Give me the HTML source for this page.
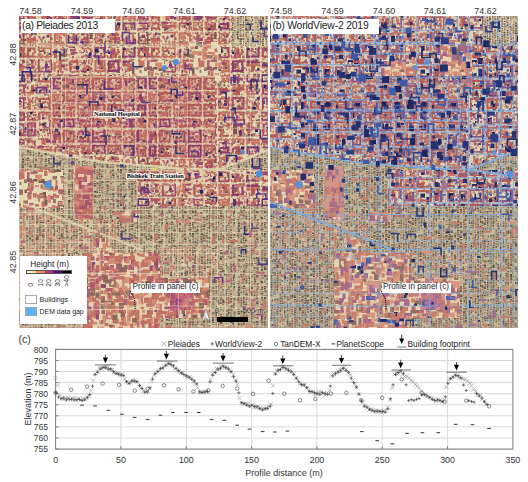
<!DOCTYPE html>
<html><head><meta charset="utf-8"><style>
html,body{margin:0;padding:0;background:#fff;}
body{width:528px;height:482px;position:relative;overflow:hidden;font-family:'Liberation Sans', sans-serif;}
</style></head><body>
<svg width="528" height="20" style="position:absolute;left:0;top:0"><g font-family="'Liberation Sans', sans-serif" font-size="9" fill="#333" text-anchor="middle">
<text x="30.5" y="13.8">74.58</text>
<text x="281.0" y="13.8">74.58</text>
<text x="82" y="13.8">74.59</text>
<text x="332.5" y="13.8">74.59</text>
<text x="133.5" y="13.8">74.60</text>
<text x="384.0" y="13.8">74.60</text>
<text x="184.5" y="13.8">74.61</text>
<text x="435.0" y="13.8">74.61</text>
<text x="235" y="13.8">74.62</text>
<text x="485.5" y="13.8">74.62</text>
</g></svg>
<svg width="20" height="330" style="position:absolute;left:0;top:0"><g font-family="'Liberation Sans', sans-serif" font-size="9" fill="#333" text-anchor="middle">
<text transform="translate(16.3,54.5) rotate(-90)">42.88</text>
<text transform="translate(16.3,124) rotate(-90)">42.87</text>
<text transform="translate(16.3,192.5) rotate(-90)">42.86</text>
<text transform="translate(16.3,262) rotate(-90)">42.85</text>
</g></svg>
<div style="position:absolute;left:19px;top:16px;width:248.5px;height:311.5px;background:#c9a38f;overflow:hidden"><svg width="248.5" height="311.5" style="display:block"><defs><pattern id="aU" width="124" height="124" patternUnits="userSpaceOnUse" x="7" y="5"><rect width="124" height="124" fill="#decdac"/><path transform="scale(.5)" fill="#b9625a" d="M-3 1h5v4h-5zM245 1h5v4h-5zM3 -1h4v4h-4zM3 247h4v4h-4zM16 -2h6v5h-6zM16 246h6v5h-6zM29 -1h5v4h-5zM29 247h5v4h-5zM42 1h4v3h-4zM62 -1h4v5h-4zM62 247h4v5h-4zM72 -2h5v4h-5zM72 246h5v4h-5zM96 -2h5v3h-5zM96 246h5v3h-5zM104 -2h3v4h-3zM104 246h3v4h-3zM110 0h4v4h-4zM121 3h3v3h-3zM123 2h5v4h-5zM160 -1h5v4h-5zM160 247h5v4h-5zM187 3h3v5h-3zM237 -2h3v5h-3zM237 246h3v5h-3zM25 6h4v3h-4zM46 4h4v3h-4zM51 7h4v5h-4zM90 7h3v4h-3zM102 6h4v4h-4zM157 7h4v4h-4zM194 6h3v4h-3zM87 13h5v5h-5zM97 10h5v5h-5zM119 11h3v3h-3zM135 12h3v5h-3zM174 12h3v5h-3zM184 8h3v5h-3zM-5 9h5v3h-5zM243 9h5v3h-5zM41 17h4v4h-4zM82 16h6v4h-6zM91 14h4v3h-4zM202 16h6v5h-6zM222 15h5v6h-5zM234 18h5v5h-5zM239 14h4v5h-4zM31 20h5v5h-5zM68 22h4v5h-4zM73 24h4v3h-4zM84 22h3v4h-3zM93 21h3v3h-3zM136 19h4v5h-4zM176 23h4v4h-4zM180 23h3v3h-3zM-1 26h3v3h-3zM247 26h3v3h-3zM7 28h5v3h-5zM74 27h5v4h-5zM77 26h4v3h-4zM94 26h3v4h-3zM142 26h3v3h-3zM190 28h4v5h-4zM240 26h4v5h-4zM242 25h5v3h-5zM14 31h5v3h-5zM24 30h5v5h-5zM61 32h3v5h-3zM85 31h5v4h-5zM105 30h4v4h-4zM116 33h5v4h-5zM124 33h5v3h-5zM151 31h4v3h-4zM183 34h3v4h-3zM189 29h5v5h-5zM198 31h3v3h-3zM201 32h3v3h-3zM213 31h4v4h-4zM225 33h3v5h-3zM7 39h4v3h-4zM16 36h4v4h-4zM19 37h5v5h-5zM28 35h3v4h-3zM99 34h3v5h-3zM117 34h4v4h-4zM151 39h3v5h-3zM2 40h4v4h-4zM13 43h3v4h-3zM17 43h3v5h-3zM44 40h4v5h-4zM92 41h5v5h-5zM120 45h5v3h-5zM132 40h4v3h-4zM139 41h4v5h-4zM226 44h3v5h-3zM11 47h4v4h-4zM39 48h3v4h-3zM53 49h3v3h-3zM57 47h5v3h-5zM67 48h4v3h-4zM72 48h3v5h-3zM77 46h4v5h-4zM87 49h6v5h-6zM106 48h5v5h-5zM178 49h4v5h-4zM188 47h3v3h-3zM204 47h5v5h-5zM227 50h3v3h-3zM30 49h3v5h-3zM73 52h3v3h-3zM81 54h3v4h-3zM84 50h3v4h-3zM90 49h5v5h-5zM122 52h4v4h-4zM221 52h3v5h-3zM231 50h5v3h-5zM2 59h5v4h-5zM16 59h4v6h-4zM23 55h3v5h-3zM31 58h5v3h-5zM143 59h4v5h-4zM153 55h3v5h-3zM172 60h5v3h-5zM183 60h5v4h-5zM203 56h5v3h-5zM12 63h4v5h-4zM120 60h3v4h-3zM160 61h3v3h-3zM177 64h3v4h-3zM180 63h5v5h-5zM211 65h4v3h-4zM241 62h3v4h-3zM243 63h3v5h-3zM25 68h4v5h-4zM40 67h5v5h-5zM84 67h3v4h-3zM115 68h4v3h-4zM128 69h4v3h-4zM147 68h5v5h-5zM154 69h3v5h-3zM159 68h5v4h-5zM192 66h4v4h-4zM205 66h4v5h-4zM221 68h6v3h-6zM6 73h3v3h-3zM19 70h5v5h-5zM40 73h6v3h-6zM48 74h3v6h-3zM60 74h3v3h-3zM66 71h5v4h-5zM110 71h5v4h-5zM120 73h3v4h-3zM140 74h4v3h-4zM145 75h5v5h-5zM151 71h4v5h-4zM162 70h3v5h-3zM209 73h3v5h-3zM225 74h4v4h-4zM43 79h5v3h-5zM65 76h3v6h-3zM68 77h5v5h-5zM75 77h3v4h-3zM95 79h5v5h-5zM99 77h5v5h-5zM119 78h3v5h-3zM149 79h5v5h-5zM156 80h3v3h-3zM170 78h5v4h-5zM177 76h5v4h-5zM187 79h5v4h-5zM195 79h3v3h-3zM204 78h3v5h-3zM221 79h4v5h-4zM55 82h4v6h-4zM111 82h5v5h-5zM124 80h3v6h-3zM193 83h4v6h-4zM212 83h4v5h-4zM240 81h3v5h-3zM3 90h5v4h-5zM36 90h4v4h-4zM55 88h4v5h-4zM97 89h3v3h-3zM146 89h4v3h-4zM150 88h3v3h-3zM184 91h4v4h-4zM211 87h3v3h-3zM-3 90h4v4h-4zM245 90h4v4h-4zM7 96h3v3h-3zM18 95h5v3h-5zM21 92h3v3h-3zM43 96h4v4h-4zM56 93h4v3h-4zM87 93h5v4h-5zM121 95h4v5h-4zM168 93h4v4h-4zM46 100h4v5h-4zM97 99h4v4h-4zM107 97h4v4h-4zM133 98h4v4h-4zM150 97h4v5h-4zM170 98h4v4h-4zM178 97h5v4h-5zM198 99h5v3h-5zM210 98h5v3h-5zM224 101h4v3h-4zM229 98h4v4h-4zM237 100h4v5h-4zM18 105h5v5h-5zM26 105h4v5h-4zM46 102h4v6h-4zM52 105h5v3h-5zM71 104h4v4h-4zM130 104h3v4h-3zM142 101h5v5h-5zM148 103h3v5h-3zM157 104h5v4h-5zM185 106h3v3h-3zM217 106h3v3h-3zM224 105h4v5h-4zM1 110h5v4h-5zM6 107h5v4h-5zM19 107h4v4h-4zM83 110h4v5h-4zM178 112h4v4h-4zM206 107h5v5h-5zM229 111h5v4h-5zM37 117h4v4h-4zM55 112h5v5h-5zM67 112h4v4h-4zM74 113h4v5h-4zM114 112h4v3h-4zM146 113h3v6h-3zM164 115h4v4h-4zM190 113h6v3h-6zM209 115h3v5h-3zM20 119h3v6h-3zM94 118h3v4h-3zM175 121h4v3h-4zM234 121h5v5h-5zM27 123h4v5h-4zM67 122h3v5h-3zM79 125h5v4h-5zM96 122h4v5h-4zM115 122h5v5h-5zM131 123h3v4h-3zM169 125h4v4h-4zM183 127h5v4h-5zM201 125h5v5h-5zM209 127h5v3h-5zM10 129h5v5h-5zM15 132h5v4h-5zM21 128h4v4h-4zM55 131h5v3h-5zM61 129h4v4h-4zM89 130h4v4h-4zM92 127h6v5h-6zM99 129h4v3h-4zM155 127h4v5h-4zM167 129h4v5h-4zM172 132h3v4h-3zM48 134h5v3h-5zM84 135h5v3h-5zM121 137h6v3h-6zM173 136h3v5h-3zM192 134h4v4h-4zM225 134h3v5h-3zM234 137h3v5h-3zM237 137h4v4h-4zM242 136h4v3h-4zM11 139h4v4h-4zM58 141h6v3h-6zM87 142h3v4h-3zM95 138h6v3h-6zM203 139h5v4h-5zM209 141h5v4h-5zM216 138h4v4h-4zM224 141h5v5h-5zM238 142h4v4h-4zM2 147h5v4h-5zM27 143h4v3h-4zM31 143h3v3h-3zM42 146h4v3h-4zM119 145h4v3h-4zM150 144h3v3h-3zM176 145h3v4h-3zM244 146h4v4h-4zM44 149h3v5h-3zM49 152h4v3h-4zM67 148h4v5h-4zM78 151h5v5h-5zM93 153h4v3h-4zM144 150h5v5h-5zM156 151h4v6h-4zM198 150h5v4h-5zM217 149h3v5h-3zM229 149h4v5h-4zM243 152h5v5h-5zM11 157h3v5h-3zM18 155h5v4h-5zM20 154h4v5h-4zM32 153h5v4h-5zM74 157h4v3h-4zM115 154h5v5h-5zM126 155h5v3h-5zM134 155h5v4h-5zM152 157h4v6h-4zM169 153h3v5h-3zM177 156h4v4h-4zM180 156h3v3h-3zM199 157h4v4h-4zM-3 155h5v4h-5zM245 155h5v4h-5zM17 159h3v5h-3zM21 163h4v3h-4zM27 161h3v4h-3zM41 161h4v4h-4zM47 162h4v4h-4zM64 160h4v4h-4zM67 158h3v5h-3zM72 159h4v3h-4zM83 161h4v3h-4zM108 163h4v4h-4zM142 163h3v4h-3zM150 161h5v3h-5zM165 161h3v4h-3zM224 160h6v5h-6zM-2 162h4v3h-4zM246 162h4v3h-4zM13 168h4v3h-4zM43 164h3v5h-3zM51 164h3v3h-3zM96 168h5v3h-5zM106 165h6v3h-6zM140 165h5v4h-5zM146 166h5v4h-5zM149 165h3v5h-3zM186 165h4v3h-4zM204 164h4v3h-4zM0 170h5v5h-5zM248 170h5v5h-5zM5 168h3v5h-3zM16 172h4v4h-4zM52 170h4v4h-4zM57 170h3v5h-3zM87 174h4v3h-4zM108 173h5v3h-5zM121 169h4v5h-4zM154 172h4v4h-4zM205 169h4v4h-4zM232 171h5v3h-5zM13 177h3v4h-3zM20 173h5v5h-5zM76 176h5v3h-5zM87 177h3v4h-3zM100 174h5v5h-5zM126 175h3v5h-3zM164 177h4v5h-4zM204 174h3v5h-3zM217 174h5v5h-5zM222 176h5v4h-5zM235 177h3v4h-3zM40 183h5v5h-5zM55 182h3v4h-3zM56 181h4v4h-4zM158 180h3v5h-3zM166 180h5v4h-5zM193 179h5v4h-5zM195 181h5v4h-5zM209 181h5v4h-5zM230 183h5v3h-5zM32 186h4v5h-4zM45 188h4v5h-4zM129 187h5v6h-5zM154 186h3v5h-3zM217 188h5v5h-5zM3 193h3v5h-3zM11 193h5v4h-5zM21 189h6v5h-6zM32 192h5v3h-5zM38 194h4v3h-4zM49 191h3v3h-3zM115 192h3v3h-3zM121 190h5v5h-5zM178 192h5v3h-5zM204 191h4v3h-4zM225 189h5v4h-5zM233 193h3v3h-3zM239 194h3v3h-3zM-2 190h4v4h-4zM246 190h4v4h-4zM12 199h4v3h-4zM15 199h5v5h-5zM45 199h3v4h-3zM64 196h4v4h-4zM69 195h3v4h-3zM113 198h3v3h-3zM124 199h5v5h-5zM143 196h5v5h-5zM165 196h4v6h-4zM175 196h4v6h-4zM233 195h5v5h-5zM58 203h3v3h-3zM63 204h3v3h-3zM67 201h6v3h-6zM80 203h3v5h-3zM81 205h4v4h-4zM95 202h5v5h-5zM97 201h3v3h-3zM102 201h3v4h-3zM110 204h3v3h-3zM151 201h3v3h-3zM200 202h5v4h-5zM231 202h4v4h-4zM235 204h5v3h-5zM7 207h5v4h-5zM10 208h4v5h-4zM13 208h5v4h-5zM151 207h4v5h-4zM156 207h5v3h-5zM160 206h4v3h-4zM167 204h4v6h-4zM9 211h4v5h-4zM35 212h4v5h-4zM42 214h3v3h-3zM48 209h3v5h-3zM67 215h4v3h-4zM93 211h5v3h-5zM175 213h3v4h-3zM184 213h3v5h-3zM202 211h5v4h-5zM204 212h5v4h-5zM8 215h4v5h-4zM36 216h4v4h-4zM85 219h3v4h-3zM101 215h4v5h-4zM119 215h3v6h-3zM123 217h4v3h-4zM135 217h5v3h-5zM185 218h3v6h-3zM197 216h5v4h-5zM210 215h4v4h-4zM223 217h3v4h-3zM57 222h3v4h-3zM112 224h5v5h-5zM140 224h5v5h-5zM153 225h3v4h-3zM178 224h3v4h-3zM236 223h3v4h-3zM4 228h4v4h-4zM18 225h5v5h-5zM23 229h4v3h-4zM29 229h5v5h-5zM48 226h3v3h-3zM54 229h3v5h-3zM104 227h4v3h-4zM110 226h3v4h-3zM155 227h3v4h-3zM175 229h5v4h-5zM207 227h3v4h-3zM217 228h4v3h-4zM223 229h3v5h-3zM24 234h3v4h-3zM37 233h4v5h-4zM41 233h4v4h-4zM62 230h3v4h-3zM111 235h5v5h-5zM122 233h4v3h-4zM137 235h6v3h-6zM140 234h4v4h-4zM192 233h5v3h-5zM221 234h3v5h-3zM40 237h5v4h-5zM72 240h4v5h-4zM77 241h5v3h-5zM96 236h3v6h-3zM155 238h4v3h-4zM184 240h3v4h-3zM0 -3h5v3h-5zM0 245h5v3h-5zM248 -3h5v3h-5zM248 245h5v3h-5zM36 244h3v4h-3zM73 241h5v5h-5zM97 241h3v4h-3zM180 244h4v3h-4zM184 -4h5v4h-5zM184 244h5v4h-5zM193 242h3v5h-3zM204 -5h5v5h-5zM204 243h5v5h-5zM226 -2h5v4h-5zM226 246h5v4h-5z"/><path transform="scale(.5)" fill="#694b48" d="M10 1h3v3h-3zM22 2h5v4h-5zM193 -1h5v4h-5zM193 247h5v4h-5zM208 -1h3v3h-3zM208 247h3v3h-3zM137 7h4v5h-4zM24 10h4v4h-4zM53 13h4v3h-4zM82 11h3v5h-3zM127 9h3v5h-3zM141 11h3v3h-3zM28 16h4v5h-4zM100 17h3v3h-3zM103 18h3v4h-3zM140 16h4v4h-4zM129 22h4v4h-4zM93 31h5v4h-5zM166 39h4v4h-4zM-4 36h5v4h-5zM244 36h5v4h-5zM101 44h4v5h-4zM157 40h5v3h-5zM183 42h3v5h-3zM18 49h5v3h-5zM80 48h5v4h-5zM118 45h5v4h-5zM191 47h4v5h-4zM24 50h3v4h-3zM93 50h5v4h-5zM28 59h5v3h-5zM79 58h3v5h-3zM162 55h4v5h-4zM36 61h3v5h-3zM-2 68h4v5h-4zM246 68h4v5h-4zM118 67h4v3h-4zM115 78h3v5h-3zM10 82h5v3h-5zM85 83h3v4h-3zM226 82h5v5h-5zM44 90h3v4h-3zM74 89h4v4h-4zM121 89h5v5h-5zM63 98h3v5h-3zM183 99h5v5h-5zM66 107h5v3h-5zM48 108h3v5h-3zM59 109h4v5h-4zM19 115h4v5h-4zM87 112h3v4h-3zM159 115h4v4h-4zM238 112h3v5h-3zM29 118h3v3h-3zM127 117h4v4h-4zM154 122h4v3h-4zM185 121h5v4h-5zM219 117h4v4h-4zM19 125h5v5h-5zM87 124h5v3h-5zM165 125h5v3h-5zM214 126h3v3h-3zM221 123h3v4h-3zM-2 124h4v5h-4zM246 124h4v5h-4zM37 129h3v4h-3zM122 130h4v5h-4zM131 128h4v5h-4zM33 134h3v4h-3zM73 142h4v4h-4zM107 141h3v3h-3zM83 144h4v5h-4zM171 147h4v5h-4zM205 144h5v3h-5zM100 150h5v5h-5zM106 149h3v4h-3zM25 156h5v6h-5zM53 158h3v4h-3zM121 161h3v5h-3zM155 159h3v3h-3zM173 158h5v5h-5zM232 159h5v3h-5zM2 165h4v3h-4zM159 166h4v5h-4zM98 172h3v5h-3zM105 174h5v4h-5zM117 173h5v5h-5zM221 180h3v5h-3zM24 184h3v4h-3zM56 185h4v5h-4zM135 185h3v3h-3zM148 187h4v5h-4zM179 185h5v4h-5zM185 185h4v4h-4zM54 191h4v5h-4zM222 194h4v3h-4zM102 198h4v4h-4zM9 202h4v3h-4zM46 200h4v5h-4zM126 203h4v4h-4zM197 202h3v4h-3zM123 206h3v5h-3zM119 211h3v4h-3zM136 214h5v5h-5zM139 215h5v3h-5zM28 216h4v4h-4zM41 217h3v4h-3zM146 221h3v4h-3zM187 224h4v5h-4zM219 223h3v4h-3zM122 229h3v5h-3zM7 232h3v3h-3zM97 239h3v4h-3zM133 237h4v5h-4zM151 239h3v5h-3zM194 239h3v5h-3zM55 -5h4v5h-4zM55 243h4v5h-4zM95 242h5v3h-5z"/><path transform="scale(.5)" fill="#ac556e" d="M25 0h5v5h-5zM38 2h4v4h-4zM50 2h4v3h-4zM69 2h5v5h-5zM114 -2h3v5h-3zM114 246h3v5h-3zM146 -1h5v5h-5zM146 247h5v5h-5zM153 2h6v5h-6zM3 8h3v3h-3zM116 4h3v4h-3zM119 7h5v3h-5zM177 7h5v5h-5zM232 7h3v5h-3zM1 11h3v4h-3zM16 13h4v5h-4zM24 10h3v4h-3zM57 8h4v5h-4zM71 13h4v4h-4zM177 9h4v3h-4zM203 11h3v4h-3zM19 16h3v5h-3zM69 19h5v3h-5zM89 17h5v3h-5zM181 16h3v4h-3zM210 15h3v3h-3zM0 23h3v4h-3zM44 22h4v3h-4zM48 20h3v4h-3zM52 19h5v5h-5zM118 22h3v3h-3zM208 24h5v3h-5zM82 28h4v3h-4zM114 25h5v3h-5zM132 27h3v3h-3zM232 27h5v4h-5zM141 31h3v4h-3zM162 29h5v4h-5zM163 30h4v5h-4zM82 35h4v5h-4zM93 39h4v4h-4zM177 36h5v3h-5zM182 39h5v4h-5zM195 39h4v3h-4zM204 38h6v3h-6zM206 38h3v5h-3zM8 39h3v6h-3zM21 45h3v3h-3zM59 40h4v4h-4zM69 41h4v4h-4zM111 40h4v3h-4zM117 43h3v4h-3zM194 44h4v3h-4zM204 39h5v6h-5zM217 41h5v4h-5zM242 44h4v6h-4zM5 48h5v5h-5zM126 47h5v5h-5zM135 49h4v4h-4zM234 46h3v5h-3zM239 45h3v3h-3zM-5 45h5v4h-5zM243 45h5v4h-5zM35 50h3v3h-3zM111 50h4v4h-4zM193 53h5v4h-5zM202 54h4v4h-4zM35 59h4v4h-4zM57 59h5v4h-5zM95 58h3v5h-3zM120 58h4v5h-4zM214 56h3v3h-3zM53 63h4v5h-4zM55 60h4v5h-4zM113 60h3v4h-3zM192 61h3v4h-3zM10 69h4v3h-4zM91 70h5v4h-5zM124 67h3v5h-3zM137 67h3v3h-3zM143 70h3v4h-3zM228 70h3v5h-3zM243 69h3v6h-3zM3 73h4v4h-4zM28 72h5v3h-5zM228 72h4v3h-4zM241 72h3v5h-3zM22 80h4v3h-4zM78 76h4v5h-4zM131 78h5v5h-5zM241 79h5v5h-5zM3 86h3v3h-3zM49 84h5v5h-5zM88 86h5v3h-5zM93 82h3v3h-3zM106 81h4v3h-4zM116 82h4v5h-4zM129 84h3v5h-3zM161 84h3v5h-3zM196 81h4v5h-4zM0 87h3v4h-3zM69 90h4v5h-4zM84 86h4v3h-4zM107 86h3v5h-3zM124 90h5v5h-5zM142 91h3v4h-3zM167 90h5v3h-5zM204 89h5v3h-5zM2 95h3v3h-3zM75 94h5v3h-5zM77 94h5v4h-5zM146 93h3v4h-3zM186 92h6v5h-6zM191 95h3v5h-3zM2 100h3v5h-3zM25 97h4v4h-4zM70 100h5v5h-5zM93 100h4v5h-4zM103 98h5v5h-5zM131 96h5v5h-5zM161 98h4v6h-4zM201 97h4v5h-4zM220 98h3v3h-3zM0 102h6v6h-6zM248 102h6v6h-6zM34 104h4v4h-4zM35 103h3v3h-3zM63 102h3v5h-3zM83 106h6v4h-6zM161 104h6v4h-6zM-3 101h5v5h-5zM245 101h5v5h-5zM35 111h4v4h-4zM63 110h5v4h-5zM77 106h4v6h-4zM91 107h5v3h-5zM110 110h4v3h-4zM157 108h3v5h-3zM216 109h4v5h-4zM40 113h3v4h-3zM47 115h4v3h-4zM61 115h3v5h-3zM81 113h5v4h-5zM2 119h5v5h-5zM40 118h3v5h-3zM47 122h4v4h-4zM55 118h5v4h-5zM140 119h5v5h-5zM149 118h3v4h-3zM162 118h3v3h-3zM196 120h3v3h-3zM222 120h4v3h-4zM1 123h5v3h-5zM58 127h4v3h-4zM111 123h5v4h-5zM124 126h5v3h-5zM141 123h3v4h-3zM160 126h5v4h-5zM197 123h5v4h-5zM42 129h5v3h-5zM108 131h4v4h-4zM125 130h5v3h-5zM180 131h3v3h-3zM227 129h5v3h-5zM-4 129h5v5h-5zM244 129h5v5h-5zM52 134h5v5h-5zM95 134h4v3h-4zM145 137h3v5h-3zM158 136h4v5h-4zM159 137h3v3h-3zM168 138h5v3h-5zM186 135h4v4h-4zM198 132h3v5h-3zM207 135h5v4h-5zM210 136h5v4h-5zM33 141h5v5h-5zM133 140h4v3h-4zM145 141h5v5h-5zM196 140h3v3h-3zM-5 142h5v3h-5zM243 142h5v3h-5zM22 143h4v4h-4zM88 146h3v3h-3zM138 144h5v5h-5zM201 143h3v6h-3zM228 144h6v4h-6zM12 152h3v5h-3zM163 148h4v5h-4zM193 149h6v3h-6zM221 147h5v5h-5zM45 157h4v3h-4zM57 157h5v3h-5zM94 154h5v5h-5zM120 155h5v4h-5zM130 154h5v3h-5zM187 157h3v5h-3zM193 156h4v5h-4zM34 162h3v3h-3zM86 159h5v5h-5zM189 163h4v3h-4zM203 161h3v4h-3zM4 164h3v4h-3zM29 165h5v4h-5zM123 165h3v3h-3zM207 168h3v4h-3zM212 167h5v5h-5zM232 163h5v5h-5zM37 170h4v3h-4zM128 172h4v5h-4zM189 174h4v3h-4zM214 173h4v4h-4zM224 170h3v4h-3zM34 177h5v3h-5zM70 175h5v4h-5zM190 177h3v4h-3zM213 179h3v4h-3zM12 180h3v3h-3zM32 179h5v5h-5zM49 180h3v5h-3zM79 180h4v5h-4zM88 181h3v3h-3zM110 179h4v5h-4zM139 182h5v5h-5zM145 179h4v5h-4zM188 182h5v4h-5zM14 186h3v4h-3zM50 184h5v5h-5zM87 188h3v3h-3zM107 184h4v5h-4zM222 187h4v5h-4zM83 192h5v3h-5zM99 193h3v3h-3zM146 195h5v3h-5zM158 191h4v3h-4zM168 195h3v3h-3zM172 193h4v3h-4zM45 197h3v3h-3zM152 196h5v3h-5zM230 199h5v4h-5zM237 198h3v4h-3zM26 200h3v4h-3zM112 204h4v4h-4zM118 203h4v4h-4zM131 203h4v5h-4zM134 200h3v4h-3zM162 201h3v5h-3zM216 202h5v5h-5zM26 205h4v5h-4zM117 209h4v4h-4zM118 208h4v4h-4zM0 212h4v3h-4zM17 211h4v5h-4zM49 211h5v5h-5zM113 213h4v5h-4zM155 211h5v5h-5zM217 215h5v3h-5zM232 212h5v3h-5zM18 218h5v4h-5zM74 217h5v3h-5zM127 216h4v4h-4zM201 216h3v3h-3zM-3 215h3v4h-3zM245 215h3v4h-3zM42 224h4v4h-4zM119 223h4v5h-4zM182 224h3v5h-3zM224 221h4v4h-4zM-4 220h5v4h-5zM244 220h5v4h-5zM56 227h5v4h-5zM69 228h5v4h-5zM160 227h5v4h-5zM184 229h5v3h-5zM242 226h6v5h-6zM30 232h3v3h-3zM59 235h4v3h-4zM75 233h4v5h-4zM83 231h4v5h-4zM226 232h5v6h-5zM49 240h5v5h-5zM57 236h4v5h-4zM84 237h3v5h-3zM89 236h4v5h-4zM104 239h4v3h-4zM115 238h4v5h-4zM177 238h3v3h-3zM224 238h5v5h-5zM228 239h4v4h-4zM64 241h3v5h-3zM77 243h3v4h-3zM162 -5h4v5h-4zM162 243h4v5h-4zM166 243h4v3h-4z"/><path transform="scale(.5)" fill="#e4d7b4" d="M58 2h3v4h-3zM141 -2h3v6h-3zM141 246h3v6h-3zM149 2h3v5h-3zM167 0h4v4h-4zM167 248h4v4h-4zM182 3h5v4h-5zM195 -1h5v4h-5zM195 247h5v4h-5zM232 3h3v3h-3zM11 4h3v5h-3zM34 5h5v5h-5zM36 4h4v5h-4zM123 5h4v5h-4zM131 3h3v4h-3zM141 6h4v5h-4zM221 6h5v5h-5zM10 8h3v4h-3zM69 12h3v3h-3zM194 12h4v4h-4zM213 10h6v3h-6zM226 13h4v4h-4zM51 14h6v4h-6zM108 18h4v5h-4zM132 15h5v5h-5zM219 18h3v4h-3zM20 18h6v5h-6zM56 22h5v5h-5zM79 19h3v5h-3zM161 23h4v3h-4zM187 20h3v6h-3zM221 23h6v3h-6zM242 21h4v4h-4zM25 23h5v6h-5zM30 24h5v5h-5zM37 26h4v5h-4zM136 28h5v4h-5zM158 25h5v4h-5zM172 24h4v4h-4zM200 25h3v4h-3zM209 26h5v4h-5zM224 28h5v4h-5zM228 25h4v3h-4zM3 33h5v3h-5zM12 33h3v3h-3zM21 32h4v5h-4zM42 32h5v4h-5zM71 30h5v3h-5zM111 30h4v5h-4zM133 32h3v5h-3zM175 29h4v4h-4zM187 31h3v5h-3zM219 33h3v3h-3zM231 31h5v3h-5zM242 30h4v4h-4zM48 34h3v4h-3zM50 36h5v4h-5zM63 38h4v3h-4zM72 37h4v3h-4zM76 35h3v4h-3zM222 40h4v3h-4zM32 40h4v4h-4zM79 44h5v4h-5zM146 41h4v3h-4zM213 40h4v5h-4zM22 45h3v6h-3zM33 50h4v3h-4zM184 46h3v5h-3zM198 49h3v4h-3zM5 49h3v5h-3zM9 52h4v3h-4zM115 53h5v4h-5zM131 54h4v5h-4zM161 54h4v4h-4zM177 50h4v4h-4zM188 51h5v5h-5zM10 55h3v5h-3zM88 58h5v4h-5zM99 56h5v5h-5zM112 58h5v4h-5zM122 56h6v5h-6zM157 55h5v5h-5zM192 58h4v5h-4zM216 59h3v4h-3zM146 63h3v5h-3zM18 65h5v5h-5zM71 68h5v4h-5zM88 68h4v4h-4zM97 69h6v3h-6zM145 70h4v4h-4zM170 65h4v5h-4zM175 70h4v5h-4zM182 69h5v3h-5zM199 68h3v5h-3zM12 74h3v5h-3zM18 75h5v4h-5zM50 74h5v5h-5zM112 74h3v4h-3zM175 73h3v5h-3zM216 74h4v4h-4zM244 73h4v3h-4zM51 80h3v5h-3zM88 79h5v3h-5zM144 76h4v5h-4zM158 81h4v3h-4zM167 78h4v5h-4zM198 80h4v4h-4zM219 75h5v6h-5zM25 85h5v4h-5zM140 85h4v4h-4zM147 83h4v3h-4zM170 83h4v4h-4zM185 83h4v5h-4zM206 82h4v3h-4zM129 89h5v4h-5zM177 87h5v4h-5zM187 86h4v5h-4zM227 88h5v5h-5zM36 93h3v3h-3zM100 95h5v5h-5zM103 95h5v4h-5zM108 91h4v5h-4zM130 96h3v4h-3zM133 94h5v3h-5zM201 95h4v3h-4zM224 94h4v4h-4zM55 100h5v3h-5zM66 97h4v4h-4zM85 100h3v3h-3zM87 100h5v4h-5zM139 96h4v5h-4zM186 96h5v5h-5zM243 101h3v3h-3zM91 104h4v5h-4zM126 106h5v4h-5zM140 105h5v5h-5zM166 103h3v4h-3zM175 106h4v5h-4zM200 105h4v3h-4zM227 105h5v3h-5zM29 108h4v5h-4zM29 111h4v3h-4zM72 112h4v3h-4zM95 108h5v5h-5zM160 106h5v5h-5zM231 110h5v3h-5zM25 113h6v4h-6zM53 117h5v3h-5zM99 114h3v5h-3zM110 114h4v4h-4zM154 116h4v5h-4zM12 120h3v5h-3zM29 120h4v4h-4zM37 120h4v3h-4zM116 121h5v4h-5zM117 117h4v4h-4zM128 119h3v4h-3zM135 120h3v4h-3zM182 121h4v5h-4zM227 121h3v3h-3zM31 126h4v5h-4zM106 122h3v4h-3zM152 122h4v5h-4zM157 125h6v4h-6zM217 123h4v5h-4zM46 132h5v3h-5zM133 132h5v4h-5zM152 130h3v3h-3zM161 130h4v5h-4zM217 130h6v5h-6zM241 129h3v4h-3zM66 133h3v4h-3zM107 135h3v4h-3zM113 138h5v3h-5zM203 137h4v3h-4zM115 142h5v5h-5zM121 139h5v4h-5zM143 142h4v5h-4zM149 139h3v5h-3zM154 138h4v4h-4zM164 142h4v4h-4zM209 141h4v3h-4zM229 140h5v3h-5zM16 144h3v4h-3zM52 146h5v3h-5zM61 143h4v5h-4zM76 147h3v4h-3zM99 145h3v4h-3zM125 144h4v4h-4zM129 145h5v4h-5zM211 144h3v4h-3zM54 149h3v4h-3zM89 152h3v5h-3zM132 149h4v5h-4zM210 150h5v5h-5zM1 153h6v5h-6zM69 154h4v4h-4zM139 156h5v4h-5zM145 153h5v5h-5zM201 154h3v5h-3zM208 155h5v3h-5zM228 153h4v5h-4zM130 159h5v4h-5zM160 159h5v6h-5zM63 169h5v3h-5zM118 164h3v5h-3zM193 168h5v5h-5zM242 166h3v4h-3zM23 172h4v4h-4zM32 173h3v5h-3zM41 168h4v6h-4zM81 174h6v3h-6zM169 169h5v3h-5zM218 172h5v4h-5zM0 176h5v3h-5zM248 176h5v3h-5zM4 174h3v3h-3zM61 179h5v3h-5zM75 176h3v5h-3zM81 175h5v5h-5zM114 176h3v4h-3zM141 174h3v4h-3zM160 177h5v5h-5zM227 174h4v4h-4zM21 184h3v3h-3zM97 183h4v4h-4zM131 181h5v5h-5zM170 179h3v5h-3zM182 181h3v5h-3zM95 187h3v3h-3zM104 186h3v5h-3zM199 184h4v4h-4zM229 184h4v5h-4zM59 194h3v4h-3zM124 190h6v3h-6zM129 194h3v3h-3zM152 194h4v3h-4zM180 189h3v5h-3zM191 193h5v4h-5zM208 190h5v3h-5zM29 199h4v3h-4zM39 195h4v5h-4zM72 196h4v4h-4zM95 194h4v5h-4zM97 199h5v5h-5zM111 198h3v5h-3zM132 196h3v4h-3zM160 197h5v3h-5zM194 197h4v4h-4zM-4 194h6v5h-6zM244 194h6v5h-6zM13 203h5v4h-5zM43 202h3v5h-3zM73 204h3v3h-3zM158 201h3v3h-3zM171 201h3v4h-3zM207 200h3v4h-3zM36 206h3v4h-3zM60 205h4v5h-4zM70 205h3v5h-3zM75 206h5v3h-5zM84 205h5v3h-5zM107 205h3v5h-3zM128 210h4v3h-4zM173 208h5v3h-5zM206 205h3v5h-3zM223 206h3v5h-3zM57 212h4v5h-4zM61 213h4v5h-4zM85 211h5v5h-5zM99 213h5v3h-5zM169 214h3v3h-3zM32 216h4v4h-4zM56 217h3v3h-3zM62 218h3v4h-3zM68 218h3v3h-3zM80 215h6v4h-6zM91 219h3v3h-3zM96 219h3v4h-3zM149 216h4v3h-4zM162 216h5v3h-5zM170 218h3v4h-3zM230 220h5v3h-5zM239 218h5v5h-5zM86 221h3v6h-3zM96 221h5v3h-5zM155 224h3v3h-3zM158 224h5v4h-5zM167 222h5v3h-5zM201 222h4v6h-4zM27 230h5v4h-5zM85 227h5v3h-5zM90 229h5v5h-5zM152 227h3v3h-3zM194 230h5v5h-5zM228 229h5v3h-5zM103 231h5v5h-5zM127 232h3v5h-3zM147 232h5v3h-5zM156 235h5v4h-5zM182 231h5v4h-5zM235 234h4v4h-4zM0 240h5v3h-5zM248 240h5v3h-5zM19 240h4v5h-4zM139 238h5v3h-5zM211 240h3v5h-3zM239 241h5v4h-5zM4 243h3v5h-3zM20 -3h3v3h-3zM20 245h3v3h-3zM25 -3h5v3h-5zM25 245h5v3h-5zM30 243h5v5h-5zM45 242h3v3h-3zM104 241h5v5h-5zM113 241h3v4h-3zM135 240h4v5h-4zM149 -2h6v3h-6zM149 246h6v3h-6zM174 243h4v3h-4zM174 241h3v5h-3zM195 -3h4v4h-4zM195 245h4v4h-4zM-3 241h5v6h-5zM245 241h5v6h-5z"/><path transform="scale(.5)" fill="#967a66" d="M78 0h4v4h-4zM78 248h4v4h-4zM83 -1h3v3h-3zM83 247h3v3h-3zM95 2h3v5h-3zM135 -1h5v4h-5zM135 247h5v4h-5zM216 -2h3v5h-3zM216 246h3v5h-3zM226 3h5v3h-5zM19 6h6v4h-6zM210 5h4v3h-4zM5 12h5v4h-5zM38 11h4v4h-4zM63 8h4v5h-4zM145 10h5v4h-5zM163 13h4v4h-4zM124 15h5v5h-5zM132 16h3v3h-3zM151 15h4v4h-4zM159 15h5v5h-5zM38 21h3v3h-3zM103 23h4v5h-4zM110 23h4v5h-4zM115 21h4v5h-4zM157 21h4v3h-4zM211 23h4v5h-4zM215 23h5v3h-5zM45 27h4v4h-4zM66 29h4v3h-4zM97 27h4v5h-4zM126 25h5v5h-5zM144 27h4v3h-4zM154 25h5v3h-5zM201 28h5v5h-5zM212 27h4v3h-4zM0 33h6v5h-6zM248 33h6v5h-6zM79 30h3v3h-3zM89 33h5v5h-5zM98 33h5v4h-5zM148 29h3v5h-3zM30 39h4v4h-4zM103 36h3v4h-3zM123 37h4v6h-4zM135 37h3v3h-3zM158 35h4v5h-4zM186 38h5v3h-5zM193 38h4v5h-4zM227 37h4v4h-4zM236 39h3v4h-3zM37 39h3v6h-3zM52 42h5v4h-5zM62 40h5v5h-5zM73 41h3v3h-3zM167 44h4v5h-4zM175 40h3v3h-3zM186 43h4v5h-4zM235 40h4v4h-4zM237 40h4v3h-4zM-1 45h5v4h-5zM247 45h5v4h-5zM44 49h4v3h-4zM47 48h5v4h-5zM101 46h3v3h-3zM172 47h6v3h-6zM211 46h3v3h-3zM14 54h4v5h-4zM68 55h5v3h-5zM126 54h3v4h-3zM135 55h5v3h-5zM164 50h4v4h-4zM182 50h3v4h-3zM241 52h5v3h-5zM72 56h5v4h-5zM106 60h5v4h-5zM136 59h5v3h-5zM140 57h3v3h-3zM168 56h4v5h-4zM206 60h4v3h-4zM232 55h5v5h-5zM241 55h5v5h-5zM26 64h4v4h-4zM42 62h3v3h-3zM67 63h5v5h-5zM90 62h3v4h-3zM98 62h5v3h-5zM109 62h4v3h-4zM128 59h4v5h-4zM154 60h4v5h-4zM170 63h3v5h-3zM22 66h5v3h-5zM66 66h4v3h-4zM184 69h6v5h-6zM205 66h4v5h-4zM81 74h5v5h-5zM127 72h5v5h-5zM195 71h5v6h-5zM0 79h5v6h-5zM248 79h5v6h-5zM7 76h5v4h-5zM38 79h4v5h-4zM82 76h4v3h-4zM140 76h4v4h-4zM5 85h5v4h-5zM100 80h3v5h-3zM148 83h5v6h-5zM174 81h4v5h-4zM14 90h4v5h-4zM154 89h5v3h-5zM163 92h3v3h-3zM196 86h3v3h-3zM25 92h4v6h-4zM31 92h5v4h-5zM95 91h5v5h-5zM158 95h4v4h-4zM197 95h3v4h-3zM215 93h3v5h-3zM215 95h4v3h-4zM236 94h3v5h-3zM10 99h3v4h-3zM15 98h5v6h-5zM20 100h5v6h-5zM43 99h3v5h-3zM146 99h4v4h-4zM231 97h5v3h-5zM44 105h5v4h-5zM89 101h5v4h-5zM133 104h4v5h-4zM173 103h4v5h-4zM180 102h5v3h-5zM197 103h4v5h-4zM213 103h4v5h-4zM239 103h5v3h-5zM12 111h3v5h-3zM68 107h5v3h-5zM102 107h5v5h-5zM130 108h3v4h-3zM225 106h5v4h-5zM239 109h5v5h-5zM241 111h4v5h-4zM32 113h5v5h-5zM78 117h3v3h-3zM125 112h5v5h-5zM135 113h4v5h-4zM173 115h3v5h-3zM198 112h3v3h-3zM202 113h5v3h-5zM223 117h3v3h-3zM-3 113h4v5h-4zM245 113h4v5h-4zM6 122h4v3h-4zM50 117h5v4h-5zM61 120h3v4h-3zM88 117h6v6h-6zM101 119h5v5h-5zM106 122h3v4h-3zM109 120h5v5h-5zM173 121h5v3h-5zM38 123h3v3h-3zM71 124h5v3h-5zM81 127h3v4h-3zM95 125h4v5h-4zM135 125h3v5h-3zM32 129h4v6h-4zM70 129h5v4h-5zM84 128h5v3h-5zM147 128h4v3h-4zM185 129h3v6h-3zM209 129h4v4h-4zM210 131h4v6h-4zM35 134h4v5h-4zM40 135h5v5h-5zM99 137h4v4h-4zM130 133h3v3h-3zM132 134h5v4h-5zM137 132h4v6h-4zM151 132h3v5h-3zM217 135h4v5h-4zM227 137h5v3h-5zM-2 141h4v4h-4zM246 141h4v4h-4zM6 142h5v5h-5zM42 141h4v3h-4zM64 137h3v5h-3zM129 140h5v3h-5zM45 147h3v4h-3zM68 145h5v4h-5zM110 144h5v4h-5zM133 145h5v4h-5zM163 147h3v4h-3zM182 146h3v3h-3zM117 153h4v4h-4zM121 150h4v5h-4zM142 150h4v3h-4zM180 150h5v4h-5zM205 149h4v5h-4zM6 158h3v3h-3zM77 154h5v3h-5zM99 154h5v3h-5zM157 158h5v3h-5zM210 156h4v4h-4zM225 155h4v4h-4zM232 156h4v4h-4zM12 160h3v5h-3zM35 160h5v4h-5zM134 163h4v4h-4zM190 159h3v3h-3zM216 164h4v3h-4zM18 165h5v5h-5zM22 166h5v5h-5zM26 164h3v3h-3zM80 164h5v3h-5zM84 169h5v3h-5zM157 164h5v4h-5zM174 168h4v4h-4zM182 164h5v5h-5zM124 170h3v3h-3zM144 169h3v4h-3zM226 171h3v3h-3zM-3 172h4v4h-4zM245 172h4v4h-4zM29 175h3v5h-3zM45 176h3v4h-3zM52 177h5v3h-5zM153 176h5v4h-5zM173 175h4v5h-4zM177 177h5v3h-5zM180 174h4v5h-4zM193 179h3v3h-3zM0 183h3v4h-3zM85 181h3v4h-3zM105 180h3v3h-3zM133 180h3v4h-3zM161 180h5v4h-5zM231 183h4v3h-4zM65 185h6v6h-6zM75 189h3v3h-3zM120 187h3v3h-3zM122 189h5v3h-5zM160 185h5v4h-5zM170 186h4v3h-4zM193 184h3v5h-3zM200 185h5v5h-5zM16 193h5v4h-5zM65 192h3v4h-3zM88 193h3v3h-3zM105 194h4v4h-4zM195 191h4v3h-4zM219 189h4v4h-4zM25 196h3v3h-3zM186 198h3v5h-3zM216 196h4v5h-4zM52 199h5v5h-5zM87 200h3v3h-3zM180 203h4v5h-4zM-3 202h3v3h-3zM245 202h3v3h-3zM112 210h3v3h-3zM141 205h4v3h-4zM145 207h5v4h-5zM191 207h4v4h-4zM202 207h3v3h-3zM227 208h3v4h-3zM233 205h5v4h-5zM104 215h3v4h-3zM144 211h3v3h-3zM153 215h3v3h-3zM188 213h3v4h-3zM190 213h4v3h-4zM196 215h3v4h-3zM215 211h5v4h-5zM228 213h3v4h-3zM238 214h3v5h-3zM-5 214h5v4h-5zM243 214h5v4h-5zM2 220h6v3h-6zM176 219h4v4h-4zM1 223h5v5h-5zM7 222h5v5h-5zM24 225h4v3h-4zM66 225h5v5h-5zM110 221h5v5h-5zM123 223h4v3h-4zM206 224h5v5h-5zM-1 226h5v4h-5zM247 226h5v4h-5zM79 228h5v4h-5zM123 228h4v4h-4zM132 226h4v5h-4zM141 231h5v3h-5zM145 229h3v4h-3zM191 228h4v4h-4zM10 232h3v3h-3zM67 232h4v3h-4zM91 230h4v5h-4zM115 234h5v4h-5zM150 232h3v4h-3zM159 235h3v3h-3zM172 232h4v6h-4zM200 234h5v3h-5zM-3 234h4v5h-4zM245 234h4v5h-4zM52 239h5v5h-5zM110 237h4v4h-4zM119 239h3v5h-3zM127 240h5v4h-5zM161 237h5v3h-5zM167 240h5v3h-5zM216 237h3v4h-3zM87 -3h5v4h-5zM87 245h5v4h-5zM122 241h4v4h-4zM131 -2h5v4h-5zM131 246h5v4h-5zM233 -4h3v5h-3zM233 244h3v5h-3z"/><path transform="scale(.5)" fill="#cd8069" d="M174 -1h6v5h-6zM174 247h6v5h-6zM214 -1h4v5h-4zM214 247h4v5h-4zM7 3h3v6h-3zM41 6h4v4h-4zM67 3h4v5h-4zM99 8h4v4h-4zM108 3h3v5h-3zM158 8h5v4h-5zM208 6h3v3h-3zM220 4h3v4h-3zM227 7h5v4h-5zM-2 4h4v4h-4zM246 4h4v4h-4zM48 12h5v4h-5zM76 11h5v5h-5zM115 9h5v5h-5zM195 8h5v4h-5zM10 15h4v4h-4zM30 16h4v3h-4zM34 18h5v4h-5zM75 17h5v5h-5zM184 15h5v4h-5zM228 17h3v3h-3zM63 21h3v3h-3zM101 22h3v5h-3zM123 20h4v4h-4zM147 19h5v5h-5zM194 22h3v5h-3zM196 19h5v5h-5zM229 20h5v3h-5zM43 27h5v4h-5zM55 24h3v5h-3zM56 27h6v5h-6zM62 27h4v3h-4zM104 24h3v4h-3zM121 26h4v5h-4zM175 27h4v3h-4zM45 30h4v3h-4zM59 30h6v3h-6zM66 31h4v4h-4zM115 31h4v5h-4zM172 32h3v4h-3zM237 31h3v4h-3zM1 39h4v4h-4zM66 38h5v3h-5zM111 35h5v3h-5zM115 38h6v3h-6zM144 35h4v5h-4zM162 38h4v4h-4zM233 39h4v5h-4zM45 40h4v4h-4zM102 42h4v5h-4zM137 43h4v3h-4zM162 44h5v3h-5zM170 41h5v4h-5zM197 42h4v5h-4zM202 41h3v3h-3zM222 39h4v5h-4zM128 46h4v3h-4zM141 50h3v3h-3zM146 45h3v4h-3zM202 46h6v5h-6zM-1 50h4v5h-4zM247 50h4v5h-4zM48 51h3v4h-3zM55 50h4v3h-4zM144 52h5v3h-5zM169 53h3v6h-3zM60 55h3v5h-3zM66 60h5v3h-5zM106 58h4v5h-4zM130 57h4v5h-4zM174 56h5v3h-5zM198 55h4v5h-4zM227 58h3v5h-3zM-2 64h5v5h-5zM246 64h5v5h-5zM79 62h3v4h-3zM82 65h4v4h-4zM134 61h5v6h-5zM165 61h4v3h-4zM200 63h5v3h-5zM216 61h5v4h-5zM234 62h5v4h-5zM30 67h5v5h-5zM49 67h5v3h-5zM61 69h4v3h-4zM29 76h3v3h-3zM38 72h3v4h-3zM73 74h5v4h-5zM92 74h3v4h-3zM99 73h3v5h-3zM103 71h4v3h-4zM135 72h5v3h-5zM164 71h5v5h-5zM18 79h4v5h-4zM46 81h4v4h-4zM60 79h3v6h-3zM106 77h3v5h-3zM106 78h5v4h-5zM124 76h5v4h-5zM133 78h4v5h-4zM182 76h6v4h-6zM206 76h5v3h-5zM236 76h3v4h-3zM17 84h5v5h-5zM54 86h4v3h-4zM76 85h3v5h-3zM182 83h3v5h-3zM201 85h4v3h-4zM221 81h3v4h-3zM22 87h3v5h-3zM24 88h5v4h-5zM60 89h5v4h-5zM86 88h4v5h-4zM92 90h4v4h-4zM115 88h3v4h-3zM225 91h5v4h-5zM234 88h3v3h-3zM10 92h5v4h-5zM52 94h5v5h-5zM62 92h5v3h-5zM85 92h6v5h-6zM154 91h4v5h-4zM175 93h5v5h-5zM240 92h5v4h-5zM5 100h3v4h-3zM30 96h3v5h-3zM55 98h3v3h-3zM79 97h6v3h-6zM126 100h4v5h-4zM157 100h5v3h-5zM4 103h3v4h-3zM18 105h3v4h-3zM101 103h4v4h-4zM103 104h6v4h-6zM112 102h3v5h-3zM195 103h3v3h-3zM15 110h6v3h-6zM135 109h4v4h-4zM142 110h3v3h-3zM145 111h3v4h-3zM152 110h5v5h-5zM171 111h3v3h-3zM188 109h3v4h-3zM194 110h5v5h-5zM196 111h5v4h-5zM211 110h6v4h-6zM1 113h5v3h-5zM104 113h3v4h-3zM131 111h5v5h-5zM140 114h3v3h-3zM152 113h5v5h-5zM181 114h5v4h-5zM230 113h4v4h-4zM236 115h3v4h-3zM71 120h3v5h-3zM84 122h4v3h-4zM167 117h4v5h-4zM200 119h3v4h-3zM-2 117h5v4h-5zM246 117h5v4h-5zM18 123h4v5h-4zM41 124h3v3h-3zM51 126h3v5h-3zM62 125h6v4h-6zM187 126h5v5h-5zM227 123h3v5h-3zM239 125h3v3h-3zM75 130h3v5h-3zM105 132h4v4h-4zM178 127h5v5h-5zM0 133h3v3h-3zM12 132h6v5h-6zM173 134h5v3h-5zM180 137h3v5h-3zM17 142h5v3h-5zM68 140h3v4h-3zM85 137h6v5h-6zM96 139h5v4h-5zM105 141h4v5h-4zM161 137h5v5h-5zM169 140h6v3h-6zM177 142h3v3h-3zM190 139h4v5h-4zM5 145h5v5h-5zM11 143h4v5h-4zM94 145h3v3h-3zM196 145h5v6h-5zM223 143h4v5h-4zM2 150h4v6h-4zM29 149h4v3h-4zM84 152h4v4h-4zM123 152h4v5h-4zM133 151h4v3h-4zM172 150h5v4h-5zM187 153h5v3h-5zM237 148h5v5h-5zM38 155h4v4h-4zM40 153h5v5h-5zM52 153h3v4h-3zM86 155h3v3h-3zM89 156h3v5h-3zM162 156h5v4h-5zM217 154h3v4h-3zM94 160h4v3h-4zM115 159h3v4h-3zM182 159h3v5h-3zM198 159h3v5h-3zM66 164h5v4h-5zM177 165h3v4h-3zM224 166h4v4h-4zM237 167h4v5h-4zM78 169h4v3h-4zM94 171h3v4h-3zM114 169h4v4h-4zM139 173h4v3h-4zM151 172h6v5h-6zM203 171h4v5h-4zM109 175h4v3h-4zM129 175h3v5h-3zM153 178h3v5h-3zM39 183h4v4h-4zM71 183h4v5h-4zM94 181h4v5h-4zM176 180h4v3h-4zM222 184h4v3h-4zM35 184h5v4h-5zM39 188h4v3h-4zM62 185h5v3h-5zM113 187h5v4h-5zM141 185h5v3h-5zM147 188h4v5h-4zM178 186h3v4h-3zM238 186h4v5h-4zM242 187h3v5h-3zM6 190h5v3h-5zM43 192h5v5h-5zM68 190h5v4h-5zM79 192h4v3h-4zM141 191h4v6h-4zM5 199h4v4h-4zM76 197h4v4h-4zM87 195h4v5h-4zM172 199h4v5h-4zM207 199h4v3h-4zM2 202h3v3h-3zM6 200h4v4h-4zM191 205h4v3h-4zM212 201h5v5h-5zM221 200h5v5h-5zM230 200h4v5h-4zM46 207h6v5h-6zM53 207h3v3h-3zM98 208h5v4h-5zM134 209h5v3h-5zM169 208h6v3h-6zM199 210h5v3h-5zM-2 206h4v4h-4zM246 206h4v4h-4zM5 212h5v5h-5zM25 213h3v5h-3zM33 214h4v4h-4zM75 212h4v5h-4zM125 211h6v4h-6zM162 212h3v6h-3zM11 220h5v5h-5zM22 218h3v4h-3zM115 219h5v5h-5zM228 218h3v6h-3zM50 222h5v3h-5zM171 223h4v5h-4zM194 221h4v4h-4zM198 221h5v4h-5zM14 225h4v5h-4zM36 227h4v3h-4zM42 226h4v5h-4zM65 225h3v6h-3zM73 226h4v5h-4zM98 230h5v3h-5zM167 228h3v4h-3zM174 230h3v4h-3zM212 228h3v3h-3zM235 229h4v6h-4zM237 228h3v4h-3zM51 233h4v5h-4zM80 232h5v5h-5zM101 231h3v5h-3zM129 230h3v5h-3zM164 231h5v4h-5zM188 235h4v3h-4zM196 232h3v6h-3zM219 232h5v4h-5zM236 233h5v5h-5zM4 241h4v3h-4zM10 237h3v4h-3zM31 236h4v3h-4zM69 240h3v5h-3zM188 238h3v4h-3zM198 237h5v4h-5zM208 240h4v3h-4zM12 244h4v3h-4zM54 243h5v3h-5zM67 242h5v3h-5zM84 242h5v5h-5zM119 -3h5v5h-5zM119 245h5v5h-5zM145 -4h4v6h-4zM145 244h4v6h-4zM216 242h4v4h-4z"/><path transform="scale(.5)" fill="#78584e" d="M58 4h5v3h-5zM80 3h4v5h-4zM95 4h3v5h-3zM149 4h3v4h-3zM32 13h5v4h-5zM102 13h4v5h-4zM108 12h3v3h-3zM185 9h3v5h-3zM209 10h5v5h-5zM234 11h3v4h-3zM2 15h3v5h-3zM114 16h5v5h-5zM122 14h3v5h-3zM158 14h5v6h-5zM175 16h5v4h-5zM197 17h5v4h-5zM16 24h4v3h-4zM90 23h3v3h-3zM170 22h5v4h-5zM240 21h4v4h-4zM18 24h4v5h-4zM111 26h5v3h-5zM152 26h5v6h-5zM32 33h3v4h-3zM50 33h4v5h-4zM133 34h5v3h-5zM227 31h4v4h-4zM12 36h5v5h-5zM82 42h5v4h-5zM148 41h4v5h-4zM115 47h6v5h-6zM149 48h3v5h-3zM166 49h5v4h-5zM142 50h3v5h-3zM148 53h5v3h-5zM154 53h5v4h-5zM197 54h3v5h-3zM210 54h3v4h-3zM216 51h4v5h-4zM236 50h4v5h-4zM6 56h4v5h-4zM236 56h5v4h-5zM73 63h3v3h-3zM126 65h4v3h-4zM140 62h4v3h-4zM148 64h5v3h-5zM209 61h4v4h-4zM223 61h5v5h-5zM55 69h4v3h-4zM214 70h4v3h-4zM132 74h4v3h-4zM169 71h5v5h-5zM186 75h4v4h-4zM192 70h3v6h-3zM213 76h4v3h-4zM24 76h4v4h-4zM32 77h3v3h-3zM211 76h4v4h-4zM240 78h5v4h-5zM24 83h3v6h-3zM39 83h4v5h-4zM69 85h4v5h-4zM165 84h5v5h-5zM215 81h5v4h-5zM231 83h5v3h-5zM11 87h3v3h-3zM51 91h4v4h-4zM78 87h6v3h-6zM169 86h5v4h-5zM217 87h4v4h-4zM238 86h3v3h-3zM50 94h4v3h-4zM67 94h4v4h-4zM114 96h4v4h-4zM150 91h5v5h-5zM173 96h3v4h-3zM183 96h5v4h-5zM115 100h5v4h-5zM117 100h5v3h-5zM207 104h5v5h-5zM231 103h5v5h-5zM42 109h5v4h-5zM100 108h3v4h-3zM114 107h6v4h-6zM118 108h4v3h-4zM166 109h3v3h-3zM10 111h4v6h-4zM16 116h5v4h-5zM94 113h3v3h-3zM120 116h4v4h-4zM188 112h3v5h-3zM147 121h4v3h-4zM205 122h4v4h-4zM122 126h4v3h-4zM147 125h3v5h-3zM2 131h3v5h-3zM191 130h4v3h-4zM203 131h5v3h-5zM231 128h5v4h-5zM18 136h3v5h-3zM29 136h3v5h-3zM71 137h4v5h-4zM80 136h3v3h-3zM124 133h5v3h-5zM47 141h4v4h-4zM123 139h5v5h-5zM36 145h5v5h-5zM55 143h5v4h-5zM102 147h3v4h-3zM167 143h5v4h-5zM233 144h5v4h-5zM19 151h5v4h-5zM59 152h4v5h-4zM64 147h4v5h-4zM73 149h4v5h-4zM149 151h4v4h-4zM175 152h3v3h-3zM103 158h4v4h-4zM176 159h5v3h-5zM237 160h3v4h-3zM58 165h3v5h-3zM73 168h4v3h-4zM133 165h5v5h-5zM166 166h3v4h-3zM26 170h6v3h-6zM45 168h4v6h-4zM63 171h5v5h-5zM70 174h4v3h-4zM137 170h4v5h-4zM177 169h4v6h-4zM179 171h5v5h-5zM195 170h3v5h-3zM197 171h5v5h-5zM209 177h4v5h-4zM124 181h5v6h-5zM150 180h5v5h-5zM203 179h4v5h-4zM241 182h4v5h-4zM6 188h3v4h-3zM17 186h5v5h-5zM97 184h5v3h-5zM164 186h4v4h-4zM235 185h4v5h-4zM21 196h3v5h-3zM135 195h4v5h-4zM202 198h4v5h-4zM212 197h4v3h-4zM35 202h6v4h-6zM140 202h5v3h-5zM168 203h4v4h-4zM30 205h5v3h-5zM65 208h3v5h-3zM214 207h5v4h-5zM239 208h4v3h-4zM87 212h4v5h-4zM110 212h4v4h-4zM130 209h4v6h-4zM49 217h5v6h-5zM52 219h3v3h-3zM140 218h4v4h-4zM144 216h4v5h-4zM192 216h4v4h-4zM21 220h5v5h-5zM46 222h3v4h-3zM62 224h4v5h-4zM236 223h5v5h-5zM0 235h5v5h-5zM248 235h5v5h-5zM29 235h3v3h-3zM93 232h5v5h-5zM37 236h5v3h-5zM64 235h5v6h-5zM169 239h3v3h-3zM234 240h4v5h-4zM16 242h3v5h-3zM157 244h4v3h-4zM221 -4h3v5h-3zM221 244h3v5h-3zM240 242h5v5h-5z"/><path transform="scale(.5)" fill="#b65a56" d="M3 3h15v4h-15zM3 13h15v4h-15zM15 3h4v14h-4zM2 34h18v5h-18zM10 35h8v5h-8zM2 53h17v4h-17zM2 69h17v4h-17zM2 53h4v20h-4zM9 77h9v4h-9zM9 107h10v5h-10zM1 108h18v4h-18zM10 128h6v13h-6zM2 142h14v4h-14zM8 139h5v6h-5zM4 160h6v11h-6zM7 158h5v5h-5zM2 181h18v3h-18zM2 196h18v3h-18zM2 181h3v19h-3zM1 239h19v4h-19zM4 237h6v6h-6zM27 9h12v6h-12zM30 8h21v5h-21zM24 2h11v5h-11zM33 56h4v6h-4zM24 119h27v4h-27zM24 107h4v16h-4zM48 107h4v16h-4zM41 127h4v7h-4zM29 130h11v3h-11zM25 154h25v4h-25zM25 171h25v4h-25zM46 154h4v22h-4zM32 161h5v5h-5zM25 181h26v4h-26zM25 181h4v17h-4zM47 181h4v17h-4zM40 238h6v6h-6zM31 234h5v13h-5zM57 3h25v3h-25zM57 3h3v15h-3zM78 3h3v15h-3zM68 10h4v4h-4zM56 56h6v18h-6zM64 88h18v3h-18zM62 106h4v9h-4zM64 114h5v8h-5zM59 142h17v5h-17zM70 156h7v5h-7zM56 228h27v3h-27zM56 203h3v27h-3zM80 203h3v27h-3zM75 213h4v3h-4zM57 236h25v3h-25zM57 242h25v3h-25zM57 236h3v9h-3zM78 236h3v9h-3zM65 239h5v5h-5zM93 23h4v21h-4zM87 79h18v4h-18zM87 79h4v23h-4zM101 79h4v23h-4zM86 132h4v11h-4zM88 172h17v3h-17zM88 153h3v22h-3zM101 153h3v22h-3zM91 190h4v4h-4zM111 14h21v4h-21zM111 3h4v14h-4zM128 3h4v14h-4zM120 7h7v7h-7zM111 40h14v4h-14zM109 36h5v9h-5zM114 32h11v6h-11zM115 95h16v4h-16zM113 93h20v5h-20zM110 113h23v5h-23zM111 153h21v3h-21zM111 173h21v3h-21zM111 153h3v23h-3zM129 153h3v23h-3zM127 193h5v7h-5zM113 235h4v12h-4zM148 8h5v5h-5zM146 27h5v4h-5zM149 84h5v6h-5zM139 131h6v16h-6zM137 134h19v6h-19zM139 154h19v3h-19zM139 172h19v3h-19zM139 154h3v22h-3zM155 154h3v22h-3zM145 185h5v6h-5zM153 204h7v6h-7zM137 215h5v4h-5zM138 228h18v4h-18zM167 3h13v6h-13zM170 12h16v6h-16zM167 25h19v5h-19zM176 30h5v13h-5zM167 32h21v6h-21zM182 56h4v5h-4zM178 64h4v10h-4zM176 107h4v16h-4zM175 126h5v22h-5zM171 139h4v10h-4zM177 132h11v5h-11zM163 135h23v4h-23zM163 181h25v4h-25zM163 196h25v4h-25zM163 181h4v19h-4zM185 181h4v19h-4zM196 36h12v5h-12zM202 42h15v5h-15zM193 86h19v5h-19zM202 80h6v21h-6zM204 81h6v17h-6zM202 116h7v3h-7zM207 113h4v3h-4zM200 184h5v7h-5zM199 184h5v9h-5zM197 216h6v3h-6zM195 203h6v22h-6zM235 10h5v3h-5zM234 7h5v5h-5zM237 35h5v5h-5zM224 53h21v4h-21zM224 69h21v4h-21zM224 53h4v19h-4zM241 53h4v19h-4zM236 64h4v3h-4zM237 58h4v5h-4zM233 88h6v9h-6zM223 89h22v4h-22zM232 137h6v3h-6zM230 135h4v6h-4zM233 164h5v4h-5zM229 185h5v6h-5zM235 191h4v4h-4zM232 217h6v4h-6zM233 217h4v6h-4zM234 220h6v5h-6zM228 239h4v4h-4zM232 239h3v6h-3z"/><path transform="scale(.5)" fill="#c67060" d="M6 26h4v22h-4zM4 37h11v6h-11zM11 77h4v19h-4zM9 112h6v5h-6zM4 155h6v23h-6zM1 236h10v6h-10zM31 10h20v3h-20zM46 3h6v4h-6zM24 22h28v3h-28zM24 45h28v3h-28zM48 22h3v26h-3zM25 53h27v3h-27zM25 70h27v3h-27zM25 53h3v20h-3zM48 53h3v20h-3zM26 130h20v4h-20zM32 161h4v3h-4zM33 204h5v20h-5zM33 237h13v5h-13zM35 235h4v10h-4zM56 23h26v4h-26zM56 44h26v4h-26zM56 23h4v25h-4zM78 23h4v25h-4zM65 31h7v6h-7zM65 36h3v6h-3zM76 57h3v11h-3zM67 80h5v23h-5zM65 82h3v12h-3zM56 83h3v18h-3zM68 135h13v6h-13zM55 128h5v15h-5zM77 184h5v16h-5zM60 193h22v5h-22zM56 181h10v3h-10zM67 209h6v4h-6zM69 209h5v5h-5zM86 2h20v3h-20zM86 16h20v3h-20zM86 2h3v16h-3zM96 43h10v5h-10zM95 55h5v4h-5zM93 112h6v7h-6zM98 127h4v21h-4zM92 161h7v3h-7zM93 186h5v7h-5zM88 205h17v3h-17zM88 226h17v3h-17zM88 205h3v24h-3zM102 205h3v24h-3zM125 7h3v5h-3zM122 41h10v4h-10zM111 54h20v3h-20zM111 69h20v3h-20zM128 54h3v18h-3zM116 95h4v5h-4zM119 88h5v12h-5zM125 106h4v16h-4zM110 145h23v3h-23zM110 127h3v21h-3zM130 127h3v21h-3zM115 160h5v7h-5zM110 181h19v3h-19zM116 210h6v4h-6zM146 8h6v4h-6zM138 24h19v3h-19zM138 44h19v3h-19zM138 24h3v23h-3zM142 37h6v5h-6zM137 78h21v4h-21zM137 98h21v4h-21zM137 78h4v24h-4zM155 78h4v24h-4zM147 90h3v6h-3zM138 108h21v3h-21zM138 119h21v3h-21zM138 108h3v14h-3zM155 108h3v14h-3zM149 113h6v3h-6zM144 112h5v7h-5zM137 181h23v3h-23zM137 181h3v19h-3zM156 181h3v19h-3zM143 214h4v17h-4zM141 219h5v12h-5zM138 236h20v3h-20zM138 242h20v3h-20zM155 236h3v9h-3zM170 26h3v18h-3zM165 62h13v3h-13zM172 53h6v21h-6zM172 87h6v7h-6zM165 129h4v19h-4zM180 220h4v12h-4zM180 209h5v15h-5zM164 235h24v3h-24zM164 235h3v10h-3zM185 235h3v10h-3zM178 239h5v4h-5zM209 8h5v4h-5zM202 29h6v12h-6zM194 35h9v5h-9zM212 24h3v22h-3zM199 57h7v5h-7zM206 84h11v6h-11zM193 128h25v3h-25zM193 144h25v3h-25zM193 128h3v20h-3zM210 137h3v4h-3zM193 173h25v3h-25zM193 153h3v23h-3zM215 153h3v23h-3zM204 163h5v5h-5zM198 191h6v9h-6zM197 183h15v4h-15zM193 236h25v4h-25zM193 241h25v4h-25zM193 236h4v10h-4zM215 236h4v10h-4zM232 8h7v5h-7zM232 59h7v5h-7zM234 95h9v5h-9z"/><path transform="scale(.5)" fill="#6e3782" d="M10 23h5v5h-5zM11 194h3v3h-3zM30 13h5v4h-5zM41 28h5v5h-5zM45 64h5v4h-5zM38 86h6v5h-6zM46 138h4v5h-4zM28 164h5v7h-5zM32 192h5v5h-5zM37 209h4v3h-4zM48 240h3v5h-3zM58 59h5v4h-5zM77 141h4v6h-4zM78 181h3v7h-3zM87 160h4v6h-4zM93 225h6v6h-6zM96 237h6v6h-6zM112 43h4v5h-4zM123 67h6v7h-6zM115 158h3v4h-3zM128 194h3v4h-3zM119 222h7v4h-7zM136 159h5v5h-5zM149 192h4v6h-4zM172 25h4v4h-4zM163 153h3v5h-3zM198 12h4v7h-4zM199 43h5v5h-5zM198 235h4v5h-4zM229 54h4v6h-4zM223 128h6v5h-6zM224 159h6v7h-6z"/><path transform="scale(.5)" fill="#a54e6c" d="M10 89h6v6h-6zM9 107h6v10h-6zM2 203h18v4h-18zM2 227h18v4h-18zM2 203h4v27h-4zM16 203h4v27h-4zM3 235h4v10h-4zM27 2h10v4h-10zM34 30h3v6h-3zM24 100h28v3h-28zM24 77h3v26h-3zM49 77h3v26h-3zM40 90h5v5h-5zM35 212h15v5h-15zM46 205h5v19h-5zM67 8h5v6h-5zM72 78h8v3h-8zM57 136h6v7h-6zM69 239h4v6h-4zM95 34h11v6h-11zM88 56h11v5h-11zM89 65h8v3h-8zM90 62h12v3h-12zM87 108h18v3h-18zM87 119h18v3h-18zM87 108h3v14h-3zM100 127h6v4h-6zM97 188h4v4h-4zM92 240h6v7h-6zM121 25h4v24h-4zM115 57h3v5h-3zM114 189h7v4h-7zM113 185h12v6h-12zM111 204h21v4h-21zM111 226h21v4h-21zM111 204h4v25h-4zM128 204h4v25h-4zM113 239h20v6h-20zM114 239h14v6h-14zM146 35h7v5h-7zM137 52h22v3h-22zM137 71h22v3h-22zM137 52h3v21h-3zM156 52h3v21h-3zM143 82h7v6h-7zM140 138h18v4h-18zM137 210h8v4h-8zM148 239h5v5h-5zM172 3h3v9h-3zM164 6h4v9h-4zM177 32h4v15h-4zM173 57h6v10h-6zM168 64h4v10h-4zM171 84h5v5h-5zM166 113h20v6h-20zM163 152h25v4h-25zM163 173h25v4h-25zM163 152h4v25h-4zM185 152h4v25h-4zM166 205h5v22h-5zM205 113h4v6h-4zM209 164h5v5h-5zM204 189h6v4h-6zM195 209h3v9h-3zM198 213h20v4h-20zM235 86h6v3h-6zM224 127h22v4h-22zM224 127h4v20h-4zM242 127h4v20h-4zM223 181h23v4h-23zM223 196h23v4h-23zM242 181h4v19h-4zM225 205h20v3h-20zM225 227h20v3h-20zM225 205h3v24h-3zM242 205h3v24h-3zM224 236h21v3h-21zM224 242h21v3h-21zM224 236h3v9h-3zM242 236h3v9h-3z"/><path transform="scale(.5)" fill="#8c3e70" d="M10 78h4v5h-4zM7 215h7v6h-7zM33 135h6v4h-6zM41 237h7v6h-7zM70 87h7v5h-7zM61 110h6v9h-6zM57 153h25v3h-25zM57 153h3v23h-3zM79 153h3v23h-3zM95 128h5v16h-5zM94 211h4v7h-4zM88 236h17v4h-17zM88 241h17v4h-17zM101 236h4v9h-4zM110 99h8v3h-8zM139 4h19v4h-19zM139 13h19v4h-19zM154 4h4v13h-4zM148 158h5v5h-5zM164 79h23v4h-23zM164 98h23v4h-23zM164 79h4v23h-4zM183 79h4v23h-4zM172 189h5v6h-5zM166 207h20v4h-20zM193 3h26v4h-26zM193 3h4v15h-4zM215 3h4v15h-4zM214 35h6v12h-6zM193 69h25v4h-25zM193 53h4v20h-4zM215 53h4v20h-4zM193 79h23v5h-23zM193 119h26v3h-26zM193 107h3v15h-3zM215 107h3v15h-3zM199 136h6v5h-6zM208 161h4v6h-4zM225 3h20v3h-20zM225 14h20v3h-20zM242 3h3v14h-3zM231 28h7v6h-7zM229 37h4v4h-4zM224 85h11v6h-11zM224 153h21v3h-21zM224 153h3v23h-3zM242 153h3v23h-3zM233 157h5v5h-5z"/><path transform="scale(.5)" fill="#28285f" d="M13 137h5v4h-5zM8 182h5v5h-5zM37 114h6v4h-6zM29 167h5v7h-5zM32 205h7v4h-7zM73 4h5v5h-5zM57 185h5v4h-5zM100 90h7v7h-7zM96 159h3v7h-3zM100 181h7v4h-7zM101 203h4v4h-4zM117 14h4v5h-4zM126 63h5v6h-5zM122 96h4v4h-4zM122 173h7v3h-7zM114 189h4v5h-4zM121 213h5v5h-5zM137 10h4v4h-4zM138 55h7v7h-7zM146 243h4v3h-4zM182 3h6v6h-6zM164 61h4v5h-4zM165 138h6v3h-6zM165 173h7v3h-7zM209 42h4v5h-4zM194 55h5v3h-5zM214 95h5v4h-5zM205 172h7v5h-7zM210 217h6v5h-6zM236 65h3v6h-3zM239 112h3v5h-3zM228 128h4v7h-4zM234 223h3v6h-3z"/><path transform="scale(.5)" fill="#5f3278" d="M26 138h4v7h-4zM75 55h5v17h-5zM87 182h18v4h-18zM87 195h18v4h-18zM87 182h4v17h-4zM101 182h4v17h-4zM123 109h4v5h-4zM148 164h6v6h-6zM166 108h6v16h-6zM178 219h6v10h-6zM175 239h3v5h-3zM223 107h22v3h-22zM223 119h22v3h-22zM223 107h3v16h-3zM243 107h3v16h-3z"/><path transform="scale(.5)" fill="#7d554e" d="M68 66h14v5h-14zM121 8h7v4h-7zM128 27h5v9h-5zM175 7h4v7h-4zM169 90h4v4h-4zM168 209h6v17h-6zM197 131h7v5h-7zM195 226h11v5h-11zM224 44h21v3h-21zM224 23h3v24h-3zM242 23h3v24h-3z"/><path d="M0.0 0v124M10.9 0v124M26.9 0v124M42.2 0v124M54.0 0v124M67.5 0v124M80.6 0v124M95.2 0v124M110.7 0v124M0 0.0h124M0 10.2h124M0 25.2h124M0 37.8h124M0 52.4h124M0 62.4h124M0 75.0h124M0 89.4h124M0 100.7h124M0 116.4h124" stroke="#e6dab6" stroke-width="1.0" opacity="0.7"/></pattern><pattern id="au" width="60" height="56" patternUnits="userSpaceOnUse" x="20" y="16"><rect width="60" height="56" fill="#e4d8b6"/><path transform="scale(.5)" fill="#c37364" d="M6 2h4v13h-4zM70 0h10v7h-10zM77 3h7v10h-7zM88 1h4v14h-4zM-2 -3h4v6h-4zM-2 109h4v6h-4zM118 -3h4v6h-4zM118 109h4v6h-4zM5 5h9v8h-9zM29 13h6v6h-6zM37 6h11v7h-11zM44 7h5v4h-5zM69 10h7v6h-7zM74 7h10v6h-10zM112 8h8v5h-8zM-2 18h7v8h-7zM118 18h7v8h-7zM24 15h9v13h-9zM35 12h7v14h-7zM96 10h8v14h-8zM18 30h10v6h-10zM49 27h11v9h-11zM89 29h8v9h-8zM49 34h7v5h-7zM97 40h14v4h-14zM111 33h7v7h-7zM16 45h5v5h-5zM77 39h8v8h-8zM87 42h9v12h-9zM-1 51h9v5h-9zM119 51h9v5h-9zM10 53h7v11h-7zM19 52h10v5h-10zM25 53h8v5h-8zM61 55h8v5h-8zM78 52h5v8h-5zM96 56h6v4h-6zM57 63h11v7h-11zM79 58h6v13h-6zM83 57h8v13h-8zM73 71h6v4h-6zM11 82h12v6h-12zM33 72h4v13h-4zM48 76h5v7h-5zM103 80h6v10h-6zM56 91h6v5h-6zM63 89h5v8h-5zM96 87h12v7h-12zM40 90h9v11h-9zM101 93h5v8h-5zM108 98h7v9h-7zM3 103h8v5h-8zM9 -8h8v9h-8zM9 104h8v9h-8zM31 102h9v6h-9zM46 103h4v9h-4zM72 -10h5v13h-5zM72 102h5v13h-5zM97 102h8v9h-8z"/><path transform="scale(.5)" fill="#785f52" d="M11 0h6v11h-6zM11 112h6v11h-6zM18 -1h5v6h-5zM18 111h5v6h-5zM38 2h9v10h-9zM92 10h7v11h-7zM78 15h8v12h-8zM72 28h6v6h-6zM41 38h7v7h-7zM-1 44h5v7h-5zM119 44h5v7h-5zM30 49h14v7h-14zM109 50h8v9h-8zM43 64h14v4h-14zM-1 70h12v8h-12zM119 70h12v8h-12zM8 74h12v7h-12zM95 69h11v7h-11zM108 70h9v5h-9zM66 71h5v14h-5zM7 96h7v11h-7zM91 91h5v7h-5z"/><path transform="scale(.5)" fill="#967a66" d="M28 -2h6v8h-6zM28 110h6v8h-6zM91 1h7v8h-7zM66 5h5v11h-5zM63 14h8v7h-8zM74 21h7v6h-7zM28 22h8v10h-8zM61 35h4v6h-4zM53 42h7v6h-7zM59 43h12v9h-12zM66 43h5v10h-5zM96 46h11v7h-11zM27 64h9v7h-9zM90 71h6v7h-6zM3 81h5v8h-5zM55 73h7v11h-7zM81 76h4v6h-4zM98 78h4v8h-4zM18 84h11v9h-11zM1 98h6v8h-6zM81 98h7v4h-7zM97 96h6v9h-6zM62 -5h8v8h-8zM62 107h8v8h-8zM-4 102h8v7h-8zM116 102h8v7h-8z"/><path transform="scale(.5)" fill="#d48c73" d="M39 3h11v7h-11zM90 11h9v7h-9zM100 10h6v8h-6zM18 14h10v8h-10zM50 16h7v7h-7zM8 26h5v9h-5zM33 26h5v7h-5zM63 29h8v6h-8zM81 27h6v4h-6zM96 25h8v8h-8zM14 37h10v6h-10zM32 28h6v14h-6zM66 38h14v7h-14zM86 33h9v12h-9zM105 40h7v9h-7zM112 46h8v10h-8zM87 49h8v7h-8zM-3 61h9v12h-9zM117 61h9v12h-9zM57 59h4v5h-4zM-8 61h9v8h-9zM112 61h9v8h-9zM44 66h8v13h-8zM-8 82h8v4h-8zM112 82h8v4h-8zM7 85h14v7h-14zM28 88h7v7h-7zM66 84h9v8h-9zM74 93h6v14h-6zM18 -11h6v16h-6zM18 101h6v16h-6zM76 -7h4v8h-4zM76 105h4v8h-4z"/><path transform="scale(.5)" fill="#b45f70" d="M100 6h9v4h-9zM49 15h4v8h-4zM88 20h8v7h-8zM3 25h7v6h-7zM103 55h9v5h-9zM96 58h5v13h-5zM19 72h6v8h-6zM61 70h5v8h-5zM101 72h9v7h-9zM32 84h6v8h-6zM80 91h8v8h-8zM28 99h5v5h-5zM38 92h9v6h-9zM51 94h7v6h-7zM23 104h7v7h-7zM55 -4h9v4h-9zM55 108h9v4h-9z"/></pattern><pattern id="aP" width="80" height="72" patternUnits="userSpaceOnUse" x="33" y="27"><rect width="80" height="72" fill="#e2d2af"/><path transform="scale(.5)" fill="#964b73" d="M-2 1h9v9h-9zM158 1h9v9h-9zM44 -6h9v18h-9zM44 138h9v18h-9zM35 13h17v11h-17zM46 8h6v7h-6zM79 6h6v16h-6zM-2 16h6v6h-6zM158 16h6v6h-6zM21 25h7v11h-7zM96 50h12v8h-12zM21 55h6v10h-6zM62 53h10v11h-10zM93 64h8v5h-8zM142 63h15v8h-15zM77 65h6v17h-6zM65 95h14v7h-14zM45 101h5v5h-5zM83 92h7v16h-7zM88 105h6v16h-6zM139 103h7v14h-7zM94 122h8v8h-8zM143 -5h17v6h-17zM143 139h17v6h-17z"/><path transform="scale(.5)" fill="#d48c73" d="M6 5h10v9h-10zM23 1h15v11h-15zM111 -3h8v13h-8zM111 141h8v13h-8zM117 -1h6v10h-6zM117 143h6v10h-6zM122 1h13v9h-13zM67 12h6v9h-6zM91 12h7v9h-7zM41 15h6v14h-6zM47 19h6v13h-6zM64 18h9v7h-9zM68 17h10v8h-10zM115 16h6v11h-6zM10 30h7v8h-7zM24 23h11v9h-11zM39 30h8v7h-8zM42 27h10v14h-10zM103 24h10v6h-10zM138 23h10v9h-10zM11 31h16v10h-16zM76 34h10v5h-10zM116 35h10v10h-10zM127 32h8v9h-8zM145 36h11v12h-11zM7 45h12v7h-12zM83 45h9v16h-9zM83 43h14v8h-14zM125 46h7v13h-7zM140 40h5v14h-5zM55 55h5v11h-5zM74 58h12v6h-12zM141 57h13v9h-13zM149 57h11v6h-11zM12 67h9v7h-9zM24 60h8v12h-8zM104 62h10v9h-10zM0 70h13v9h-13zM16 73h7v5h-7zM72 72h11v10h-11zM114 74h7v9h-7zM133 75h8v7h-8zM13 84h10v7h-10zM36 81h12v9h-12zM39 76h11v11h-11zM65 86h7v7h-7zM68 79h10v8h-10zM149 74h6v19h-6zM47 89h8v10h-8zM53 89h7v8h-7zM107 92h11v9h-11zM128 94h6v8h-6zM-11 88h12v9h-12zM149 88h12v9h-12zM20 100h6v8h-6zM108 97h8v13h-8zM118 102h17v7h-17zM-10 100h11v10h-11zM150 100h11v10h-11zM50 110h11v10h-11zM64 107h12v6h-12zM101 112h9v5h-9zM118 112h9v9h-9zM19 118h6v11h-6zM35 117h7v14h-7zM101 116h7v13h-7zM140 115h8v10h-8zM5 126h6v7h-6zM73 126h17v5h-17zM140 125h15v9h-15zM20 133h6v7h-6zM34 133h12v7h-12zM91 135h12v9h-12zM96 -7h8v10h-8zM96 137h8v10h-8z"/><path transform="scale(.5)" fill="#c37364" d="M20 1h5v12h-5zM39 -5h9v11h-9zM39 139h9v11h-9zM54 -7h11v16h-11zM54 137h11v16h-11zM70 3h8v9h-8zM88 -2h8v6h-8zM88 142h8v6h-8zM134 2h5v9h-5zM144 -2h7v9h-7zM144 142h7v9h-7zM148 1h7v8h-7zM0 5h12v10h-12zM15 7h10v10h-10zM25 8h8v8h-8zM95 5h6v9h-6zM104 8h10v9h-10zM21 21h7v10h-7zM27 21h10v7h-10zM88 12h9v15h-9zM91 14h17v10h-17zM118 19h18v10h-18zM143 12h7v14h-7zM-8 16h9v6h-9zM152 16h9v6h-9zM63 29h12v8h-12zM123 29h10v5h-10zM131 26h8v6h-8zM-4 25h8v8h-8zM156 25h8v8h-8zM2 33h9v11h-9zM10 34h9v11h-9zM31 40h7v9h-7zM46 40h7v9h-7zM54 37h11v8h-11zM73 40h13v5h-13zM91 35h18v6h-18zM133 34h12v7h-12zM-6 38h10v13h-10zM154 38h10v13h-10zM14 45h11v14h-11zM36 43h5v8h-5zM41 47h11v10h-11zM60 38h9v15h-9zM72 48h11v8h-11zM21 60h13v6h-13zM89 53h9v9h-9zM132 57h10v10h-10zM15 62h11v6h-11zM40 64h8v10h-8zM45 65h7v13h-7zM49 64h11v9h-11zM64 63h11v10h-11zM94 63h9v7h-9zM138 62h9v10h-9zM11 73h9v8h-9zM39 73h9v7h-9zM43 72h11v9h-11zM57 75h10v9h-10zM67 70h8v9h-8zM98 74h8v10h-8zM127 68h11v10h-11zM144 71h8v7h-8zM-7 86h16v8h-16zM153 86h16v8h-16zM14 78h8v9h-8zM24 77h10v11h-10zM53 78h11v7h-11zM79 77h10v9h-10zM86 83h9v8h-9zM120 85h6v8h-6zM123 80h19v7h-19zM136 79h11v8h-11zM15 95h9v7h-9zM28 89h8v7h-8zM94 93h8v6h-8zM112 89h10v12h-10zM-1 100h13v8h-13zM159 100h13v8h-13zM8 102h8v9h-8zM34 98h8v13h-8zM51 101h10v10h-10zM58 104h13v6h-13zM118 93h10v14h-10zM139 101h9v9h-9zM1 104h13v9h-13zM6 112h11v10h-11zM20 111h10v7h-10zM30 109h10v9h-10zM33 104h6v12h-6zM48 107h7v13h-7zM76 105h6v10h-6zM83 102h5v17h-5zM-7 107h9v8h-9zM153 107h9v8h-9zM29 120h9v9h-9zM52 113h10v10h-10zM59 119h15v9h-15zM77 122h6v7h-6zM121 120h9v9h-9zM138 113h6v10h-6zM150 112h7v13h-7zM10 123h6v14h-6zM11 123h18v8h-18zM52 128h15v7h-15zM65 128h12v6h-12zM68 131h11v6h-11zM95 122h5v9h-5zM105 128h8v6h-8zM135 125h9v7h-9zM-4 129h7v8h-7zM156 129h7v8h-7zM-1 -7h7v10h-7zM-1 137h7v10h-7zM159 -7h7v10h-7zM159 137h7v10h-7zM26 -5h13v7h-13zM26 139h13v7h-13zM42 134h12v9h-12zM66 -10h9v13h-9zM66 134h9v13h-9zM71 -13h10v14h-10zM71 131h10v14h-10zM116 132h10v11h-10zM125 -6h16v11h-16zM125 138h16v11h-16zM133 135h9v9h-9zM-8 -6h13v8h-13zM-8 138h13v8h-13zM152 -6h13v8h-13zM152 138h13v8h-13z"/><path transform="scale(.5)" fill="#b45f70" d="M11 14h6v7h-6zM71 13h7v9h-7zM116 12h8v6h-8zM128 9h7v11h-7zM-6 11h6v9h-6zM154 11h6v9h-6zM11 23h10v7h-10zM83 19h8v12h-8zM106 15h15v7h-15zM1 29h8v7h-8zM99 27h10v14h-10zM113 26h16v7h-16zM29 34h14v11h-14zM87 39h8v11h-8zM-2 42h7v8h-7zM158 42h7v8h-7zM52 45h10v6h-10zM76 46h10v16h-10zM107 58h15v7h-15zM-2 60h5v12h-5zM158 60h5v12h-5zM69 60h7v16h-7zM118 62h9v9h-9zM-8 74h9v8h-9zM152 74h9v8h-9zM143 80h8v12h-8zM31 89h10v7h-10zM84 95h7v8h-7zM30 102h5v8h-5zM87 93h9v18h-9zM134 97h8v11h-8zM66 113h14v9h-14zM33 128h6v10h-6zM44 119h8v19h-8zM58 131h7v10h-7zM78 -5h7v8h-7zM78 139h7v8h-7zM104 -6h10v9h-10zM104 138h10v9h-10z"/><path transform="scale(.5)" fill="#8c695c" d="M131 10h9v8h-9zM146 12h8v9h-8zM48 17h13v7h-13zM133 16h14v10h-14zM66 34h6v17h-6zM102 33h10v14h-10zM26 45h10v10h-10zM106 41h13v8h-13zM-3 52h8v8h-8zM157 52h8v8h-8zM28 52h18v5h-18zM120 64h17v9h-17zM149 62h7v15h-7zM87 67h11v11h-11zM111 68h8v10h-8zM97 77h9v11h-9zM96 91h9v9h-9zM134 88h10v10h-10zM99 102h7v8h-7zM120 111h11v11h-11zM137 105h6v11h-6zM0 118h10v9h-10zM160 118h10v9h-10zM114 131h7v5h-7z"/><path transform="scale(.5)" fill="none" stroke="#d48c73" stroke-width="3.2" d="M59 -3h17v11h-17zM59 141h17v11h-17zM68 26h18v10h-18zM123 51h10v15h-10zM39 118h17v10h-17z"/><path transform="scale(.5)" fill="none" stroke="#b45f70" stroke-width="3.2" d="M54 31h10v10h-10zM76 24h14v11h-14z"/><path transform="scale(.5)" fill="none" stroke="#8c695c" stroke-width="3.2" d="M116 42h10v12h-10zM75 62h10v10h-10zM106 85h14v10h-14z"/><path transform="scale(.5)" fill="none" stroke="#c37364" stroke-width="3.2" d="M73 102h11v11h-11zM110 108h10v11h-10z"/><rect x="7.3" y="0" width="1.3" height="72" fill="#e4dab4" opacity="0.7"/><rect x="47.4" y="0" width="1.2" height="72" fill="#e4dab4" opacity="0.7"/><rect x="0" y="13.8" width="80" height="1.3" fill="#e4dab4" opacity="0.7"/><rect x="0" y="49.8" width="80" height="1.2" fill="#e4dab4" opacity="0.7"/></pattern><pattern id="aM" width="48" height="48" patternUnits="userSpaceOnUse" x="46" y="38"><rect width="48" height="48" fill="#c88282"/><path transform="scale(.5)" fill="#823c82" d="M-4 -2h12v6h-12zM-4 94h12v6h-12zM92 -2h12v6h-12zM92 94h12v6h-12zM5 1h12v7h-12zM29 9h9v7h-9zM29 10h12v13h-12zM3 17h8v11h-8zM53 17h11v11h-11zM-13 23h17v8h-17zM83 23h17v8h-17zM24 37h10v7h-10zM7 44h8v9h-8zM1 65h11v9h-11zM13 68h9v10h-9zM77 68h11v11h-11zM11 80h17v7h-17zM53 83h11v7h-11zM70 79h10v15h-10zM-6 84h10v9h-10zM90 84h10v9h-10z"/><path transform="scale(.5)" fill="#aa507d" d="M20 -7h10v18h-10zM20 89h10v18h-10zM63 2h6v11h-6zM77 -1h8v19h-8zM77 95h8v19h-8zM-11 -3h12v8h-12zM-11 93h12v8h-12zM85 -3h12v8h-12zM85 93h12v8h-12zM-3 7h12v9h-12zM93 7h12v9h-12zM16 13h10v8h-10zM81 0h11v19h-11zM14 16h9v14h-9zM61 17h11v9h-11zM71 14h12v9h-12zM-3 21h9v21h-9zM93 21h9v21h-9zM39 22h12v13h-12zM81 25h10v15h-10zM-2 35h11v7h-11zM94 35h11v7h-11zM54 29h6v17h-6zM2 45h11v14h-11zM39 47h10v7h-10zM82 46h12v11h-12zM0 51h10v11h-10zM96 51h10v11h-10zM21 52h11v7h-11zM52 56h8v7h-8zM58 48h9v14h-9zM22 60h10v14h-10zM30 58h12v8h-12zM38 65h13v9h-13zM3 66h11v9h-11zM21 72h18v8h-18zM36 69h12v11h-12zM62 65h11v16h-11zM23 78h7v16h-7zM63 82h9v7h-9zM75 70h9v19h-9zM86 77h6v14h-6zM17 84h11v10h-11zM44 82h8v12h-8z"/><path transform="scale(.5)" fill="#be6478" d="M28 -1h9v11h-9zM28 95h9v11h-9zM35 0h16v9h-16zM42 2h9v10h-9zM56 -3h9v10h-9zM56 93h9v10h-9zM10 6h9v8h-9zM42 2h11v14h-11zM86 12h9v9h-9zM32 15h14v10h-14zM9 28h11v10h-11zM20 20h8v17h-8zM30 23h6v11h-6zM40 21h6v21h-6zM20 37h11v12h-11zM40 36h19v8h-19zM63 34h11v10h-11zM68 30h11v13h-11zM22 35h7v20h-7zM32 40h10v12h-10zM30 48h13v9h-13zM44 54h7v14h-7zM68 51h12v9h-12zM89 52h6v10h-6zM12 66h15v6h-15zM50 62h15v7h-15zM78 60h9v8h-9zM-6 67h8v11h-8zM90 67h8v11h-8zM12 76h9v18h-9zM31 79h10v8h-10zM39 77h9v6h-9zM1 -15h12v15h-12zM1 81h12v15h-12zM9 86h10v6h-10zM23 -11h7v11h-7zM23 85h7v11h-7zM37 -4h12v8h-12zM37 92h12v8h-12zM52 -6h14v8h-14zM52 90h14v8h-14zM61 88h17v7h-17zM65 88h12v7h-12zM79 -7h8v9h-8zM79 89h8v9h-8z"/><path transform="scale(.5)" fill="#d68770" d="M2 18h15v8h-15zM44 16h12v11h-12zM83 15h8v8h-8zM59 23h7v8h-7zM9 32h15v10h-15zM34 33h8v19h-8zM3 53h15v8h-15zM17 55h6v11h-6zM77 53h6v12h-6zM2 59h14v11h-14zM42 63h7v14h-7zM52 72h11v11h-11zM63 74h14v7h-14z"/><path transform="scale(.5)" fill="none" stroke="#d68770" stroke-width="3.6" d="M66 -5h10v18h-10zM66 91h10v18h-10zM49 11h17v10h-17zM66 8h11v12h-11z"/><path transform="scale(.5)" fill="none" stroke="#be6478" stroke-width="3.6" d="M64 11h11v11h-11zM56 22h10v11h-10z"/><path transform="scale(.5)" fill="none" stroke="#aa507d" stroke-width="3.6" d="M21 15h15v11h-15zM-7 35h10v14h-10zM89 35h10v14h-10zM-15 61h19v11h-19zM81 61h19v11h-19z"/></pattern><pattern id="aR" width="72" height="64" patternUnits="userSpaceOnUse" x="59" y="49"><rect width="72" height="64" fill="#c8bc9b"/><path transform="scale(.5)" fill="#c3967d" d="M0 3h5v4h-5zM0 70h4v4h-4zM0 100h5v4h-5zM0 113h4v3h-4zM6 125h4v3h-4zM6 0h4v1h-4zM11 2h3v3h-3zM11 37h4v3h-4zM16 69h5v3h-5zM16 109h5v3h-5zM17 123h4v3h-4zM22 67h4v3h-4zM23 72h3v5h-3zM28 16h3v4h-3zM28 43h3v2h-3zM28 47h3v3h-3zM28 93h3v2h-3zM28 102h3v4h-3zM28 127h3v1h-3zM28 0h3v2h-3zM32 21h3v3h-3zM32 91h3v4h-3zM32 96h3v4h-3zM37 65h3v3h-3zM37 112h4v4h-4zM42 11h3v3h-3zM42 53h4v2h-4zM47 60h5v5h-5zM47 87h4v3h-4zM47 97h4v5h-4zM53 73h3v4h-3zM52 95h3v4h-3zM53 109h3v4h-3zM52 114h3v4h-3zM57 6h5v2h-5zM57 26h5v3h-5zM57 41h4v3h-4zM58 65h4v4h-4zM57 93h4v4h-4zM63 65h4v3h-4zM64 69h4v5h-4zM63 79h4v2h-4zM64 90h4v5h-4zM63 111h4v3h-4zM68 44h4v3h-4zM69 85h4v3h-4zM68 101h4v3h-4zM68 114h4v4h-4zM74 7h3v2h-3zM74 68h3v2h-3zM74 107h3v3h-3zM78 53h4v4h-4zM78 76h5v2h-5zM78 126h5v2h-5zM78 0h5v3h-5zM84 40h3v4h-3zM84 105h4v2h-4zM89 2h4v4h-4zM89 47h4v3h-4zM89 66h4v2h-4zM89 85h4v2h-4zM89 92h4v3h-4zM89 122h5v3h-5zM90 126h3v2h-3zM90 0h3v2h-3zM94 21h5v3h-5zM94 112h5v3h-5zM94 116h4v3h-4zM101 60h4v4h-4zM107 19h4v5h-4zM107 74h4v3h-4zM112 4h4v3h-4zM118 72h4v2h-4zM118 111h5v4h-5zM125 9h4v4h-4zM124 56h6v3h-6zM124 116h4v2h-4zM131 22h3v4h-3zM131 75h3v4h-3zM131 90h3v2h-3zM131 102h3v3h-3zM136 116h3v3h-3zM141 7h3v4h-3zM140 12h3v4h-3z"/><path transform="scale(.5)" fill="#a06458" d="M0 9h5v3h-5zM0 21h3v4h-3zM0 45h4v4h-4zM0 93h4v3h-4zM6 41h4v4h-4zM6 50h3v3h-3zM7 81h4v5h-4zM6 87h4v2h-4zM11 34h4v3h-4zM11 47h4v4h-4zM11 55h3v3h-3zM12 84h3v3h-3zM12 88h3v2h-3zM11 98h4v2h-4zM16 13h5v4h-5zM16 84h4v3h-4zM23 19h3v3h-3zM22 92h4v3h-4zM22 128h4v1h-4zM22 0h4v2h-4zM28 8h3v5h-3zM28 31h3v3h-3zM28 51h3v3h-3zM28 59h2v3h-2zM31 8h4v3h-4zM32 78h3v4h-3zM37 4h4v3h-4zM37 79h4v2h-4zM37 82h3v4h-3zM42 61h4v3h-4zM42 103h4v4h-4zM42 116h3v4h-3zM47 37h4v4h-4zM47 42h5v2h-5zM48 80h4v3h-4zM47 121h4v4h-4zM53 10h3v5h-3zM52 15h3v3h-3zM53 28h3v4h-3zM53 32h2v3h-2zM53 78h2v3h-2zM53 100h3v3h-3zM53 119h2v3h-2zM57 9h5v3h-5zM57 99h4v4h-4zM57 117h5v4h-5zM64 11h4v3h-4zM63 52h4v4h-4zM64 57h4v2h-4zM63 86h4v3h-4zM63 99h4v4h-4zM64 107h4v3h-4zM69 14h4v4h-4zM69 28h4v2h-4zM68 31h4v3h-4zM68 41h5v2h-5zM69 58h4v3h-4zM68 78h4v3h-4zM69 119h4v5h-4zM73 24h3v2h-3zM74 35h3v3h-3zM73 56h3v3h-3zM78 99h5v2h-5zM78 118h5v3h-5zM78 122h5v3h-5zM84 13h3v4h-3zM84 31h3v4h-3zM84 119h4v3h-4zM89 17h4v4h-4zM89 57h4v4h-4zM89 104h5v2h-5zM94 29h5v5h-5zM95 63h4v3h-4zM94 100h4v3h-4zM101 5h5v4h-5zM101 24h4v2h-4zM100 38h5v4h-5zM101 43h4v2h-4zM101 54h4v4h-4zM100 119h5v4h-5zM106 31h5v2h-5zM106 51h5v4h-5zM106 70h4v4h-4zM106 88h5v4h-5zM106 103h5v4h-5zM113 8h3v5h-3zM112 55h3v3h-3zM113 88h3v4h-3zM113 94h3v4h-3zM112 106h3v4h-3zM113 112h3v5h-3zM117 50h4v3h-4zM117 106h5v4h-5zM125 6h4v2h-4zM124 18h4v4h-4zM124 23h4v3h-4zM124 27h5v4h-5zM124 32h5v2h-5zM125 96h4v2h-4zM131 15h3v4h-3zM131 39h3v2h-3zM131 46h3v3h-3zM131 66h4v3h-4zM131 69h3v5h-3zM131 80h3v4h-3zM131 119h3v4h-3zM136 28h3v4h-3zM136 54h3v3h-3zM140 18h4v3h-4zM140 49h4v4h-4zM140 55h3v4h-3zM140 60h4v3h-4z"/><path transform="scale(.5)" fill="#918069" d="M0 14h4v3h-4zM0 31h4v3h-4zM1 49h4v4h-4zM0 58h4v2h-4zM0 64h4v5h-4zM1 105h3v4h-3zM0 118h5v3h-5zM0 121h3v4h-3zM0 126h4v2h-4zM0 0h4v2h-4zM6 3h4v3h-4zM6 21h5v4h-5zM6 57h4v3h-4zM6 90h4v4h-4zM6 95h5v3h-5zM6 104h4v3h-4zM7 108h4v2h-4zM7 112h4v4h-4zM6 121h4v3h-4zM12 10h3v2h-3zM11 18h4v4h-4zM12 23h3v4h-3zM12 29h3v5h-3zM12 62h3v4h-3zM12 67h3v3h-3zM11 72h4v2h-4zM12 76h3v4h-3zM11 115h3v4h-3zM16 8h5v4h-5zM16 21h4v5h-4zM16 31h5v5h-5zM17 37h4v2h-4zM16 41h4v5h-4zM16 58h4v3h-4zM16 66h4v3h-4zM16 112h5v2h-5zM16 115h4v4h-4zM16 127h5v1h-5zM16 0h5v3h-5zM23 25h3v4h-3zM23 50h4v2h-4zM22 62h3v4h-3zM22 87h3v3h-3zM23 114h4v4h-4zM23 119h4v5h-4zM28 2h3v4h-3zM28 35h2v3h-2zM28 39h3v3h-3zM28 66h3v5h-3zM28 96h3v4h-3zM28 107h3v5h-3zM31 12h4v4h-4zM32 26h3v2h-3zM32 47h4v4h-4zM32 101h4v2h-4zM37 17h3v4h-3zM37 21h4v2h-4zM37 28h3v3h-3zM37 50h4v3h-4zM37 55h3v3h-3zM37 59h4v5h-4zM37 90h4v4h-4zM37 121h3v4h-3zM42 6h3v4h-3zM43 21h3v4h-3zM42 37h3v3h-3zM42 48h3v4h-3zM42 66h3v3h-3zM42 69h4v4h-4zM42 74h3v2h-3zM42 78h3v2h-3zM42 98h4v4h-4zM42 107h4v4h-4zM48 4h4v3h-4zM47 8h5v3h-5zM47 20h4v4h-4zM47 25h4v3h-4zM47 29h5v4h-5zM47 65h5v3h-5zM47 69h5v3h-5zM47 76h5v3h-5zM47 109h4v4h-4zM47 118h5v2h-5zM53 2h2v3h-2zM53 5h3v4h-3zM53 20h2v3h-2zM53 24h3v3h-3zM53 54h3v3h-3zM53 58h3v4h-3zM53 69h3v3h-3zM53 82h3v3h-3zM53 86h3v3h-3zM53 104h3v4h-3zM57 2h4v3h-4zM57 16h5v3h-5zM57 30h5v2h-5zM57 33h4v2h-4zM58 37h4v3h-4zM57 48h4v4h-4zM58 54h4v2h-4zM57 56h5v3h-5zM57 126h4v2h-4zM57 0h4v2h-4zM64 7h3v4h-3zM63 26h3v2h-3zM64 29h4v2h-4zM63 38h4v4h-4zM64 95h4v3h-4zM63 103h3v3h-3zM63 115h4v4h-4zM63 120h4v3h-4zM69 26h4v2h-4zM69 62h4v3h-4zM68 69h5v3h-5zM68 74h4v4h-4zM69 95h4v4h-4zM68 105h4v3h-4zM74 19h3v3h-3zM74 27h3v3h-3zM73 30h3v4h-3zM73 38h3v4h-3zM74 52h3v3h-3zM74 93h3v4h-3zM74 111h3v3h-3zM74 126h3v2h-3zM74 0h3v1h-3zM78 6h5v3h-5zM78 10h4v3h-4zM78 20h5v3h-5zM79 29h4v4h-4zM78 35h5v4h-5zM78 68h5v3h-5zM79 84h4v4h-4zM84 45h3v3h-3zM84 49h3v3h-3zM84 76h4v3h-4zM84 92h4v3h-4zM84 97h4v3h-4zM84 101h4v4h-4zM85 114h3v4h-3zM84 122h4v4h-4zM84 127h3v1h-3zM84 0h3v3h-3zM89 28h4v2h-4zM89 68h4v4h-4zM89 73h4v2h-4zM89 89h4v3h-4zM89 119h4v3h-4zM94 6h5v2h-5zM95 10h4v4h-4zM95 45h4v4h-4zM94 50h4v3h-4zM95 58h4v4h-4zM94 66h5v4h-5zM95 83h4v3h-4zM95 87h4v3h-4zM94 103h5v3h-5zM94 123h5v2h-5zM95 127h4v1h-4zM95 0h4v3h-4zM102 0h4v3h-4zM101 18h4v5h-4zM100 28h5v4h-5zM101 47h5v3h-5zM101 100h5v3h-5zM101 104h4v2h-4zM100 107h5v5h-5zM106 5h5v2h-5zM106 14h5v4h-5zM106 24h5v5h-5zM107 33h4v4h-4zM106 56h5v4h-5zM107 62h5v3h-5zM106 113h4v4h-4zM106 126h5v2h-5zM106 0h5v1h-5zM112 29h3v4h-3zM112 59h4v4h-4zM113 68h3v3h-3zM113 73h3v4h-3zM113 99h3v2h-3zM112 118h3v3h-3zM118 15h4v3h-4zM117 19h5v5h-5zM118 39h4v3h-4zM118 79h4v4h-4zM118 93h4v2h-4zM117 96h6v5h-6zM118 102h4v3h-4zM117 122h4v4h-4zM124 34h5v5h-5zM124 44h5v3h-5zM124 53h4v3h-4zM124 60h5v4h-5zM124 66h5v4h-5zM125 71h4v5h-4zM125 77h4v5h-4zM124 88h4v2h-4zM124 91h5v5h-5zM124 110h6v5h-6zM131 3h3v5h-3zM132 9h3v5h-3zM131 19h3v2h-3zM131 33h3v4h-3zM131 54h3v3h-3zM131 62h3v2h-3zM131 84h3v5h-3zM131 95h3v2h-3zM131 124h3v4h-3zM136 2h3v3h-3zM136 14h3v4h-3zM135 24h3v3h-3zM136 62h3v3h-3zM135 69h3v4h-3zM136 74h2v5h-2zM135 79h3v4h-3zM136 108h3v3h-3zM136 112h3v3h-3zM135 120h3v4h-3zM140 22h4v4h-4zM140 36h4v2h-4zM140 73h4v3h-4zM140 76h4v3h-4zM140 100h3v3h-3zM140 104h4v3h-4zM140 126h4v2h-4zM140 0h4v1h-4z"/><path transform="scale(.5)" fill="#c4b894" d="M0 18h4v3h-4zM0 35h5v5h-5zM1 61h4v2h-4zM0 78h4v5h-4zM1 96h3v3h-3zM0 110h4v3h-4zM6 7h4v4h-4zM6 26h4v4h-4zM6 31h4v2h-4zM6 60h3v4h-3zM6 99h4v4h-4zM11 6h4v3h-4zM12 13h3v4h-3zM11 41h4v4h-4zM12 52h3v2h-3zM11 95h4v2h-4zM12 120h3v3h-3zM12 123h3v2h-3zM17 4h4v3h-4zM16 47h4v5h-4zM17 63h5v2h-5zM16 91h5v4h-5zM22 3h4v5h-4zM22 77h4v4h-4zM23 105h3v3h-3zM28 20h3v4h-3zM28 62h3v2h-3zM28 89h3v3h-3zM28 116h3v2h-3zM28 119h3v2h-3zM28 123h2v3h-2zM32 29h4v3h-4zM31 33h4v4h-4zM32 43h4v3h-4zM32 115h3v3h-3zM32 119h4v3h-4zM37 12h3v4h-3zM37 25h4v3h-4zM37 42h4v4h-4zM37 46h3v3h-3zM37 74h3v4h-3zM37 103h3v4h-3zM47 1h4v2h-4zM47 33h4v2h-4zM47 54h4v4h-4zM53 91h2v3h-2zM57 21h4v5h-4zM57 45h5v2h-5zM57 80h5v3h-5zM57 83h5v4h-5zM58 88h4v4h-4zM57 108h5v3h-5zM63 16h4v3h-4zM63 60h4v4h-4zM64 124h4v4h-4zM68 48h4v3h-4zM68 109h4v3h-4zM68 125h5v3h-5zM68 0h5v1h-5zM73 77h3v5h-3zM73 121h3v4h-3zM78 44h5v3h-5zM79 89h4v3h-4zM78 108h5v4h-5zM85 27h3v3h-3zM84 53h4v5h-4zM84 72h4v3h-4zM84 89h4v2h-4zM89 62h4v2h-4zM89 81h5v4h-5zM89 113h5v2h-5zM94 17h4v3h-4zM94 35h5v4h-5zM94 54h5v2h-5zM94 108h5v4h-5zM101 10h5v3h-5zM101 14h5v3h-5zM101 33h4v3h-4zM101 50h4v3h-4zM101 125h4v3h-4zM101 0h4v1h-4zM106 39h5v3h-5zM106 43h5v4h-5zM106 98h4v4h-4zM113 14h3v5h-3zM112 20h4v4h-4zM113 40h4v4h-4zM113 65h3v3h-3zM117 5h5v2h-5zM117 85h4v3h-4zM118 117h4v5h-4zM124 105h5v5h-5zM131 93h3v2h-3zM136 38h3v4h-3zM136 96h3v5h-3zM136 124h3v4h-3zM140 63h4v5h-4zM140 95h4v4h-4zM140 108h3v5h-3zM140 123h4v2h-4z"/><path transform="scale(.5)" fill="#706052" d="M0 26h5v4h-5zM0 41h3v3h-3zM0 54h4v2h-4zM1 75h4v2h-4zM1 84h3v3h-3zM0 87h5v5h-5zM6 12h4v2h-4zM6 35h4v4h-4zM6 45h4v4h-4zM6 54h4v3h-4zM6 64h5v3h-5zM6 68h4v2h-4zM6 76h4v4h-4zM7 116h4v4h-4zM12 59h3v3h-3zM12 80h3v3h-3zM12 102h3v4h-3zM11 106h4v3h-4zM12 126h3v2h-3zM12 0h3v1h-3zM16 1h4v3h-4zM17 18h4v3h-4zM17 26h4v4h-4zM17 52h4v2h-4zM16 55h5v3h-5zM16 73h4v3h-4zM17 82h4v2h-4zM16 88h4v3h-4zM16 101h5v4h-5zM17 106h4v2h-4zM22 9h4v4h-4zM22 22h4v3h-4zM23 31h3v3h-3zM22 45h3v3h-3zM23 82h4v4h-4zM22 95h4v4h-4zM23 109h4v4h-4zM23 125h4v3h-4zM28 13h2v2h-2zM28 26h2v5h-2zM28 71h3v4h-3zM28 76h3v3h-3zM28 80h3v3h-3zM28 84h3v4h-3zM28 112h3v3h-3zM32 4h4v4h-4zM32 17h4v3h-4zM32 39h4v2h-4zM32 52h3v3h-3zM32 56h3v2h-3zM32 64h4v4h-4zM32 69h3v5h-3zM32 74h4v4h-4zM31 83h4v4h-4zM32 88h3v2h-3zM31 104h4v2h-4zM32 108h4v2h-4zM32 111h4v4h-4zM37 7h4v4h-4zM37 32h3v4h-3zM37 36h4v5h-4zM37 69h3v4h-3zM37 86h4v2h-4zM37 98h4v3h-4zM37 117h4v2h-4zM42 3h4v3h-4zM42 18h3v2h-3zM42 32h4v4h-4zM42 41h3v2h-3zM42 43h4v4h-4zM42 85h3v2h-3zM42 93h3v4h-3zM42 112h4v3h-4zM42 121h3v3h-3zM42 126h3v2h-3zM47 12h5v3h-5zM47 50h5v3h-5zM47 84h5v2h-5zM46 91h5v2h-5zM46 94h5v3h-5zM47 103h5v3h-5zM47 115h5v3h-5zM52 37h3v4h-3zM53 41h3v3h-3zM53 45h3v3h-3zM53 50h3v4h-3zM53 63h3v5h-3zM53 124h2v3h-2zM57 12h5v3h-5zM58 60h4v4h-4zM57 70h4v5h-4zM57 75h4v4h-4zM57 104h5v3h-5zM57 122h4v3h-4zM63 1h4v4h-4zM63 20h4v4h-4zM63 32h4v5h-4zM64 47h4v4h-4zM63 75h4v4h-4zM64 83h4v2h-4zM68 0h5v4h-5zM69 5h4v4h-4zM69 20h4v5h-4zM68 36h5v4h-5zM69 52h4v5h-4zM68 65h4v2h-4zM68 82h4v3h-4zM68 89h5v5h-5zM74 1h2v4h-2zM74 14h3v4h-3zM74 43h3v4h-3zM74 47h3v4h-3zM73 60h3v3h-3zM74 64h3v3h-3zM74 71h3v4h-3zM74 83h2v3h-2zM74 87h3v5h-3zM73 98h3v3h-3zM74 102h3v5h-3zM78 1h5v4h-5zM78 14h5v5h-5zM78 24h4v4h-4zM79 41h4v3h-4zM78 59h4v3h-4zM78 63h4v3h-4zM78 72h5v3h-5zM78 93h4v4h-4zM79 103h4v3h-4zM79 113h4v4h-4zM84 1h4v3h-4zM84 5h4v3h-4zM84 9h4v3h-4zM84 18h4v3h-4zM84 36h4v4h-4zM84 58h4v3h-4zM85 66h3v5h-3zM84 85h4v4h-4zM84 109h3v4h-3zM89 7h5v4h-5zM89 22h3v4h-3zM89 31h4v4h-4zM89 36h4v4h-4zM89 52h4v4h-4zM89 76h5v5h-5zM89 96h4v4h-4zM89 107h4v5h-4zM89 115h4v2h-4zM94 1h5v4h-5zM95 14h4v3h-4zM94 25h5v3h-5zM94 39h5v5h-5zM94 78h5v4h-5zM94 91h4v2h-4zM94 94h5v2h-5zM94 98h5v2h-5zM101 65h4v3h-4zM101 69h4v2h-4zM101 72h4v3h-4zM100 77h4v2h-4zM101 80h5v5h-5zM101 86h4v3h-4zM101 90h4v4h-4zM101 95h5v4h-5zM100 113h4v5h-4zM106 0h4v4h-4zM106 8h5v5h-5zM106 48h5v2h-5zM107 78h4v3h-4zM106 83h5v4h-5zM107 93h4v4h-4zM106 108h5v4h-5zM106 123h4v3h-4zM113 34h3v2h-3zM112 37h4v2h-4zM112 51h4v3h-4zM112 78h4v4h-4zM112 84h3v4h-3zM113 103h3v3h-3zM113 122h3v4h-3zM113 127h3v1h-3zM113 0h3v3h-3zM117 1h4v3h-4zM117 13h5v2h-5zM118 25h4v3h-4zM118 29h4v4h-4zM117 43h5v3h-5zM117 54h4v5h-4zM117 59h5v4h-5zM118 64h5v3h-5zM118 75h4v4h-4zM117 88h5v4h-5zM117 127h5v1h-5zM117 0h5v1h-5zM124 2h5v2h-5zM124 40h5v2h-5zM124 47h5v4h-5zM125 82h5v4h-5zM124 99h5v4h-5zM124 120h5v2h-5zM131 28h3v4h-3zM131 42h3v2h-3zM131 49h3v3h-3zM131 57h3v4h-3zM131 98h3v3h-3zM131 106h3v3h-3zM131 115h3v3h-3zM136 6h3v3h-3zM136 19h3v4h-3zM135 43h3v4h-3zM136 48h3v4h-3zM136 66h2v2h-2zM135 85h3v5h-3zM136 90h3v5h-3zM136 102h3v2h-3zM135 105h3v2h-3zM140 28h4v2h-4zM140 31h4v4h-4zM140 39h4v4h-4zM140 44h4v4h-4zM140 69h3v2h-3zM141 80h3v4h-3zM140 90h3v4h-3zM140 114h4v2h-4zM140 118h4v4h-4z"/><path transform="scale(.5)" fill="#5a4e44" d="M6 15h4v4h-4zM6 71h4v4h-4zM12 91h3v3h-3zM12 110h3v4h-3zM16 78h4v2h-4zM17 96h5v4h-5zM16 119h5v2h-5zM22 14h3v4h-3zM23 35h3v5h-3zM22 40h3v4h-3zM22 53h4v3h-4zM23 58h3v4h-3zM22 100h3v4h-3zM28 55h3v3h-3zM32 59h4v4h-4zM32 124h4v3h-4zM37 95h3v3h-3zM37 107h4v4h-4zM37 125h3v3h-3zM42 15h3v2h-3zM42 27h4v4h-4zM42 56h4v4h-4zM42 80h3v4h-3zM42 88h3v4h-3zM47 16h5v3h-5zM47 45h4v4h-4zM47 73h5v3h-5zM47 106h5v2h-5zM47 127h5v1h-5zM47 0h5v1h-5zM53 128h2v1h-2zM53 0h2v2h-2zM57 111h4v5h-4zM64 43h3v4h-3zM68 10h4v3h-4zM74 10h3v4h-3zM74 116h2v3h-2zM78 48h4v4h-4zM78 79h4v4h-4zM84 22h4v4h-4zM84 62h3v3h-3zM84 80h4v4h-4zM89 13h4v3h-4zM89 41h4v5h-4zM89 101h4v2h-4zM94 72h4v5h-4zM95 120h4v3h-4zM106 65h5v3h-5zM107 118h4v4h-4zM112 25h4v3h-4zM113 45h3v4h-3zM117 8h5v4h-5zM118 33h4v4h-4zM117 47h5v2h-5zM117 67h5v4h-5zM124 14h5v4h-5zM124 123h4v5h-4zM124 0h4v1h-4zM131 110h3v5h-3zM135 10h3v3h-3zM136 34h3v3h-3zM135 57h3v4h-3zM140 1h4v5h-4zM140 85h3v3h-3z"/><rect x="3.1" y="0" width="0.9" height="64" fill="#e4dab6" opacity="0.75"/><rect x="14.0" y="0" width="0.8" height="64" fill="#e4dab6" opacity="0.75"/><rect x="25.5" y="0" width="0.9" height="64" fill="#e4dab6" opacity="0.75"/><rect x="37.0" y="0" width="0.8" height="64" fill="#e4dab6" opacity="0.75"/><rect x="48.5" y="0" width="0.9" height="64" fill="#e4dab6" opacity="0.75"/><rect x="60.1" y="0" width="0.8" height="64" fill="#e4dab6" opacity="0.75"/><rect x="0" y="4.7" width="72" height="0.9" fill="#e4dab6" opacity="0.75"/><rect x="0" y="16.2" width="72" height="0.8" fill="#e4dab6" opacity="0.75"/><rect x="0" y="27.7" width="72" height="0.9" fill="#e4dab6" opacity="0.75"/><rect x="0" y="39.3" width="72" height="0.8" fill="#e4dab6" opacity="0.75"/><rect x="0" y="50.8" width="72" height="0.9" fill="#e4dab6" opacity="0.75"/></pattern><pattern id="aD" width="96" height="96" patternUnits="userSpaceOnUse" x="72" y="60"><rect width="96" height="96" fill="#d2aa96"/><path transform="scale(.5)" fill="#b9625a" d="M1 -2h4v5h-4zM1 190h4v5h-4zM27 1h5v6h-5zM98 -1h4v3h-4zM98 191h4v3h-4zM115 1h3v4h-3zM120 -1h4v3h-4zM120 191h4v3h-4zM125 2h4v5h-4zM142 0h3v5h-3zM142 192h3v5h-3zM153 1h5v3h-5zM170 1h3v4h-3zM175 1h4v3h-4zM185 0h3v4h-3zM7 4h5v6h-5zM11 3h3v5h-3zM49 7h3v4h-3zM60 4h3v3h-3zM64 4h4v3h-4zM74 4h3v5h-3zM125 3h5v5h-5zM159 4h3v5h-3zM176 3h4v5h-4zM8 13h4v4h-4zM14 10h4v3h-4zM31 11h4v5h-4zM61 11h4v3h-4zM76 8h4v5h-4zM87 11h4v3h-4zM102 9h5v3h-5zM110 12h4v4h-4zM116 10h4v4h-4zM174 10h3v5h-3zM181 14h3v3h-3zM4 18h4v4h-4zM19 14h5v5h-5zM40 14h4v3h-4zM54 18h5v5h-5zM68 16h4v3h-4zM79 16h4v4h-4zM104 17h3v4h-3zM110 18h4v5h-4zM156 15h4v5h-4zM173 18h4v3h-4zM177 17h6v3h-6zM13 19h4v5h-4zM24 20h3v4h-3zM44 24h4v4h-4zM81 20h4v3h-4zM91 19h6v5h-6zM99 22h5v4h-5zM136 22h3v5h-3zM144 20h3v3h-3zM175 22h3v4h-3zM39 26h6v5h-6zM79 25h3v4h-3zM123 26h3v5h-3zM137 24h3v4h-3zM151 24h4v3h-4zM1 32h4v4h-4zM12 31h5v5h-5zM22 34h4v3h-4zM29 30h3v4h-3zM39 30h5v6h-5zM66 33h5v3h-5zM94 30h5v4h-5zM103 29h4v4h-4zM109 33h3v3h-3zM131 29h4v4h-4zM134 34h3v4h-3zM147 30h5v5h-5zM157 31h3v3h-3zM170 32h4v4h-4zM23 38h5v5h-5zM28 38h5v3h-5zM29 38h5v5h-5zM48 36h6v4h-6zM74 39h5v4h-5zM80 34h3v5h-3zM115 35h5v5h-5zM126 36h3v4h-3zM144 40h5v3h-5zM157 39h5v5h-5zM162 35h3v5h-3zM165 35h4v4h-4zM173 36h5v5h-5zM176 35h3v5h-3zM22 40h3v5h-3zM53 40h5v4h-5zM56 41h4v5h-4zM65 42h5v3h-5zM84 44h4v5h-4zM89 44h6v3h-6zM104 42h4v3h-4zM110 41h6v3h-6zM117 40h3v5h-3zM124 41h4v6h-4zM131 41h3v4h-3zM137 44h5v5h-5zM144 40h3v4h-3zM155 40h5v4h-5zM161 43h3v4h-3zM175 41h5v3h-5zM-4 42h4v5h-4zM188 42h4v5h-4zM61 46h4v5h-4zM69 46h5v4h-5zM86 45h5v5h-5zM92 49h4v4h-4zM110 49h4v3h-4zM114 47h5v3h-5zM118 48h3v3h-3zM148 47h5v5h-5zM161 50h6v4h-6zM183 48h3v4h-3zM11 51h4v3h-4zM37 55h4v5h-4zM45 51h5v5h-5zM121 51h5v5h-5zM131 51h5v4h-5zM147 52h3v4h-3zM163 53h5v5h-5zM171 53h3v3h-3zM177 53h4v3h-4zM8 60h3v4h-3zM89 57h3v3h-3zM106 59h5v5h-5zM108 56h3v5h-3zM146 57h4v3h-4zM149 60h5v4h-5zM162 57h4v4h-4zM24 62h4v5h-4zM37 64h4v5h-4zM68 61h3v5h-3zM96 63h4v4h-4zM121 62h5v5h-5zM135 63h3v3h-3zM142 65h4v3h-4zM153 60h4v4h-4zM164 64h3v4h-3zM165 62h5v3h-5zM183 61h4v4h-4zM-2 70h5v4h-5zM190 70h5v4h-5zM9 66h4v5h-4zM33 70h5v4h-5zM48 68h5v5h-5zM91 68h3v5h-3zM107 71h4v4h-4zM116 69h3v4h-3zM132 67h5v3h-5zM169 66h3v5h-3zM181 69h3v5h-3zM-3 66h3v5h-3zM189 66h3v5h-3zM2 72h5v5h-5zM23 72h4v4h-4zM27 72h3v3h-3zM66 72h3v5h-3zM71 75h5v6h-5zM78 72h5v4h-5zM88 75h3v5h-3zM95 75h3v5h-3zM112 73h5v3h-5zM120 74h4v3h-4zM124 72h5v3h-5zM144 75h5v5h-5zM163 73h3v3h-3zM172 75h5v3h-5zM41 78h3v4h-3zM52 78h4v4h-4zM73 77h3v5h-3zM96 78h4v4h-4zM151 80h3v4h-3zM180 76h6v5h-6zM10 83h5v4h-5zM14 86h4v5h-4zM66 81h4v4h-4zM105 85h4v3h-4zM132 85h4v5h-4zM145 84h5v4h-5zM153 84h4v4h-4zM159 84h3v4h-3zM11 88h3v5h-3zM37 90h5v3h-5zM87 91h5v3h-5zM108 88h4v4h-4zM116 89h5v4h-5zM142 88h5v3h-5zM155 90h3v5h-3zM171 87h5v3h-5zM4 93h3v5h-3zM17 92h3v5h-3zM20 96h5v3h-5zM31 92h5v4h-5zM41 96h5v3h-5zM63 92h4v4h-4zM76 94h3v6h-3zM88 94h5v3h-5zM123 93h5v4h-5zM150 96h3v3h-3zM168 94h5v4h-5zM171 94h4v5h-4zM180 94h4v4h-4zM15 97h4v5h-4zM38 99h4v5h-4zM54 99h3v3h-3zM70 100h3v5h-3zM93 99h4v3h-4zM112 98h3v4h-3zM147 99h3v3h-3zM158 100h5v3h-5zM164 102h3v3h-3zM171 98h3v3h-3zM8 104h4v5h-4zM23 105h5v4h-5zM40 105h4v3h-4zM43 107h4v4h-4zM60 103h5v4h-5zM60 104h5v4h-5zM110 104h4v5h-4zM115 102h3v5h-3zM127 102h5v5h-5zM144 105h5v3h-5zM2 110h5v5h-5zM47 112h3v3h-3zM54 110h4v4h-4zM67 109h3v3h-3zM72 111h3v4h-3zM107 108h3v4h-3zM111 107h4v4h-4zM118 110h4v5h-4zM136 107h5v4h-5zM139 112h5v4h-5zM188 112h4v5h-4zM24 114h3v5h-3zM27 116h3v3h-3zM51 113h4v5h-4zM74 113h3v4h-3zM89 115h5v3h-5zM104 113h5v4h-5zM116 117h5v5h-5zM129 116h5v5h-5zM139 116h5v5h-5zM166 114h4v3h-4zM179 117h3v4h-3zM26 120h4v4h-4zM69 122h4v5h-4zM74 120h5v4h-5zM77 123h5v3h-5zM89 118h4v4h-4zM98 117h3v5h-3zM136 122h4v5h-4zM143 122h3v3h-3zM149 118h3v4h-3zM4 125h5v4h-5zM15 125h3v3h-3zM24 124h5v4h-5zM57 126h4v4h-4zM98 125h5v4h-5zM124 127h4v5h-4zM169 123h4v5h-4zM185 125h5v5h-5zM29 132h4v3h-4zM31 129h5v3h-5zM35 130h4v3h-4zM46 129h5v4h-5zM74 131h5v5h-5zM153 132h4v3h-4zM154 130h4v3h-4zM165 130h3v3h-3zM179 128h3v4h-3zM12 138h4v3h-4zM32 137h6v4h-6zM54 137h5v4h-5zM70 132h3v5h-3zM77 136h4v3h-4zM85 136h5v4h-5zM103 134h4v3h-4zM116 134h5v4h-5zM153 138h3v4h-3zM3 141h5v6h-5zM40 139h4v4h-4zM73 141h4v5h-4zM117 139h3v4h-3zM147 140h3v3h-3zM153 143h4v4h-4zM165 139h5v5h-5zM176 142h5v4h-5zM8 148h5v3h-5zM47 144h3v4h-3zM83 145h4v5h-4zM123 147h3v5h-3zM134 147h4v5h-4zM138 146h5v3h-5zM187 146h3v3h-3zM5 148h5v5h-5zM14 150h5v3h-5zM20 152h5v4h-5zM41 153h4v3h-4zM69 151h5v4h-5zM78 152h4v3h-4zM120 151h5v3h-5zM166 151h4v4h-4zM178 149h5v4h-5zM2 158h5v3h-5zM23 154h5v5h-5zM72 156h4v4h-4zM88 158h5v5h-5zM109 157h4v4h-4zM135 158h5v3h-5zM153 154h3v5h-3zM158 154h4v5h-4zM159 159h4v3h-4zM174 156h3v4h-3zM179 159h3v4h-3zM-4 158h4v5h-4zM188 158h4v5h-4zM38 161h3v3h-3zM45 163h5v4h-5zM80 161h3v3h-3zM83 162h4v5h-4zM97 163h3v3h-3zM100 160h3v5h-3zM107 162h5v4h-5zM114 162h4v4h-4zM119 164h6v4h-6zM131 161h3v3h-3zM161 164h3v3h-3zM186 160h5v4h-5zM0 167h4v3h-4zM192 167h4v3h-4zM5 165h5v3h-5zM14 166h4v4h-4zM21 166h3v5h-3zM47 166h5v5h-5zM69 167h3v5h-3zM71 168h5v5h-5zM100 168h3v3h-3zM119 166h4v4h-4zM142 169h3v3h-3zM168 167h5v5h-5zM182 166h5v5h-5zM185 167h5v3h-5zM11 171h3v4h-3zM31 170h5v4h-5zM38 173h3v5h-3zM40 172h5v4h-5zM92 173h3v4h-3zM146 174h5v4h-5zM181 173h4v5h-4zM187 173h3v5h-3zM1 176h4v4h-4zM21 174h5v4h-5zM38 176h3v5h-3zM75 175h4v3h-4zM123 178h3v3h-3zM134 175h3v5h-3zM139 176h3v4h-3zM147 174h3v5h-3zM152 175h3v5h-3zM157 178h3v3h-3zM159 176h4v5h-4zM180 177h6v5h-6zM66 182h5v3h-5zM78 179h3v5h-3zM103 180h4v3h-4zM114 183h5v5h-5zM120 180h3v5h-3zM151 179h3v5h-3zM180 182h4v5h-4zM0 -3h3v5h-3zM0 189h3v5h-3zM6 187h5v4h-5zM36 -4h3v5h-3zM36 188h3v5h-3zM61 -3h5v3h-5zM61 189h5v3h-5zM88 186h3v5h-3zM115 -2h5v3h-5zM115 190h5v3h-5zM125 186h4v3h-4zM149 187h4v4h-4zM172 187h5v3h-5zM180 -2h4v3h-4zM180 190h4v3h-4z"/><path transform="scale(.5)" fill="#825f55" d="M7 3h4v3h-4zM32 0h4v3h-4zM40 3h5v3h-5zM78 3h3v4h-3zM95 0h4v4h-4zM95 192h4v4h-4zM103 1h4v5h-4zM108 3h4v4h-4zM148 0h5v3h-5zM15 5h3v4h-3zM36 4h5v5h-5zM185 6h5v6h-5zM0 11h4v4h-4zM192 11h4v4h-4zM67 10h4v4h-4zM84 13h5v3h-5zM161 12h4v6h-4zM129 15h4v3h-4zM134 18h4v3h-4zM163 14h5v5h-5zM168 19h3v3h-3zM35 19h4v5h-4zM61 21h3v3h-3zM85 23h4v4h-4zM173 19h4v5h-4zM17 29h4v3h-4zM18 26h6v3h-6zM40 24h3v4h-3zM83 26h4v4h-4zM82 30h4v3h-4zM17 36h5v5h-5zM43 38h5v5h-5zM133 35h5v4h-5zM98 41h3v4h-3zM169 42h5v5h-5zM4 45h6v4h-6zM38 48h4v4h-4zM50 46h5v5h-5zM127 49h4v5h-4zM132 49h5v5h-5zM61 50h5v5h-5zM80 51h6v4h-6zM85 55h5v3h-5zM109 52h5v4h-5zM19 56h4v3h-4zM33 55h5v4h-5zM44 57h5v6h-5zM121 58h3v3h-3zM16 63h3v3h-3zM42 70h5v4h-5zM55 70h3v4h-3zM92 66h3v5h-3zM98 65h3v4h-3zM105 66h5v4h-5zM148 67h4v5h-4zM171 67h4v4h-4zM59 72h4v4h-4zM134 70h5v6h-5zM11 76h5v5h-5zM37 79h4v3h-4zM57 80h6v5h-6zM79 77h5v4h-5zM88 81h5v3h-5zM74 83h3v4h-3zM119 85h3v3h-3zM78 90h3v3h-3zM122 86h3v5h-3zM58 92h5v5h-5zM77 92h5v5h-5zM159 94h3v3h-3zM161 92h4v4h-4zM29 96h4v5h-4zM83 96h4v5h-4zM87 100h4v3h-4zM98 101h5v3h-5zM104 100h6v5h-6zM135 100h4v4h-4zM167 101h5v3h-5zM14 102h3v4h-3zM139 106h5v5h-5zM24 110h5v4h-5zM36 118h3v3h-3zM48 114h4v5h-4zM55 115h5v3h-5zM118 113h5v5h-5zM181 114h3v5h-3zM2 121h4v5h-4zM94 122h4v3h-4zM106 120h3v3h-3zM130 119h5v3h-5zM186 119h3v3h-3zM86 125h3v5h-3zM95 127h3v3h-3zM184 126h5v3h-5zM19 129h6v3h-6zM147 130h4v3h-4zM188 130h3v3h-3zM92 136h5v3h-5zM99 137h5v5h-5zM123 136h3v3h-3zM145 134h3v3h-3zM179 138h5v4h-5zM10 139h5v4h-5zM107 142h5v4h-5zM128 140h6v4h-6zM186 142h4v5h-4zM33 145h5v3h-5zM51 144h5v5h-5zM126 148h5v5h-5zM175 144h5v5h-5zM73 151h3v4h-3zM102 153h5v4h-5zM133 149h3v3h-3zM153 152h3v3h-3zM182 148h6v4h-6zM81 153h4v5h-4zM102 155h3v5h-3zM56 160h4v3h-4zM92 161h3v3h-3zM102 160h4v6h-4zM133 158h4v5h-4zM142 159h3v4h-3zM38 169h3v4h-3zM63 167h3v3h-3zM105 168h3v3h-3zM148 166h4v4h-4zM175 167h4v4h-4zM5 171h3v3h-3zM131 173h4v4h-4zM165 170h4v4h-4zM175 169h4v4h-4zM41 179h4v3h-4zM47 177h4v3h-4zM57 178h4v4h-4zM80 178h3v4h-3zM108 175h4v5h-4zM116 176h5v3h-5zM27 182h3v3h-3zM71 182h3v4h-3zM140 -3h3v3h-3zM140 189h3v3h-3z"/><path transform="scale(.5)" fill="#c87866" d="M11 -2h3v5h-3zM11 190h3v5h-3zM46 3h4v4h-4zM62 2h5v4h-5zM72 -2h3v4h-3zM72 190h3v4h-3zM82 1h4v3h-4zM158 1h3v3h-3zM163 2h5v5h-5zM-3 1h3v4h-3zM189 1h3v4h-3zM96 5h3v3h-3zM138 6h5v5h-5zM93 9h3v3h-3zM125 11h4v5h-4zM136 12h4v4h-4zM167 10h5v4h-5zM32 16h4v5h-4zM39 14h4v4h-4zM48 17h4v4h-4zM57 16h4v3h-4zM61 16h5v5h-5zM84 16h3v3h-3zM92 16h4v3h-4zM112 15h6v3h-6zM-3 16h5v3h-5zM189 16h5v3h-5zM29 20h5v5h-5zM66 23h3v4h-3zM74 20h5v4h-5zM110 22h4v5h-4zM131 20h5v3h-5zM157 21h5v5h-5zM185 22h3v4h-3zM2 27h4v5h-4zM9 25h3v4h-3zM13 26h5v3h-5zM31 26h4v4h-4zM73 24h4v5h-4zM141 25h4v6h-4zM174 26h5v5h-5zM175 28h5v5h-5zM-2 26h3v5h-3zM190 26h3v5h-3zM4 29h4v5h-4zM33 29h4v4h-4zM56 32h3v3h-3zM65 30h3v4h-3zM77 29h3v5h-3zM88 31h5v4h-5zM100 31h5v3h-5zM115 32h5v6h-5zM176 30h5v4h-5zM183 33h5v4h-5zM2 35h5v5h-5zM6 35h5v4h-5zM85 39h5v5h-5zM89 35h4v4h-4zM98 34h4v5h-4zM108 38h3v4h-3zM143 37h4v4h-4zM150 35h4v4h-4zM187 36h3v5h-3zM42 43h4v3h-4zM151 43h3v4h-3zM185 42h4v5h-4zM0 46h4v5h-4zM14 45h3v4h-3zM21 46h5v4h-5zM172 49h5v4h-5zM178 47h4v3h-4zM5 52h4v3h-4zM16 54h4v4h-4zM96 53h4v4h-4zM104 50h4v5h-4zM115 51h5v3h-5zM185 50h5v5h-5zM-2 56h5v5h-5zM190 56h5v5h-5zM29 58h4v4h-4zM35 56h3v5h-3zM58 56h3v5h-3zM62 58h4v4h-4zM69 59h5v3h-5zM74 60h3v3h-3zM98 57h4v5h-4zM126 59h4v5h-4zM158 60h4v5h-4zM172 56h4v4h-4zM6 63h5v4h-5zM26 61h5v3h-5zM47 64h3v6h-3zM51 64h5v3h-5zM97 62h3v4h-3zM116 62h5v3h-5zM124 63h5v4h-5zM170 64h4v3h-4zM21 68h5v3h-5zM28 69h5v4h-5zM35 68h4v5h-4zM77 70h5v3h-5zM124 70h5v4h-5zM164 66h3v3h-3zM175 70h5v5h-5zM7 74h5v3h-5zM11 76h5v3h-5zM31 73h4v4h-4zM44 74h5v4h-5zM131 73h5v4h-5zM151 71h3v4h-3zM153 74h5v4h-5zM185 73h3v4h-3zM17 77h4v3h-4zM64 76h4v5h-4zM137 78h4v5h-4zM141 79h4v5h-4zM167 79h6v5h-6zM186 77h4v5h-4zM45 85h5v4h-5zM53 85h4v4h-4zM55 81h5v5h-5zM83 81h5v6h-5zM87 83h3v4h-3zM112 81h3v4h-3zM115 82h5v5h-5zM127 81h3v4h-3zM135 84h4v5h-4zM139 84h5v4h-5zM4 89h5v4h-5zM15 87h4v4h-4zM44 89h4v6h-4zM50 87h3v4h-3zM76 89h3v3h-3zM101 87h3v3h-3zM137 88h3v4h-3zM146 91h3v3h-3zM160 90h3v4h-3zM68 94h3v3h-3zM91 96h4v3h-4zM111 92h5v4h-5zM114 94h5v4h-5zM120 92h3v4h-3zM143 92h3v4h-3zM178 96h4v4h-4zM7 98h3v3h-3zM57 99h4v4h-4zM77 99h5v4h-5zM149 100h4v5h-4zM178 99h4v4h-4zM45 103h3v4h-3zM87 106h3v6h-3zM96 107h3v4h-3zM99 102h4v4h-4zM118 103h5v5h-5zM133 103h4v4h-4zM183 107h4v4h-4zM-3 106h3v3h-3zM189 106h3v3h-3zM8 111h4v5h-4zM30 111h4v5h-4zM37 109h3v5h-3zM42 108h5v5h-5zM57 110h5v5h-5zM89 110h3v5h-3zM131 112h4v4h-4zM172 110h5v5h-5zM182 109h4v5h-4zM-1 115h4v4h-4zM191 115h4v4h-4zM3 114h5v4h-5zM65 115h4v4h-4zM96 113h5v5h-5zM146 114h3v6h-3zM185 117h5v3h-5zM21 120h5v3h-5zM40 119h5v4h-5zM51 118h4v6h-4zM106 122h5v4h-5zM123 122h3v4h-3zM180 121h5v4h-5zM1 125h5v4h-5zM21 127h5v4h-5zM32 126h5v4h-5zM45 122h4v4h-4zM47 125h4v3h-4zM110 124h3v4h-3zM148 123h5v4h-5zM155 126h4v4h-4zM171 123h4v5h-4zM175 125h4v5h-4zM12 129h4v3h-4zM52 132h3v5h-3zM59 128h5v5h-5zM65 132h3v3h-3zM69 130h5v5h-5zM140 129h3v5h-3zM17 133h3v4h-3zM21 134h5v5h-5zM36 135h3v5h-3zM64 132h5v6h-5zM71 136h4v3h-4zM88 136h4v3h-4zM174 135h5v5h-5zM20 141h5v3h-5zM30 140h5v4h-5zM37 139h4v5h-4zM47 140h5v4h-5zM57 141h5v4h-5zM64 143h4v3h-4zM83 142h5v4h-5zM89 141h4v3h-4zM104 141h5v3h-5zM139 138h4v5h-4zM184 142h5v5h-5zM-1 145h4v5h-4zM191 145h4v5h-4zM35 144h5v5h-5zM75 144h4v5h-4zM129 147h4v5h-4zM159 148h5v4h-5zM167 148h4v3h-4zM173 145h3v6h-3zM13 150h3v4h-3zM35 152h3v5h-3zM111 154h3v3h-3zM114 152h3v5h-3zM141 151h4v4h-4zM157 152h4v5h-4zM171 150h3v5h-3zM67 155h3v4h-3zM92 154h3v5h-3zM143 157h4v4h-4zM143 156h4v5h-4zM184 156h3v4h-3zM0 163h3v5h-3zM6 160h4v5h-4zM25 163h4v4h-4zM65 163h3v4h-3zM150 164h5v3h-5zM34 166h5v3h-5zM53 164h3v4h-3zM59 168h5v4h-5zM76 167h6v3h-6zM95 167h3v3h-3zM125 167h5v3h-5zM131 165h3v5h-3zM18 171h3v4h-3zM22 170h3v4h-3zM26 172h5v5h-5zM53 173h4v3h-4zM69 170h3v4h-3zM75 173h5v3h-5zM116 172h5v4h-5zM136 173h4v4h-4zM155 171h3v5h-3zM171 175h3v3h-3zM33 175h3v3h-3zM65 177h3v3h-3zM82 177h5v3h-5zM89 178h5v4h-5zM128 176h3v4h-3zM177 176h4v5h-4zM-1 183h3v5h-3zM191 183h3v5h-3zM5 184h3v3h-3zM18 183h5v5h-5zM29 180h4v4h-4zM34 184h5v3h-5zM57 184h4v4h-4zM82 180h5v3h-5zM111 181h4v3h-4zM124 180h6v4h-6zM135 184h4v3h-4zM139 181h5v4h-5zM13 188h5v3h-5zM131 187h5v4h-5zM186 -2h4v3h-4zM186 190h4v3h-4z"/><path transform="scale(.5)" fill="#694b48" d="M20 1h4v5h-4zM90 -1h5v6h-5zM90 191h5v6h-5zM127 1h5v5h-5zM137 1h3v5h-3zM88 8h5v3h-5zM107 4h4v3h-4zM134 5h3v5h-3zM29 11h3v3h-3zM51 10h6v4h-6zM74 9h4v5h-4zM122 11h4v3h-4zM129 12h4v3h-4zM154 11h4v4h-4zM174 12h4v4h-4zM18 18h5v3h-5zM140 16h4v3h-4zM25 23h3v5h-3zM167 23h5v3h-5zM-3 24h3v3h-3zM189 24h3v3h-3zM52 32h4v3h-4zM9 35h4v3h-4zM39 35h4v3h-4zM132 36h4v4h-4zM75 39h3v5h-3zM78 41h4v3h-4zM60 49h4v4h-4zM104 48h4v4h-4zM44 52h5v4h-5zM140 52h5v4h-5zM184 50h5v4h-5zM187 57h3v5h-3zM60 65h5v4h-5zM131 65h4v3h-4zM153 62h5v3h-5zM178 62h4v4h-4zM58 69h3v3h-3zM139 70h3v5h-3zM71 79h3v4h-3zM118 78h3v4h-3zM126 78h6v5h-6zM173 78h5v3h-5zM101 82h5v5h-5zM33 87h3v5h-3zM59 91h5v4h-5zM175 89h4v3h-4zM99 92h3v3h-3zM126 100h3v3h-3zM80 103h4v6h-4zM167 110h4v3h-4zM31 116h3v4h-3zM80 114h5v5h-5zM110 116h4v3h-4zM124 116h4v5h-4zM150 112h5v5h-5zM34 118h5v5h-5zM84 120h5v4h-5zM118 122h5v5h-5zM145 123h3v4h-3zM163 119h3v5h-3zM169 120h5v5h-5zM178 120h4v4h-4zM80 127h4v3h-4zM89 125h4v3h-4zM103 127h6v5h-6zM145 123h4v5h-4zM66 142h4v3h-4zM80 143h5v4h-5zM158 140h4v3h-4zM12 147h4v5h-4zM89 143h3v5h-3zM143 146h5v3h-5zM150 143h4v5h-4zM39 149h3v4h-3zM60 149h4v3h-4zM11 157h6v4h-6zM62 155h4v4h-4zM122 154h3v5h-3zM130 156h5v4h-5zM42 160h5v5h-5zM123 160h4v5h-4zM116 164h4v3h-4zM161 167h3v5h-3zM170 168h3v5h-3zM60 171h4v5h-4zM27 179h5v3h-5zM97 175h5v4h-5zM-4 175h6v4h-6zM188 175h6v4h-6zM165 181h5v5h-5zM82 188h4v4h-4zM176 -5h3v5h-3zM176 187h3v5h-3z"/><path transform="scale(.5)" fill="#ac556e" d="M35 2h4v3h-4zM59 -1h6v5h-6zM59 191h6v5h-6zM67 -1h5v3h-5zM67 191h5v3h-5zM168 -1h4v4h-4zM168 191h4v4h-4zM34 7h5v5h-5zM67 8h4v4h-4zM79 6h5v5h-5zM99 4h4v3h-4zM110 8h4v5h-4zM117 7h4v5h-4zM164 5h5v4h-5zM173 6h5v3h-5zM179 8h6v5h-6zM9 12h3v5h-3zM23 13h3v5h-3zM37 12h4v3h-4zM57 11h4v5h-4zM100 12h4v4h-4zM148 11h4v5h-4zM155 12h3v4h-3zM0 15h4v5h-4zM192 15h4v5h-4zM118 18h5v4h-5zM122 17h5v4h-5zM145 17h4v4h-4zM152 14h5v4h-5zM0 22h3v3h-3zM192 22h3v3h-3zM9 21h4v4h-4zM88 23h3v3h-3zM120 18h5v5h-5zM152 21h3v6h-3zM61 28h4v5h-4zM68 27h4v5h-4zM89 28h3v3h-3zM93 28h4v3h-4zM109 28h3v5h-3zM130 29h5v4h-5zM146 27h3v5h-3zM157 24h5v4h-5zM18 30h5v5h-5zM49 31h3v5h-3zM121 31h3v3h-3zM140 33h5v5h-5zM160 33h4v6h-4zM165 34h3v4h-3zM-5 30h6v4h-6zM187 30h6v4h-6zM52 38h4v4h-4zM65 38h4v3h-4zM67 37h4v4h-4zM96 40h6v4h-6zM119 36h6v3h-6zM180 38h3v3h-3zM1 42h5v5h-5zM29 40h4v4h-4zM30 41h5v4h-5zM48 44h4v4h-4zM63 45h4v4h-4zM119 44h4v5h-4zM139 42h5v4h-5zM19 49h3v3h-3zM24 49h4v5h-4zM34 47h4v3h-4zM46 45h4v4h-4zM136 49h3v3h-3zM154 46h5v6h-5zM165 47h4v3h-4zM-4 49h5v5h-5zM188 49h5v5h-5zM-1 54h4v4h-4zM191 54h4v4h-4zM21 51h4v5h-4zM29 50h3v4h-3zM69 53h4v3h-4zM87 52h3v4h-3zM125 55h4v4h-4zM156 52h4v3h-4zM10 60h3v3h-3zM41 60h5v5h-5zM77 57h4v5h-4zM94 57h4v4h-4zM131 56h3v4h-3zM139 58h3v5h-3zM177 60h4v3h-4zM11 63h5v3h-5zM73 64h3v3h-3zM86 64h3v4h-3zM90 65h5v4h-5zM109 64h4v4h-4zM148 65h5v3h-5zM189 61h3v5h-3zM17 70h4v4h-4zM62 69h5v5h-5zM68 71h5v3h-5zM82 66h5v3h-5zM17 74h3v4h-3zM47 74h5v3h-5zM104 74h6v5h-6zM111 75h3v5h-3zM140 73h5v5h-5zM166 75h3v5h-3zM186 72h3v5h-3zM-2 76h5v3h-5zM190 76h5v3h-5zM33 81h6v3h-6zM47 77h5v5h-5zM109 81h4v3h-4zM157 76h5v5h-5zM179 79h5v5h-5zM2 83h5v4h-5zM3 86h5v3h-5zM41 84h3v6h-3zM75 86h5v4h-5zM93 87h3v3h-3zM165 87h5v3h-5zM183 82h3v4h-3zM-3 84h4v4h-4zM189 84h4v4h-4zM2 87h4v5h-4zM19 90h3v5h-3zM51 90h4v4h-4zM64 90h5v5h-5zM70 89h3v4h-3zM95 86h5v5h-5zM102 90h4v4h-4zM128 91h3v4h-3zM128 90h4v5h-4zM167 91h3v5h-3zM184 87h3v5h-3zM3 97h5v3h-5zM26 91h4v5h-4zM49 92h3v4h-3zM83 95h3v5h-3zM102 95h3v5h-3zM136 95h5v3h-5zM145 93h5v5h-5zM187 96h5v6h-5zM1 99h5v4h-5zM47 98h4v3h-4zM64 100h4v5h-4zM115 98h3v4h-3zM129 98h5v3h-5zM179 100h5v5h-5zM-2 99h4v3h-4zM190 99h4v3h-4zM-1 104h5v5h-5zM191 104h5v5h-5zM52 103h3v3h-3zM72 105h5v4h-5zM130 101h5v5h-5zM152 102h5v3h-5zM171 106h4v4h-4zM177 105h5v4h-5zM16 111h6v4h-6zM20 111h4v3h-4zM63 111h5v3h-5zM80 112h4v5h-4zM83 108h4v4h-4zM97 107h5v5h-5zM113 110h4v5h-4zM147 112h3v4h-3zM150 109h3v4h-3zM10 114h5v4h-5zM64 114h3v5h-3zM84 117h5v4h-5zM134 115h5v4h-5zM163 114h4v4h-4zM173 115h5v3h-5zM6 121h5v5h-5zM18 118h5v5h-5zM58 120h4v4h-4zM35 124h4v4h-4zM52 123h5v3h-5zM62 125h4v5h-4zM68 126h5v3h-5zM120 124h3v5h-3zM132 126h3v4h-3zM161 125h4v3h-4zM-2 131h5v5h-5zM190 131h5v5h-5zM19 129h3v5h-3zM44 130h4v4h-4zM77 131h5v4h-5zM84 133h5v3h-5zM100 132h3v4h-3zM108 129h5v5h-5zM129 130h5v5h-5zM137 132h4v3h-4zM167 128h4v4h-4zM173 130h5v4h-5zM184 129h3v5h-3zM5 136h3v5h-3zM25 137h4v3h-4zM40 137h5v4h-5zM59 136h5v3h-5zM110 134h5v4h-5zM133 135h4v6h-4zM135 135h3v5h-3zM170 135h4v4h-4zM3 138h4v5h-4zM28 139h3v3h-3zM52 138h5v5h-5zM162 142h4v3h-4zM172 141h4v4h-4zM15 146h3v3h-3zM42 145h3v4h-3zM56 148h5v4h-5zM62 146h3v3h-3zM76 146h3v5h-3zM92 145h5v3h-5zM98 146h4v5h-4zM103 145h5v5h-5zM113 145h4v5h-4zM182 147h5v4h-5zM26 152h3v5h-3zM88 150h5v3h-5zM97 154h3v3h-3zM101 153h5v4h-5zM-4 152h5v3h-5zM188 152h5v3h-5zM19 159h3v4h-3zM29 157h3v4h-3zM32 157h3v3h-3zM56 158h4v3h-4zM78 154h3v5h-3zM115 157h4v5h-4zM127 157h5v4h-5zM13 161h3v4h-3zM17 159h3v4h-3zM24 160h4v3h-4zM31 163h4v3h-4zM52 160h4v5h-4zM71 161h3v3h-3zM155 164h5v5h-5zM179 164h4v3h-4zM181 160h3v6h-3zM12 165h4v3h-4zM81 165h5v4h-5zM112 164h3v5h-3zM138 166h3v3h-3zM151 167h4v4h-4zM158 166h5v5h-5zM2 174h3v3h-3zM83 175h5v3h-5zM91 171h5v4h-5zM103 170h4v4h-4zM110 174h3v4h-3zM5 177h5v5h-5zM17 174h3v5h-3zM55 175h4v4h-4zM92 179h4v3h-4zM103 175h6v4h-6zM24 185h3v3h-3zM44 182h4v4h-4zM93 180h4v3h-4zM99 184h3v5h-3zM146 183h4v5h-4zM157 181h5v5h-5zM162 181h3v3h-3zM170 182h3v4h-3zM177 184h4v4h-4zM18 188h5v3h-5zM58 -4h5v5h-5zM58 188h5v5h-5zM75 186h4v4h-4zM79 -3h5v4h-5zM79 189h5v4h-5zM107 -3h4v5h-4zM107 189h4v5h-4zM145 189h3v3h-3z"/><path transform="scale(.5)" fill="#964670" d="M51 3h3v4h-3zM0 8h4v5h-4zM192 8h4v5h-4zM22 8h3v4h-3zM84 6h5v4h-5zM118 4h3v4h-3zM146 5h5v4h-5zM184 15h5v5h-5zM16 23h5v5h-5zM49 23h4v5h-4zM162 19h4v5h-4zM126 27h5v5h-5zM164 27h4v3h-4zM72 33h5v5h-5zM16 41h4v5h-4zM71 45h5v5h-5zM80 47h6v5h-6zM86 46h3v3h-3zM101 48h3v3h-3zM144 49h5v3h-5zM74 52h5v5h-5zM133 50h5v5h-5zM152 54h6v3h-6zM166 50h5v5h-5zM114 57h4v3h-4zM137 59h3v4h-3zM182 59h3v5h-3zM1 64h5v5h-5zM31 64h5v3h-5zM107 62h3v3h-3zM121 70h5v4h-5zM149 69h5v3h-5zM156 68h4v5h-4zM63 74h4v4h-4zM100 73h4v3h-4zM175 73h5v4h-5zM21 80h4v4h-4zM100 79h3v5h-3zM121 77h5v3h-5zM163 82h5v5h-5zM26 89h3v3h-3zM187 89h4v5h-4zM36 93h5v5h-5zM128 96h3v3h-3zM12 101h3v3h-3zM22 98h4v3h-4zM24 106h5v4h-5zM31 107h5v3h-5zM106 104h4v3h-4zM92 107h4v5h-4zM124 110h5v5h-5zM10 121h4v5h-4zM46 120h4v5h-4zM157 118h4v4h-4zM174 122h4v5h-4zM13 125h3v4h-3zM143 126h3v3h-3zM88 130h5v3h-5zM92 127h4v5h-4zM114 129h5v5h-5zM118 132h4v4h-4zM48 133h3v5h-3zM126 138h4v3h-4zM140 135h4v5h-4zM163 136h3v5h-3zM188 134h3v5h-3zM125 140h5v4h-5zM137 142h3v4h-3zM23 145h3v3h-3zM28 147h4v4h-4zM0 151h3v3h-3zM192 151h3v3h-3zM46 151h5v4h-5zM61 152h5v5h-5zM85 150h4v5h-4zM143 151h5v3h-5zM8 156h3v5h-3zM51 156h4v4h-4zM164 157h5v5h-5zM72 161h4v5h-4zM146 164h5v4h-5zM167 159h5v4h-5zM24 165h5v5h-5zM98 173h5v4h-5zM128 173h4v5h-4zM139 171h4v5h-4zM168 178h3v4h-3zM170 175h3v4h-3zM49 183h3v3h-3zM51 184h3v4h-3zM90 180h4v4h-4zM127 180h5v4h-5zM24 186h4v4h-4zM31 -2h4v4h-4zM31 190h4v4h-4zM68 -4h4v5h-4zM68 188h4v5h-4zM93 188h3v4h-3zM100 187h4v3h-4zM166 185h4v5h-4z"/><path transform="scale(.5)" fill="#e1cdaf" d="M25 7h3v3h-3zM42 4h5v5h-5zM51 7h3v5h-3zM48 13h3v3h-3zM57 24h6v3h-6zM103 19h3v5h-3zM113 20h3v3h-3zM28 27h3v4h-3zM60 25h3v4h-3zM105 25h5v5h-5zM162 25h3v3h-3zM182 25h4v3h-4zM123 30h5v5h-5zM102 35h5v5h-5zM4 43h4v3h-4zM9 41h5v3h-5zM96 39h4v5h-4zM165 39h4v5h-4zM138 49h5v4h-5zM50 52h5v5h-5zM98 50h4v5h-4zM15 57h4v4h-4zM168 59h5v5h-5zM42 64h3v4h-3zM77 61h3v4h-3zM6 68h3v6h-3zM71 68h6v4h-6zM133 66h4v4h-4zM84 74h4v5h-4zM4 77h5v3h-5zM85 79h4v6h-4zM132 77h4v3h-4zM160 77h5v5h-5zM21 82h3v4h-3zM28 84h5v5h-5zM29 85h5v5h-5zM38 82h3v4h-3zM64 85h5v6h-5zM178 83h5v4h-5zM150 88h3v5h-3zM10 94h3v4h-3zM55 95h4v4h-4zM26 100h5v5h-5zM72 98h3v6h-3zM141 99h4v4h-4zM7 103h5v6h-5zM70 103h5v5h-5zM83 106h3v3h-3zM156 104h6v5h-6zM164 103h4v3h-4zM178 110h3v4h-3zM17 114h5v5h-5zM42 116h5v4h-5zM156 115h4v3h-4zM40 123h3v3h-3zM133 126h6v5h-6zM124 128h4v5h-4zM164 136h5v4h-5zM98 138h5v6h-5zM121 144h4v3h-4zM154 148h5v4h-5zM137 153h5v4h-5zM161 151h4v3h-4zM41 159h3v3h-3zM173 162h5v4h-5zM56 172h3v3h-3zM76 170h4v5h-4zM153 174h4v3h-4zM160 173h4v3h-4zM10 179h3v3h-3zM71 175h3v5h-3zM63 181h4v3h-4zM16 185h5v5h-5zM137 188h3v3h-3zM160 184h3v5h-3z"/><path transform="scale(.5)" fill="#b65a56" d="M2 2h26v4h-26zM2 2h4v24h-4zM25 2h4v24h-4zM7 40h6v4h-6zM2 56h27v4h-27zM2 77h27v4h-27zM2 56h4v25h-4zM25 56h4v25h-4zM3 86h24v3h-24zM3 99h24v3h-24zM24 86h3v16h-3zM10 95h5v5h-5zM10 112h6v3h-6zM23 167h3v10h-3zM12 168h6v9h-6zM33 2h27v4h-27zM33 23h27v4h-27zM33 2h4v25h-4zM57 2h4v25h-4zM48 17h5v5h-5zM50 6h3v4h-3zM35 33h25v3h-25zM35 47h25v3h-25zM56 33h3v18h-3zM33 56h27v4h-27zM33 77h27v4h-27zM33 56h4v25h-4zM57 56h4v25h-4zM48 74h4v3h-4zM33 138h27v3h-27zM33 138h3v25h-3zM57 138h3v25h-3zM47 148h6v5h-6zM34 167h26v3h-26zM34 167h3v22h-3zM57 167h3v22h-3zM66 4h19v6h-19zM72 38h6v6h-6zM73 66h5v6h-5zM77 90h4v11h-4zM78 170h4v6h-4zM100 42h5v9h-5zM98 85h6v12h-6zM94 85h6v5h-6zM92 139h18v3h-18zM92 159h18v3h-18zM92 139h3v23h-3zM107 139h3v23h-3zM102 146h5v7h-5zM97 150h7v5h-7zM107 171h4v18h-4zM116 56h15v3h-15zM116 56h3v24h-3zM127 56h3v24h-3zM115 85h7v4h-7zM115 85h17v4h-17zM116 86h13v3h-13zM127 116h5v18h-5zM117 123h8v4h-8zM119 112h6v6h-6zM121 146h4v4h-4zM136 32h24v4h-24zM136 47h24v4h-24zM136 32h4v19h-4zM150 60h4v20h-4zM136 62h24v3h-24zM136 109h23v3h-23zM136 129h23v3h-23zM136 109h3v23h-3zM156 109h3v23h-3zM136 139h23v4h-23zM136 158h23v4h-23zM136 139h4v23h-4zM146 151h6v4h-6zM136 167h24v3h-24zM136 186h24v3h-24zM136 167h3v22h-3zM156 167h3v22h-3zM173 64h3v4h-3zM176 98h13v5h-13zM177 99h6v5h-6zM184 98h5v3h-5zM166 175h23v4h-23zM166 168h3v14h-3z"/><path transform="scale(.5)" fill="#a54e6c" d="M3 32h25v4h-25zM3 32h4v18h-4zM24 32h4v18h-4zM15 70h6v5h-6zM19 151h3v6h-3zM14 174h6v16h-6zM39 70h6v4h-6zM47 179h5v7h-5zM65 99h22v4h-22zM98 30h4v22h-4zM100 61h5v7h-5zM94 85h6v8h-6zM117 115h5v18h-5zM116 118h13v4h-13zM121 178h10v4h-10zM116 166h4v23h-4zM137 3h6v8h-6zM144 71h6v3h-6zM147 92h5v6h-5zM147 154h6v4h-6zM175 36h6v4h-6zM174 42h4v5h-4zM175 66h4v7h-4zM170 87h14v6h-14zM166 110h23v3h-23zM166 129h23v3h-23zM185 110h3v23h-3zM171 166h3v15h-3zM178 167h5v7h-5z"/><path transform="scale(.5)" fill="#28285f" d="M17 42h6v6h-6zM12 90h7v3h-7zM41 39h4v5h-4zM57 89h3v6h-3zM37 153h4v7h-4zM79 131h4v3h-4zM96 21h7v4h-7zM105 88h5v5h-5zM115 3h5v3h-5zM127 62h3v4h-3zM125 113h5v4h-5zM148 10h4v5h-4zM140 149h3v6h-3zM166 38h7v5h-7z"/><path transform="scale(.5)" fill="#c67060" d="M6 70h5v4h-5zM16 119h7v6h-7zM43 60h5v4h-5zM35 86h25v3h-25zM35 99h25v3h-25zM35 86h3v16h-3zM56 86h3v16h-3zM47 91h6v3h-6zM49 109h11v6h-11zM42 122h6v4h-6zM38 180h7v4h-7zM69 7h5v16h-5zM65 32h22v3h-22zM65 32h3v19h-3zM84 32h3v19h-3zM73 41h6v5h-6zM75 35h3v4h-3zM82 87h5v8h-5zM66 109h21v3h-21zM66 130h21v3h-21zM84 109h3v23h-3zM72 149h7v3h-7zM65 167h21v3h-21zM65 167h3v22h-3zM84 167h3v22h-3zM75 176h5v4h-5zM91 41h21v6h-21zM97 65h5v6h-5zM99 72h6v3h-6zM96 96h15v6h-15zM107 111h5v11h-5zM92 117h19v6h-19zM94 171h6v16h-6zM120 43h5v4h-5zM124 35h4v12h-4zM114 35h17v4h-17zM121 112h6v4h-6zM119 183h7v6h-7zM148 8h4v6h-4zM143 4h6v22h-6zM141 40h6v6h-6zM140 71h13v5h-13zM164 2h26v3h-26zM164 24h26v3h-26zM164 2h3v25h-3zM187 2h3v25h-3zM170 14h6v5h-6zM165 47h24v3h-24zM165 32h3v19h-3zM186 32h3v19h-3zM165 56h25v3h-25zM165 56h3v25h-3zM186 56h3v25h-3zM170 72h7v4h-7zM181 87h3v14h-3zM164 138h26v3h-26zM164 159h26v3h-26zM187 138h3v25h-3z"/><path transform="scale(.5)" fill="#6e3782" d="M10 95h6v4h-6zM21 184h6v3h-6zM46 61h7v4h-7zM43 87h6v5h-6zM75 89h6v4h-6zM107 17h4v6h-4zM95 166h4v6h-4zM125 95h4v6h-4zM175 112h3v6h-3z"/><path transform="scale(.5)" fill="#8c3e70" d="M2 130h27v3h-27zM2 108h3v26h-3zM26 108h3v26h-3zM2 138h27v3h-27zM2 160h27v3h-27zM2 138h3v25h-3zM26 138h3v25h-3zM4 184h3v5h-3zM68 9h5v10h-5zM66 57h20v3h-20zM66 77h20v3h-20zM83 57h3v23h-3zM78 87h5v16h-5zM69 93h6v5h-6zM70 86h18v3h-18zM93 3h17v3h-17zM93 3h3v23h-3zM107 3h3v23h-3zM96 36h5v11h-5zM93 57h17v4h-17zM93 76h17v4h-17zM93 57h4v23h-4zM106 57h4v23h-4zM91 111h5v20h-5zM101 166h4v24h-4zM116 3h15v3h-15zM116 23h15v3h-15zM116 3h3v24h-3zM116 139h13v4h-13zM116 157h13v4h-13zM116 139h4v22h-4zM126 139h4v22h-4zM153 6h5v8h-5zM137 86h22v3h-22zM137 99h22v3h-22zM137 86h3v16h-3zM156 86h3v16h-3zM140 143h6v4h-6zM175 171h4v17h-4z"/><path transform="scale(.5)" fill="#7d554e" d="M8 151h4v4h-4zM12 167h5v24h-5zM55 119h6v4h-6zM42 152h6v4h-6zM93 176h6v3h-6zM137 18h11v6h-11z"/><path transform="scale(.5)" fill="#5f3278" d="M65 138h22v4h-22zM65 158h22v4h-22zM83 138h4v24h-4zM69 173h4v4h-4zM174 175h5v15h-5z"/><path d="M0.0 0v96M15.6 0v96M31.3 0v96M44.7 0v96M56.5 0v96M66.5 0v96M81.2 0v96M0 0.0h96M0 14.6h96M0 26.8h96M0 41.4h96M0 53.1h96M0 67.9h96M0 82.2h96" stroke="#e6dab6" stroke-width="1.0" opacity="0.7"/></pattern><pattern id="aT" width="64" height="60" patternUnits="userSpaceOnUse" x="21" y="11"><rect width="64" height="60" fill="#dcd0ac"/><path transform="scale(.5)" fill="#918069" d="M0 1h3v4h-3zM0 5h3v3h-3zM0 13h4v5h-4zM0 43h4v4h-4zM0 74h3v4h-3zM0 82h3v4h-3zM5 38h3v4h-3zM5 54h4v5h-4zM5 67h4v5h-4zM5 84h4v3h-4zM5 89h3v3h-3zM5 100h3v3h-3zM5 107h3v4h-3zM5 112h3v4h-3zM10 2h4v3h-4zM10 35h4v3h-4zM9 39h4v4h-4zM11 44h3v3h-3zM10 97h4v2h-4zM10 116h4v3h-4zM15 1h5v3h-5zM15 16h5v4h-5zM15 51h5v4h-5zM15 102h5v2h-5zM15 105h4v3h-4zM15 109h4v3h-4zM21 4h3v4h-3zM21 8h4v2h-4zM22 27h3v4h-3zM22 32h3v2h-3zM21 55h3v3h-3zM21 73h4v4h-4zM22 88h3v4h-3zM22 101h3v3h-3zM21 106h4v2h-4zM26 6h4v3h-4zM26 10h4v3h-4zM26 14h4v3h-4zM26 21h4v2h-4zM26 52h4v5h-4zM26 59h3v4h-3zM26 73h4v2h-4zM26 75h3v3h-3zM26 83h3v4h-3zM26 90h4v2h-4zM26 118h4v2h-4zM26 0h4v1h-4zM30 3h5v5h-5zM30 8h4v5h-4zM30 34h4v3h-4zM31 42h4v4h-4zM31 47h4v3h-4zM30 56h5v2h-5zM31 70h4v3h-4zM30 103h5v2h-5zM30 106h5v3h-5zM31 114h4v4h-4zM31 119h4v1h-4zM31 0h4v2h-4zM36 21h3v5h-3zM36 74h3v4h-3zM37 86h2v3h-2zM40 9h3v3h-3zM40 14h3v3h-3zM40 41h3v4h-3zM40 89h3v4h-3zM45 5h4v4h-4zM45 13h4v5h-4zM45 27h4v4h-4zM45 39h3v3h-3zM45 53h4v3h-4zM45 57h3v3h-3zM45 86h4v3h-4zM46 94h3v5h-3zM50 10h4v4h-4zM51 21h3v3h-3zM51 33h3v3h-3zM51 74h3v3h-3zM51 78h3v2h-3zM51 81h4v2h-4zM50 85h4v4h-4zM51 105h3v4h-3zM51 110h4v3h-4zM50 114h3v3h-3zM55 7h3v4h-3zM55 34h3v3h-3zM55 72h4v4h-4zM55 83h4v4h-4zM56 98h3v4h-3zM60 19h4v3h-4zM60 45h4v3h-4zM61 50h3v2h-3zM60 92h4v2h-4zM66 14h4v3h-4zM66 28h5v3h-5zM66 31h5v5h-5zM66 60h5v2h-5zM66 79h5v3h-5zM66 83h4v4h-4zM66 106h4v2h-4zM66 115h5v5h-5zM73 3h5v3h-5zM72 17h4v4h-4zM72 40h4v3h-4zM72 53h4v3h-4zM72 61h5v3h-5zM73 73h4v3h-4zM72 81h5v3h-5zM72 106h5v5h-5zM72 112h5v4h-5zM72 117h4v3h-4zM79 2h4v3h-4zM78 24h5v4h-5zM79 28h4v5h-4zM78 59h4v3h-4zM78 63h5v4h-5zM79 73h4v3h-4zM78 91h5v2h-5zM80 97h4v3h-4zM78 101h5v4h-5zM78 115h5v5h-5zM85 20h4v2h-4zM85 40h4v5h-4zM84 50h5v3h-5zM85 66h4v2h-4zM86 100h4v3h-4zM86 118h4v2h-4zM86 0h4v2h-4zM90 8h5v4h-5zM91 23h4v2h-4zM91 65h4v2h-4zM91 76h4v4h-4zM90 93h5v3h-5zM90 100h5v5h-5zM91 119h5v1h-5zM91 0h5v3h-5zM97 7h3v3h-3zM97 21h3v4h-3zM97 26h3v3h-3zM97 47h3v3h-3zM97 51h4v4h-4zM97 55h4v3h-4zM98 64h3v2h-3zM97 76h4v3h-4zM101 18h4v3h-4zM101 34h5v5h-5zM101 50h5v4h-5zM101 60h4v5h-4zM101 69h4v3h-4zM101 81h5v4h-5zM101 87h5v4h-5zM101 118h5v2h-5zM101 0h5v2h-5zM107 12h3v2h-3zM108 25h3v4h-3zM108 56h3v3h-3zM107 89h3v3h-3zM108 92h3v4h-3zM107 97h3v3h-3zM112 35h3v4h-3zM112 40h3v3h-3zM111 56h4v4h-4zM112 61h3v4h-3zM112 108h4v4h-4zM111 113h3v2h-3zM112 116h3v3h-3zM117 1h3v4h-3zM116 9h2v4h-2zM116 14h3v3h-3zM116 19h3v4h-3zM116 40h3v4h-3zM117 46h2v4h-2zM116 63h3v2h-3zM116 76h3v3h-3zM116 91h2v3h-2zM116 104h3v3h-3zM121 18h3v2h-3zM121 21h3v4h-3zM121 27h3v4h-3zM121 63h3v3h-3zM121 66h3v4h-3zM121 91h3v3h-3zM121 94h3v3h-3zM121 108h3v3h-3zM125 0h2v5h-2zM125 11h3v3h-3zM125 14h3v4h-3zM125 46h3v3h-3zM125 60h3v4h-3zM125 70h3v4h-3zM125 76h2v4h-2zM126 119h2v1h-2zM126 0h2v3h-2z"/><path transform="scale(.5)" fill="#706052" d="M1 9h3v3h-3zM0 19h3v4h-3zM1 29h3v4h-3zM0 37h3v4h-3zM0 48h3v3h-3zM0 78h3v2h-3zM0 87h3v4h-3zM0 93h3v4h-3zM0 116h3v2h-3zM0 120h3v1h-3zM0 0h3v2h-3zM5 0h3v4h-3zM5 9h3v3h-3zM5 13h4v4h-4zM5 18h3v2h-3zM5 21h3v4h-3zM5 43h4v2h-4zM5 51h3v3h-3zM5 73h4v2h-4zM5 80h4v4h-4zM5 92h4v3h-4zM10 18h3v3h-3zM10 21h4v4h-4zM9 48h4v4h-4zM10 54h4v4h-4zM9 58h5v4h-5zM10 63h4v4h-4zM10 77h3v4h-3zM10 82h3v3h-3zM9 88h4v2h-4zM10 92h4v4h-4zM9 110h4v2h-4zM15 5h4v3h-4zM15 8h4v3h-4zM15 22h5v4h-5zM15 43h5v2h-5zM15 56h4v2h-4zM16 68h4v4h-4zM15 73h4v3h-4zM15 82h5v3h-5zM15 86h5v5h-5zM16 92h4v5h-4zM15 98h5v3h-5zM15 114h5v3h-5zM22 12h3v3h-3zM21 22h4v4h-4zM22 41h3v3h-3zM21 48h3v2h-3zM21 62h3v4h-3zM21 78h3v4h-3zM22 109h3v4h-3zM21 114h4v4h-4zM26 17h4v2h-4zM26 29h4v5h-4zM26 35h3v3h-3zM26 39h4v3h-4zM26 57h4v2h-4zM26 94h3v5h-3zM26 99h3v4h-3zM26 114h3v3h-3zM30 23h4v4h-4zM30 51h5v5h-5zM31 60h4v4h-4zM30 65h5v4h-5zM31 87h4v2h-4zM31 91h4v4h-4zM31 96h5v3h-5zM36 32h3v5h-3zM36 37h3v2h-3zM36 59h3v4h-3zM36 69h2v4h-2zM37 79h2v3h-2zM37 82h3v2h-3zM37 89h3v3h-3zM37 93h2v4h-2zM36 107h3v3h-3zM37 111h3v4h-3zM40 4h3v4h-3zM40 17h3v4h-3zM41 22h3v4h-3zM40 28h3v3h-3zM40 52h3v3h-3zM40 65h3v4h-3zM40 71h2v5h-2zM40 82h3v3h-3zM40 85h3v3h-3zM41 94h3v4h-3zM40 113h3v3h-3zM45 9h3v2h-3zM45 23h4v3h-4zM45 66h4v4h-4zM45 99h4v5h-4zM45 110h4v3h-4zM45 119h4v1h-4zM45 0h4v2h-4zM51 5h3v4h-3zM50 25h3v3h-3zM50 30h4v3h-4zM50 47h4v4h-4zM51 51h3v3h-3zM50 64h4v4h-4zM51 90h4v4h-4zM55 2h4v4h-4zM55 27h4v2h-4zM55 38h3v4h-3zM55 50h4v3h-4zM55 54h4v2h-4zM56 77h3v5h-3zM55 88h3v4h-3zM55 93h4v3h-4zM60 23h4v4h-4zM60 28h4v3h-4zM61 41h3v4h-3zM61 70h3v3h-3zM60 79h4v4h-4zM60 100h4v5h-4zM60 110h3v3h-3zM60 119h3v1h-3zM60 0h3v4h-3zM66 7h5v2h-5zM66 10h4v2h-4zM66 18h5v3h-5zM66 22h4v5h-4zM66 41h5v3h-5zM66 71h4v3h-4zM66 96h5v4h-5zM66 101h5v3h-5zM66 108h5v2h-5zM72 22h5v3h-5zM72 32h5v2h-5zM72 48h4v3h-4zM72 65h4v3h-4zM73 69h4v3h-4zM73 77h4v3h-4zM79 10h4v4h-4zM79 43h4v3h-4zM78 48h5v4h-5zM78 82h4v2h-4zM78 94h5v2h-5zM84 2h4v4h-4zM85 12h4v3h-4zM84 16h4v3h-4zM85 26h4v4h-4zM84 32h5v3h-5zM84 37h5v3h-5zM85 46h5v3h-5zM85 54h4v3h-4zM84 58h5v3h-5zM84 62h4v3h-4zM84 78h5v4h-5zM84 83h5v4h-5zM84 88h4v4h-4zM85 92h4v3h-4zM84 104h5v4h-5zM84 109h5v2h-5zM84 112h5v5h-5zM91 39h5v4h-5zM91 48h4v3h-4zM91 52h4v4h-4zM92 57h4v3h-4zM90 72h4v4h-4zM91 82h5v4h-5zM90 88h5v4h-5zM90 106h5v3h-5zM91 110h4v3h-4zM91 115h5v3h-5zM97 38h3v4h-3zM97 59h4v4h-4zM97 68h4v4h-4zM97 73h4v3h-4zM97 94h3v2h-3zM97 106h3v2h-3zM97 109h4v4h-4zM101 3h5v3h-5zM101 7h4v4h-4zM102 12h4v5h-4zM102 22h4v4h-4zM101 55h4v4h-4zM101 65h5v3h-5zM102 92h4v3h-4zM102 95h5v3h-5zM101 113h4v4h-4zM107 4h3v4h-3zM108 9h2v3h-2zM108 30h3v5h-3zM108 41h2v2h-2zM107 60h3v2h-3zM107 69h3v5h-3zM107 75h3v3h-3zM107 79h3v3h-3zM107 83h3v4h-3zM107 105h3v2h-3zM107 109h3v4h-3zM111 4h3v2h-3zM112 22h3v3h-3zM112 26h3v4h-3zM112 47h3v3h-3zM111 50h3v4h-3zM111 74h3v4h-3zM112 88h3v3h-3zM112 100h3v2h-3zM112 103h3v3h-3zM117 56h2v2h-2zM116 67h3v4h-3zM116 72h3v2h-3zM116 83h3v3h-3zM116 109h3v3h-3zM121 4h3v3h-3zM121 7h3v3h-3zM121 47h3v2h-3zM121 50h3v3h-3zM121 71h3v2h-3zM121 75h3v3h-3zM121 83h3v2h-3zM121 87h3v2h-3zM121 104h3v3h-3zM125 6h2v4h-2zM125 19h3v4h-3zM125 50h3v5h-3zM125 56h3v3h-3zM126 111h2v2h-2zM125 115h2v3h-2z"/><path transform="scale(.5)" fill="#a06458" d="M0 24h4v4h-4zM0 33h3v3h-3zM0 53h4v4h-4zM1 58h3v4h-3zM1 63h3v5h-3zM0 99h3v3h-3zM0 102h4v3h-4zM1 106h3v3h-3zM5 117h4v3h-4zM5 0h4v1h-4zM9 68h4v2h-4zM9 101h5v3h-5zM10 105h4v4h-4zM15 37h4v4h-4zM15 46h5v4h-5zM15 64h5v3h-5zM15 77h4v4h-4zM21 16h4v4h-4zM21 35h3v5h-3zM21 51h4v3h-4zM21 93h3v3h-3zM21 97h3v3h-3zM21 119h4v1h-4zM21 0h4v2h-4zM26 109h3v4h-3zM30 28h5v3h-5zM31 31h4v2h-4zM30 38h4v3h-4zM30 110h4v3h-4zM36 64h3v4h-3zM37 98h3v4h-3zM41 58h3v2h-3zM41 60h3v4h-3zM40 76h3v4h-3zM45 49h3v3h-3zM45 76h3v3h-3zM45 80h3v4h-3zM45 105h4v4h-4zM50 16h4v5h-4zM50 118h4v2h-4zM50 0h4v1h-4zM55 11h4v5h-4zM55 17h4v4h-4zM55 22h3v4h-3zM55 43h4v2h-4zM55 47h4v2h-4zM55 103h3v5h-3zM55 114h3v5h-3zM60 8h4v3h-4zM61 53h3v4h-3zM60 105h4v4h-4zM61 113h3v3h-3zM66 51h4v2h-4zM72 35h4v4h-4zM72 56h5v4h-5zM72 88h5v3h-5zM79 16h4v2h-4zM78 34h5v3h-5zM78 38h5v3h-5zM78 77h4v3h-4zM78 86h5v3h-5zM78 110h5v4h-5zM85 7h4v5h-4zM85 75h4v2h-4zM84 96h5v3h-5zM90 3h5v4h-5zM91 18h5v4h-5zM91 26h4v2h-4zM91 34h4v4h-4zM91 68h5v2h-5zM91 97h5v2h-5zM97 15h4v5h-4zM97 31h3v2h-3zM97 34h3v4h-3zM97 97h3v2h-3zM97 101h3v3h-3zM101 27h4v2h-4zM102 30h4v3h-4zM101 39h4v4h-4zM101 77h4v3h-4zM108 16h3v4h-3zM108 64h3v4h-3zM111 30h4v4h-4zM111 70h3v3h-3zM116 59h3v4h-3zM117 86h3v3h-3zM116 95h3v3h-3zM116 118h3v2h-3zM116 0h3v1h-3zM121 11h3v2h-3zM121 14h3v3h-3zM121 32h3v4h-3zM121 54h3v3h-3zM121 112h3v4h-3zM121 116h4v2h-4zM125 80h2v4h-2zM126 92h2v4h-2z"/><path transform="scale(.5)" fill="#5a4e44" d="M0 69h3v4h-3zM0 111h3v4h-3zM4 6h4v3h-4zM5 32h4v4h-4zM5 104h3v3h-3zM9 7h5v5h-5zM10 13h3v4h-3zM10 72h4v4h-4zM10 113h4v2h-4zM15 27h4v4h-4zM15 32h5v3h-5zM26 2h4v4h-4zM26 43h3v3h-3zM26 104h4v4h-4zM30 74h5v2h-5zM37 10h3v5h-3zM37 26h2v5h-2zM37 45h3v4h-3zM37 116h2v3h-2zM40 104h2v4h-2zM45 31h3v2h-3zM45 35h3v3h-3zM45 71h4v4h-4zM50 69h4v4h-4zM55 29h4v4h-4zM55 57h3v5h-3zM55 67h4v4h-4zM55 109h3v5h-3zM60 3h3v4h-3zM60 12h4v2h-4zM61 15h4v3h-4zM60 32h4v3h-4zM60 36h4v4h-4zM66 3h4v3h-4zM66 68h4v3h-4zM66 93h4v2h-4zM72 7h5v4h-5zM72 26h5v5h-5zM79 71h5v2h-5zM79 106h4v2h-4zM85 23h4v2h-4zM85 69h4v4h-4zM91 44h4v3h-4zM97 43h3v4h-3zM97 119h4v1h-4zM97 0h4v2h-4zM101 103h4v2h-4zM102 106h5v3h-5zM111 93h4v3h-4zM111 97h4v2h-4zM116 5h3v2h-3zM116 36h3v3h-3zM116 80h3v2h-3zM121 44h3v2h-3zM121 79h3v3h-3zM121 119h3v1h-3zM121 0h3v3h-3zM125 41h3v4h-3zM125 65h2v4h-2zM125 85h3v3h-3z"/><path transform="scale(.5)" fill="#c3967d" d="M5 27h3v4h-3zM5 63h3v3h-3zM10 85h4v3h-4zM15 12h5v4h-5zM15 60h5v4h-5zM15 118h5v2h-5zM15 0h5v1h-5zM21 71h4v2h-4zM26 65h3v4h-3zM26 79h4v3h-4zM26 88h3v2h-3zM30 19h5v3h-5zM31 99h4v2h-4zM36 3h3v2h-3zM37 40h2v5h-2zM41 32h3v4h-3zM40 46h3v4h-3zM40 99h3v4h-3zM45 0h4v4h-4zM45 19h4v3h-4zM46 42h3v3h-3zM45 90h4v3h-4zM51 41h3v4h-3zM51 58h4v4h-4zM50 100h4v5h-4zM55 62h3v4h-3zM61 61h3v4h-3zM60 95h4v4h-4zM66 48h5v2h-5zM66 54h5v3h-5zM66 57h4v3h-4zM66 75h5v3h-5zM67 112h4v2h-4zM72 92h5v4h-5zM72 97h5v3h-5zM72 102h5v4h-5zM79 68h4v2h-4zM90 13h5v4h-5zM90 60h5v4h-5zM97 86h4v4h-4zM97 91h4v2h-4zM102 73h4v3h-4zM101 98h5v4h-5zM101 110h5v3h-5zM107 21h3v3h-3zM107 114h3v3h-3zM107 118h3v2h-3zM107 0h3v1h-3zM111 8h3v4h-3zM111 16h3v5h-3zM112 66h3v3h-3zM112 79h3v5h-3zM116 24h3v3h-3zM116 28h3v3h-3zM117 31h2v3h-2zM116 51h2v4h-2zM116 99h3v4h-3zM121 41h3v3h-3zM121 59h3v3h-3zM121 98h3v5h-3zM125 25h2v4h-2zM126 29h2v5h-2zM125 35h3v5h-3zM125 89h2v2h-2z"/><path transform="scale(.5)" fill="#c4b894" d="M4 46h4v3h-4zM5 60h4v2h-4zM5 76h4v2h-4zM5 96h3v3h-3zM10 27h4v2h-4zM9 31h4v3h-4zM9 119h5v1h-5zM9 0h5v3h-5zM21 44h4v3h-4zM22 59h3v2h-3zM21 67h4v3h-4zM21 84h4v3h-4zM26 23h3v4h-3zM26 48h3v3h-3zM26 69h4v2h-4zM31 13h4v5h-4zM30 78h4v2h-4zM31 82h5v5h-5zM37 6h2v3h-2zM37 16h2v3h-2zM36 49h3v4h-3zM36 54h3v4h-3zM37 102h2v4h-2zM41 37h3v3h-3zM40 55h3v2h-3zM41 109h2v3h-2zM40 118h3v2h-3zM40 0h3v2h-3zM45 46h4v2h-4zM45 61h4v3h-4zM45 114h4v4h-4zM50 1h3v3h-3zM50 37h4v4h-4zM50 55h4v3h-4zM50 95h3v5h-3zM60 58h4v2h-4zM60 65h3v4h-3zM60 74h4v4h-4zM60 84h4v4h-4zM60 88h4v3h-4zM61 116h3v3h-3zM67 36h4v4h-4zM66 45h4v3h-4zM66 64h4v3h-4zM66 89h4v4h-4zM72 12h4v3h-4zM72 45h5v2h-5zM72 85h5v2h-5zM79 6h4v4h-4zM79 18h4v4h-4zM78 53h4v4h-4zM91 29h4v3h-4zM97 2h3v4h-3zM97 11h4v3h-4zM97 80h4v4h-4zM97 114h3v4h-3zM101 44h5v4h-5zM108 36h2v4h-2zM107 43h3v4h-3zM107 47h2v2h-2zM107 51h3v4h-3zM107 102h3v3h-3zM112 2h3v2h-3zM111 12h3v3h-3zM112 43h3v2h-3zM112 85h3v3h-3zM116 113h3v4h-3zM121 37h3v2h-3zM125 97h2v3h-2zM125 100h2v4h-2zM126 105h2v5h-2z"/><rect x="2.8" y="0" width="0.9" height="60" fill="#e4dab6" opacity="0.75"/><rect x="12.4" y="0" width="0.8" height="60" fill="#e4dab6" opacity="0.75"/><rect x="22.6" y="0" width="0.9" height="60" fill="#e4dab6" opacity="0.75"/><rect x="32.9" y="0" width="0.8" height="60" fill="#e4dab6" opacity="0.75"/><rect x="43.1" y="0" width="0.9" height="60" fill="#e4dab6" opacity="0.75"/><rect x="53.4" y="0" width="0.8" height="60" fill="#e4dab6" opacity="0.75"/><rect x="0" y="4.3" width="64" height="0.9" fill="#e4dab6" opacity="0.75"/><rect x="0" y="15.2" width="64" height="0.8" fill="#e4dab6" opacity="0.75"/><rect x="0" y="25.9" width="64" height="0.9" fill="#e4dab6" opacity="0.75"/><rect x="0" y="36.8" width="64" height="0.8" fill="#e4dab6" opacity="0.75"/><rect x="0" y="47.5" width="64" height="0.9" fill="#e4dab6" opacity="0.75"/></pattern><pattern id="aQ" width="48" height="56" patternUnits="userSpaceOnUse" x="2" y="26"><rect width="48" height="56" fill="#d29682"/><path transform="scale(.5)" fill="#c36e64" d="M-6 6h17v6h-17zM90 6h17v6h-17zM9 -1h7v10h-7zM9 111h7v10h-7zM28 -4h8v13h-8zM28 108h8v13h-8zM38 -3h11v14h-11zM38 109h11v14h-11zM68 -2h11v8h-11zM68 110h11v8h-11zM21 8h10v8h-10zM69 9h7v13h-7zM88 11h7v9h-7zM49 15h9v10h-9zM63 11h8v14h-8zM71 15h11v12h-11zM4 26h13v9h-13zM21 26h9v6h-9zM19 29h16v11h-16zM35 30h12v9h-12zM26 35h7v9h-7zM66 35h8v9h-8zM72 31h16v11h-16zM62 40h10v9h-10zM79 44h8v7h-8zM0 55h10v8h-10zM16 52h8v13h-8zM33 50h12v8h-12zM54 48h9v9h-9zM74 55h8v9h-8zM-9 56h11v9h-11zM87 56h11v9h-11zM1 61h7v9h-7zM80 58h7v12h-7zM85 58h9v13h-9zM8 62h5v14h-5zM28 72h14v9h-14zM63 69h8v11h-8zM66 72h9v10h-9zM74 73h14v7h-14zM85 69h10v8h-10zM10 75h11v6h-11zM29 75h7v7h-7zM31 81h10v9h-10zM49 73h15v10h-15zM54 73h16v9h-16zM74 74h15v9h-15zM4 83h9v10h-9zM14 85h7v10h-7zM81 85h7v6h-7zM-2 94h8v9h-8zM94 94h8v9h-8zM20 92h10v13h-10zM23 97h16v8h-16zM48 92h7v12h-7zM73 95h6v11h-6zM75 95h8v10h-8zM-1 99h11v9h-11zM95 99h11v9h-11zM8 -13h9v14h-9zM8 99h9v14h-9zM16 105h14v7h-14zM30 -3h14v6h-14zM30 109h14v6h-14zM85 -4h10v7h-10zM85 108h10v7h-10z"/><path transform="scale(.5)" fill="#a55570" d="M18 4h6v7h-6zM15 17h11v12h-11zM52 22h7v9h-7zM1 48h12v7h-12zM54 41h7v16h-7zM20 54h11v16h-11zM34 57h15v6h-15zM48 60h8v11h-8zM73 56h9v18h-9zM27 82h14v8h-14zM32 92h14v10h-14zM20 103h16v7h-16zM40 103h10v6h-10zM58 -10h9v14h-9zM58 102h9v14h-9zM66 -6h10v7h-10zM66 106h10v7h-10z"/><path transform="scale(.5)" fill="#d78c73" d="M49 -7h6v16h-6zM49 105h6v16h-6zM50 -3h8v8h-8zM50 109h8v8h-8zM58 -4h11v8h-11zM58 108h11v8h-11zM84 -4h8v10h-8zM84 108h8v10h-8zM11 18h10v11h-10zM19 16h15v11h-15zM29 13h17v9h-17zM45 16h7v8h-7zM43 25h8v9h-8zM79 27h6v6h-6zM84 28h11v6h-11zM-2 39h9v9h-9zM94 39h9v9h-9zM52 34h7v12h-7zM42 48h13v6h-13zM6 54h11v6h-11zM47 51h8v12h-8zM2 65h9v11h-9zM13 71h11v5h-11zM42 66h11v7h-11zM50 64h11v9h-11zM40 91h7v6h-7zM72 82h6v13h-6zM-9 98h10v6h-10zM87 98h10v6h-10zM46 100h17v6h-17z"/><path transform="scale(.5)" fill="#b9646c" d="M77 -2h9v7h-9zM77 110h9v7h-9zM13 1h5v19h-5zM24 5h12v9h-12zM32 8h9v9h-9zM40 12h9v9h-9zM81 8h9v13h-9zM-2 15h8v9h-8zM94 15h8v9h-8zM-10 21h18v8h-18zM86 21h18v8h-18zM62 27h11v10h-11zM68 27h13v9h-13zM13 33h7v11h-7zM36 32h9v10h-9zM45 33h10v15h-10zM69 35h6v11h-6zM14 41h8v9h-8zM17 37h10v15h-10zM28 44h9v13h-9zM67 43h9v8h-9zM89 41h7v6h-7zM58 45h7v16h-7zM52 59h6v8h-6zM62 63h10v9h-10zM37 68h12v9h-12zM-1 76h8v9h-8zM95 76h8v9h-8zM16 77h9v10h-9zM44 76h14v10h-14zM71 78h11v7h-11zM-9 75h9v13h-9zM87 75h9v13h-9zM8 79h6v15h-6zM39 90h8v5h-8zM49 86h8v8h-8zM48 91h10v14h-10zM55 94h15v9h-15zM77 100h10v8h-10z"/><path transform="scale(.5)" fill="#e1c8aa" d="M-3 3h7v11h-7zM93 3h7v11h-7zM61 9h11v15h-11zM75 18h10v11h-10zM18 40h12v6h-12zM-6 33h9v14h-9zM90 33h9v14h-9zM36 42h6v16h-6zM25 56h12v6h-12zM12 61h7v12h-7zM54 89h16v7h-16zM-5 90h8v6h-8zM91 90h8v6h-8z"/><path transform="scale(.5)" fill="none" stroke="#c36e64" stroke-width="3.2" d="M53 0h10v17h-10z"/><path transform="scale(.5)" fill="none" stroke="#e1c8aa" stroke-width="3.2" d="M1 24h10v11h-10z"/><path transform="scale(.5)" fill="none" stroke="#d78c73" stroke-width="3.2" d="M77 45h11v15h-11z"/><rect x="4.2" y="0" width="1.3" height="56" fill="#e4dab4" opacity="0.7"/><rect x="28.2" y="0" width="1.2" height="56" fill="#e4dab4" opacity="0.7"/><rect x="0" y="10.6" width="48" height="1.3" fill="#e4dab4" opacity="0.7"/><rect x="0" y="38.6" width="48" height="1.2" fill="#e4dab4" opacity="0.7"/></pattern><pattern id="aS" width="64" height="64" patternUnits="userSpaceOnUse" x="47" y="29"><rect width="64" height="64" fill="#c8bc9b"/><path transform="scale(.5)" fill="#766456" d="M1 1h4v2h-4zM1 17h3v3h-3zM0 21h3v4h-3zM0 26h4v3h-4zM1 38h3v5h-3zM0 46h4v3h-4zM0 50h4v4h-4zM0 73h4v5h-4zM0 104h3v5h-3zM0 115h4v4h-4zM0 127h4v1h-4zM0 0h4v2h-4zM6 3h3v3h-3zM6 43h3v4h-3zM6 60h3v3h-3zM6 69h3v3h-3zM6 90h3v5h-3zM5 117h3v4h-3zM5 126h3v2h-3zM5 0h3v2h-3zM10 0h3v5h-3zM10 15h3v3h-3zM10 56h3v5h-3zM10 62h3v4h-3zM10 73h3v4h-3zM10 78h3v2h-3zM10 81h3v3h-3zM10 102h3v4h-3zM11 125h2v3h-2zM11 0h2v1h-2zM15 24h3v4h-3zM14 43h3v5h-3zM14 48h4v2h-4zM14 51h4v3h-4zM15 69h3v4h-3zM14 97h4v3h-4zM14 116h4v3h-4zM14 124h4v3h-4zM19 51h5v4h-5zM19 61h5v3h-5zM19 79h4v2h-4zM19 89h5v3h-5zM19 94h5v2h-5zM20 101h4v3h-4zM20 115h4v3h-4zM26 3h4v2h-4zM26 13h3v2h-3zM25 25h3v4h-3zM25 36h4v3h-4zM25 49h3v5h-3zM25 90h4v2h-4zM26 97h3v5h-3zM25 108h4v3h-4zM25 112h4v4h-4zM25 120h5v3h-5zM30 6h4v2h-4zM30 14h3v4h-3zM31 19h3v3h-3zM31 45h4v3h-4zM30 72h4v4h-4zM30 77h4v4h-4zM30 82h4v3h-4zM30 125h4v3h-4zM30 0h4v1h-4zM36 71h5v4h-5zM36 80h4v4h-4zM36 98h5v3h-5zM42 19h4v2h-4zM42 21h5v3h-5zM43 30h4v4h-4zM42 34h4v4h-4zM42 44h4v3h-4zM43 67h3v3h-3zM42 110h5v3h-5zM48 5h4v4h-4zM48 41h5v2h-5zM48 53h4v4h-4zM48 57h5v3h-5zM48 61h4v3h-4zM49 78h4v3h-4zM48 109h4v3h-4zM48 124h5v4h-5zM48 0h5v1h-5zM54 45h3v4h-3zM54 100h4v2h-4zM54 110h3v3h-3zM54 115h3v4h-3zM59 4h5v3h-5zM59 7h4v4h-4zM58 47h5v4h-5zM59 90h4v4h-4zM64 12h3v3h-3zM65 26h3v4h-3zM65 35h3v4h-3zM64 46h3v3h-3zM65 61h2v3h-2zM64 64h3v3h-3zM65 74h3v2h-3zM65 122h3v3h-3zM68 9h5v4h-5zM69 26h4v3h-4zM68 30h4v2h-4zM69 42h5v5h-5zM69 51h4v3h-4zM68 89h5v2h-5zM69 92h4v3h-4zM68 96h4v4h-4zM69 109h4v4h-4zM69 114h4v3h-4zM69 126h4v2h-4zM69 0h4v2h-4zM75 62h4v2h-4zM74 107h5v3h-5zM74 111h4v3h-4zM80 12h3v2h-3zM81 18h4v4h-4zM80 39h4v4h-4zM81 78h4v3h-4zM81 114h4v4h-4zM80 124h5v4h-5zM80 0h5v1h-5zM86 11h4v4h-4zM85 30h4v3h-4zM86 34h4v4h-4zM86 38h3v4h-3zM86 72h4v3h-4zM86 81h4v4h-4zM85 111h3v3h-3zM87 128h3v1h-3zM87 0h3v2h-3zM91 33h3v2h-3zM91 37h4v2h-4zM91 40h3v4h-3zM91 45h3v4h-3zM96 8h5v3h-5zM96 12h4v2h-4zM96 15h4v4h-4zM95 48h5v3h-5zM96 90h5v3h-5zM97 108h4v3h-4zM103 7h4v4h-4zM103 17h4v4h-4zM103 26h5v4h-5zM102 50h5v2h-5zM103 60h5v5h-5zM102 71h4v5h-4zM102 103h5v3h-5zM102 107h4v3h-4zM103 111h4v3h-4zM104 115h4v4h-4zM102 120h4v3h-4zM103 123h4v3h-4zM108 34h4v3h-4zM109 79h3v2h-3zM109 85h3v4h-3zM109 114h3v4h-3zM113 6h2v3h-2zM114 14h2v2h-2zM114 27h2v5h-2zM113 48h3v3h-3zM114 57h3v3h-3zM113 73h3v3h-3zM114 87h2v2h-2zM113 108h3v5h-3zM118 43h5v2h-5zM118 69h5v4h-5zM118 83h4v3h-4zM118 120h3v3h-3zM117 123h5v5h-5zM117 0h5v1h-5zM124 18h4v5h-4zM124 24h3v4h-3zM124 29h4v3h-4zM124 33h4v4h-4zM124 42h4v4h-4zM124 66h4v3h-4zM124 82h3v3h-3zM124 91h3v3h-3zM124 115h3v4h-3zM124 123h4v3h-4z"/><path transform="scale(.5)" fill="#b96c62" d="M0 5h3v2h-3zM1 30h3v2h-3zM1 33h3v5h-3zM0 44h4v2h-4zM0 64h4v3h-4zM0 69h4v3h-4zM0 79h3v3h-3zM5 6h3v3h-3zM5 24h3v4h-3zM6 38h2v4h-2zM5 52h3v2h-3zM6 101h3v3h-3zM5 104h3v3h-3zM6 112h3v4h-3zM5 123h3v2h-3zM10 32h3v4h-3zM10 39h3v2h-3zM10 42h3v3h-3zM10 46h2v5h-2zM10 111h3v3h-3zM10 114h2v3h-2zM14 7h4v2h-4zM14 30h4v2h-4zM14 60h4v3h-4zM14 74h4v4h-4zM15 92h3v4h-3zM15 111h3v4h-3zM19 20h5v4h-5zM19 38h4v5h-4zM19 56h5v4h-5zM19 65h5v3h-5zM19 111h4v4h-4zM19 128h4v1h-4zM19 0h4v2h-4zM25 6h5v2h-5zM25 33h4v2h-4zM25 40h4v3h-4zM25 70h5v3h-5zM25 74h4v3h-4zM25 81h5v2h-5zM30 10h4v4h-4zM30 32h4v4h-4zM30 57h4v4h-4zM30 89h4v5h-4zM30 117h4v4h-4zM36 17h5v3h-5zM36 37h4v2h-4zM36 40h5v3h-5zM37 53h5v4h-5zM36 63h5v3h-5zM36 76h5v3h-5zM36 85h4v4h-4zM36 89h5v3h-5zM37 121h4v5h-4zM36 127h4v1h-4zM36 0h4v3h-4zM42 26h4v3h-4zM42 53h4v4h-4zM42 86h4v3h-4zM43 97h4v4h-4zM42 120h4v2h-4zM43 127h4v1h-4zM43 0h4v3h-4zM48 13h4v3h-4zM49 21h4v2h-4zM48 28h5v2h-5zM48 36h4v4h-4zM48 73h5v4h-5zM48 91h4v3h-4zM48 113h4v3h-4zM48 118h5v2h-5zM54 39h3v4h-3zM54 54h3v4h-3zM54 58h4v4h-4zM54 86h3v4h-3zM59 13h5v3h-5zM59 22h4v3h-4zM58 39h4v4h-4zM60 58h4v4h-4zM58 66h5v4h-5zM59 71h4v4h-4zM58 79h5v4h-5zM59 104h4v3h-4zM64 40h3v4h-3zM64 57h3v4h-3zM64 97h3v4h-3zM64 113h2v4h-2zM69 14h4v2h-4zM68 22h4v4h-4zM69 34h4v4h-4zM68 69h5v5h-5zM68 84h4v5h-4zM68 100h4v4h-4zM69 118h4v2h-4zM68 122h5v4h-5zM75 17h4v4h-4zM74 22h4v2h-4zM74 65h5v4h-5zM74 70h4v4h-4zM74 87h5v5h-5zM75 94h4v2h-4zM74 101h5v4h-5zM80 7h4v4h-4zM80 22h4v5h-4zM81 33h4v4h-4zM80 44h4v5h-4zM80 50h4v2h-4zM80 57h4v3h-4zM81 86h3v3h-3zM81 94h4v3h-4zM81 111h4v3h-4zM80 120h4v4h-4zM86 25h4v4h-4zM86 50h4v2h-4zM86 62h3v4h-3zM86 76h4v2h-4zM86 79h3v2h-3zM86 119h4v4h-4zM86 124h4v2h-4zM91 1h4v4h-4zM91 6h3v5h-3zM91 17h4v4h-4zM91 21h4v4h-4zM91 76h3v2h-3zM91 108h3v4h-3zM91 122h4v3h-4zM96 0h4v4h-4zM96 44h5v2h-5zM96 56h4v3h-4zM96 76h5v4h-5zM96 85h5v4h-5zM96 100h4v3h-4zM103 22h4v2h-4zM102 37h5v2h-5zM103 95h4v3h-4zM109 2h4v2h-4zM109 6h4v4h-4zM109 10h3v4h-3zM109 16h3v3h-3zM109 24h3v5h-3zM109 38h4v3h-4zM109 46h3v3h-3zM109 50h4v3h-4zM109 60h3v3h-3zM109 123h3v2h-3zM109 126h3v2h-3zM109 0h3v1h-3zM113 10h3v3h-3zM113 18h3v4h-3zM113 22h3v4h-3zM113 32h3v3h-3zM114 39h3v4h-3zM113 52h3v4h-3zM113 65h2v2h-2zM113 94h3v4h-3zM114 114h3v2h-3zM113 117h3v4h-3zM118 34h4v5h-4zM118 40h4v2h-4zM118 46h5v3h-5zM118 65h4v3h-4zM118 87h5v3h-5zM118 96h4v3h-4zM118 111h4v3h-4zM124 4h4v3h-4zM124 8h4v4h-4zM124 64h4v2h-4zM124 70h4v2h-4zM124 94h3v3h-3zM124 103h4v3h-4zM124 107h4v3h-4zM124 111h4v2h-4zM124 119h3v2h-3z"/><path transform="scale(.5)" fill="#cd8770" d="M0 9h3v4h-3zM1 83h3v4h-3zM1 87h3v4h-3zM1 96h3v4h-3zM0 119h4v2h-4zM0 122h4v4h-4zM5 19h3v4h-3zM6 48h3v3h-3zM6 63h3v5h-3zM5 108h3v4h-3zM10 5h3v4h-3zM10 11h3v3h-3zM10 19h2v4h-2zM10 28h3v2h-3zM10 37h3v2h-3zM10 52h3v3h-3zM10 86h3v4h-3zM10 117h3v3h-3zM14 2h4v4h-4zM15 19h3v4h-3zM14 33h3v4h-3zM14 56h4v4h-4zM15 65h3v3h-3zM15 78h3v2h-3zM14 86h3v5h-3zM14 120h4v4h-4zM19 6h5v4h-5zM19 16h4v3h-4zM19 24h4v3h-4zM19 44h4v2h-4zM19 85h5v4h-5zM19 105h5v4h-5zM25 20h4v3h-4zM25 54h4v3h-4zM25 92h4v3h-4zM25 103h4v4h-4zM25 125h4v3h-4zM25 0h4v1h-4zM30 2h3v4h-3zM31 27h3v4h-3zM31 37h3v2h-3zM30 41h4v4h-4zM30 63h3v4h-3zM30 67h4v5h-4zM30 86h4v2h-4zM30 95h4v4h-4zM30 100h4v3h-4zM30 104h4v2h-4zM30 108h3v4h-3zM37 13h4v3h-4zM36 43h5v4h-5zM36 49h5v3h-5zM36 106h5v5h-5zM36 111h5v5h-5zM36 117h4v4h-4zM43 9h4v4h-4zM43 58h3v4h-3zM42 83h4v2h-4zM42 90h5v2h-5zM48 0h4v4h-4zM48 17h4v3h-4zM48 24h5v3h-5zM48 31h4v4h-4zM48 45h4v2h-4zM49 70h4v2h-4zM48 82h5v5h-5zM54 16h3v4h-3zM54 22h4v3h-4zM54 34h3v4h-3zM54 64h3v4h-3zM54 72h4v2h-4zM54 76h4v3h-4zM54 119h3v5h-3zM59 30h4v4h-4zM59 34h4v3h-4zM59 43h4v3h-4zM59 63h4v2h-4zM59 95h4v4h-4zM58 108h5v5h-5zM65 21h3v5h-3zM64 77h3v4h-3zM64 82h3v3h-3zM64 87h3v4h-3zM64 92h3v5h-3zM64 107h3v5h-3zM64 118h3v3h-3zM68 6h4v3h-4zM69 79h4v4h-4zM75 4h4v3h-4zM75 11h4v5h-4zM74 25h5v3h-5zM75 44h4v4h-4zM75 128h4v1h-4zM75 0h4v2h-4zM81 14h4v2h-4zM81 30h3v2h-3zM81 53h4v3h-4zM80 65h4v2h-4zM81 90h4v2h-4zM86 7h3v3h-3zM86 44h3v5h-3zM86 86h4v5h-4zM86 93h3v4h-3zM86 116h4v2h-4zM91 26h3v2h-3zM91 54h3v2h-3zM91 79h3v4h-3zM91 83h3v3h-3zM91 87h4v3h-4zM91 91h4v3h-4zM91 100h4v3h-4zM91 118h3v3h-3zM91 125h4v3h-4zM91 0h4v1h-4zM96 25h5v3h-5zM96 28h4v4h-4zM95 33h5v2h-5zM95 36h5v2h-5zM96 39h5v4h-5zM95 95h5v4h-5zM96 104h4v3h-4zM96 112h4v5h-4zM96 121h5v4h-5zM97 127h4v1h-4zM97 0h4v3h-4zM103 4h5v3h-5zM102 12h4v3h-4zM103 31h4v5h-4zM109 20h3v3h-3zM109 29h4v5h-4zM109 42h4v4h-4zM109 64h3v4h-3zM109 82h3v3h-3zM109 90h4v4h-4zM108 95h4v5h-4zM109 100h3v5h-3zM109 110h3v3h-3zM113 36h3v2h-3zM114 60h3v3h-3zM114 91h2v2h-2zM113 100h3v4h-3zM118 2h4v2h-4zM118 5h4v4h-4zM118 10h4v4h-4zM118 15h4v4h-4zM118 20h5v4h-5zM118 29h5v4h-5zM118 75h5v3h-5zM118 108h4v2h-4zM118 115h4v4h-4zM125 50h3v3h-3zM124 86h3v4h-3zM124 98h3v4h-3z"/><path transform="scale(.5)" fill="#5c5046" d="M0 14h4v2h-4zM0 56h4v2h-4zM0 92h4v3h-4zM1 101h3v3h-3zM0 110h3v3h-3zM5 10h3v5h-3zM5 73h2v3h-2zM10 68h3v4h-3zM10 90h3v4h-3zM10 107h3v3h-3zM14 39h4v3h-4zM19 29h4v4h-4zM19 124h4v3h-4zM25 16h5v4h-5zM25 44h4v4h-4zM25 58h4v4h-4zM30 50h4v3h-4zM30 113h3v3h-3zM36 22h5v3h-5zM37 67h4v3h-4zM43 72h4v3h-4zM42 103h4v5h-4zM49 48h4v5h-4zM49 87h3v3h-3zM54 1h4v4h-4zM59 85h4v4h-4zM59 125h4v3h-4zM65 54h3v2h-3zM64 68h3v5h-3zM68 1h5v5h-5zM69 55h4v3h-4zM74 53h5v5h-5zM75 97h4v3h-4zM74 115h5v2h-5zM74 123h5v3h-5zM81 3h3v2h-3zM81 69h3v3h-3zM80 73h4v5h-4zM80 82h5v3h-5zM80 98h4v3h-4zM86 52h4v3h-4zM86 97h3v5h-3zM91 12h3v3h-3zM91 94h3v4h-3zM91 113h3v4h-3zM96 5h5v3h-5zM103 40h4v4h-4zM102 82h5v3h-5zM102 99h5v3h-5zM109 69h3v5h-3zM109 75h4v3h-4zM114 1h3v4h-3zM113 68h3v5h-3zM118 25h4v3h-4zM118 91h5v3h-5z"/><path transform="scale(.5)" fill="#96866e" d="M0 59h4v4h-4zM6 55h3v4h-3zM5 76h3v4h-3zM6 81h3v3h-3zM5 96h3v4h-3zM10 96h3v5h-3zM15 10h3v4h-3zM14 15h3v2h-3zM14 82h4v4h-4zM14 105h4v5h-4zM19 0h4v4h-4zM20 11h4v3h-4zM19 34h4v3h-4zM20 47h4v4h-4zM19 73h4v4h-4zM19 97h5v4h-5zM19 119h5v4h-5zM30 24h3v3h-3zM30 53h4v2h-4zM36 26h5v4h-5zM36 102h4v3h-4zM42 4h4v4h-4zM43 48h4v4h-4zM43 64h3v2h-3zM42 79h4v2h-4zM42 93h4v4h-4zM43 123h4v3h-4zM48 10h4v2h-4zM54 6h3v4h-3zM54 11h3v4h-3zM54 27h3v3h-3zM54 31h3v3h-3zM54 50h3v3h-3zM54 69h3v3h-3zM54 92h3v2h-3zM54 95h3v4h-3zM54 104h3v2h-3zM54 107h3v3h-3zM54 125h3v2h-3zM58 27h4v2h-4zM59 52h4v5h-4zM59 76h4v2h-4zM59 100h4v3h-4zM59 114h4v4h-4zM58 119h4v4h-4zM65 3h3v4h-3zM64 7h3v4h-3zM64 15h3v4h-3zM64 31h3v4h-3zM64 127h3v1h-3zM64 0h3v1h-3zM69 18h4v3h-4zM68 60h5v3h-5zM68 64h5v4h-5zM74 8h5v2h-5zM75 35h4v3h-4zM74 39h4v5h-4zM75 49h4v3h-4zM75 83h4v3h-4zM74 118h5v4h-5zM80 27h4v3h-4zM81 60h4v4h-4zM81 104h3v5h-3zM86 4h3v3h-3zM86 22h4v2h-4zM86 108h4v2h-4zM91 29h3v3h-3zM91 50h3v4h-3zM91 57h4v3h-4zM91 60h3v4h-3zM91 65h3v4h-3zM91 103h4v4h-4zM96 21h5v3h-5zM96 52h5v3h-5zM96 60h4v2h-4zM96 63h5v3h-5zM96 71h5v3h-5zM96 80h5v4h-5zM96 117h4v3h-4zM102 77h5v4h-5zM103 86h4v5h-4zM103 127h4v1h-4zM103 0h4v2h-4zM109 106h3v2h-3zM114 78h3v3h-3zM113 82h3v4h-3zM113 105h3v3h-3zM113 122h3v4h-3zM117 60h5v4h-5zM118 79h4v3h-4zM118 99h4v3h-4zM125 14h3v3h-3zM124 60h4v3h-4zM124 73h3v4h-3zM124 127h4v1h-4zM124 0h4v1h-4z"/><path transform="scale(.5)" fill="#cdc3a0" d="M6 15h2v3h-2zM6 29h3v4h-3zM6 33h2v4h-2zM5 84h3v5h-3zM10 23h3v4h-3zM10 120h3v4h-3zM15 102h3v3h-3zM19 70h5v2h-5zM19 82h5v2h-5zM25 10h4v3h-4zM25 30h4v3h-4zM25 64h3v5h-3zM25 78h4v2h-4zM25 85h5v4h-5zM25 117h4v3h-4zM30 122h4v2h-4zM36 3h4v3h-4zM36 7h4v5h-4zM36 31h5v5h-5zM36 58h5v4h-5zM36 94h5v3h-5zM43 14h4v3h-4zM42 38h5v4h-5zM42 76h5v2h-5zM42 114h4v4h-4zM48 64h4v4h-4zM49 94h3v4h-3zM49 100h4v3h-4zM48 104h4v4h-4zM49 121h3v2h-3zM54 81h3v4h-3zM59 17h4v4h-4zM64 49h3v4h-3zM64 102h3v3h-3zM68 39h5v2h-5zM69 48h4v2h-4zM68 74h5v4h-5zM69 106h4v3h-4zM74 29h4v4h-4zM74 59h5v2h-5zM74 75h5v4h-5zM74 80h5v3h-5zM81 101h3v2h-3zM86 16h4v4h-4zM86 56h4v4h-4zM86 67h4v3h-4zM86 104h4v4h-4zM91 70h4v4h-4zM96 67h4v3h-4zM102 0h5v2h-5zM103 45h5v4h-5zM102 54h5v2h-5zM103 57h4v3h-4zM102 66h5v4h-5zM103 91h4v3h-4zM108 54h4v5h-4zM109 119h3v3h-3zM113 43h3v4h-3zM118 51h4v2h-4zM118 54h4v2h-4zM118 57h5v2h-5zM118 103h4v4h-4zM124 39h4v2h-4zM124 46h4v3h-4zM124 54h4v5h-4zM124 78h4v3h-4z"/><rect x="2.8" y="0" width="0.9" height="64" fill="#e4dab6" opacity="0.75"/><rect x="12.4" y="0" width="0.8" height="64" fill="#e4dab6" opacity="0.75"/><rect x="22.6" y="0" width="0.9" height="64" fill="#e4dab6" opacity="0.75"/><rect x="32.9" y="0" width="0.8" height="64" fill="#e4dab6" opacity="0.75"/><rect x="43.1" y="0" width="0.9" height="64" fill="#e4dab6" opacity="0.75"/><rect x="53.4" y="0" width="0.8" height="64" fill="#e4dab6" opacity="0.75"/><rect x="0" y="4.7" width="64" height="0.9" fill="#e4dab6" opacity="0.75"/><rect x="0" y="16.2" width="64" height="0.8" fill="#e4dab6" opacity="0.75"/><rect x="0" y="27.7" width="64" height="0.9" fill="#e4dab6" opacity="0.75"/><rect x="0" y="39.3" width="64" height="0.8" fill="#e4dab6" opacity="0.75"/><rect x="0" y="50.8" width="64" height="0.9" fill="#e4dab6" opacity="0.75"/></pattern><filter id="bla" x="0" y="0" width="100%" height="100%"><feGaussianBlur stdDeviation="0.45"/></filter></defs><g filter="url(#bla)"><rect width="248.5" height="311.5" fill="url(#aR)"/><polygon points="0.0,0.0 248.5,0.0 248.5,134.0 249.0,134.0 200.0,153.5 160.0,152.5 80.0,145.5 0.0,131.0" fill="url(#aU)"/><rect x="0" y="154" width="44" height="38" fill="url(#au)"/><rect x="55" y="150" width="19" height="53" fill="url(#aQ)"/><rect x="0" y="192" width="44" height="52" fill="url(#aS)"/><rect x="47" y="203" width="53" height="34" fill="url(#aS)"/><rect x="118" y="154" width="131" height="36" fill="url(#aU)"/><rect x="64" y="237" width="77" height="75" fill="url(#aP)"/><rect x="141" y="231" width="59" height="31" fill="url(#aS)"/><rect x="141" y="262" width="49" height="40" fill="url(#aP)"/><rect x="151" y="271" width="24" height="23" fill="url(#aM)"/><rect x="213" y="0" width="36" height="30" fill="url(#aT)"/><rect x="170" y="26" width="32" height="46" fill="url(#au)"/><rect x="111" y="44" width="35" height="35" fill="url(#au)"/><polygon points="31.0,60.0 196.0,60.0 196.0,145.0 160.0,144.0 80.0,137.0 31.0,128.0" fill="url(#aD)"/><polygon points="72.0,222.0 88.0,222.0 121.0,295.0 105.0,295.0" fill="url(#aP)"/><polygon points="100.0,196.0 118.0,196.0 118.0,206.0 100.0,206.0" fill="url(#aP)"/><polyline points="0.0,186.0 124.0,234.0" fill="none" stroke="#e6dcb4" stroke-width="2.2" opacity="0.75"/><path d="M46.5 0V311.5M109 0V311.5M159.5 0V311.5M198.5 0V311.5M231.5 0V311.5M0 28.3H248.5M0 61.3H248.5M0 77.8H125M0 95H248.5M0 112.3H248.5M0 198.5H248.5M0 233.4H248.5M0 290H248.5M70.5 217 L112.5 287.6" stroke="#e6dcb4" stroke-width="1.0" opacity="0.5" fill="none"/><polyline points="0.0,131.0 80.0,145.5 160.0,152.5 200.0,153.5 249.0,134.0" fill="none" stroke="#e6dcb4" stroke-width="2.6" opacity="0.75"/><polyline points="200.0,154.0 249.0,161.0" fill="none" stroke="#e6dcb4" stroke-width="1.8" opacity="0.7"/><path fill="none" stroke="#6a3a8c" stroke-width="1.5" d="M122.9 80.7v5.9h8.9M107.7 20.9v5.8h8.4M243.7 49.3h9.9v7.7M26.8 50.2v5.3h4.4M17.8 77.5v-5.8h9.6v5.8M216.6 103.0v5.1h8.8v-5.1M212.1 68.2v-6.6h6.6v6.6M171.8 135.6h7.4v5.7M86.0 26.5v9.7h7.5M103.4 25.1v-8.7h7.0v8.7M158.5 74.8v4.5h5.1v-4.5M229.8 131.2h8.5v4.2M203.0 127.6h4.1v5.0M245.5 13.2v7.4h5.4M166.2 46.9v5.6h6.8"/><path fill="none" stroke="#4a3388" stroke-width="1.5" d="M6.9 51.8h4.4v6.8M152.8 60.8v5.1h5.4M98.8 103.0v-8.6h5.6v8.6M79.5 11.3h9.2v5.1M211.4 93.7h4.9v4.6M241.3 113.8v8.8h8.5M49.6 19.1v7.6h7.8v-7.6M85.5 64.4v8.7h8.9M73.8 39.9h6.0v7.6M205.8 106.6v-5.2h9.4v5.2"/><path fill="none" stroke="#2e2f78" stroke-width="1.5" d="M157.0 129.6v7.8h8.1M3.5 65.8v-10.0h9.1v10.0M81.5 119.9h5.6v9.4M242.1 4.3v8.4h9.1M207.7 146.5v-7.0h9.8v7.0M114.1 45.9v4.9h9.5M66.9 111.3v8.0h4.6M152.3 78.7v-5.2h5.7v5.2M70.5 90.4v-4.5h8.6v4.5M234.0 21.3v4.2h5.7M153.1 113.8v4.0h8.7M227.2 8.2h4.2v5.8M92.8 89.3v9.8h6.3M233.5 142.1v8.8h7.3v-8.8M232.0 73.6v-9.5h6.0v9.5M71.3 11.1v5.3h5.2v-5.3M58.0 68.7h10.0v9.7M34.8 140.6v7.2h6.9M33.4 36.1h7.7v8.4M202.0 76.4h5.2v7.0"/><path fill="none" stroke="#4a3388" stroke-width="1.4" d="M237.8 183.1v-5.2h8.9v5.2M102.9 214.3v8.5h8.7M122.0 178.6v-6.2h7.2v6.2M206.9 302.8h7.2v5.7M115.5 194.7v6.0h4.6M239.8 242.2v6.0h8.2v-6.0"/><path fill="none" stroke="#6a3a8c" stroke-width="1.4" d="M233.3 207.5v4.8h6.5M125.5 169.8v6.6h6.4M195.9 267.3v-5.6h7.6v5.6M233.7 152.5h8.3v7.0M159.3 265.3v6.4h5.7M237.4 298.5h5.3v5.9"/><path fill="none" stroke="#2e2f78" stroke-width="1.4" d="M190.6 181.5h7.0v4.2M225.7 209.7v8.5h6.8M222.3 237.8v-4.1h4.5v4.1"/><path fill="#b86a78" d="M60.5 231.1h7.9v2.1h-7.9zM230.2 214.2h2.5v7.4h-2.5zM7.0 191.7h7.9v2.0h-7.9zM81.4 235.4h2.3v8.2h-2.3zM80.2 199.7h2.0v5.7h-2.0zM168.4 267.2h3.0v6.0h-3.0zM143.8 245.8h5.7v2.3h-5.7zM97.4 303.0h2.3v4.6h-2.3zM204.8 235.5h4.9v2.9h-4.9zM2.3 152.7h1.9v4.8h-1.9zM81.5 245.1h3.3v2.2h-3.3zM14.8 236.1h5.0v2.0h-5.0zM119.4 166.5h2.4v7.6h-2.4zM202.4 301.6h2.6v4.0h-2.6zM215.1 249.3h2.2v7.0h-2.2zM141.0 189.2h7.5v2.7h-7.5zM76.8 216.8h4.1v2.1h-4.1zM141.0 197.8h4.1v2.0h-4.1zM1.5 224.4h5.1v2.6h-5.1zM191.9 207.3h3.1v2.5h-3.1zM67.1 284.7h2.6v6.5h-2.6zM19.7 274.2h4.2v2.9h-4.2zM63.5 274.7h6.2v2.4h-6.2zM206.8 263.5h6.7v2.7h-6.7zM54.1 295.9h7.7v2.2h-7.7zM80.0 259.5h2.7v5.8h-2.7zM246.8 178.8h4.0v2.8h-4.0zM235.9 225.7h1.9v4.0h-1.9zM122.7 305.3h2.6v5.8h-2.6zM11.5 170.8h3.0v3.1h-3.0zM66.8 220.1h5.9v2.0h-5.9zM237.4 255.9h8.2v2.0h-8.2zM104.9 284.2h5.4v2.1h-5.4zM231.8 283.2h4.1v2.4h-4.1zM224.1 206.0h3.6v2.4h-3.6zM169.2 305.8h2.3v7.5h-2.3zM94.6 261.1h4.1v2.2h-4.1z"/><path fill="#c8786a" d="M145.6 208.2h3.0v5.4h-3.0zM91.3 276.9h2.0v7.6h-2.0zM108.9 285.2h8.4v3.0h-8.4zM146.5 309.9h6.1v2.3h-6.1zM244.1 284.0h2.9v9.0h-2.9zM130.1 281.4h2.8v8.0h-2.8zM55.9 267.7h3.0v4.3h-3.0zM86.6 296.9h5.9v2.4h-5.9zM60.0 274.4h7.8v2.9h-7.8zM158.1 175.0h2.0v5.5h-2.0zM210.3 224.1h8.9v1.9h-8.9zM88.5 278.4h1.9v5.9h-1.9zM119.7 237.9h5.3v2.5h-5.3zM39.9 281.7h5.8v2.8h-5.8zM23.5 151.4h7.4v2.2h-7.4zM161.0 159.5h8.8v2.3h-8.8zM156.1 276.1h2.1v4.9h-2.1zM1.2 265.2h1.9v8.0h-1.9zM167.5 199.6h1.8v8.8h-1.8zM74.5 287.1h7.3v2.1h-7.3zM79.1 281.6h4.6v1.9h-4.6zM231.7 285.7h2.8v8.4h-2.8zM47.6 299.7h2.1v7.4h-2.1zM54.6 242.3h3.8v2.3h-3.8zM61.6 197.4h2.2v6.9h-2.2zM164.9 151.9h2.7v7.4h-2.7zM99.7 196.0h3.5v2.7h-3.5zM156.7 202.5h2.8v4.8h-2.8zM206.8 285.4h5.1v2.0h-5.1zM3.8 197.6h3.4v2.1h-3.4zM222.6 259.1h2.5v8.6h-2.5zM241.1 290.5h2.1v8.7h-2.1zM169.3 240.8h5.1v2.7h-5.1zM32.7 189.0h3.6v1.8h-3.6zM37.6 290.6h8.4v2.3h-8.4zM93.6 196.1h6.9v2.6h-6.9zM89.8 239.8h5.5v2.2h-5.5zM210.0 199.9h2.0v6.1h-2.0zM203.0 221.5h2.1v5.4h-2.1zM9.7 286.3h2.9v6.9h-2.9zM71.1 294.9h2.3v8.5h-2.3z"/><path fill="#c07a70" d="M43.5 309.3h3.1v2.3h-3.1zM220.3 197.6h3.9v2.6h-3.9zM34.7 260.8h2.9v5.4h-2.9zM78.8 214.8h2.2v8.8h-2.2zM152.5 249.3h2.8v4.0h-2.8zM140.5 288.2h2.4v6.6h-2.4zM189.1 260.1h1.8v5.3h-1.8zM43.7 228.0h2.6v3.5h-2.6zM99.3 199.6h5.0v2.2h-5.0zM208.8 310.0h2.3v4.2h-2.3zM55.2 177.6h1.9v8.3h-1.9zM71.2 190.6h2.8v4.5h-2.8zM112.7 194.2h8.5v2.8h-8.5zM131.3 287.9h4.3v2.4h-4.3zM188.5 300.6h2.3v4.4h-2.3zM97.7 280.5h6.3v2.8h-6.3zM56.7 273.0h5.2v2.8h-5.2zM15.6 285.4h8.1v2.7h-8.1zM216.3 168.6h7.9v2.1h-7.9zM218.6 284.8h3.7v2.5h-3.7zM102.6 181.0h2.1v7.3h-2.1zM58.5 272.8h4.9v2.6h-4.9zM92.8 208.2h2.7v3.5h-2.7zM46.8 291.1h8.2v2.7h-8.2zM193.7 219.8h3.0v7.7h-3.0zM52.1 154.9h1.9v6.6h-1.9zM84.6 190.0h2.8v4.2h-2.8zM187.6 169.0h6.0v2.5h-6.0zM135.7 159.6h2.5v4.3h-2.5zM228.5 187.5h6.9v2.1h-6.9zM77.8 155.4h2.4v4.3h-2.4zM161.3 277.9h3.2v2.1h-3.2zM159.4 181.2h3.0v8.3h-3.0zM233.7 231.4h2.3v5.3h-2.3zM7.5 216.5h5.6v2.1h-5.6zM175.7 202.7h7.0v2.2h-7.0zM142.9 167.4h7.1v2.3h-7.1zM201.2 174.2h1.8v4.5h-1.8zM201.6 160.2h3.1v1.9h-3.1zM63.2 169.9h2.1v6.6h-2.1zM20.2 150.8h6.7v2.4h-6.7zM230.7 275.2h6.6v1.8h-6.6zM135.1 217.9h2.2v8.5h-2.2zM103.1 203.9h7.9v3.0h-7.9zM37.7 304.7h2.5v7.5h-2.5zM17.4 178.4h7.9v2.5h-7.9zM191.8 198.5h2.9v3.7h-2.9z"/><path fill="#d2907a" d="M226.5 307.9h5.9v3.0h-5.9zM219.9 178.8h8.3v2.7h-8.3zM101.6 269.9h6.6v1.8h-6.6zM237.0 161.7h6.2v2.7h-6.2zM208.4 259.9h5.4v2.4h-5.4zM74.5 248.8h1.9v7.6h-1.9zM70.9 224.7h1.9v8.9h-1.9zM209.4 194.4h4.4v2.6h-4.4zM66.6 267.3h3.1v2.8h-3.1zM162.6 204.2h8.0v2.5h-8.0zM160.1 185.5h6.4v2.1h-6.4zM228.1 291.6h4.9v2.1h-4.9zM117.1 223.4h2.5v3.2h-2.5zM93.4 310.4h2.5v8.2h-2.5zM84.2 286.3h4.5v3.0h-4.5zM227.5 171.0h5.2v1.8h-5.2zM3.9 206.6h2.7v8.7h-2.7zM151.5 250.9h2.4v4.3h-2.4zM40.0 264.8h5.5v2.5h-5.5zM119.1 277.6h7.8v2.2h-7.8zM177.8 196.0h2.2v5.2h-2.2zM200.1 261.7h2.6v9.0h-2.6zM117.5 157.0h5.9v2.5h-5.9zM66.6 291.7h2.7v4.8h-2.7zM14.3 220.1h1.9v7.2h-1.9z"/><rect x="41.0" y="103.5" width="2.8" height="2.5" fill="#2d2f72"/><rect x="245.9" y="71.2" width="3.4" height="1.9" fill="#6a3f8a"/><rect x="58.7" y="0.5" width="2.2" height="2.7" fill="#2d2f72"/><rect x="36.0" y="112.7" width="3.3" height="2.9" fill="#3a3a80"/><rect x="247.9" y="110.8" width="3.3" height="2.7" fill="#2d2f72"/><rect x="237.8" y="81.0" width="2.9" height="2.8" fill="#3a3a80"/><rect x="5.8" y="111.2" width="1.7" height="3.1" fill="#2d2f72"/><rect x="112.6" y="82.8" width="2.2" height="2.5" fill="#2d2f72"/><rect x="165.3" y="70.5" width="3.1" height="1.6" fill="#2d2f72"/><rect x="51.8" y="145.3" width="3.3" height="3.0" fill="#6a3f8a"/><rect x="245.7" y="10.6" width="2.6" height="2.6" fill="#3a3a80"/><rect x="50.0" y="138.5" width="3.3" height="2.3" fill="#3a3a80"/><rect x="237.2" y="75.2" width="2.1" height="2.5" fill="#3a3a80"/><rect x="6.7" y="14.0" width="2.9" height="3.5" fill="#3a3a80"/><rect x="0.7" y="10.5" width="2.7" height="2.5" fill="#6a3f8a"/><rect x="151.3" y="83.5" width="2.7" height="1.9" fill="#2d2f72"/><rect x="155.7" y="125.0" width="2.2" height="3.0" fill="#3a3a80"/><rect x="61.1" y="25.3" width="3.3" height="1.8" fill="#3a3a80"/><rect x="93.2" y="102.5" width="2.9" height="3.3" fill="#2d2f72"/><rect x="101.1" y="148.4" width="3.4" height="2.7" fill="#3a3a80"/><rect x="238.1" y="172.7" width="1.2" height="3.0" fill="#2d2f72"/><rect x="174.4" y="269.4" width="2.8" height="2.6" fill="#2d2f72"/><rect x="57.6" y="305.0" width="1.8" height="2.3" fill="#6a3f8a"/><rect x="176.0" y="157.8" width="2.8" height="2.3" fill="#6a3f8a"/><rect x="104.7" y="179.2" width="1.4" height="2.2" fill="#2d2f72"/><rect x="173.5" y="248.9" width="1.7" height="2.9" fill="#6a3f8a"/><rect x="223.8" y="290.6" width="2.9" height="2.1" fill="#6a3f8a"/><rect x="205.1" y="257.8" width="1.5" height="1.3" fill="#2d2f72"/><rect x="104.2" y="190.6" width="1.7" height="2.8" fill="#6a3f8a"/><rect x="164.3" y="298.0" width="1.8" height="1.9" fill="#2d2f72"/><rect x="73.9" y="246.2" width="2.2" height="2.0" fill="#6a3f8a"/><rect x="21.9" y="310.9" width="1.8" height="2.0" fill="#6a3f8a"/><rect x="14.4" y="285.9" width="1.6" height="1.6" fill="#2d2f72"/><rect x="24.0" y="294.6" width="1.5" height="2.2" fill="#6a3f8a"/><circle cx="29" cy="168.7" r="3.5" fill="#4f8fe0"/><circle cx="240" cy="157.8" r="3.4" fill="#4f8fe0"/><circle cx="224" cy="136" r="2" fill="#4f8fe0"/><circle cx="157" cy="46" r="3" fill="#4f8fe0"/><circle cx="145.3" cy="51.5" r="2.5" fill="#4f8fe0"/></g><polyline points="111.3,275.0 115.5,283.0 116.2,293.8" fill="none" stroke="#111" stroke-width="1" stroke-dasharray="1.2 0.8"/></svg></div>
<div style="position:absolute;left:269.5px;top:16px;width:248.5px;height:311.5px;background:#b39a95;overflow:hidden"><svg width="248.5" height="311.5" style="display:block"><defs><pattern id="bU" width="124" height="124" patternUnits="userSpaceOnUse" x="39" y="81"><rect width="124" height="124" fill="#dcceb0"/><path transform="scale(.5)" fill="#e4d7b4" d="M-1 1h3v5h-3zM247 1h3v5h-3zM153 -1h3v5h-3zM153 247h3v5h-3zM162 -1h3v4h-3zM162 247h3v4h-3zM184 2h6v5h-6zM216 2h5v3h-5zM32 7h5v6h-5zM71 7h3v5h-3zM101 3h3v5h-3zM204 5h3v5h-3zM219 9h5v3h-5zM43 13h4v5h-4zM53 13h5v4h-5zM77 14h5v3h-5zM85 13h5v4h-5zM95 11h3v4h-3zM100 12h5v4h-5zM134 10h5v5h-5zM13 17h4v3h-4zM50 16h4v5h-4zM104 18h5v5h-5zM124 16h4v5h-4zM158 19h5v3h-5zM165 16h3v4h-3zM183 14h3v4h-3zM218 14h4v4h-4zM243 15h4v4h-4zM56 21h4v5h-4zM89 23h5v4h-5zM141 20h4v3h-4zM171 20h3v6h-3zM181 20h4v6h-4zM233 21h5v5h-5zM26 24h4v4h-4zM69 25h4v4h-4zM84 28h5v5h-5zM113 29h4v3h-4zM127 28h3v3h-3zM156 27h5v5h-5zM41 32h6v5h-6zM47 33h3v5h-3zM56 34h3v3h-3zM73 33h3v3h-3zM90 31h5v5h-5zM128 32h5v4h-5zM155 30h4v4h-4zM205 32h4v4h-4zM216 30h3v5h-3zM45 37h3v5h-3zM75 38h4v5h-4zM92 39h3v3h-3zM124 39h3v3h-3zM132 36h3v4h-3zM178 36h4v3h-4zM184 36h5v5h-5zM222 39h5v4h-5zM-3 35h3v5h-3zM245 35h3v5h-3zM20 44h5v5h-5zM55 43h3v4h-3zM86 44h5v4h-5zM208 40h5v4h-5zM213 39h5v6h-5zM233 42h3v5h-3zM116 47h4v4h-4zM132 49h5v4h-5zM140 46h5v4h-5zM145 49h5v4h-5zM150 49h5v4h-5zM169 46h4v3h-4zM204 47h5v5h-5zM208 47h5v4h-5zM3 51h5v3h-5zM16 51h3v3h-3zM44 53h3v6h-3zM137 54h5v4h-5zM144 55h4v5h-4zM172 50h3v4h-3zM228 51h5v3h-5zM13 59h3v4h-3zM18 59h5v5h-5zM36 58h4v3h-4zM117 55h3v6h-3zM180 57h3v4h-3zM194 56h5v3h-5zM213 58h4v3h-4zM218 59h3v3h-3zM-3 57h4v3h-4zM245 57h4v3h-4zM20 63h5v4h-5zM76 64h4v3h-4zM128 61h6v5h-6zM155 61h3v5h-3zM205 63h3v3h-3zM221 64h5v4h-5zM-2 68h5v4h-5zM246 68h5v4h-5zM85 70h5v4h-5zM116 69h4v4h-4zM207 69h3v5h-3zM211 65h3v5h-3zM217 68h4v3h-4zM230 67h5v4h-5zM53 71h3v4h-3zM161 74h4v5h-4zM209 73h5v3h-5zM224 70h4v5h-4zM237 71h3v4h-3zM40 77h4v3h-4zM48 80h4v6h-4zM68 78h3v4h-3zM148 77h5v3h-5zM175 81h3v3h-3zM208 78h5v4h-5zM212 80h5v3h-5zM231 76h4v5h-4zM241 78h3v4h-3zM29 84h4v5h-4zM78 82h6v5h-6zM95 82h5v3h-5zM98 85h3v4h-3zM160 83h4v5h-4zM200 84h5v3h-5zM221 85h4v4h-4zM241 85h5v4h-5zM43 89h4v4h-4zM46 88h3v5h-3zM55 90h5v4h-5zM87 86h4v4h-4zM101 90h5v5h-5zM187 86h4v5h-4zM211 86h5v4h-5zM222 89h5v5h-5zM22 94h4v3h-4zM56 92h5v4h-5zM80 95h6v5h-6zM109 96h3v4h-3zM192 93h4v3h-4zM238 92h3v4h-3zM18 98h5v4h-5zM56 97h6v5h-6zM64 100h3v4h-3zM105 97h4v5h-4zM110 98h5v3h-5zM141 98h3v3h-3zM167 101h5v3h-5zM217 97h4v3h-4zM229 96h4v5h-4zM-3 97h4v5h-4zM245 97h4v5h-4zM22 102h5v4h-5zM29 103h4v5h-4zM81 104h4v4h-4zM89 103h4v5h-4zM111 102h4v5h-4zM125 102h3v4h-3zM149 106h4v4h-4zM170 105h6v3h-6zM176 102h5v3h-5zM186 103h3v5h-3zM193 106h4v6h-4zM214 104h3v3h-3zM52 108h4v4h-4zM103 107h4v4h-4zM123 106h5v5h-5zM128 108h5v5h-5zM166 112h4v3h-4zM197 108h5v4h-5zM225 110h5v5h-5zM240 109h5v5h-5zM83 113h3v5h-3zM97 116h3v4h-3zM198 113h4v4h-4zM6 122h5v4h-5zM17 117h5v4h-5zM19 117h3v4h-3zM40 118h4v5h-4zM46 121h5v3h-5zM77 119h4v5h-4zM103 120h5v3h-5zM119 117h3v3h-3zM-3 122h4v3h-4zM245 122h4v3h-4zM8 125h5v4h-5zM33 125h4v4h-4zM35 125h5v4h-5zM52 126h4v5h-4zM120 125h4v4h-4zM138 125h4v3h-4zM170 123h5v3h-5zM198 126h4v5h-4zM205 127h4v4h-4zM237 126h4v5h-4zM17 127h3v4h-3zM24 129h4v5h-4zM35 127h4v5h-4zM55 131h3v4h-3zM59 131h5v6h-5zM87 128h4v4h-4zM94 133h3v3h-3zM152 131h5v4h-5zM162 130h4v5h-4zM241 130h4v5h-4zM35 135h3v3h-3zM60 135h3v3h-3zM171 135h4v5h-4zM240 133h3v5h-3zM8 138h3v5h-3zM18 138h5v5h-5zM28 141h3v3h-3zM77 141h5v3h-5zM88 139h5v5h-5zM103 141h4v5h-4zM151 140h3v4h-3zM173 141h3v5h-3zM192 140h4v3h-4zM35 145h4v5h-4zM41 144h5v4h-5zM129 144h3v4h-3zM143 145h3v3h-3zM170 147h5v3h-5zM189 145h5v4h-5zM52 153h4v4h-4zM156 150h4v5h-4zM194 150h3v3h-3zM198 153h4v3h-4zM215 150h3v3h-3zM21 155h5v4h-5zM36 154h4v5h-4zM69 154h4v6h-4zM92 155h5v4h-5zM112 155h4v4h-4zM131 156h4v3h-4zM146 155h6v4h-6zM171 155h5v3h-5zM189 154h5v4h-5zM195 154h5v5h-5zM220 155h4v4h-4zM224 155h3v4h-3zM230 155h3v5h-3zM28 159h3v4h-3zM38 161h4v3h-4zM70 158h5v5h-5zM71 161h3v5h-3zM194 160h4v4h-4zM196 160h3v3h-3zM209 162h5v3h-5zM3 167h5v3h-5zM29 168h5v3h-5zM43 163h5v5h-5zM58 167h4v3h-4zM75 167h5v5h-5zM154 167h4v4h-4zM210 165h5v5h-5zM238 167h4v4h-4zM19 168h3v5h-3zM47 173h4v5h-4zM82 170h4v4h-4zM117 174h3v3h-3zM144 169h5v4h-5zM167 169h3v3h-3zM231 171h3v3h-3zM44 176h5v4h-5zM91 177h3v4h-3zM96 174h4v5h-4zM139 175h5v4h-5zM161 177h5v3h-5zM182 176h3v5h-3zM191 174h4v4h-4zM43 180h5v6h-5zM50 183h5v6h-5zM168 184h3v3h-3zM219 184h5v3h-5zM238 181h5v4h-5zM36 189h5v3h-5zM95 189h4v3h-4zM126 187h3v4h-3zM196 185h3v5h-3zM224 184h5v6h-5zM25 190h3v4h-3zM81 191h5v5h-5zM141 194h4v5h-4zM172 194h4v3h-4zM179 190h5v3h-5zM191 192h5v3h-5zM229 192h3v4h-3zM70 199h3v5h-3zM117 195h5v3h-5zM163 196h3v4h-3zM220 198h4v5h-4zM225 198h4v5h-4zM88 202h3v5h-3zM130 203h5v5h-5zM133 201h5v5h-5zM142 202h4v6h-4zM231 204h4v5h-4zM17 206h4v3h-4zM65 208h3v5h-3zM122 209h5v3h-5zM142 208h3v4h-3zM176 207h3v4h-3zM182 205h5v3h-5zM185 205h3v5h-3zM-2 207h3v5h-3zM246 207h3v5h-3zM93 215h4v4h-4zM96 211h5v4h-5zM162 212h4v3h-4zM166 212h4v4h-4zM214 213h5v5h-5zM226 212h5v5h-5zM240 214h3v5h-3zM243 214h3v4h-3zM14 218h4v5h-4zM15 219h5v3h-5zM32 217h4v5h-4zM59 216h5v5h-5zM75 215h3v4h-3zM82 217h3v5h-3zM104 218h4v3h-4zM130 216h3v3h-3zM198 219h6v5h-6zM243 217h5v5h-5zM13 224h4v5h-4zM18 224h4v5h-4zM57 225h4v4h-4zM131 222h3v3h-3zM143 225h3v4h-3zM167 224h3v3h-3zM195 221h4v3h-4zM217 223h3v3h-3zM238 221h3v3h-3zM16 229h6v5h-6zM35 231h4v4h-4zM142 229h4v4h-4zM227 227h4v6h-4zM235 225h4v5h-4zM238 230h4v3h-4zM28 231h4v3h-4zM138 234h5v4h-5zM165 235h3v3h-3zM70 236h5v4h-5zM78 241h5v3h-5zM85 236h6v4h-6zM129 236h3v5h-3zM187 238h3v5h-3zM244 239h3v6h-3zM68 -3h4v5h-4zM68 245h4v5h-4zM74 243h6v5h-6zM162 241h4v5h-4zM181 243h3v4h-3zM237 243h5v3h-5z"/><path transform="scale(.5)" fill="#be695f" d="M7 1h3v5h-3zM27 1h4v3h-4zM75 2h5v3h-5zM127 2h5v5h-5zM134 2h4v4h-4zM174 -1h4v5h-4zM174 247h4v5h-4zM-3 1h5v3h-5zM245 1h5v3h-5zM18 7h5v4h-5zM67 6h3v4h-3zM88 8h5v5h-5zM104 6h3v3h-3zM144 4h4v4h-4zM183 4h4v5h-4zM210 6h4v4h-4zM210 6h4v5h-4zM226 3h3v4h-3zM3 11h4v3h-4zM30 8h3v5h-3zM37 9h4v5h-4zM48 12h5v4h-5zM109 9h5v3h-5zM116 12h4v5h-4zM123 13h4v4h-4zM143 13h3v3h-3zM160 9h4v5h-4zM177 9h5v5h-5zM215 12h3v5h-3zM244 13h3v4h-3zM25 14h5v5h-5zM38 18h3v5h-3zM40 16h3v5h-3zM67 14h4v4h-4zM107 17h3v5h-3zM114 16h5v5h-5zM145 16h4v4h-4zM209 13h3v5h-3zM221 14h3v4h-3zM227 15h4v3h-4zM24 24h5v4h-5zM31 23h4v3h-4zM96 22h5v4h-5zM113 20h5v4h-5zM192 23h3v4h-3zM199 22h3v4h-3zM240 19h4v5h-4zM14 26h3v3h-3zM20 29h3v4h-3zM50 25h4v5h-4zM61 26h3v4h-3zM106 25h6v4h-6zM130 25h4v5h-4zM135 26h5v3h-5zM150 29h4v3h-4zM159 26h5v4h-5zM187 24h4v4h-4zM192 24h4v5h-4zM208 29h5v3h-5zM-1 33h3v6h-3zM247 33h3v6h-3zM11 29h4v5h-4zM19 32h3v4h-3zM24 29h3v5h-3zM81 32h4v5h-4zM92 33h5v3h-5zM99 29h5v5h-5zM126 30h4v4h-4zM198 30h4v3h-4zM234 29h5v5h-5zM60 40h3v3h-3zM77 34h5v4h-5zM80 38h5v5h-5zM150 40h3v3h-3zM154 35h3v5h-3zM192 38h3v4h-3zM239 36h5v4h-5zM40 43h4v4h-4zM56 44h4v3h-4zM65 40h5v5h-5zM100 42h5v5h-5zM108 44h3v5h-3zM120 43h5v4h-5zM128 44h4v3h-4zM158 40h3v3h-3zM226 40h3v3h-3zM17 48h5v3h-5zM20 47h3v5h-3zM64 46h3v4h-3zM9 53h3v3h-3zM56 52h3v3h-3zM73 54h5v4h-5zM188 51h3v4h-3zM231 52h3v4h-3zM60 58h5v5h-5zM96 58h5v4h-5zM129 60h4v4h-4zM134 59h4v5h-4zM141 56h4v5h-4zM150 58h5v3h-5zM171 56h3v4h-3zM205 57h4v3h-4zM19 59h4v6h-4zM29 61h4v5h-4zM41 61h3v5h-3zM69 62h4v4h-4zM142 60h5v5h-5zM186 61h5v4h-5zM198 64h4v3h-4zM208 60h3v4h-3zM233 64h4v5h-4zM38 65h3v4h-3zM40 66h5v3h-5zM53 67h5v5h-5zM93 70h3v5h-3zM104 68h3v5h-3zM131 69h5v5h-5zM145 69h5v4h-5zM163 65h3v5h-3zM181 67h3v3h-3zM13 73h4v4h-4zM24 73h5v3h-5zM39 71h3v5h-3zM58 74h3v3h-3zM61 72h5v3h-5zM68 75h4v3h-4zM71 74h5v4h-5zM85 74h4v5h-4zM109 71h4v3h-4zM119 74h5v5h-5zM124 73h4v4h-4zM139 73h3v4h-3zM211 74h3v4h-3zM9 80h3v5h-3zM36 79h4v4h-4zM71 78h4v5h-4zM87 78h6v3h-6zM94 77h3v4h-3zM112 79h5v5h-5zM182 80h5v4h-5zM205 77h3v4h-3zM225 76h4v3h-4zM39 81h3v4h-3zM42 83h5v4h-5zM46 83h3v5h-3zM70 80h5v5h-5zM83 83h4v5h-4zM104 81h3v5h-3zM109 84h5v3h-5zM111 86h5v4h-5zM141 82h4v5h-4zM155 83h3v3h-3zM174 80h3v5h-3zM216 84h5v5h-5zM32 87h4v5h-4zM66 89h4v4h-4zM119 87h4v3h-4zM130 87h5v4h-5zM182 89h5v5h-5zM202 87h3v5h-3zM228 87h4v5h-4zM245 86h3v5h-3zM8 94h3v5h-3zM12 91h5v6h-5zM26 93h3v4h-3zM30 96h5v3h-5zM46 93h3v4h-3zM68 91h5v5h-5zM126 92h3v5h-3zM131 93h5v3h-5zM146 93h3v3h-3zM207 94h3v4h-3zM212 96h4v3h-4zM42 100h3v3h-3zM52 101h5v4h-5zM69 99h6v5h-6zM127 98h4v4h-4zM207 101h5v4h-5zM0 102h4v4h-4zM248 102h4v4h-4zM14 104h4v5h-4zM39 106h4v5h-4zM40 106h4v5h-4zM69 102h5v4h-5zM80 102h3v5h-3zM98 105h3v6h-3zM114 105h3v4h-3zM159 104h5v4h-5zM197 101h3v4h-3zM208 103h3v4h-3zM215 101h5v5h-5zM7 112h5v3h-5zM13 107h3v5h-3zM39 110h4v5h-4zM65 109h4v5h-4zM91 109h4v3h-4zM95 110h4v5h-4zM108 110h4v4h-4zM142 111h5v5h-5zM177 109h3v4h-3zM203 111h3v4h-3zM33 115h5v3h-5zM51 115h4v5h-4zM67 115h5v5h-5zM71 114h3v5h-3zM143 114h4v4h-4zM170 116h4v3h-4zM174 114h4v5h-4zM236 115h5v4h-5zM10 121h5v5h-5zM64 120h4v5h-4zM148 121h4v3h-4zM185 119h5v3h-5zM213 121h5v3h-5zM-1 124h5v3h-5zM247 124h5v3h-5zM27 124h5v4h-5zM82 123h4v4h-4zM93 125h4v4h-4zM116 122h5v3h-5zM162 125h4v3h-4zM178 122h3v5h-3zM201 125h5v5h-5zM218 126h4v3h-4zM233 125h3v4h-3zM-3 126h5v5h-5zM245 126h5v5h-5zM22 130h4v3h-4zM48 131h4v5h-4zM62 131h4v3h-4zM140 130h5v5h-5zM165 132h5v3h-5zM172 131h5v3h-5zM183 131h4v4h-4zM192 129h3v3h-3zM232 129h5v3h-5zM6 133h5v5h-5zM23 137h3v3h-3zM62 137h3v3h-3zM102 135h4v5h-4zM132 135h3v4h-3zM138 134h5v4h-5zM155 134h4v5h-4zM235 134h5v3h-5zM11 140h3v3h-3zM31 139h5v5h-5zM55 138h3v5h-3zM100 139h5v3h-5zM120 139h4v5h-4zM210 143h4v3h-4zM228 138h4v3h-4zM11 145h4v4h-4zM51 146h5v4h-5zM88 146h3v4h-3zM101 145h5v5h-5zM109 145h5v5h-5zM139 143h4v4h-4zM153 147h3v3h-3zM155 144h4v3h-4zM219 144h3v3h-3zM221 146h5v4h-5zM41 148h3v4h-3zM60 151h5v5h-5zM89 149h3v5h-3zM93 151h4v5h-4zM97 151h3v4h-3zM110 147h4v5h-4zM123 150h6v3h-6zM139 151h3v4h-3zM161 149h3v5h-3zM205 150h5v5h-5zM227 150h5v4h-5zM6 155h5v5h-5zM121 154h3v4h-3zM152 153h5v5h-5zM210 157h3v3h-3zM4 160h5v4h-5zM32 162h5v4h-5zM59 164h4v3h-4zM61 160h5v6h-5zM96 162h3v5h-3zM98 161h4v4h-4zM133 161h5v3h-5zM141 161h4v5h-4zM143 159h5v3h-5zM219 159h5v4h-5zM220 158h5v4h-5zM234 160h3v4h-3zM66 163h5v4h-5zM86 164h3v5h-3zM92 164h6v4h-6zM122 165h5v4h-5zM133 166h3v5h-3zM138 166h3v4h-3zM172 164h3v4h-3zM174 166h4v5h-4zM183 165h4v4h-4zM184 164h5v5h-5zM195 168h4v3h-4zM224 164h3v3h-3zM227 168h3v4h-3zM-3 165h5v5h-5zM245 165h5v5h-5zM2 169h4v5h-4zM29 169h4v5h-4zM72 172h4v5h-4zM92 173h3v5h-3zM203 173h5v3h-5zM220 173h5v4h-5zM227 170h5v5h-5zM25 177h4v4h-4zM54 178h4v3h-4zM59 177h5v3h-5zM68 174h4v5h-4zM97 176h4v5h-4zM106 178h4v4h-4zM146 175h4v5h-4zM168 175h3v5h-3zM174 179h4v3h-4zM194 175h5v5h-5zM213 174h5v5h-5zM24 180h5v4h-5zM33 183h3v4h-3zM62 180h5v4h-5zM142 182h5v3h-5zM156 183h4v5h-4zM184 180h5v5h-5zM212 180h3v4h-3zM12 187h4v3h-4zM30 187h4v5h-4zM47 189h3v3h-3zM52 187h5v6h-5zM72 184h5v4h-5zM144 186h3v4h-3zM176 185h5v4h-5zM182 188h4v3h-4zM189 186h3v4h-3zM190 187h5v4h-5zM200 189h5v4h-5zM119 192h4v3h-4zM133 190h4v4h-4zM156 190h5v6h-5zM178 191h5v4h-5zM203 190h5v4h-5zM235 190h5v3h-5zM-1 197h5v5h-5zM247 197h5v5h-5zM17 195h5v3h-5zM42 197h3v3h-3zM54 195h4v5h-4zM72 196h6v5h-6zM108 197h3v5h-3zM139 199h4v4h-4zM178 197h5v5h-5zM191 195h6v3h-6zM200 195h5v3h-5zM211 197h5v4h-5zM240 195h3v5h-3zM243 199h3v5h-3zM0 203h4v4h-4zM17 202h4v4h-4zM39 205h3v3h-3zM53 203h3v6h-3zM97 200h4v4h-4zM118 201h3v5h-3zM122 200h5v4h-5zM146 202h3v3h-3zM151 203h4v4h-4zM159 203h4v3h-4zM188 204h5v3h-5zM211 204h4v4h-4zM221 201h4v3h-4zM32 207h4v3h-4zM39 207h4v4h-4zM50 206h3v4h-3zM51 208h3v4h-3zM69 205h4v5h-4zM80 207h3v4h-3zM94 208h5v4h-5zM112 208h3v4h-3zM156 207h4v3h-4zM161 206h3v5h-3zM172 207h3v5h-3zM206 206h4v5h-4zM237 205h4v4h-4zM40 213h4v5h-4zM58 213h3v5h-3zM77 210h5v5h-5zM103 213h5v5h-5zM112 211h3v5h-3zM133 214h4v4h-4zM138 210h4v3h-4zM174 213h4v6h-4zM204 215h3v4h-3zM51 217h4v4h-4zM54 216h5v4h-5zM75 216h5v4h-5zM98 218h5v3h-5zM123 218h6v4h-6zM147 216h4v3h-4zM150 217h5v5h-5zM217 219h3v3h-3zM239 217h4v4h-4zM4 223h4v4h-4zM25 221h3v5h-3zM44 224h4v3h-4zM69 225h3v4h-3zM90 220h4v5h-4zM95 220h4v4h-4zM109 222h3v3h-3zM136 224h3v3h-3zM157 223h3v5h-3zM159 224h4v4h-4zM180 224h5v4h-5zM200 223h4v5h-4zM206 225h3v5h-3zM223 221h3v4h-3zM-2 221h4v5h-4zM246 221h4v5h-4zM3 225h4v5h-4zM20 225h4v5h-4zM46 229h4v4h-4zM65 228h4v3h-4zM99 231h4v3h-4zM137 229h3v4h-3zM158 227h3v4h-3zM206 228h4v5h-4zM2 233h4v3h-4zM44 234h5v3h-5zM71 234h3v4h-3zM136 235h5v4h-5zM149 234h4v5h-4zM210 236h4v4h-4zM219 232h3v4h-3zM224 232h4v4h-4zM240 232h4v3h-4zM4 238h5v3h-5zM18 240h3v3h-3zM85 236h4v5h-4zM118 241h5v3h-5zM139 240h3v5h-3zM145 240h3v5h-3zM154 239h6v3h-6zM162 237h4v4h-4zM171 241h4v3h-4zM183 236h5v3h-5zM55 242h5v3h-5zM61 -3h5v5h-5zM61 245h5v5h-5zM94 -5h3v5h-3zM94 243h3v5h-3zM110 242h5v4h-5zM145 -3h4v5h-4zM145 245h4v5h-4zM171 243h3v4h-3zM243 242h3v3h-3z"/><path transform="scale(.5)" fill="#967d69" d="M19 -2h4v4h-4zM19 246h4v4h-4zM24 3h4v3h-4zM46 1h3v5h-3zM77 2h3v3h-3zM148 0h3v5h-3zM213 3h4v3h-4zM0 5h4v3h-4zM248 5h4v3h-4zM141 6h4v5h-4zM165 7h3v5h-3zM184 6h5v5h-5zM103 8h4v5h-4zM128 12h4v5h-4zM157 11h5v4h-5zM230 9h3v4h-3zM8 15h3v3h-3zM98 15h3v3h-3zM119 16h3v3h-3zM198 15h4v5h-4zM35 20h5v5h-5zM43 19h4v4h-4zM49 21h4v3h-4zM122 23h4v4h-4zM146 18h5v5h-5zM186 19h4v4h-4zM210 20h6v4h-6zM222 21h3v6h-3zM243 22h4v6h-4zM3 27h4v3h-4zM99 27h4v3h-4zM108 25h4v4h-4zM174 27h5v5h-5zM197 28h4v3h-4zM37 32h5v4h-5zM119 30h4v5h-4zM137 30h3v5h-3zM152 32h4v5h-4zM168 32h6v5h-6zM174 30h4v3h-4zM180 31h5v4h-5zM203 29h4v5h-4zM239 30h4v5h-4zM8 35h5v5h-5zM68 40h4v3h-4zM0 42h4v4h-4zM34 42h3v5h-3zM49 43h5v3h-5zM139 40h5v5h-5zM145 42h4v4h-4zM158 40h6v5h-6zM174 44h4v3h-4zM197 41h4v3h-4zM225 40h3v4h-3zM238 41h5v4h-5zM35 45h5v5h-5zM45 45h4v3h-4zM73 47h3v4h-3zM88 48h4v5h-4zM111 49h3v5h-3zM233 45h3v4h-3zM54 54h4v4h-4zM111 51h3v5h-3zM120 54h4v3h-4zM131 50h4v5h-4zM180 53h5v5h-5zM205 53h3v4h-3zM207 52h3v5h-3zM217 54h4v4h-4zM-2 55h5v5h-5zM246 55h5v5h-5zM30 58h5v3h-5zM44 60h5v4h-5zM84 56h3v4h-3zM92 59h5v4h-5zM120 55h3v4h-3zM162 59h5v3h-5zM222 57h3v3h-3zM226 60h4v4h-4zM126 61h3v5h-3zM136 64h4v5h-4zM184 60h3v5h-3zM193 63h3v4h-3zM210 62h4v5h-4zM217 62h3v5h-3zM236 64h5v5h-5zM-3 62h4v5h-4zM245 62h4v5h-4zM11 69h3v4h-3zM88 68h5v5h-5zM119 65h3v4h-3zM135 71h5v3h-5zM150 71h5v3h-5zM156 70h3v4h-3zM184 70h5v5h-5zM199 66h3v5h-3zM223 69h5v3h-5zM231 68h4v5h-4zM242 66h4v3h-4zM31 75h4v4h-4zM87 71h4v5h-4zM158 74h4v5h-4zM167 73h3v5h-3zM187 73h4v4h-4zM195 73h5v3h-5zM204 75h3v4h-3zM242 70h4v5h-4zM17 76h5v5h-5zM32 76h4v5h-4zM85 78h3v3h-3zM153 81h5v4h-5zM2 85h3v4h-3zM13 85h3v4h-3zM120 81h4v3h-4zM180 83h5v5h-5zM3 90h4v4h-4zM12 90h3v3h-3zM20 88h5v4h-5zM25 89h5v3h-5zM86 92h4v5h-4zM89 96h3v3h-3zM116 95h4v4h-4zM174 91h5v5h-5zM186 92h4v3h-4zM202 96h4v3h-4zM229 92h3v3h-3zM31 99h5v6h-5zM47 97h3v3h-3zM72 97h3v3h-3zM144 97h3v3h-3zM161 98h3v3h-3zM177 97h3v5h-3zM181 99h4v5h-4zM230 98h5v4h-5zM7 103h4v4h-4zM54 102h3v5h-3zM63 105h4v6h-4zM120 105h3v3h-3zM141 106h3v4h-3zM145 104h5v4h-5zM224 105h5v5h-5zM242 106h4v5h-4zM42 109h4v5h-4zM65 110h3v3h-3zM76 111h4v5h-4zM113 109h6v4h-6zM189 110h5v3h-5zM232 106h4v5h-4zM243 111h5v3h-5zM6 112h4v5h-4zM55 115h5v3h-5zM60 116h5v5h-5zM120 114h3v5h-3zM148 115h4v5h-4zM168 112h4v4h-4zM189 113h3v3h-3zM189 117h5v4h-5zM23 120h5v5h-5zM80 118h5v5h-5zM94 122h3v4h-3zM99 120h3v4h-3zM123 120h4v4h-4zM135 119h3v4h-3zM153 120h4v5h-4zM161 120h5v5h-5zM195 120h5v3h-5zM204 119h3v4h-3zM229 119h4v5h-4zM65 124h4v3h-4zM103 124h5v3h-5zM108 125h4v5h-4zM157 125h3v5h-3zM214 122h5v4h-5zM4 131h5v4h-5zM12 129h4v4h-4zM31 131h3v3h-3zM133 132h3v4h-3zM198 131h3v3h-3zM219 130h3v4h-3zM10 137h4v3h-4zM39 136h4v5h-4zM49 134h3v4h-3zM100 136h4v4h-4zM147 136h3v3h-3zM213 134h5v5h-5zM231 135h3v3h-3zM36 140h4v3h-4zM51 139h5v4h-5zM68 142h4v5h-4zM132 140h5v5h-5zM235 142h5v3h-5zM241 140h5v3h-5zM0 148h4v3h-4zM73 147h4v5h-4zM119 143h5v4h-5zM123 147h5v5h-5zM161 143h5v4h-5zM10 151h5v3h-5zM36 147h5v6h-5zM65 149h4v4h-4zM72 149h4v5h-4zM105 149h4v4h-4zM113 149h3v5h-3zM145 149h5v5h-5zM170 153h5v3h-5zM-1 156h6v4h-6zM247 156h6v4h-6zM26 158h4v3h-4zM31 157h3v4h-3zM78 154h5v3h-5zM81 157h5v5h-5zM161 157h6v6h-6zM182 158h5v4h-5zM208 156h5v6h-5zM2 161h4v4h-4zM22 160h4v5h-4zM79 161h4v3h-4zM-5 162h5v5h-5zM243 162h5v5h-5zM1 168h4v3h-4zM73 166h3v6h-3zM104 165h6v4h-6zM116 167h4v3h-4zM146 165h4v6h-4zM151 168h4v4h-4zM234 164h5v3h-5zM5 174h5v3h-5zM66 169h4v5h-4zM180 172h3v5h-3zM215 172h3v5h-3zM23 177h3v3h-3zM61 175h5v3h-5zM126 178h4v3h-4zM173 176h4v4h-4zM234 177h4v4h-4zM68 183h4v3h-4zM76 180h4v4h-4zM129 181h4v3h-4zM137 183h5v5h-5zM160 183h5v5h-5zM179 181h4v5h-4zM197 184h4v3h-4zM201 180h5v4h-5zM25 184h3v5h-3zM90 185h3v4h-3zM106 188h5v4h-5zM113 187h5v5h-5zM121 187h5v5h-5zM163 189h4v4h-4zM171 185h5v3h-5zM209 189h4v3h-4zM218 187h3v4h-3zM242 188h3v3h-3zM66 190h4v5h-4zM101 193h4v6h-4zM147 193h3v4h-3zM186 191h3v3h-3zM194 193h4v5h-4zM206 194h5v3h-5zM214 193h3v6h-3zM242 191h3v3h-3zM19 199h3v3h-3zM77 198h3v3h-3zM99 196h5v4h-5zM114 200h4v3h-4zM143 198h5v4h-5zM152 198h6v4h-6zM190 196h3v5h-3zM200 198h3v3h-3zM14 204h3v4h-3zM184 202h3v5h-3zM201 201h5v4h-5zM57 206h4v3h-4zM89 205h4v4h-4zM98 210h4v4h-4zM105 205h4v4h-4zM130 206h3v4h-3zM189 205h4v5h-4zM223 204h5v6h-5zM12 214h5v4h-5zM45 210h5v3h-5zM73 213h4v3h-4zM128 214h3v5h-3zM146 213h6v4h-6zM156 212h4v4h-4zM173 214h5v5h-5zM190 210h3v5h-3zM219 210h5v4h-5zM22 218h4v5h-4zM87 215h4v4h-4zM176 216h5v5h-5zM190 216h5v4h-5zM213 216h4v3h-4zM21 221h4v4h-4zM65 223h3v5h-3zM85 225h5v5h-5zM177 223h5v4h-5zM231 222h5v4h-5zM28 230h4v3h-4zM84 226h4v5h-4zM91 226h3v5h-3zM92 229h3v3h-3zM200 227h3v4h-3zM222 230h5v3h-5zM-2 226h3v5h-3zM246 226h3v5h-3zM7 233h3v5h-3zM10 232h4v5h-4zM15 235h6v3h-6zM42 232h3v4h-3zM86 235h4v4h-4zM101 231h4v3h-4zM108 234h3v4h-3zM154 235h5v4h-5zM195 232h4v4h-4zM202 232h5v4h-5zM235 233h4v5h-4zM-1 240h4v3h-4zM247 240h4v3h-4zM32 241h3v3h-3zM67 238h4v5h-4zM101 236h5v5h-5zM116 240h4v4h-4zM167 240h4v4h-4zM177 237h5v3h-5zM192 240h3v3h-3zM220 240h5v4h-5zM238 241h3v4h-3zM10 -4h5v5h-5zM10 244h5v5h-5zM50 -2h3v4h-3zM50 246h3v4h-3zM78 -2h3v3h-3zM78 246h3v3h-3zM86 -2h3v4h-3zM86 246h3v4h-3zM88 -3h4v4h-4zM88 245h4v4h-4zM114 243h3v4h-3zM228 241h4v4h-4z"/><path transform="scale(.5)" fill="#4664af" d="M32 0h5v4h-5zM36 -1h3v3h-3zM36 247h3v3h-3zM89 0h4v6h-4zM209 2h4v3h-4zM239 -2h5v3h-5zM239 246h5v3h-5zM43 6h3v5h-3zM52 5h4v5h-4zM133 5h5v4h-5zM74 12h4v4h-4zM89 9h6v4h-6zM151 12h3v3h-3zM165 12h4v3h-4zM225 13h3v3h-3zM3 16h3v3h-3zM64 14h5v4h-5zM135 15h4v4h-4zM8 21h3v4h-3zM10 21h4v5h-4zM73 22h5v5h-5zM134 20h4v5h-4zM152 22h4v4h-4zM166 20h4v5h-4zM40 25h5v3h-5zM87 29h5v3h-5zM201 27h3v3h-3zM231 27h5v4h-5zM60 31h6v4h-6zM36 38h5v5h-5zM225 38h4v5h-4zM234 35h5v5h-5zM84 42h4v3h-4zM103 44h4v3h-4zM242 43h4v5h-4zM4 48h3v5h-3zM198 46h5v3h-5zM148 53h5v3h-5zM167 52h5v4h-5zM174 52h3v3h-3zM6 58h5v3h-5zM54 59h3v4h-3zM60 58h3v4h-3zM191 55h5v5h-5zM59 62h4v5h-4zM147 75h6v4h-6zM234 71h6v5h-6zM128 78h4v5h-4zM161 81h5v4h-5zM220 80h4v4h-4zM229 77h4v4h-4zM52 87h4v4h-4zM63 88h3v5h-3zM100 91h5v5h-5zM222 94h5v3h-5zM101 101h3v4h-3zM138 98h3v4h-3zM168 101h5v4h-5zM199 101h4v4h-4zM10 104h3v3h-3zM31 110h3v5h-3zM75 111h4v4h-4zM217 107h5v5h-5zM110 114h5v6h-5zM131 111h4v5h-4zM-1 119h4v5h-4zM247 119h4v5h-4zM57 122h5v4h-5zM68 120h4v3h-4zM110 117h3v5h-3zM176 121h5v3h-5zM42 123h3v4h-3zM123 123h5v5h-5zM129 124h5v5h-5zM180 126h5v6h-5zM186 125h4v5h-4zM76 132h3v4h-3zM199 130h5v4h-5zM227 131h3v5h-3zM135 133h5v5h-5zM221 137h4v3h-4zM-2 135h3v3h-3zM246 135h3v3h-3zM93 142h5v3h-5zM130 139h3v3h-3zM136 146h5v5h-5zM234 145h3v4h-3zM17 150h6v5h-6zM76 152h5v5h-5zM184 151h5v3h-5zM73 153h3v4h-3zM50 160h3v5h-3zM152 162h5v6h-5zM166 159h5v5h-5zM173 161h3v4h-3zM15 167h6v4h-6zM208 165h6v5h-6zM54 170h3v4h-3zM40 177h4v4h-4zM116 175h3v4h-3zM135 177h4v5h-4zM202 178h3v3h-3zM112 182h3v3h-3zM-1 187h5v5h-5zM247 187h5v5h-5zM99 187h5v4h-5zM127 187h5v4h-5zM234 188h3v4h-3zM20 194h6v3h-6zM33 193h4v4h-4zM102 194h4v4h-4zM111 191h3v5h-3zM114 193h4v5h-4zM132 190h4v4h-4zM148 192h4v5h-4zM11 196h4v3h-4zM82 200h5v3h-5zM74 202h3v4h-3zM78 201h3v4h-3zM94 204h4v4h-4zM174 203h3v4h-3zM217 203h3v5h-3zM48 216h4v5h-4zM118 219h5v5h-5zM133 217h5v5h-5zM139 218h5v3h-5zM2 222h5v4h-5zM47 222h3v5h-3zM51 224h3v4h-3zM55 226h3v5h-3zM74 225h3v5h-3zM175 226h4v3h-4zM52 231h4v5h-4zM95 234h3v5h-3zM106 235h3v4h-3zM60 237h5v5h-5zM97 238h3v5h-3zM228 241h4v4h-4zM22 242h4v3h-4zM36 -4h3v5h-3zM36 244h3v5h-3zM106 242h4v6h-4z"/><path transform="scale(.5)" fill="#cd8773" d="M52 -1h5v5h-5zM52 247h5v5h-5zM61 1h3v5h-3zM102 1h5v5h-5zM110 1h5v5h-5zM167 1h5v3h-5zM173 3h5v5h-5zM180 2h4v5h-4zM223 -1h5v3h-5zM223 247h5v3h-5zM39 6h4v4h-4zM109 5h4v4h-4zM132 5h4v3h-4zM191 6h4v3h-4zM195 6h3v4h-3zM61 9h4v3h-4zM119 9h4v3h-4zM172 10h5v4h-5zM182 8h5v5h-5zM190 11h3v5h-3zM196 11h4v4h-4zM206 13h3v3h-3zM234 11h5v5h-5zM33 15h4v4h-4zM56 15h6v5h-6zM75 16h3v4h-3zM143 18h3v4h-3zM177 16h4v3h-4zM201 15h4v5h-4zM234 17h3v4h-3zM236 18h5v4h-5zM22 21h4v5h-4zM52 20h5v4h-5zM109 23h3v5h-3zM173 23h5v5h-5zM201 19h3v5h-3zM220 21h3v3h-3zM228 22h5v3h-5zM5 26h3v4h-3zM75 26h5v3h-5zM93 25h4v5h-4zM166 25h3v4h-3zM170 27h5v4h-5zM224 27h3v6h-3zM227 27h4v5h-4zM238 28h4v4h-4zM6 29h3v4h-3zM32 34h4v4h-4zM52 31h5v4h-5zM108 30h4v3h-4zM140 32h5v3h-5zM224 32h3v4h-3zM228 32h3v4h-3zM242 31h3v5h-3zM3 36h3v4h-3zM4 38h4v5h-4zM17 37h4v4h-4zM61 35h5v5h-5zM88 34h5v5h-5zM138 34h4v5h-4zM159 34h4v5h-4zM198 35h3v4h-3zM203 36h4v4h-4zM205 37h5v3h-5zM9 40h4v3h-4zM37 40h6v5h-6zM64 43h3v5h-3zM127 43h5v5h-5zM132 43h5v5h-5zM168 41h6v3h-6zM10 46h3v5h-3zM51 45h4v5h-4zM55 46h3v4h-3zM104 46h3v5h-3zM120 45h4v3h-4zM157 48h3v5h-3zM161 48h3v5h-3zM164 49h4v4h-4zM217 46h4v3h-4zM222 45h5v5h-5zM35 50h3v6h-3zM47 50h5v5h-5zM67 51h5v3h-5zM79 50h3v5h-3zM102 50h5v5h-5zM199 51h5v4h-5zM28 58h5v3h-5zM157 58h4v3h-4zM173 58h5v4h-5zM232 57h3v5h-3zM36 61h5v5h-5zM51 65h3v4h-3zM90 64h6v4h-6zM98 65h6v4h-6zM117 63h5v3h-5zM230 62h4v4h-4zM5 66h3v3h-3zM23 66h3v4h-3zM35 70h3v3h-3zM46 70h3v3h-3zM74 67h5v4h-5zM111 66h4v4h-4zM123 65h3v5h-3zM139 66h4v5h-4zM175 67h3v5h-3zM3 74h5v5h-5zM115 72h4v3h-4zM172 74h5v4h-5zM183 74h3v4h-3zM11 80h6v4h-6zM52 79h4v3h-4zM105 77h5v4h-5zM126 78h5v4h-5zM139 78h5v4h-5zM187 79h5v5h-5zM5 83h3v3h-3zM65 83h3v4h-3zM150 85h3v3h-3zM168 82h4v5h-4zM197 85h3v4h-3zM206 86h4v3h-4zM213 81h5v5h-5zM15 87h6v3h-6zM72 91h3v3h-3zM77 87h5v4h-5zM81 90h5v5h-5zM103 89h5v4h-5zM132 90h4v5h-4zM141 91h5v3h-5zM146 87h5v4h-5zM150 87h5v5h-5zM158 89h3v5h-3zM174 90h5v3h-5zM192 91h5v3h-5zM209 89h4v3h-4zM235 87h4v3h-4zM14 96h5v4h-5zM106 93h4v5h-4zM141 96h3v4h-3zM159 95h5v3h-5zM167 95h4v3h-4zM182 95h3v3h-3zM37 101h3v4h-3zM76 99h4v4h-4zM120 99h3v4h-3zM128 98h3v5h-3zM71 106h4v4h-4zM166 105h4v5h-4zM180 101h5v5h-5zM201 105h5v5h-5zM230 103h5v3h-5zM239 102h5v5h-5zM15 111h3v5h-3zM85 109h3v3h-3zM146 106h5v5h-5zM150 109h4v4h-4zM170 111h3v3h-3zM185 107h5v4h-5zM212 111h5v4h-5zM23 113h4v5h-4zM47 116h4v3h-4zM87 114h4v5h-4zM136 117h3v4h-3zM214 113h5v5h-5zM218 112h3v5h-3zM52 121h4v4h-4zM168 121h5v5h-5zM192 118h3v4h-3zM206 118h5v3h-5zM223 119h5v5h-5zM237 117h5v4h-5zM14 123h4v5h-4zM61 125h4v5h-4zM80 124h3v5h-3zM87 124h5v5h-5zM149 123h3v5h-3zM1 130h3v3h-3zM101 129h5v5h-5zM126 129h3v3h-3zM145 131h4v4h-4zM155 129h5v4h-5zM212 130h5v4h-5zM14 136h3v5h-3zM44 135h5v3h-5zM66 135h5v5h-5zM91 134h3v5h-3zM94 135h3v5h-3zM150 134h5v5h-5zM190 135h4v3h-4zM204 136h5v3h-5zM208 135h5v4h-5zM116 141h4v4h-4zM175 143h5v3h-5zM188 142h5v4h-5zM208 141h5v5h-5zM6 147h4v4h-4zM29 143h4v3h-4zM48 145h5v4h-5zM55 145h5v5h-5zM66 144h5v4h-5zM85 143h5v4h-5zM96 146h3v4h-3zM105 144h3v3h-3zM164 144h3v3h-3zM194 145h3v3h-3zM199 148h5v3h-5zM211 147h3v5h-3zM241 144h4v4h-4zM7 147h3v5h-3zM20 151h4v3h-4zM152 150h3v6h-3zM165 151h4v4h-4zM233 151h5v5h-5zM242 151h5v4h-5zM45 157h5v3h-5zM57 158h5v4h-5zM64 157h4v5h-4zM106 158h5v3h-5zM109 155h5v3h-5zM135 157h5v3h-5zM15 160h5v5h-5zM86 163h3v3h-3zM119 161h5v5h-5zM176 162h4v5h-4zM202 162h3v5h-3zM237 161h3v5h-3zM37 168h3v5h-3zM52 165h4v5h-4zM100 168h4v3h-4zM106 166h4v4h-4zM118 168h4v4h-4zM191 168h4v3h-4zM200 163h5v4h-5zM58 169h5v4h-5zM104 172h5v5h-5zM117 173h5v3h-5zM171 174h4v3h-4zM173 174h5v3h-5zM188 173h4v5h-4zM216 170h5v3h-5zM84 176h3v5h-3zM130 179h5v3h-5zM227 178h4v4h-4zM237 175h4v5h-4zM-1 183h4v3h-4zM247 183h4v3h-4zM4 183h5v4h-5zM11 180h4v4h-4zM21 181h3v4h-3zM39 181h4v3h-4zM114 179h6v4h-6zM148 180h3v4h-3zM169 180h4v5h-4zM222 179h4v5h-4zM228 180h4v6h-4zM243 179h3v5h-3zM8 189h4v3h-4zM41 189h4v3h-4zM80 185h3v5h-3zM102 185h4v5h-4zM135 188h5v4h-5zM150 185h5v3h-5zM213 187h5v5h-5zM40 190h3v5h-3zM46 194h5v4h-5zM57 193h5v4h-5zM74 192h4v4h-4zM79 190h5v3h-5zM125 194h5v5h-5zM215 191h5v5h-5zM239 190h3v5h-3zM7 198h4v3h-4zM36 198h4v5h-4zM94 195h4v4h-4zM135 199h3v4h-3zM154 198h4v3h-4zM165 197h6v3h-6zM170 195h4v5h-4zM183 195h4v3h-4zM227 197h4v5h-4zM34 200h3v5h-3zM67 201h5v5h-5zM110 200h6v4h-6zM193 201h4v5h-4zM205 204h3v3h-3zM237 203h5v6h-5zM1 208h3v4h-3zM10 207h4v3h-4zM84 205h4v3h-4zM107 207h4v3h-4zM117 206h5v3h-5zM135 207h5v4h-5zM144 206h4v4h-4zM152 207h4v5h-4zM234 209h4v5h-4zM18 212h3v4h-3zM66 212h3v5h-3zM85 213h5v4h-5zM87 210h4v4h-4zM107 210h3v4h-3zM188 214h3v4h-3zM197 213h5v3h-5zM225 215h3v3h-3zM-2 220h4v4h-4zM246 220h4v4h-4zM6 220h4v3h-4zM108 216h5v4h-5zM115 216h3v5h-3zM159 218h4v5h-4zM172 216h4v3h-4zM184 217h3v4h-3zM209 218h5v4h-5zM231 219h4v4h-4zM102 220h6v5h-6zM139 225h4v3h-4zM173 221h3v4h-3zM193 222h4v3h-4zM8 226h5v4h-5zM33 230h3v3h-3zM57 226h3v5h-3zM77 229h3v5h-3zM105 227h3v3h-3zM110 229h3v4h-3zM115 230h3v5h-3zM123 228h3v3h-3zM164 228h3v4h-3zM180 226h3v5h-3zM187 226h4v4h-4zM57 233h4v4h-4zM69 234h5v4h-5zM81 235h5v3h-5zM147 235h5v4h-5zM178 235h3v4h-3zM179 232h4v5h-4zM242 234h3v3h-3zM60 238h4v4h-4zM148 239h5v3h-5zM207 237h4v3h-4zM219 238h4v3h-4zM1 245h4v3h-4zM16 -3h3v5h-3zM16 245h3v5h-3zM119 -2h4v4h-4zM119 246h4v4h-4zM134 -5h4v5h-4zM134 243h4v5h-4zM210 -4h3v5h-3zM210 244h3v5h-3z"/><path transform="scale(.5)" fill="#28326e" d="M59 2h4v4h-4zM82 0h5v3h-5zM82 248h5v3h-5zM63 7h3v3h-3zM155 4h4v5h-4zM240 5h5v3h-5zM187 9h3v5h-3zM240 11h4v5h-4zM51 15h5v4h-5zM77 16h3v3h-3zM82 14h3v4h-3zM90 16h5v4h-5zM160 19h5v3h-5zM188 15h4v4h-4zM31 27h4v5h-4zM241 27h5v3h-5zM79 34h4v3h-4zM102 31h4v3h-4zM145 30h4v4h-4zM24 39h3v4h-3zM109 37h4v3h-4zM146 37h4v4h-4zM168 37h5v3h-5zM215 38h3v3h-3zM5 42h4v3h-4zM114 41h4v4h-4zM171 44h4v4h-4zM42 46h4v5h-4zM84 48h3v4h-3zM129 48h4v3h-4zM230 49h4v4h-4zM63 50h5v5h-5zM81 52h4v6h-4zM192 52h4v5h-4zM241 51h5v3h-5zM201 58h4v4h-4zM49 64h4v5h-4zM66 66h5v5h-5zM236 68h6v4h-6zM98 75h5v5h-5zM106 73h3v4h-3zM178 75h3v3h-3zM217 72h5v4h-5zM98 80h3v5h-3zM110 80h5v4h-5zM241 78h5v4h-5zM53 83h3v3h-3zM125 84h5v5h-5zM184 85h4v5h-4zM41 95h4v3h-4zM55 95h4v3h-4zM91 92h5v4h-5zM137 94h3v4h-3zM155 91h4v5h-4zM235 92h3v5h-3zM-4 95h5v5h-5zM244 95h5v5h-5zM4 99h5v3h-5zM24 101h3v4h-3zM24 99h3v5h-3zM94 103h4v4h-4zM29 108h3v3h-3zM45 109h3v5h-3zM55 109h5v3h-5zM154 108h5v4h-5zM-2 112h5v4h-5zM246 112h5v4h-5zM35 112h3v3h-3zM156 114h5v4h-5zM180 113h5v4h-5zM206 116h5v3h-5zM-2 112h3v4h-3zM246 112h3v4h-3zM100 126h5v5h-5zM68 129h4v4h-4zM98 129h5v3h-5zM107 130h5v3h-5zM207 131h5v5h-5zM180 134h3v5h-3zM188 136h4v5h-4zM-1 141h3v5h-3zM247 141h3v5h-3zM21 139h4v4h-4zM41 138h3v5h-3zM49 141h3v5h-3zM65 138h3v4h-3zM146 141h5v4h-5zM156 141h5v4h-5zM167 141h4v4h-4zM217 140h3v3h-3zM114 144h5v3h-5zM180 143h5v4h-5zM209 147h4v3h-4zM31 151h5v5h-5zM137 151h5v4h-5zM202 153h3v3h-3zM9 156h3v4h-3zM99 154h4v6h-4zM10 160h3v4h-3zM86 160h4v5h-4zM101 161h5v5h-5zM149 159h6v5h-6zM159 159h3v5h-3zM209 162h5v5h-5zM46 168h5v5h-5zM88 168h5v5h-5zM16 170h5v3h-5zM12 177h3v4h-3zM29 177h5v3h-5zM112 176h4v5h-4zM86 184h5v4h-5zM97 184h5v3h-5zM126 182h3v3h-3zM52 192h3v3h-3zM94 191h3v5h-3zM168 191h4v4h-4zM28 199h5v5h-5zM29 197h5v3h-5zM59 195h5v5h-5zM62 199h3v4h-3zM101 198h5v4h-5zM123 199h3v3h-3zM130 197h4v4h-4zM45 203h4v5h-4zM61 204h5v5h-5zM82 200h5v6h-5zM103 200h5v5h-5zM2 212h5v4h-5zM21 213h4v5h-4zM151 213h6v3h-6zM235 211h5v4h-5zM183 219h4v5h-4zM203 220h4v4h-4zM32 224h5v5h-5zM148 222h5v5h-5zM148 228h4v5h-4zM171 227h5v3h-5zM219 228h4v5h-4zM78 232h4v3h-4zM118 231h4v5h-4zM126 232h4v4h-4zM131 232h3v3h-3zM172 230h3v5h-3zM23 235h5v5h-5zM215 236h4v5h-4zM234 238h4v3h-4zM29 -4h5v4h-5zM29 244h5v4h-5zM122 243h5v4h-5zM156 -3h3v5h-3zM156 245h3v5h-3zM194 243h3v3h-3zM202 242h4v3h-4z"/><path transform="scale(.5)" fill="#96648c" d="M90 1h5v5h-5zM97 2h5v3h-5zM113 2h5v3h-5zM118 0h4v3h-4zM118 248h4v3h-4zM154 0h4v5h-4zM230 3h6v4h-6zM86 5h4v3h-4zM112 4h4v3h-4zM162 8h3v4h-3zM170 8h4v3h-4zM175 5h5v5h-5zM243 6h3v3h-3zM9 12h5v5h-5zM25 10h5v5h-5zM220 9h4v3h-4zM20 16h4v5h-4zM127 14h5v4h-5zM93 20h3v3h-3zM120 24h4v3h-4zM130 24h4v4h-4zM157 21h5v3h-5zM14 27h5v4h-5zM46 27h3v4h-3zM138 25h4v5h-4zM218 25h3v3h-3zM192 31h5v4h-5zM22 35h3v5h-3zM45 35h5v5h-5zM121 35h5v5h-5zM136 38h3v4h-3zM217 39h5v3h-5zM75 41h4v5h-4zM94 41h5v3h-5zM149 41h5v4h-5zM185 40h3v4h-3zM215 43h4v5h-4zM2 49h5v5h-5zM94 48h4v4h-4zM175 46h3v4h-3zM183 45h4v4h-4zM185 48h4v4h-4zM210 50h4v3h-4zM23 54h3v4h-3zM32 51h6v5h-6zM115 54h4v3h-4zM154 52h5v4h-5zM211 52h4v5h-4zM236 55h5v4h-5zM73 57h4v5h-4zM80 57h3v3h-3zM102 56h5v5h-5zM107 56h4v4h-4zM126 57h4v3h-4zM167 56h5v5h-5zM186 56h4v3h-4zM237 55h6v4h-6zM2 62h4v5h-4zM11 61h4v4h-4zM26 64h5v4h-5zM75 64h5v3h-5zM103 60h3v5h-3zM110 64h4v5h-4zM113 65h5v4h-5zM144 60h5v4h-5zM161 64h5v4h-5zM167 61h5v5h-5zM17 67h4v5h-4zM26 66h3v4h-3zM56 69h5v3h-5zM79 70h5v5h-5zM170 66h3v3h-3zM190 68h5v3h-5zM201 67h3v4h-3zM-1 72h3v3h-3zM247 72h3v3h-3zM16 71h6v4h-6zM39 73h5v3h-5zM76 74h3v4h-3zM133 70h3v4h-3zM138 73h3v3h-3zM55 75h5v5h-5zM136 79h3v5h-3zM147 79h4v4h-4zM13 83h5v3h-5zM58 86h6v3h-6zM88 84h5v6h-5zM128 84h3v3h-3zM136 86h3v3h-3zM147 85h5v3h-5zM190 83h4v3h-4zM233 84h5v3h-5zM241 85h3v3h-3zM94 88h3v5h-3zM109 89h3v3h-3zM116 89h4v4h-4zM168 88h3v3h-3zM173 87h3v3h-3zM196 86h3v5h-3zM218 89h5v4h-5zM2 92h6v4h-6zM12 100h5v5h-5zM85 100h3v4h-3zM113 98h4v5h-4zM156 99h3v3h-3zM203 96h4v4h-4zM221 98h4v3h-4zM236 98h4v3h-4zM105 105h3v5h-3zM130 105h5v4h-5zM134 104h6v6h-6zM156 105h3v5h-3zM19 109h3v6h-3zM117 110h5v3h-5zM207 109h4v4h-4zM223 109h4v4h-4zM10 115h5v3h-5zM42 115h5v5h-5zM77 112h5v4h-5zM123 113h3v3h-3zM143 113h4v4h-4zM32 121h5v3h-5zM34 122h6v3h-6zM86 122h5v3h-5zM132 119h3v5h-3zM139 119h5v5h-5zM232 120h3v3h-3zM6 123h5v4h-5zM48 122h4v5h-4zM137 125h3v4h-3zM222 125h5v5h-5zM43 128h4v4h-4zM112 132h3v4h-3zM128 128h3v3h-3zM186 128h5v5h-5zM-1 136h3v5h-3zM247 136h3v5h-3zM50 135h4v4h-4zM81 133h4v5h-4zM109 135h4v5h-4zM122 133h5v3h-5zM217 133h6v3h-6zM161 142h3v3h-3zM200 138h4v5h-4zM220 142h4v4h-4zM240 139h4v3h-4zM76 147h4v3h-4zM177 145h5v4h-5zM202 147h4v5h-4zM228 145h3v5h-3zM2 150h3v4h-3zM45 149h5v6h-5zM131 149h4v3h-4zM175 148h4v5h-4zM237 148h5v5h-5zM51 156h4v3h-4zM142 154h4v5h-4zM168 156h5v5h-5zM186 156h5v3h-5zM124 160h3v4h-3zM182 163h5v5h-5zM28 167h5v3h-5zM63 164h5v4h-5zM132 165h3v5h-3zM167 167h3v3h-3zM26 172h4v5h-4zM43 171h4v4h-4zM108 172h5v5h-5zM125 171h3v5h-3zM131 172h4v5h-4zM142 173h4v3h-4zM150 170h4v4h-4zM239 173h5v5h-5zM17 177h5v4h-5zM77 176h4v4h-4zM119 178h4v5h-4zM148 176h5v5h-5zM17 183h4v4h-4zM85 180h3v5h-3zM101 179h5v5h-5zM120 181h4v4h-4zM180 183h3v5h-3zM209 181h4v5h-4zM65 188h4v4h-4zM240 185h5v4h-5zM41 193h3v5h-3zM61 191h3v5h-3zM48 198h4v4h-4zM56 201h5v3h-5zM165 202h3v5h-3zM216 208h4v4h-4zM30 213h5v5h-5zM52 209h3v5h-3zM118 214h5v4h-5zM207 212h3v5h-3zM155 220h5v3h-5zM224 215h3v4h-3zM225 216h5v4h-5zM80 223h4v5h-4zM99 221h3v3h-3zM113 220h4v5h-4zM125 222h3v3h-3zM213 224h4v3h-4zM226 222h4v4h-4zM8 227h4v3h-4zM44 227h4v5h-4zM120 231h5v3h-5zM131 226h5v4h-5zM149 225h5v5h-5zM189 226h5v4h-5zM22 231h5v5h-5zM33 235h3v3h-3zM37 233h3v4h-3zM163 232h3v3h-3zM190 236h4v3h-4zM225 234h6v3h-6zM10 241h3v4h-3zM25 237h4v3h-4zM197 238h5v5h-5zM30 242h3v4h-3zM127 -4h4v5h-4zM127 244h4v5h-4zM139 241h4v5h-4zM177 -2h4v4h-4zM177 246h4v4h-4zM195 -3h4v3h-4zM195 245h4v3h-4z"/><path transform="scale(.5)" fill="#c67668" d="M3 3h19v3h-19zM3 20h19v3h-19zM3 3h3v21h-3zM19 3h3v21h-3zM13 13h3v4h-3zM9 39h14v4h-14zM6 37h3v9h-3zM10 58h4v21h-4zM6 142h6v16h-6zM3 178h20v3h-20zM3 164h3v17h-3zM20 164h3v17h-3zM5 187h18v4h-18zM35 71h6v5h-6zM36 69h5v4h-5zM39 94h3v8h-3zM34 91h8v6h-8zM28 117h17v3h-17zM28 134h17v3h-17zM28 117h3v19h-3zM32 127h6v5h-6zM29 143h16v3h-16zM29 155h16v3h-16zM29 143h3v15h-3zM42 143h3v15h-3zM32 148h6v7h-6zM29 164h18v5h-18zM28 186h17v4h-17zM28 205h17v4h-17zM28 186h4v23h-4zM29 225h12v4h-12zM29 217h6v5h-6zM28 235h19v5h-19zM32 240h12v4h-12zM57 9h5v5h-5zM50 60h11v3h-11zM58 98h11v4h-11zM55 86h6v22h-6zM51 144h11v4h-11zM56 168h7v4h-7zM51 236h18v4h-18zM51 242h18v4h-18zM51 236h4v10h-4zM65 236h4v10h-4zM90 10h4v5h-4zM80 67h5v6h-5zM85 92h4v4h-4zM80 127h8v4h-8zM87 131h11v6h-11zM75 164h16v6h-16zM78 221h5v6h-5zM114 70h7v7h-7zM110 152h4v4h-4zM117 200h5v4h-5zM105 222h21v6h-21zM135 3h23v3h-23zM135 3h3v20h-3zM155 3h3v20h-3zM135 30h23v4h-23zM135 50h23v4h-23zM135 30h4v23h-4zM144 36h3v6h-3zM149 104h7v6h-7zM138 120h21v5h-21zM134 142h25v3h-25zM134 142h3v17h-3zM156 142h3v17h-3zM165 21h21v3h-21zM165 3h3v20h-3zM183 3h3v20h-3zM164 51h18v4h-18zM174 94h6v4h-6zM165 118h21v4h-21zM165 132h21v4h-21zM165 118h4v19h-4zM174 124h3v5h-3zM175 143h4v17h-4zM173 169h4v7h-4zM165 191h6v13h-6zM202 45h4v5h-4zM200 34h5v4h-5zM194 97h10v6h-10zM202 92h4v18h-4zM191 130h14v5h-14zM193 124h19v4h-19zM191 156h21v3h-21zM191 142h3v18h-3zM209 142h3v18h-3zM199 146h3v5h-3zM203 148h3v6h-3zM192 164h20v4h-20zM192 177h20v4h-20zM192 164h4v16h-4zM208 164h4v16h-4zM192 215h20v3h-20zM192 228h20v3h-20zM209 215h3v17h-3zM197 220h4v4h-4zM193 237h19v3h-19zM193 242h19v3h-19zM193 237h3v7h-3zM236 35h4v18h-4zM233 63h11v5h-11zM220 58h4v15h-4zM217 86h29v3h-29zM217 86h3v26h-3zM243 86h3v26h-3zM221 121h21v5h-21zM217 142h28v3h-28zM217 142h3v16h-3zM242 142h3v16h-3zM223 171h4v3h-4zM223 196h5v5h-5zM231 215h4v12h-4z"/><path transform="scale(.5)" fill="#1e2864" d="M12 17h7v8h-7zM3 172h11v7h-11zM40 142h7v12h-7zM31 192h10v12h-10zM34 236h10v8h-10zM90 170h10v12h-10zM93 224h7v6h-7zM119 13h6v12h-6zM109 42h9v12h-9zM123 201h8v9h-8zM112 235h9v12h-9zM144 5h11v8h-11zM144 99h12v11h-12zM151 143h8v11h-8zM154 186h6v12h-6zM135 238h7v8h-7zM165 126h7v7h-7zM191 5h12v11h-12zM193 175h7v7h-7zM204 235h8v10h-8zM217 172h12v9h-12zM235 200h9v10h-9z"/><path transform="scale(.5)" fill="#6e5a96" d="M5 42h11v6h-11zM10 143h5v17h-5zM3 143h16v5h-16zM14 187h5v23h-5zM4 195h6v13h-6zM13 220h4v5h-4zM37 164h11v5h-11zM59 7h4v5h-4zM57 38h7v5h-7zM52 123h6v8h-6zM64 142h5v8h-5zM57 153h12v4h-12zM85 6h5v4h-5zM88 30h4v21h-4zM74 78h27v3h-27zM74 59h3v22h-3zM98 59h3v22h-3zM91 65h5v5h-5zM86 223h5v3h-5zM113 43h5v7h-5zM106 224h23v4h-23zM107 215h6v17h-6zM134 163h17v6h-17zM135 215h23v4h-23zM135 227h23v4h-23zM135 215h4v16h-4zM155 215h4v16h-4zM146 220h3v4h-3zM145 240h4v4h-4zM174 126h5v5h-5zM173 171h6v3h-6zM181 185h4v19h-4zM200 116h5v21h-5zM199 168h6v5h-6zM206 190h4v15h-4zM219 10h6v12h-6zM228 5h18v6h-18zM236 36h4v6h-4zM228 61h19v4h-19zM226 90h6v6h-6z"/><path transform="scale(.5)" fill="#b45a58" d="M16 41h6v6h-6zM2 46h5v8h-5zM16 60h4v14h-4zM3 87h20v3h-20zM3 87h3v25h-3zM20 87h3v25h-3zM2 116h6v5h-6zM10 117h4v19h-4zM7 127h17v4h-17zM5 147h4v8h-4zM15 147h6v12h-6zM4 190h10v4h-10zM7 184h6v23h-6zM2 236h22v3h-22zM2 243h22v3h-22zM20 236h3v10h-3zM14 239h5v4h-5zM12 239h4v5h-4zM27 2h19v3h-19zM27 22h19v3h-19zM27 2h3v23h-3zM44 2h3v23h-3zM28 29h19v3h-19zM28 29h3v25h-3zM43 29h3v25h-3zM31 69h7v6h-7zM29 89h6v9h-6zM29 95h17v3h-17zM33 127h5v4h-5zM38 150h4v5h-4zM29 176h12v4h-12zM29 166h13v4h-13zM31 163h4v18h-4zM34 199h6v5h-6zM36 197h6v6h-6zM27 217h5v5h-5zM30 239h17v5h-17zM32 239h11v6h-11zM27 236h11v4h-11zM52 21h16v3h-16zM52 3h3v21h-3zM65 3h3v21h-3zM58 8h5v5h-5zM52 49h15v3h-15zM52 30h3v22h-3zM64 30h3v22h-3zM56 35h6v4h-6zM59 61h4v21h-4zM58 90h6v16h-6zM62 128h5v8h-5zM61 120h5v15h-5zM60 118h4v19h-4zM50 125h4v13h-4zM50 155h19v5h-19zM51 154h18v5h-18zM52 165h16v3h-16zM52 177h16v3h-16zM52 165h3v16h-3zM50 214h19v3h-19zM50 229h19v3h-19zM50 214h3v18h-3zM66 214h3v18h-3zM74 3h27v3h-27zM74 3h3v21h-3zM98 3h3v21h-3zM73 30h6v10h-6zM90 70h7v3h-7zM84 126h6v7h-6zM74 142h27v3h-27zM74 155h27v3h-27zM97 142h3v16h-3zM79 147h4v7h-4zM98 174h4v8h-4zM84 175h16v5h-16zM80 165h11v6h-11zM73 214h29v4h-29zM73 228h29v4h-29zM98 214h4v18h-4zM76 238h10v5h-10zM78 240h14v6h-14zM73 241h16v3h-16zM107 3h21v4h-21zM107 20h21v4h-21zM107 3h4v20h-4zM125 3h4v20h-4zM117 8h4v5h-4zM117 7h3v5h-3zM107 60h22v4h-22zM107 77h22v4h-22zM107 60h4v21h-4zM107 88h21v3h-21zM107 108h21v3h-21zM107 88h3v23h-3zM125 88h3v23h-3zM106 117h23v3h-23zM106 134h23v3h-23zM106 117h3v20h-3zM117 128h7v4h-7zM106 142h23v3h-23zM106 156h23v3h-23zM106 142h3v17h-3zM111 151h3v4h-3zM107 170h4v10h-4zM119 167h4v5h-4zM120 175h11v6h-11zM107 206h22v3h-22zM107 186h3v22h-3zM126 186h3v22h-3zM113 241h6v3h-6zM134 58h25v4h-25zM134 78h25v4h-25zM134 58h4v24h-4zM141 71h6v7h-6zM143 67h6v7h-6zM147 97h13v6h-13zM134 107h14v5h-14zM145 91h5v5h-5zM152 93h4v10h-4zM153 91h5v14h-5zM143 129h16v4h-16zM149 146h7v7h-7zM141 164h4v4h-4zM134 165h21v4h-21zM148 168h3v8h-3zM142 220h5v6h-5zM135 237h24v3h-24zM135 242h24v3h-24zM135 237h3v8h-3zM155 237h3v8h-3zM139 240h7v5h-7zM176 36h4v11h-4zM166 75h20v6h-20zM181 60h4v21h-4zM175 100h7v3h-7zM176 97h3v4h-3zM165 152h14v3h-14zM175 154h6v6h-6zM173 141h3v5h-3zM165 176h21v4h-21zM165 165h4v15h-4zM182 165h4v15h-4zM177 169h3v7h-3zM168 191h5v6h-5zM166 185h5v10h-5zM168 190h4v12h-4zM164 236h23v6h-23zM193 3h19v3h-19zM193 21h19v3h-19zM193 3h3v20h-3zM209 3h3v20h-3zM200 14h5v5h-5zM191 29h21v3h-21zM191 51h21v3h-21zM209 29h3v25h-3zM203 40h5v3h-5zM191 58h22v4h-22zM191 78h22v4h-22zM191 58h4v24h-4zM199 92h4v9h-4zM191 100h18v4h-18zM192 117h15v5h-15zM197 126h6v7h-6zM201 170h4v4h-4zM192 192h4v4h-4zM191 192h12v4h-12zM193 200h15v4h-15zM226 11h6v5h-6zM231 38h15v4h-15zM221 29h4v6h-4zM228 30h4v21h-4zM220 68h23v5h-23zM232 100h6v4h-6zM231 129h6v5h-6zM242 117h5v21h-5zM234 149h6v6h-6zM217 163h29v3h-29zM217 178h29v3h-29zM217 163h3v18h-3zM220 172h5v6h-5zM225 171h5v7h-5zM218 186h28v4h-28zM218 205h28v4h-28zM241 186h4v23h-4zM228 222h4v11h-4zM227 219h18v6h-18zM217 242h28v4h-28zM217 236h4v9h-4zM242 236h4v9h-4zM237 240h4v5h-4z"/><path transform="scale(.5)" fill="#965f82" d="M5 63h16v5h-16zM8 172h5v5h-5zM3 215h18v3h-18zM3 227h18v3h-18zM3 215h3v15h-3zM27 58h19v3h-19zM27 58h3v24h-3zM43 58h3v24h-3zM33 146h6v7h-6zM32 216h5v5h-5zM28 238h12v6h-12zM52 61h15v6h-15zM62 96h5v6h-5zM56 123h9v4h-9zM52 151h16v5h-16zM52 187h16v3h-16zM52 205h16v3h-16zM52 187h3v22h-3zM64 187h3v22h-3zM76 32h18v3h-18zM74 87h27v3h-27zM74 108h27v3h-27zM98 87h3v24h-3zM82 91h4v6h-4zM82 150h6v5h-6zM80 146h3v5h-3zM73 185h28v3h-28zM73 207h28v3h-28zM73 185h3v24h-3zM99 185h3v24h-3zM90 191h5v4h-5zM74 241h8v4h-8zM107 50h22v3h-22zM107 30h3v23h-3zM126 30h3v23h-3zM110 94h4v4h-4zM109 150h4v6h-4zM116 165h13v5h-13zM110 173h9v5h-9zM107 237h22v4h-22zM107 241h22v4h-22zM107 237h4v8h-4zM125 237h4v8h-4zM140 120h4v18h-4zM149 146h4v6h-4zM134 185h25v4h-25zM134 206h25v4h-25zM156 185h4v24h-4zM147 240h5v7h-5zM163 33h23v4h-23zM165 58h5v16h-5zM165 108h21v3h-21zM165 88h3v23h-3zM183 88h3v23h-3zM164 154h24v5h-24zM173 141h6v13h-6zM164 215h22v4h-22zM164 215h4v16h-4zM182 215h4v16h-4zM175 223h5v4h-5zM172 220h5v6h-5zM179 236h4v11h-4zM163 239h22v5h-22zM198 96h7v4h-7zM191 203h21v6h-21zM191 197h19v3h-19zM196 223h5v5h-5zM217 42h20v4h-20zM222 67h19v3h-19zM242 60h3v13h-3z"/><path transform="scale(.5)" fill="#3755a5" d="M8 67h5v8h-5zM3 100h5v4h-5zM28 45h3v7h-3zM28 72h8v4h-8zM31 120h9v6h-9zM33 202h9v7h-9zM29 225h5v5h-5zM30 237h7v4h-7zM51 13h7v8h-7zM60 76h6v3h-6zM51 126h4v4h-4zM86 14h8v8h-8zM97 86h5v4h-5zM75 202h8v7h-8zM94 216h8v7h-8zM123 88h7v3h-7zM111 144h5v7h-5zM125 218h5v6h-5zM146 70h4v9h-4zM144 127h3v6h-3zM147 175h8v6h-8zM147 201h7v7h-7zM168 37h8v3h-8zM181 149h6v4h-6zM173 171h6v5h-6zM180 220h6v5h-6zM204 59h6v5h-6zM202 117h3v5h-3zM205 175h3v6h-3zM199 237h6v8h-6zM234 8h6v7h-6zM238 107h6v3h-6zM236 122h8v8h-8zM243 192h3v8h-3z"/><path transform="scale(.5)" fill="#23306e" d="M7 142h6v7h-6zM4 170h7v10h-7zM2 192h9v4h-9zM15 236h7v9h-7zM29 30h11v9h-11zM35 72h6v5h-6zM40 102h4v5h-4zM29 145h7v4h-7zM30 165h7v6h-7zM40 214h3v9h-3zM53 10h5v10h-5zM51 35h8v5h-8zM54 71h10v7h-10zM63 102h7v5h-7zM57 131h11v6h-11zM60 164h8v8h-8zM56 194h4v11h-4zM56 214h8v6h-8zM61 239h9v6h-9zM88 10h9v8h-9zM88 36h9v5h-9zM74 77h5v4h-5zM75 104h6v8h-6zM78 174h10v4h-10zM80 219h4v3h-4zM85 235h4v10h-4zM115 8h6v8h-6zM118 70h6v9h-6zM115 93h8v9h-8zM118 146h11v4h-11zM123 170h5v11h-5zM112 203h6v7h-6zM121 215h9v4h-9zM135 1h10v4h-10zM152 58h5v5h-5zM150 99h6v5h-6zM146 125h8v8h-8zM138 176h9v4h-9zM135 236h10v10h-10zM169 39h11v11h-11zM165 105h9v4h-9zM164 128h8v10h-8zM184 141h4v7h-4zM164 171h8v7h-8zM163 195h9v3h-9zM168 214h6v6h-6zM179 239h3v5h-3zM197 5h5v7h-5zM202 98h5v6h-5zM196 120h7v9h-7zM200 163h5v8h-5zM193 193h4v11h-4zM204 217h6v6h-6zM219 31h10v10h-10zM232 69h7v8h-7zM235 94h11v3h-11zM224 146h7v10h-7zM223 193h9v8h-9zM226 217h4v8h-4zM217 241h6v4h-6z"/><path d="M0.0 0v124M12.7 0v124M24.3 0v124M35.4 0v124M51.8 0v124M65.9 0v124M80.7 0v124M94.6 0v124M107.3 0v124M0 0.0h124M0 13.5h124M0 28.1h124M0 42.1h124M0 57.2h124M0 69.8h124M0 80.7h124M0 91.6h124M0 106.0h124M0 117.0h124" stroke="#6ea0e1" stroke-width="1.0" opacity="0.8"/></pattern><pattern id="bu" width="60" height="56" patternUnits="userSpaceOnUse" x="0" y="48"><rect width="60" height="56" fill="#e2d4b2"/><path transform="scale(.5)" fill="#c87d6e" d="M2 -8h6v16h-6zM2 104h6v16h-6zM6 -3h5v9h-5zM6 109h5v9h-5zM16 -3h16v7h-16zM16 109h16v7h-16zM44 3h8v7h-8zM67 -5h7v11h-7zM67 107h7v11h-7zM96 -5h6v12h-6zM96 107h6v12h-6zM-8 -4h14v8h-14zM-8 108h14v8h-14zM112 -4h14v8h-14zM112 108h14v8h-14zM26 6h14v11h-14zM37 5h8v9h-8zM41 6h16v9h-16zM-2 20h6v10h-6zM118 20h6v10h-6zM7 15h8v15h-8zM31 9h7v18h-7zM32 19h18v9h-18zM62 19h10v8h-10zM98 15h11v16h-11zM-2 28h7v10h-7zM118 28h7v10h-7zM40 25h7v13h-7zM70 29h6v8h-6zM82 27h14v8h-14zM98 21h6v11h-6zM-11 28h13v9h-13zM109 28h13v9h-13zM3 36h8v5h-8zM16 36h9v13h-9zM32 38h12v6h-12zM47 37h9v5h-9zM69 36h10v11h-10zM92 33h6v14h-6zM-5 33h9v13h-9zM115 33h9v13h-9zM0 42h9v11h-9zM120 42h9v11h-9zM7 44h7v6h-7zM33 42h12v9h-12zM57 45h6v6h-6zM89 38h8v14h-8zM2 52h8v15h-8zM35 47h10v14h-10zM45 50h7v12h-7zM89 50h8v12h-8zM104 53h7v12h-7zM56 63h9v10h-9zM79 56h7v11h-7zM84 56h6v15h-6zM48 61h5v18h-5zM86 69h14v9h-14zM96 66h6v8h-6zM98 73h9v7h-9zM64 79h8v7h-8zM74 82h7v8h-7zM88 78h9v9h-9zM92 77h10v8h-10zM102 76h13v8h-13zM-13 81h13v5h-13zM107 81h13v5h-13zM33 84h8v10h-8zM64 88h7v8h-7zM76 85h10v12h-10zM82 82h10v10h-10zM94 86h8v7h-8zM64 95h7v13h-7zM101 92h5v10h-5zM-8 92h10v6h-10zM112 92h10v6h-10z"/><path transform="scale(.5)" fill="#d7967d" d="M22 -1h10v17h-10zM22 111h10v17h-10zM54 -2h6v10h-6zM54 110h6v10h-6zM77 4h7v8h-7zM57 6h6v8h-6zM71 9h14v6h-14zM98 13h8v6h-8zM-12 12h12v9h-12zM108 12h12v9h-12zM16 17h7v7h-7zM81 20h6v10h-6zM23 22h9v10h-9zM51 19h8v18h-8zM61 20h8v12h-8zM101 25h11v15h-11zM3 34h13v5h-13zM45 35h8v6h-8zM90 37h5v12h-5zM39 40h10v10h-10zM68 42h9v11h-9zM102 42h6v6h-6zM75 48h8v10h-8zM89 55h17v10h-17zM-12 53h12v7h-12zM108 53h12v7h-12zM9 54h9v14h-9zM33 58h10v10h-10zM93 58h14v9h-14zM33 70h8v12h-8zM55 73h7v7h-7zM67 64h10v11h-10zM67 76h10v17h-10zM-2 84h7v6h-7zM118 84h7v6h-7zM28 89h10v9h-10zM53 85h10v11h-10zM66 85h10v9h-10zM-4 83h6v11h-6zM116 83h6v11h-6zM33 94h10v8h-10zM76 94h10v8h-10zM2 -8h15v8h-15zM2 104h15v8h-15zM21 -9h9v10h-9zM21 103h9v10h-9zM57 -5h19v8h-19zM57 107h19v8h-19zM96 -7h7v10h-7zM96 105h7v10h-7zM108 -6h9v8h-9zM108 106h9v8h-9z"/><path transform="scale(.5)" fill="#232d69" d="M61 -5h11v14h-11zM61 107h11v14h-11zM79 12h18v8h-18zM79 29h9v5h-9z"/><path transform="scale(.5)" fill="#916e64" d="M20 11h8v5h-8zM51 10h6v6h-6zM71 19h11v6h-11zM12 29h9v11h-9zM59 38h9v5h-9zM58 47h9v8h-9zM8 54h7v9h-7zM17 49h8v7h-8zM49 56h10v8h-10zM70 49h11v8h-11zM21 68h11v18h-11zM0 77h13v11h-13zM9 81h8v10h-8zM15 77h7v11h-7zM54 77h6v11h-6zM10 88h6v10h-6zM9 97h8v7h-8zM14 91h10v9h-10zM71 92h9v10h-9zM31 -5h7v5h-7zM31 107h7v5h-7zM44 105h15v6h-15zM79 104h7v7h-7zM90 -6h9v11h-9zM90 106h9v11h-9z"/><path transform="scale(.5)" fill="#a5698c" d="M69 6h12v8h-12zM101 8h8v16h-8zM47 14h8v8h-8zM31 25h11v13h-11zM76 35h14v10h-14zM17 48h7v5h-7zM28 44h9v10h-9zM78 40h8v7h-8zM59 56h11v7h-11zM20 59h6v10h-6zM49 61h6v12h-6zM102 60h7v14h-7zM0 67h10v9h-10zM16 72h11v10h-11zM63 64h9v13h-9zM-5 67h6v8h-6zM115 67h6v8h-6zM25 75h9v16h-9zM33 76h10v7h-10zM47 88h6v10h-6zM105 87h9v9h-9zM3 89h10v16h-10zM86 99h16v6h-16zM98 94h5v9h-5zM16 96h7v15h-7zM70 100h11v8h-11zM104 -6h10v11h-10zM104 106h10v11h-10z"/><path transform="scale(.5)" fill="#4664b4" d="M103 33h12v8h-12zM109 38h9v13h-9zM0 56h14v10h-14zM120 56h14v10h-14zM48 63h7v9h-7zM36 83h16v6h-16zM17 88h9v6h-9zM25 97h7v10h-7z"/><path transform="scale(.5)" fill="none" stroke="#d7967d" stroke-width="3.2" d="M3 8h16v10h-16zM41 95h10v13h-10z"/><path transform="scale(.5)" fill="none" stroke="#c87d6e" stroke-width="3.2" d="M50 14h14v10h-14zM79 64h11v11h-11z"/></pattern><pattern id="bP" width="80" height="72" patternUnits="userSpaceOnUse" x="73" y="11"><rect width="80" height="72" fill="#e2d2af"/><path transform="scale(.5)" fill="#d7967d" d="M-4 0h8v12h-8zM156 0h8v12h-8zM17 -6h8v14h-8zM17 138h8v14h-8zM57 -5h7v11h-7zM57 139h7v11h-7zM130 -2h6v9h-6zM130 142h6v9h-6zM130 -4h8v18h-8zM130 140h8v18h-8zM52 12h8v9h-8zM54 7h17v6h-17zM74 13h15v7h-15zM148 10h6v8h-6zM6 18h6v9h-6zM64 17h9v7h-9zM72 16h7v13h-7zM77 20h6v9h-6zM115 20h10v9h-10zM-12 20h14v8h-14zM148 20h14v8h-14zM-1 30h9v6h-9zM159 30h9v6h-9zM17 23h5v9h-5zM38 29h10v11h-10zM106 24h8v8h-8zM27 32h10v10h-10zM50 32h11v10h-11zM61 41h7v7h-7zM73 36h11v5h-11zM44 42h7v9h-7zM79 46h5v12h-5zM87 43h8v10h-8zM138 48h13v8h-13zM13 54h5v14h-5zM70 50h8v11h-8zM85 57h7v8h-7zM105 57h10v8h-10zM142 51h6v15h-6zM-4 59h9v11h-9zM156 59h9v11h-9zM7 63h8v6h-8zM53 66h6v7h-6zM68 59h7v9h-7zM99 62h10v7h-10zM109 62h9v14h-9zM118 64h15v6h-15zM142 66h7v10h-7zM148 64h10v8h-10zM8 69h10v10h-10zM19 71h16v10h-16zM25 72h14v8h-14zM43 76h10v7h-10zM50 75h10v9h-10zM62 76h13v10h-13zM100 68h9v14h-9zM118 77h6v13h-6zM129 87h12v6h-12zM140 82h8v8h-8zM11 92h13v7h-13zM47 88h8v9h-8zM91 92h8v6h-8zM112 94h12v5h-12zM124 90h11v12h-11zM137 92h12v11h-12zM11 97h7v13h-7zM118 98h15v10h-15zM62 106h5v11h-5zM73 110h6v6h-6zM88 113h13v8h-13zM105 106h9v11h-9zM145 109h6v11h-6zM2 118h11v7h-11zM31 114h8v8h-8zM35 121h11v7h-11zM77 120h12v8h-12zM98 115h10v6h-10zM140 123h6v13h-6zM5 -13h7v17h-7zM5 131h7v17h-7zM22 -7h10v9h-10zM22 137h10v9h-10zM48 -4h14v8h-14zM48 140h14v8h-14zM64 133h12v6h-12z"/><path transform="scale(.5)" fill="#232d69" d="M8 -1h9v10h-9zM8 143h9v10h-9zM102 -6h8v18h-8zM102 138h8v18h-8zM70 8h18v6h-18zM105 6h10v7h-10zM134 11h10v10h-10zM83 31h15v9h-15zM13 44h13v7h-13zM29 46h11v8h-11zM75 79h8v10h-8zM130 90h9v8h-9zM111 104h16v6h-16z"/><path transform="scale(.5)" fill="#916e64" d="M39 -1h8v8h-8zM39 143h8v8h-8zM85 -5h17v11h-17zM85 139h17v11h-17zM121 -2h6v9h-6zM121 142h6v9h-6zM7 11h12v7h-12zM18 12h9v9h-9zM31 6h6v18h-6zM133 15h11v15h-11zM23 23h12v10h-12zM133 30h6v12h-6zM46 47h16v6h-16zM102 46h14v7h-14zM115 39h8v16h-8zM18 52h5v8h-5zM27 58h10v6h-10zM32 53h10v7h-10zM57 57h7v5h-7zM62 61h9v13h-9zM114 61h7v16h-7zM132 63h12v10h-12zM39 72h8v6h-8zM94 70h6v19h-6zM142 75h13v11h-13zM68 91h6v11h-6zM27 95h10v9h-10zM125 111h6v10h-6zM74 115h7v12h-7zM144 115h10v7h-10zM152 114h8v10h-8zM72 127h7v16h-7zM94 128h8v10h-8zM114 126h6v8h-6zM135 134h18v7h-18z"/><path transform="scale(.5)" fill="#c87d6e" d="M40 0h10v11h-10zM81 -4h9v9h-9zM81 140h9v9h-9zM108 -5h11v11h-11zM108 139h11v11h-11zM140 2h8v9h-8zM148 -1h7v9h-7zM148 143h7v9h-7zM-2 12h9v6h-9zM158 12h9v6h-9zM39 11h11v7h-11zM96 7h16v8h-16zM2 18h8v10h-8zM25 22h11v8h-11zM29 18h13v7h-13zM43 16h8v10h-8zM49 14h14v10h-14zM90 19h14v8h-14zM101 13h9v11h-9zM104 21h6v8h-6zM119 23h12v6h-12zM52 28h11v9h-11zM68 23h10v8h-10zM83 25h9v11h-9zM115 21h11v12h-11zM128 26h10v6h-10zM137 26h8v8h-8zM-10 26h15v7h-15zM150 26h15v7h-15zM1 36h14v6h-14zM15 33h9v13h-9zM92 35h14v10h-14zM109 38h9v9h-9zM121 34h6v10h-6zM5 39h10v14h-10zM40 41h9v11h-9zM123 45h6v15h-6zM153 44h5v11h-5zM3 54h9v16h-9zM65 49h9v14h-9zM99 57h12v10h-12zM36 65h8v6h-8zM77 60h6v9h-6zM88 68h9v8h-9zM4 69h7v11h-7zM126 72h9v14h-9zM-8 77h11v7h-11zM152 77h11v7h-11zM23 85h15v9h-15zM35 78h5v14h-5zM48 79h6v8h-6zM79 82h9v14h-9zM88 80h15v6h-15zM95 83h10v6h-10zM121 85h7v9h-7zM4 87h9v10h-9zM16 96h10v5h-10zM27 94h9v6h-9zM35 96h16v5h-16zM70 87h6v9h-6zM82 87h12v7h-12zM-13 88h15v7h-15zM147 88h15v7h-15zM33 100h10v7h-10zM48 101h7v13h-7zM95 103h8v6h-8zM108 101h14v8h-14zM132 100h8v8h-8zM143 95h10v10h-10zM10 108h12v9h-12zM23 104h9v10h-9zM79 104h8v18h-8zM136 111h8v8h-8zM11 116h10v11h-10zM47 110h8v16h-8zM86 114h8v10h-8zM7 124h8v14h-8zM32 128h13v11h-13zM51 126h9v7h-9zM63 126h10v11h-10zM84 129h5v9h-5zM105 128h7v7h-7zM119 128h11v8h-11zM9 -7h18v10h-18zM9 137h18v10h-18zM38 134h10v6h-10zM98 -4h7v6h-7zM98 140h7v6h-7zM114 -10h11v11h-11zM114 134h11v11h-11zM-8 134h10v7h-10zM152 134h10v7h-10z"/><path transform="scale(.5)" fill="#a5698c" d="M40 8h16v7h-16zM145 18h10v13h-10zM63 30h12v8h-12zM47 30h9v12h-9zM86 33h11v8h-11zM122 32h7v9h-7zM-3 50h13v7h-13zM157 50h13v7h-13zM92 42h16v7h-16zM88 53h10v12h-10zM113 53h8v7h-8zM-5 53h6v13h-6zM155 53h6v13h-6zM15 64h6v11h-6zM23 62h10v8h-10zM41 60h9v11h-9zM132 70h12v5h-12zM0 83h9v10h-9zM4 79h14v10h-14zM110 82h8v7h-8zM-4 80h5v15h-5zM156 80h5v15h-5zM53 84h11v14h-11zM111 85h6v12h-6zM-1 101h6v11h-6zM159 101h6v11h-6zM68 101h9v9h-9zM79 93h9v14h-9zM86 96h7v11h-7zM19 114h8v6h-8zM37 106h7v10h-7zM113 111h11v6h-11zM-8 110h10v6h-10zM152 110h10v6h-10zM60 121h10v9h-10zM103 116h10v8h-10zM122 114h11v12h-11zM16 127h5v7h-5zM137 127h6v8h-6zM-5 126h6v12h-6zM155 126h6v12h-6zM46 129h8v12h-8zM124 -4h13v6h-13zM124 140h13v6h-13z"/><path transform="scale(.5)" fill="#4664b4" d="M88 9h9v8h-9zM142 9h8v10h-8zM46 29h9v11h-9zM36 39h12v7h-12zM132 42h10v7h-10zM17 100h7v6h-7zM46 106h18v8h-18z"/><path transform="scale(.5)" fill="none" stroke="#a5698c" stroke-width="3.2" d="M111 8h10v13h-10zM55 99h15v11h-15z"/><path transform="scale(.5)" fill="none" stroke="#c87d6e" stroke-width="3.2" d="M120 5h10v14h-10zM64 42h14v10h-14zM69 -7h10v10h-10zM69 137h10v10h-10z"/><path transform="scale(.5)" fill="none" stroke="#916e64" stroke-width="3.2" d="M-6 34h10v15h-10zM154 34h10v15h-10zM28 124h10v11h-10z"/><path transform="scale(.5)" fill="none" stroke="#d7967d" stroke-width="3.2" d="M77 75h19v10h-19zM61 78h12v10h-12z"/><rect x="7.5" y="0" width="1.0" height="72" fill="#8cafdc" opacity="0.5"/><rect x="47.5" y="0" width="1.0" height="72" fill="#8cafdc" opacity="0.5"/><rect x="0" y="13.9" width="80" height="1.0" fill="#8cafdc" opacity="0.5"/><rect x="0" y="49.9" width="80" height="1.0" fill="#8cafdc" opacity="0.5"/></pattern><pattern id="bM" width="48" height="48" patternUnits="userSpaceOnUse" x="38" y="46"><rect width="48" height="48" fill="#c88c96"/><path transform="scale(.5)" fill="#aa6e96" d="M0 1h8v7h-8zM96 1h8v7h-8zM9 3h8v11h-8zM67 1h10v9h-10zM52 4h12v15h-12zM61 9h6v11h-6zM73 7h9v19h-9zM14 19h12v9h-12zM28 14h20v9h-20zM67 15h14v7h-14zM81 15h12v9h-12zM38 23h9v11h-9zM71 27h17v10h-17zM10 38h7v10h-7zM47 33h9v10h-9zM82 36h12v13h-12zM-2 40h12v7h-12zM94 40h12v7h-12zM16 46h10v7h-10zM9 49h8v10h-8zM13 50h10v15h-10zM40 52h8v12h-8zM49 53h10v12h-10zM38 61h15v6h-15zM53 61h9v13h-9zM75 57h13v9h-13zM85 60h10v10h-10zM70 66h7v11h-7zM4 75h8v11h-8zM20 73h12v13h-12zM22 81h14v6h-14zM37 76h8v16h-8zM66 77h11v13h-11zM86 83h10v7h-10zM22 87h10v8h-10zM37 -10h7v10h-7zM37 86h7v10h-7zM62 -13h11v14h-11zM62 83h11v14h-11zM78 -7h8v11h-8zM78 89h8v11h-8z"/><path transform="scale(.5)" fill="#d6967d" d="M18 -5h10v12h-10zM18 91h10v12h-10zM27 16h12v10h-12zM45 16h11v12h-11zM62 12h8v18h-8zM4 27h14v11h-14zM15 31h9v8h-9zM41 28h6v13h-6zM58 27h13v10h-13zM0 40h12v7h-12zM96 40h12v7h-12zM16 32h9v7h-9zM48 34h10v14h-10zM50 38h7v14h-7zM80 37h6v14h-6zM45 65h8v18h-8zM6 81h8v9h-8zM48 79h11v9h-11zM74 73h11v15h-11zM-1 -10h8v14h-8zM-1 86h8v14h-8zM95 -10h8v14h-8zM95 86h8v14h-8z"/><path transform="scale(.5)" fill="#c87d78" d="M26 0h7v8h-7zM30 -5h17v10h-17zM30 91h17v10h-17zM57 0h10v6h-10zM57 96h10v6h-10zM-10 3h12v9h-12zM86 3h12v9h-12zM0 4h16v10h-16zM6 11h8v11h-8zM14 5h8v12h-8zM23 6h11v11h-11zM30 13h16v9h-16zM43 10h7v7h-7zM74 6h12v10h-12zM-4 21h12v7h-12zM92 21h12v7h-12zM8 20h7v11h-7zM78 15h10v6h-10zM2 26h7v10h-7zM53 21h15v10h-15zM65 23h11v9h-11zM39 28h8v15h-8zM63 37h10v11h-10zM65 32h13v6h-13zM79 34h12v7h-12zM11 44h7v12h-7zM22 47h15v9h-15zM37 46h12v9h-12zM63 43h7v20h-7zM72 48h10v10h-10zM-4 48h7v15h-7zM92 48h7v15h-7zM-3 61h10v7h-10zM93 61h10v7h-10zM8 58h8v9h-8zM15 60h10v14h-10zM26 56h11v11h-11zM32 63h6v13h-6zM66 61h11v13h-11zM13 66h11v10h-11zM22 71h10v13h-10zM32 69h16v6h-16zM51 74h18v9h-18zM60 73h9v7h-9zM84 73h12v6h-12zM56 77h11v9h-11zM8 86h8v9h-8zM37 84h17v10h-17zM64 -7h17v10h-17zM64 89h17v10h-17z"/><path transform="scale(.5)" fill="#6e64aa" d="M-12 11h15v9h-15zM84 11h15v9h-15zM44 13h17v10h-17zM84 24h8v10h-8zM20 32h15v12h-15zM42 42h10v12h-10zM62 42h9v18h-9zM69 39h10v11h-10zM-7 42h11v8h-11zM89 42h11v8h-11zM30 55h16v6h-16zM63 59h12v8h-12zM12 84h11v12h-11zM-7 82h12v10h-12zM89 82h12v10h-12z"/><path transform="scale(.5)" fill="none" stroke="#6e64aa" stroke-width="3.6" d="M39 -3h18v10h-18zM39 93h18v10h-18zM6 70h11v12h-11z"/><path transform="scale(.5)" fill="none" stroke="#aa6e96" stroke-width="3.6" d="M48 -7h11v18h-11zM48 89h11v18h-11zM75 0h20v11h-20zM75 96h20v11h-20zM52 -14h12v16h-12zM52 82h12v16h-12z"/><path transform="scale(.5)" fill="none" stroke="#c87d78" stroke-width="3.6" d="M24 23h18v11h-18zM45 77h11v12h-11z"/><path transform="scale(.5)" fill="none" stroke="#d6967d" stroke-width="3.6" d="M2 67h12v10h-12z"/></pattern><pattern id="bR" width="72" height="64" patternUnits="userSpaceOnUse" x="51" y="57"><rect width="72" height="64" fill="#c6ba9b"/><path transform="scale(.5)" fill="#706052" d="M0 2h3v2h-3zM0 28h4v4h-4zM0 33h3v3h-3zM0 50h4v3h-4zM0 63h4v3h-4zM0 86h4v3h-4zM1 100h3v5h-3zM0 110h4v4h-4zM5 28h5v3h-5zM6 42h4v4h-4zM6 53h3v4h-3zM6 77h4v3h-4zM6 95h4v5h-4zM6 101h3v3h-3zM6 104h3v4h-3zM6 120h4v4h-4zM5 125h4v3h-4zM5 0h4v1h-4zM10 3h4v4h-4zM11 42h3v4h-3zM11 94h3v3h-3zM11 115h3v2h-3zM11 118h3v4h-3zM15 16h3v4h-3zM15 31h3v4h-3zM15 37h3v3h-3zM15 41h3v5h-3zM15 47h3v3h-3zM15 51h3v4h-3zM15 83h3v3h-3zM15 90h2v4h-2zM15 101h3v4h-3zM19 16h3v4h-3zM20 26h3v5h-3zM20 31h3v4h-3zM19 59h3v2h-3zM20 66h3v4h-3zM20 76h3v3h-3zM20 84h3v5h-3zM20 90h3v2h-3zM20 93h3v4h-3zM20 102h3v3h-3zM20 106h3v2h-3zM24 14h4v3h-4zM25 50h3v2h-3zM25 70h3v3h-3zM25 97h3v3h-3zM25 110h3v4h-3zM25 120h3v4h-3zM29 1h3v2h-3zM29 4h4v2h-4zM29 12h4v3h-4zM29 36h3v3h-3zM30 40h4v4h-4zM29 49h4v3h-4zM29 53h4v2h-4zM29 86h4v3h-4zM30 90h3v4h-3zM30 95h3v2h-3zM29 128h3v1h-3zM29 0h3v2h-3zM34 10h3v2h-3zM34 13h3v2h-3zM34 16h3v2h-3zM34 25h3v4h-3zM34 30h3v5h-3zM34 42h3v4h-3zM35 47h2v3h-2zM35 54h3v4h-3zM34 68h3v4h-3zM34 78h3v4h-3zM34 83h3v3h-3zM34 104h3v3h-3zM35 115h2v2h-2zM38 15h5v2h-5zM38 44h4v4h-4zM39 53h4v4h-4zM38 59h5v4h-5zM38 106h5v3h-5zM39 110h4v3h-4zM38 119h5v4h-5zM45 7h3v4h-3zM45 13h3v3h-3zM44 41h3v5h-3zM44 47h3v3h-3zM45 69h3v4h-3zM44 89h3v4h-3zM44 95h3v4h-3zM44 104h3v4h-3zM45 118h3v4h-3zM49 14h5v5h-5zM49 20h5v2h-5zM49 40h4v2h-4zM50 43h4v4h-4zM49 53h5v3h-5zM50 68h4v4h-4zM49 99h4v3h-4zM49 118h5v5h-5zM56 15h3v3h-3zM56 22h3v3h-3zM55 26h4v3h-4zM55 30h4v3h-4zM55 34h4v3h-4zM55 39h4v5h-4zM55 47h3v5h-3zM55 67h4v3h-4zM55 71h4v2h-4zM55 75h4v2h-4zM56 78h3v2h-3zM55 91h4v4h-4zM55 96h4v3h-4zM55 120h4v2h-4zM55 127h4v1h-4zM55 0h4v3h-4zM61 10h3v2h-3zM61 38h3v3h-3zM61 76h3v2h-3zM61 80h3v2h-3zM61 89h3v3h-3zM61 92h3v2h-3zM61 111h3v3h-3zM61 123h3v3h-3zM61 127h3v1h-3zM61 0h3v1h-3zM65 6h4v3h-4zM65 30h3v4h-3zM65 44h3v3h-3zM65 48h3v4h-3zM65 65h3v5h-3zM66 107h3v5h-3zM65 125h3v3h-3zM65 0h3v1h-3zM70 17h3v4h-3zM70 21h3v3h-3zM70 33h3v2h-3zM71 43h3v2h-3zM70 83h3v3h-3zM70 87h3v2h-3zM71 101h3v5h-3zM70 127h3v1h-3zM70 0h3v1h-3zM75 6h4v4h-4zM75 30h3v3h-3zM75 48h4v4h-4zM75 77h3v4h-3zM75 81h3v4h-3zM75 90h4v3h-4zM76 97h3v3h-3zM75 101h4v4h-4zM80 7h3v4h-3zM81 20h3v3h-3zM81 25h3v4h-3zM80 33h3v5h-3zM81 48h3v3h-3zM81 65h3v2h-3zM81 89h2v3h-2zM81 96h2v2h-2zM81 123h3v5h-3zM85 4h4v4h-4zM85 36h3v4h-3zM85 57h3v2h-3zM85 64h3v3h-3zM85 92h3v3h-3zM85 116h3v3h-3zM84 127h4v1h-4zM84 0h4v3h-4zM90 26h4v5h-4zM90 68h4v3h-4zM90 90h4v3h-4zM90 94h4v3h-4zM89 125h5v3h-5zM89 0h5v2h-5zM95 47h3v3h-3zM95 65h3v4h-3zM95 79h3v5h-3zM95 102h3v3h-3zM95 109h3v4h-3zM95 113h3v3h-3zM95 117h3v4h-3zM95 125h2v3h-2zM95 0h2v1h-2zM100 6h4v5h-4zM100 71h4v3h-4zM99 81h4v5h-4zM99 104h4v3h-4zM99 119h4v4h-4zM105 11h4v5h-4zM105 17h5v3h-5zM105 61h5v2h-5zM105 63h4v3h-4zM105 70h4v3h-4zM105 94h5v3h-5zM105 99h4v3h-4zM105 109h4v4h-4zM105 123h4v4h-4zM111 2h4v3h-4zM111 31h4v4h-4zM111 36h4v4h-4zM111 46h4v3h-4zM111 55h4v4h-4zM111 65h4v3h-4zM111 69h4v4h-4zM111 97h4v3h-4zM111 106h3v5h-3zM115 7h4v3h-4zM116 31h4v4h-4zM115 45h4v2h-4zM116 48h4v2h-4zM115 59h5v5h-5zM115 69h5v4h-5zM115 78h4v3h-4zM115 82h4v4h-4zM116 87h4v3h-4zM116 114h4v3h-4zM122 17h5v5h-5zM122 31h5v2h-5zM121 41h5v3h-5zM123 51h4v4h-4zM122 68h4v5h-4zM122 78h4v5h-4zM122 90h4v4h-4zM122 101h5v2h-5zM122 105h4v4h-4zM122 121h4v2h-4zM128 3h4v2h-4zM127 6h5v5h-5zM127 11h5v4h-5zM128 33h5v2h-5zM128 40h5v5h-5zM127 46h5v4h-5zM128 58h4v3h-4zM128 66h5v3h-5zM129 78h4v4h-4zM128 123h5v2h-5zM134 0h4v5h-4zM134 42h4v3h-4zM134 49h4v5h-4zM134 60h5v4h-5zM134 76h4v3h-4zM133 90h5v3h-5zM140 1h3v4h-3zM140 5h3v5h-3zM140 15h4v4h-4zM140 41h3v3h-3zM141 70h3v5h-3zM140 92h4v5h-4zM140 109h4v2h-4zM140 126h3v2h-3zM140 0h3v1h-3z"/><path transform="scale(.5)" fill="#c3967d" d="M1 5h3v2h-3zM1 8h3v2h-3zM0 16h4v2h-4zM1 120h3v2h-3zM5 3h5v4h-5zM5 48h4v3h-4zM11 37h3v5h-3zM11 60h3v3h-3zM15 5h3v5h-3zM15 56h3v5h-3zM20 55h3v3h-3zM19 81h3v2h-3zM19 116h3v3h-3zM19 119h3v5h-3zM24 31h4v4h-4zM24 56h4v5h-4zM29 45h4v3h-4zM29 75h4v4h-4zM29 107h3v4h-3zM34 91h3v5h-3zM34 100h3v3h-3zM38 6h5v4h-5zM38 50h5v3h-5zM38 123h5v3h-5zM44 0h3v2h-3zM45 4h3v3h-3zM45 16h3v2h-3zM44 61h3v3h-3zM44 73h3v3h-3zM45 123h3v5h-3zM49 11h5v2h-5zM50 24h4v4h-4zM49 73h5v3h-5zM55 7h3v3h-3zM61 23h3v4h-3zM61 43h3v4h-3zM61 114h3v4h-3zM65 11h3v3h-3zM65 40h3v3h-3zM65 57h3v4h-3zM65 113h3v3h-3zM71 12h3v3h-3zM70 107h3v4h-3zM70 117h3v4h-3zM76 11h4v3h-4zM76 53h4v5h-4zM75 58h4v2h-4zM75 72h3v4h-3zM81 72h3v2h-3zM81 93h3v3h-3zM85 40h3v4h-3zM90 42h4v4h-4zM90 76h4v4h-4zM90 81h3v3h-3zM95 9h3v3h-3zM95 121h2v3h-2zM99 29h4v3h-4zM100 39h4v3h-4zM99 43h3v4h-3zM99 67h4v4h-4zM100 91h3v3h-3zM99 99h4v4h-4zM105 21h5v3h-5zM105 42h5v3h-5zM115 37h4v3h-4zM115 119h5v3h-5zM116 127h4v1h-4zM116 0h4v1h-4zM121 2h5v4h-5zM122 73h5v3h-5zM127 26h6v3h-6zM128 127h4v1h-4zM128 0h4v3h-4zM133 25h5v3h-5zM134 33h4v4h-4zM134 94h5v5h-5zM133 127h5v1h-5zM133 0h5v1h-5zM140 30h4v5h-4zM140 62h4v2h-4zM140 76h3v4h-3z"/><path transform="scale(.5)" fill="#918069" d="M0 12h4v4h-4zM1 20h3v2h-3zM0 44h3v4h-3zM0 53h3v4h-3zM0 78h4v3h-4zM0 123h4v3h-4zM0 126h3v2h-3zM0 0h3v2h-3zM5 17h5v2h-5zM5 20h4v3h-4zM6 36h4v5h-4zM5 58h4v4h-4zM5 63h5v3h-5zM5 85h4v4h-4zM6 108h4v2h-4zM11 15h3v3h-3zM11 28h3v2h-3zM11 31h3v4h-3zM10 51h4v4h-4zM11 103h3v4h-3zM10 112h4v3h-4zM11 123h3v2h-3zM11 126h3v2h-3zM11 0h3v2h-3zM15 1h3v4h-3zM15 21h3v4h-3zM15 26h3v4h-3zM15 72h3v4h-3zM15 77h2v4h-2zM16 106h2v3h-2zM15 110h3v2h-3zM15 113h2v4h-2zM15 119h3v2h-3zM15 125h3v3h-3zM20 37h3v4h-3zM20 49h3v2h-3zM20 51h3v3h-3zM20 109h2v2h-2zM19 125h3v3h-3zM19 0h3v1h-3zM24 2h4v2h-4zM24 10h3v3h-3zM24 27h4v2h-4zM24 39h4v4h-4zM25 66h3v3h-3zM24 74h4v4h-4zM24 79h3v3h-3zM25 91h3v5h-3zM24 100h4v3h-4zM24 105h4v4h-4zM24 115h4v5h-4zM29 8h3v3h-3zM29 26h4v3h-4zM29 57h4v5h-4zM29 62h4v5h-4zM29 68h4v2h-4zM30 81h3v4h-3zM29 98h3v5h-3zM30 103h3v2h-3zM30 112h3v3h-3zM29 116h3v3h-3zM29 120h4v3h-4zM34 1h3v2h-3zM34 5h3v4h-3zM34 20h3v4h-3zM34 51h3v2h-3zM34 64h3v3h-3zM34 88h3v2h-3zM34 107h3v3h-3zM34 111h3v3h-3zM38 3h5v3h-5zM39 11h4v3h-4zM38 41h5v3h-5zM38 69h4v2h-4zM38 87h4v2h-4zM39 90h4v2h-4zM38 94h4v3h-4zM44 24h3v5h-3zM44 52h3v4h-3zM44 57h3v5h-3zM44 77h3v3h-3zM49 8h5v3h-5zM49 28h5v4h-5zM49 37h5v2h-5zM49 48h4v4h-4zM49 78h5v4h-5zM50 83h4v3h-4zM49 93h5v5h-5zM49 114h4v4h-4zM50 127h4v1h-4zM50 0h4v2h-4zM55 10h3v4h-3zM55 44h4v2h-4zM55 100h3v2h-3zM55 104h4v5h-4zM55 109h4v4h-4zM55 114h3v4h-3zM55 123h3v4h-3zM61 18h3v4h-3zM61 28h3v4h-3zM61 33h3v4h-3zM61 47h3v2h-3zM61 55h4v3h-4zM61 58h3v5h-3zM61 84h3v4h-3zM61 96h3v4h-3zM61 101h3v3h-3zM61 105h3v4h-3zM65 79h4v4h-4zM65 84h3v4h-3zM65 89h3v3h-3zM65 99h3v3h-3zM65 102h3v4h-3zM70 3h3v4h-3zM70 8h3v2h-3zM70 29h3v2h-3zM70 47h3v5h-3zM71 66h3v2h-3zM70 97h3v4h-3zM70 112h3v2h-3zM71 122h3v4h-3zM75 0h4v5h-4zM75 24h4v5h-4zM76 85h3v4h-3zM76 106h3v4h-3zM75 121h5v3h-5zM81 29h3v3h-3zM80 39h3v4h-3zM80 51h3v5h-3zM80 57h3v2h-3zM81 60h3v4h-3zM80 68h3v3h-3zM81 81h3v3h-3zM81 85h2v3h-2zM81 100h3v4h-3zM84 17h4v5h-4zM85 27h3v4h-3zM84 32h4v4h-4zM85 45h3v2h-3zM84 73h3v3h-3zM84 88h4v3h-4zM85 96h3v4h-3zM85 106h3v3h-3zM85 120h3v4h-3zM89 4h4v5h-4zM90 9h5v5h-5zM90 32h4v5h-4zM91 52h4v2h-4zM90 60h4v3h-4zM90 102h4v5h-4zM90 120h4v4h-4zM95 6h3v3h-3zM95 18h3v3h-3zM95 22h3v4h-3zM95 43h2v3h-2zM95 61h3v3h-3zM95 88h3v4h-3zM99 2h4v4h-4zM100 12h4v3h-4zM100 21h3v4h-3zM100 26h3v3h-3zM100 56h4v3h-4zM100 59h3v3h-3zM100 64h3v3h-3zM99 76h4v4h-4zM99 95h4v3h-4zM99 115h4v3h-4zM105 38h4v3h-4zM105 46h5v2h-5zM105 55h4v4h-4zM105 90h5v4h-5zM105 103h4v4h-4zM105 114h5v4h-5zM105 119h5v3h-5zM111 16h4v4h-4zM111 21h4v4h-4zM111 41h4v4h-4zM111 80h4v3h-4zM111 84h3v4h-3zM111 89h4v3h-4zM111 100h4v5h-4zM112 111h3v3h-3zM111 115h3v3h-3zM111 118h3v4h-3zM111 127h4v1h-4zM111 0h4v3h-4zM116 11h4v4h-4zM116 23h4v3h-4zM115 26h5v5h-5zM116 41h4v3h-4zM115 101h4v5h-4zM115 111h5v3h-5zM116 123h4v3h-4zM121 27h5v2h-5zM122 33h5v3h-5zM121 46h5v5h-5zM122 63h5v4h-5zM122 96h4v4h-4zM122 109h5v2h-5zM122 113h4v3h-4zM122 117h4v2h-4zM128 53h4v4h-4zM128 62h4v3h-4zM128 69h5v3h-5zM128 88h4v3h-4zM127 94h5v4h-5zM128 99h5v3h-5zM128 114h5v4h-5zM133 11h4v4h-4zM133 58h4v2h-4zM133 65h5v2h-5zM134 68h4v3h-4zM133 81h5v3h-5zM133 87h5v2h-5zM133 100h4v3h-4zM134 104h5v3h-5zM133 112h5v3h-5zM133 117h5v4h-5zM133 122h5v3h-5zM140 36h4v4h-4zM140 51h4v5h-4zM140 57h3v4h-3zM140 65h4v4h-4zM140 86h4v4h-4zM140 103h3v5h-3zM140 112h4v4h-4zM140 117h3v3h-3z"/><path transform="scale(.5)" fill="#c4b894" d="M0 23h4v4h-4zM0 41h3v2h-3zM5 67h5v4h-5zM5 81h4v3h-4zM10 56h3v4h-3zM11 68h3v4h-3zM10 73h4v5h-4zM11 79h3v3h-3zM11 99h3v3h-3zM15 11h2v3h-2zM15 96h3v4h-3zM20 20h2v4h-2zM19 98h3v3h-3zM20 112h2v2h-2zM24 23h4v2h-4zM30 71h4v4h-4zM34 35h3v4h-3zM35 121h2v4h-2zM39 17h4v2h-4zM38 30h4v2h-4zM39 63h4v4h-4zM38 72h5v4h-5zM38 98h5v4h-5zM39 113h4v4h-4zM44 65h3v2h-3zM44 112h3v4h-3zM49 60h5v3h-5zM49 64h5v4h-5zM49 90h4v2h-4zM56 57h3v3h-3zM56 61h4v5h-4zM61 6h3v2h-3zM61 50h3v4h-3zM61 119h3v4h-3zM65 15h3v4h-3zM65 25h3v3h-3zM65 35h3v4h-3zM65 93h3v4h-3zM65 120h4v4h-4zM70 36h3v3h-3zM71 39h3v3h-3zM70 53h3v4h-3zM70 69h3v3h-3zM70 78h3v5h-3zM70 114h3v2h-3zM75 15h4v4h-4zM76 20h4v3h-4zM76 35h4v4h-4zM76 94h4v3h-4zM75 125h5v3h-5zM81 12h3v2h-3zM81 106h3v2h-3zM81 109h3v3h-3zM85 9h3v3h-3zM85 53h3v3h-3zM85 68h3v4h-3zM84 78h3v5h-3zM85 100h3v5h-3zM90 14h4v3h-4zM90 37h4v4h-4zM95 31h3v4h-3zM99 15h4v5h-4zM100 110h4v4h-4zM100 124h4v4h-4zM106 35h4v2h-4zM105 50h4v4h-4zM115 15h4v4h-4zM115 53h4v4h-4zM116 65h4v3h-4zM116 97h4v3h-4zM115 106h4v4h-4zM122 11h4v5h-4zM122 23h4v3h-4zM122 37h4v3h-4zM122 57h4v4h-4zM129 84h4v3h-4zM127 92h4v2h-4zM134 29h5v3h-5zM134 38h5v2h-5zM134 54h4v2h-4zM140 81h3v4h-3zM140 122h4v3h-4z"/><path transform="scale(.5)" fill="#5a4e44" d="M0 37h3v3h-3zM0 67h4v2h-4zM1 73h3v4h-3zM0 82h3v2h-3zM0 105h4v3h-4zM5 23h5v3h-5zM5 32h4v3h-4zM5 117h4v2h-4zM11 12h3v2h-3zM11 19h3v3h-3zM11 22h3v5h-3zM10 64h4v3h-4zM11 88h3v5h-3zM11 108h3v3h-3zM19 3h3v4h-3zM20 9h2v3h-2zM20 13h3v3h-3zM19 71h3v4h-3zM24 6h4v2h-4zM24 53h4v2h-4zM24 61h4v4h-4zM25 83h3v4h-3zM29 21h4v3h-4zM29 30h4v5h-4zM34 59h3v4h-3zM35 118h2v3h-2zM38 33h4v3h-4zM38 77h5v5h-5zM38 102h5v3h-5zM38 127h4v1h-4zM38 0h4v3h-4zM44 20h3v3h-3zM44 33h3v4h-3zM44 38h3v2h-3zM45 80h3v3h-3zM49 4h5v3h-5zM49 33h5v4h-5zM49 57h5v2h-5zM49 104h4v4h-4zM55 1h4v5h-4zM61 13h3v4h-3zM66 53h3v4h-3zM65 75h4v3h-4zM70 61h3v4h-3zM70 91h3v5h-3zM75 111h4v5h-4zM81 16h3v3h-3zM81 44h2v3h-2zM81 116h3v3h-3zM80 119h3v3h-3zM85 12h3v3h-3zM84 22h4v3h-4zM85 49h3v2h-3zM85 60h4v4h-4zM90 18h4v5h-4zM90 23h4v2h-4zM90 63h4v3h-4zM95 13h2v4h-2zM95 51h3v4h-3zM95 70h3v4h-3zM95 85h3v2h-3zM100 34h3v4h-3zM99 51h4v4h-4zM100 86h4v5h-4zM100 107h3v2h-3zM105 1h4v4h-4zM105 25h4v4h-4zM105 68h4v2h-4zM106 79h4v4h-4zM111 60h3v3h-3zM111 74h3v4h-3zM115 2h4v5h-4zM115 20h4v2h-4zM122 7h5v3h-5zM128 22h4v2h-4zM128 74h4v4h-4zM134 16h4v3h-4zM133 71h5v3h-5zM140 11h3v3h-3z"/><path transform="scale(.5)" fill="#a06458" d="M0 58h3v3h-3zM1 70h3v2h-3zM0 90h3v3h-3zM0 95h3v4h-3zM1 115h3v3h-3zM5 8h4v3h-4zM5 13h5v4h-5zM6 71h4v5h-4zM5 91h5v3h-5zM6 111h4v5h-4zM11 8h3v3h-3zM11 48h3v2h-3zM11 83h3v4h-3zM15 61h2v4h-2zM15 66h2v4h-2zM15 87h3v2h-3zM20 43h3v5h-3zM19 62h3v2h-3zM25 18h3v4h-3zM24 35h4v3h-4zM24 45h4v4h-4zM24 87h4v2h-4zM24 126h4v2h-4zM24 0h4v2h-4zM29 17h3v3h-3zM29 123h4v3h-4zM34 40h3v2h-3zM35 73h3v3h-3zM34 96h3v3h-3zM34 127h3v1h-3zM34 0h3v1h-3zM38 20h5v3h-5zM39 25h4v4h-4zM39 37h4v3h-4zM38 83h4v3h-4zM45 84h3v4h-3zM44 100h3v3h-3zM49 87h5v3h-5zM55 19h4v3h-4zM56 54h3v3h-3zM56 82h4v4h-4zM61 3h3v2h-3zM61 70h3v5h-3zM65 2h4v4h-4zM65 21h3v3h-3zM65 62h3v2h-3zM65 71h3v3h-3zM66 117h3v2h-3zM70 25h3v4h-3zM70 73h3v4h-3zM75 40h4v2h-4zM75 43h4v4h-4zM75 62h4v4h-4zM76 67h4v4h-4zM75 116h4v4h-4zM81 3h3v3h-3zM84 0h4v2h-4zM85 83h3v4h-3zM85 110h3v5h-3zM85 124h3v3h-3zM90 56h4v3h-4zM89 72h4v3h-4zM90 85h5v4h-5zM89 98h5v3h-5zM90 107h5v4h-5zM90 112h4v3h-4zM90 116h4v3h-4zM95 1h3v3h-3zM95 28h3v3h-3zM95 36h3v2h-3zM95 40h3v2h-3zM95 56h3v4h-3zM95 75h3v4h-3zM95 97h2v4h-2zM95 105h3v3h-3zM100 48h3v2h-3zM105 6h4v4h-4zM105 29h5v4h-5zM105 74h4v3h-4zM105 84h4v4h-4zM111 6h4v5h-4zM111 11h4v4h-4zM111 26h4v3h-4zM111 50h4v4h-4zM111 93h3v3h-3zM111 123h4v3h-4zM116 51h4v2h-4zM115 74h5v4h-5zM121 83h4v3h-4zM122 87h5v2h-5zM121 125h5v3h-5zM121 0h5v1h-5zM127 17h5v4h-5zM128 29h5v3h-5zM128 37h5v2h-5zM127 51h6v2h-6zM127 104h6v4h-6zM127 109h4v4h-4zM127 118h6v4h-6zM134 6h4v4h-4zM134 20h4v4h-4zM133 45h5v3h-5zM133 84h5v2h-5zM134 108h5v2h-5zM140 20h4v3h-4zM140 24h3v5h-3zM140 45h4v4h-4zM140 98h4v5h-4z"/><path transform="scale(.5)" fill="#5a78b4" d="M15 122h3v2h-3zM44 29h3v3h-3zM44 109h3v3h-3zM49 109h5v4h-5zM49 124h5v2h-5zM55 87h4v3h-4zM61 64h3v5h-3zM70 58h4v2h-4zM81 76h3v5h-3zM81 113h3v2h-3zM90 47h4v5h-4zM95 93h3v3h-3zM116 92h4v4h-4z"/><rect x="3.1" y="0" width="0.9" height="64" fill="#96b9dc" opacity="0.6"/><rect x="14.0" y="0" width="0.8" height="64" fill="#96b9dc" opacity="0.6"/><rect x="25.5" y="0" width="0.9" height="64" fill="#96b9dc" opacity="0.6"/><rect x="37.0" y="0" width="0.8" height="64" fill="#96b9dc" opacity="0.6"/><rect x="48.5" y="0" width="0.9" height="64" fill="#96b9dc" opacity="0.6"/><rect x="60.1" y="0" width="0.8" height="64" fill="#96b9dc" opacity="0.6"/><rect x="0" y="4.7" width="72" height="0.9" fill="#96b9dc" opacity="0.6"/><rect x="0" y="16.2" width="72" height="0.8" fill="#96b9dc" opacity="0.6"/><rect x="0" y="27.7" width="72" height="0.9" fill="#96b9dc" opacity="0.6"/><rect x="0" y="39.3" width="72" height="0.8" fill="#96b9dc" opacity="0.6"/><rect x="0" y="50.8" width="72" height="0.9" fill="#96b9dc" opacity="0.6"/></pattern><pattern id="bD" width="96" height="96" patternUnits="userSpaceOnUse" x="64" y="68"><rect width="96" height="96" fill="#cdb9aa"/><path transform="scale(.5)" fill="#28326e" d="M0 4h5v3h-5zM67 1h5v5h-5zM160 -1h4v3h-4zM160 191h4v3h-4zM30 7h4v4h-4zM169 8h5v4h-5zM185 8h3v5h-3zM26 12h4v5h-4zM53 11h4v4h-4zM55 11h5v6h-5zM114 9h4v4h-4zM130 12h5v4h-5zM76 16h4v4h-4zM95 17h3v3h-3zM171 15h4v5h-4zM20 20h3v5h-3zM103 20h4v5h-4zM18 28h4v5h-4zM-1 33h4v4h-4zM191 33h4v4h-4zM19 34h5v5h-5zM178 34h5v4h-5zM181 34h4v3h-4zM158 36h4v3h-4zM182 37h5v5h-5zM37 41h5v4h-5zM120 43h4v3h-4zM182 42h4v3h-4zM56 49h4v3h-4zM139 47h3v5h-3zM146 46h3v3h-3zM111 52h3v3h-3zM121 53h5v5h-5zM22 57h5v4h-5zM43 57h5v4h-5zM55 56h5v4h-5zM177 57h5v5h-5zM22 64h4v4h-4zM74 61h5v3h-5zM125 61h5v5h-5zM138 64h3v5h-3zM21 70h4v4h-4zM24 66h5v5h-5zM40 70h3v3h-3zM69 67h5v5h-5zM132 66h4v5h-4zM133 76h5v4h-5zM140 72h3v5h-3zM180 70h5v5h-5zM86 79h5v3h-5zM122 78h3v5h-3zM175 79h3v3h-3zM19 85h4v3h-4zM43 84h4v4h-4zM68 86h4v3h-4zM84 84h4v5h-4zM122 85h5v3h-5zM170 84h5v4h-5zM5 89h5v5h-5zM78 89h4v4h-4zM100 91h5v4h-5zM67 92h5v3h-5zM180 94h5v3h-5zM39 100h5v4h-5zM55 97h5v4h-5zM68 101h3v3h-3zM73 102h3v4h-3zM121 100h4v5h-4zM75 107h5v3h-5zM120 102h3v6h-3zM10 112h4v3h-4zM30 107h4v5h-4zM105 110h4v5h-4zM113 111h3v4h-3zM120 109h4v4h-4zM143 109h3v5h-3zM167 111h3v5h-3zM8 114h3v3h-3zM132 114h4v4h-4zM17 119h4v4h-4zM10 124h4v4h-4zM56 123h5v5h-5zM113 126h4v5h-4zM132 123h4v5h-4zM142 126h4v4h-4zM5 128h5v6h-5zM34 131h3v3h-3zM111 128h3v5h-3zM120 133h3v5h-3zM4 137h5v3h-5zM22 135h4v5h-4zM46 134h3v5h-3zM70 133h6v5h-6zM114 136h3v5h-3zM122 134h4v5h-4zM52 140h3v4h-3zM81 140h5v5h-5zM109 145h3v4h-3zM41 152h4v4h-4zM37 155h4v3h-4zM42 157h3v4h-3zM90 158h4v5h-4zM135 153h3v5h-3zM141 158h3v3h-3zM144 154h5v6h-5zM3 163h5v3h-5zM123 164h5v3h-5zM131 162h4v5h-4zM153 163h3v4h-3zM59 165h5v4h-5zM77 167h4v3h-4zM85 167h4v4h-4zM87 166h3v5h-3zM22 173h5v5h-5zM82 170h6v4h-6zM10 178h4v5h-4zM42 177h5v4h-5zM55 176h5v5h-5zM89 178h3v3h-3zM107 175h4v5h-4zM128 176h3v5h-3zM138 174h4v6h-4zM159 176h5v6h-5zM1 183h4v5h-4zM56 179h5v6h-5zM130 180h5v4h-5zM58 186h4v4h-4z"/><path transform="scale(.5)" fill="#96648c" d="M5 0h3v5h-3zM5 192h3v5h-3zM127 0h5v5h-5zM127 192h5v5h-5zM65 8h3v3h-3zM84 8h3v5h-3zM99 5h3v5h-3zM112 6h3v5h-3zM113 7h3v5h-3zM151 6h5v3h-5zM161 7h5v3h-5zM40 13h3v5h-3zM68 9h3v5h-3zM175 8h5v4h-5zM181 11h5v5h-5zM24 15h6v5h-6zM59 19h5v3h-5zM111 16h3v3h-3zM114 16h4v3h-4zM157 14h6v5h-6zM1 22h3v5h-3zM92 19h5v5h-5zM98 20h3v4h-3zM177 20h5v4h-5zM0 25h5v3h-5zM84 25h3v5h-3zM117 26h5v6h-5zM119 28h3v5h-3zM168 26h4v4h-4zM52 32h6v3h-6zM147 32h3v4h-3zM165 34h6v3h-6zM172 33h4v4h-4zM17 40h5v3h-5zM26 39h3v4h-3zM48 34h5v5h-5zM74 36h3v4h-3zM111 39h3v5h-3zM126 37h3v5h-3zM-3 38h3v4h-3zM189 38h3v4h-3zM11 42h5v5h-5zM28 40h4v5h-4zM95 41h5v5h-5zM144 42h4v5h-4zM159 41h3v3h-3zM7 50h4v3h-4zM40 50h5v3h-5zM55 50h3v3h-3zM66 49h3v3h-3zM117 45h3v5h-3zM123 49h6v5h-6zM129 46h3v5h-3zM175 49h3v4h-3zM20 54h4v3h-4zM33 53h4v5h-4zM56 53h4v4h-4zM125 52h3v4h-3zM167 52h3v4h-3zM-1 56h5v5h-5zM191 56h5v5h-5zM27 60h3v5h-3zM112 56h5v4h-5zM154 55h5v5h-5zM170 57h4v4h-4zM39 61h5v4h-5zM59 65h5v4h-5zM68 62h5v5h-5zM91 63h4v5h-4zM98 61h3v3h-3zM151 65h3v3h-3zM183 65h3v4h-3zM-2 61h4v3h-4zM190 61h4v3h-4zM3 69h5v6h-5zM48 70h3v3h-3zM61 67h3v3h-3zM101 66h4v5h-4zM112 68h4v4h-4zM166 71h4v3h-4zM176 67h4v5h-4zM1 74h3v4h-3zM70 71h3v4h-3zM124 74h3v5h-3zM146 72h6v3h-6zM150 75h5v4h-5zM158 76h4v3h-4zM37 79h4v3h-4zM50 79h6v3h-6zM55 76h5v5h-5zM61 82h5v4h-5zM126 85h6v5h-6zM12 90h3v4h-3zM38 91h5v3h-5zM48 89h3v3h-3zM69 90h4v4h-4zM91 91h5v4h-5zM122 88h5v4h-5zM161 88h3v3h-3zM3 96h5v3h-5zM6 94h5v4h-5zM13 96h3v5h-3zM58 95h5v5h-5zM95 95h5v3h-5zM131 96h4v4h-4zM139 95h4v5h-4zM165 91h4v6h-4zM173 96h5v4h-5zM94 98h4v3h-4zM115 97h6v5h-6zM143 102h5v4h-5zM167 99h4v3h-4zM46 104h3v4h-3zM65 102h4v5h-4zM109 101h3v5h-3zM124 104h5v4h-5zM141 106h4v3h-4zM156 107h6v3h-6zM44 112h4v4h-4zM90 110h5v5h-5zM125 107h4v3h-4zM163 110h4v4h-4zM-1 113h4v4h-4zM191 113h4v4h-4zM59 113h5v3h-5zM87 115h3v4h-3zM92 116h4v5h-4zM180 113h3v5h-3zM30 122h3v3h-3zM63 121h5v4h-5zM73 121h4v4h-4zM116 120h3v4h-3zM145 122h5v3h-5zM40 126h4v3h-4zM19 132h5v4h-5zM39 128h3v5h-3zM155 128h3v4h-3zM170 132h3v5h-3zM9 135h4v6h-4zM25 137h5v5h-5zM128 136h4v4h-4zM145 135h5v4h-5zM155 134h3v4h-3zM166 136h5v5h-5zM79 142h4v5h-4zM111 140h4v4h-4zM22 147h4v3h-4zM141 145h6v5h-6zM147 146h4v3h-4zM67 153h5v4h-5zM133 150h5v3h-5zM144 151h5v4h-5zM175 149h4v5h-4zM-4 150h5v4h-5zM188 150h5v4h-5zM53 154h5v5h-5zM56 159h5v4h-5zM80 156h3v3h-3zM161 155h4v5h-4zM182 159h5v3h-5zM40 162h4v5h-4zM115 159h4v4h-4zM137 165h3v3h-3zM47 165h5v4h-5zM52 168h3v5h-3zM69 166h3v4h-3zM143 167h3v5h-3zM16 171h5v3h-5zM29 173h4v3h-4zM130 173h6v3h-6zM18 177h5v3h-5zM61 176h5v3h-5zM182 176h5v3h-5zM168 182h3v5h-3zM186 183h5v5h-5zM24 187h3v3h-3zM46 -3h5v4h-5zM46 189h5v4h-5zM50 187h5v5h-5zM84 187h5v4h-5zM96 -3h3v3h-3zM96 189h3v3h-3z"/><path transform="scale(.5)" fill="#be695f" d="M9 1h5v3h-5zM33 1h3v4h-3zM39 -1h3v5h-3zM39 191h3v5h-3zM43 3h3v5h-3zM47 -2h4v5h-4zM47 190h4v5h-4zM58 0h3v3h-3zM88 3h5v5h-5zM95 1h3v5h-3zM100 2h5v3h-5zM106 2h3v5h-3zM131 2h5v4h-5zM136 -2h5v5h-5zM136 190h5v5h-5zM149 -1h6v4h-6zM149 191h6v4h-6zM57 7h5v4h-5zM186 7h3v5h-3zM4 14h5v3h-5zM47 12h3v6h-3zM71 12h5v4h-5zM101 9h3v4h-3zM120 9h6v5h-6zM123 11h5v3h-5zM13 17h5v4h-5zM21 17h4v3h-4zM36 17h3v5h-3zM89 19h3v3h-3zM124 18h3v3h-3zM163 18h3v5h-3zM9 23h4v5h-4zM29 20h3v3h-3zM45 23h5v5h-5zM119 22h5v3h-5zM149 23h3v5h-3zM5 27h3v4h-3zM43 29h3v4h-3zM48 28h5v4h-5zM51 28h3v5h-3zM59 29h3v5h-3zM61 28h4v5h-4zM75 25h5v5h-5zM130 25h3v5h-3zM157 29h3v3h-3zM160 26h5v4h-5zM176 29h5v3h-5zM6 35h3v3h-3zM47 29h5v5h-5zM61 30h5v5h-5zM73 31h3v5h-3zM85 33h5v5h-5zM91 32h3v4h-3zM91 29h6v5h-6zM98 29h3v4h-3zM135 32h3v4h-3zM3 34h3v5h-3zM22 37h5v5h-5zM54 39h3v3h-3zM58 35h5v3h-5zM64 35h3v3h-3zM68 36h5v6h-5zM81 35h4v4h-4zM87 36h3v4h-3zM93 36h5v5h-5zM100 39h3v3h-3zM115 37h5v4h-5zM133 39h3v3h-3zM150 34h5v5h-5zM163 40h3v3h-3zM172 38h4v5h-4zM175 38h4v3h-4zM53 42h4v4h-4zM63 40h4v4h-4zM85 41h4v5h-4zM116 42h5v4h-5zM129 43h4v5h-4zM138 44h5v5h-5zM151 40h3v4h-3zM169 42h4v5h-4zM28 48h3v4h-3zM50 45h4v3h-4zM74 49h4v3h-4zM88 46h4v3h-4zM122 48h3v3h-3zM133 49h4v4h-4zM167 45h3v3h-3zM0 55h5v3h-5zM192 55h5v3h-5zM4 51h4v5h-4zM62 50h6v5h-6zM79 53h4v3h-4zM98 52h3v5h-3zM113 54h5v5h-5zM133 51h3v5h-3zM144 52h4v4h-4zM151 53h5v5h-5zM174 55h3v3h-3zM179 53h3v4h-3zM63 60h3v3h-3zM76 58h3v4h-3zM86 59h5v3h-5zM94 60h4v5h-4zM101 57h5v3h-5zM135 59h3v4h-3zM149 56h4v3h-4zM187 59h3v3h-3zM7 64h4v4h-4zM30 66h4v3h-4zM40 62h5v3h-5zM81 60h6v4h-6zM104 60h5v6h-5zM121 65h4v4h-4zM129 63h4v4h-4zM154 60h4v5h-4zM159 64h6v5h-6zM15 71h4v3h-4zM81 69h5v3h-5zM122 67h3v3h-3zM135 71h5v3h-5zM6 74h3v3h-3zM39 74h5v4h-5zM60 75h4v4h-4zM75 72h4v5h-4zM77 73h3v3h-3zM86 75h5v4h-5zM94 73h3v5h-3zM100 71h5v5h-5zM120 72h5v4h-5zM171 74h5v5h-5zM7 80h3v4h-3zM13 76h3v3h-3zM18 80h5v5h-5zM65 80h3v5h-3zM70 80h4v3h-4zM142 76h5v5h-5zM145 78h3v3h-3zM156 78h3v3h-3zM182 81h4v3h-4zM17 83h4v4h-4zM26 83h3v4h-3zM106 86h3v4h-3zM109 84h5v5h-5zM138 85h4v3h-4zM19 90h5v5h-5zM106 90h4v4h-4zM138 89h3v5h-3zM167 91h5v5h-5zM170 87h4v5h-4zM175 91h5v3h-5zM184 89h5v4h-5zM187 89h4v3h-4zM51 91h4v5h-4zM73 95h4v4h-4zM98 92h3v5h-3zM105 97h3v3h-3zM111 96h4v3h-4zM126 96h5v5h-5zM162 95h4v4h-4zM185 94h5v5h-5zM14 100h5v4h-5zM23 100h3v4h-3zM30 101h5v3h-5zM60 101h5v4h-5zM107 100h3v5h-3zM109 98h4v4h-4zM124 101h5v5h-5zM181 98h4v3h-4zM16 103h4v6h-4zM60 104h3v4h-3zM95 106h4v3h-4zM96 103h4v3h-4zM182 105h5v4h-5zM56 109h4v6h-4zM131 107h4v4h-4zM189 111h3v4h-3zM20 115h4v4h-4zM43 116h5v5h-5zM54 114h5v3h-5zM62 114h4v4h-4zM102 115h4v4h-4zM136 117h4v3h-4zM162 114h5v5h-5zM182 113h3v4h-3zM8 118h3v4h-3zM42 118h3v4h-3zM56 122h3v5h-3zM89 118h3v5h-3zM124 121h5v3h-5zM130 118h3v3h-3zM133 119h5v5h-5zM150 119h5v5h-5zM161 117h3v4h-3zM173 119h4v5h-4zM182 120h4v3h-4zM54 126h4v5h-4zM78 123h5v4h-5zM95 127h3v3h-3zM108 127h4v4h-4zM149 124h4v4h-4zM2 131h3v4h-3zM40 132h5v4h-5zM51 131h5v3h-5zM69 128h5v5h-5zM77 132h3v5h-3zM82 129h5v3h-5zM100 128h3v4h-3zM106 131h3v4h-3zM113 130h6v3h-6zM124 130h4v5h-4zM140 130h5v4h-5zM16 134h5v5h-5zM39 137h3v3h-3zM43 134h5v5h-5zM54 135h4v3h-4zM56 137h5v3h-5zM64 135h4v5h-4zM73 133h4v5h-4zM90 134h4v4h-4zM104 138h5v4h-5zM138 134h5v3h-5zM172 135h6v3h-6zM187 133h4v5h-4zM13 139h3v5h-3zM21 140h4v4h-4zM38 141h4v4h-4zM71 140h4v4h-4zM74 139h4v3h-4zM146 139h4v4h-4zM167 143h6v4h-6zM13 148h4v3h-4zM39 147h6v5h-6zM54 143h5v5h-5zM56 145h5v5h-5zM83 147h5v4h-5zM93 146h5v5h-5zM97 147h4v4h-4zM104 144h5v4h-5zM124 146h5v3h-5zM135 144h4v3h-4zM182 144h4v3h-4zM187 147h3v3h-3zM9 152h6v5h-6zM27 152h4v3h-4zM62 151h4v3h-4zM77 149h5v4h-5zM82 149h4v4h-4zM94 150h5v4h-5zM101 148h5v5h-5zM107 150h4v3h-4zM108 150h5v4h-5zM117 149h4v5h-4zM117 151h6v5h-6zM130 150h3v5h-3zM141 152h4v5h-4zM153 149h3v4h-3zM171 150h4v5h-4zM16 156h5v3h-5zM47 157h6v3h-6zM84 159h3v4h-3zM103 157h5v5h-5zM118 154h3v4h-3zM167 155h4v5h-4zM188 159h4v4h-4zM25 161h4v6h-4zM86 161h5v4h-5zM94 161h3v6h-3zM103 159h4v4h-4zM123 163h3v5h-3zM156 163h5v3h-5zM162 162h3v4h-3zM169 158h3v5h-3zM172 163h5v3h-5zM187 159h3v4h-3zM0 166h4v3h-4zM32 166h5v5h-5zM38 167h4v5h-4zM63 167h4v4h-4zM108 167h5v3h-5zM188 164h4v4h-4zM-1 172h6v3h-6zM191 172h6v3h-6zM53 174h4v3h-4zM58 169h5v5h-5zM68 173h4v5h-4zM92 172h3v3h-3zM102 174h5v4h-5zM109 172h5v3h-5zM137 169h5v5h-5zM158 169h4v4h-4zM168 173h3v4h-3zM180 171h3v4h-3zM130 178h3v4h-3zM145 175h5v5h-5zM151 176h4v4h-4zM155 178h4v5h-4zM165 179h5v4h-5zM15 185h5v3h-5zM28 182h5v3h-5zM32 182h4v6h-4zM34 184h5v3h-5zM47 181h5v4h-5zM62 182h4v4h-4zM137 181h3v4h-3zM141 181h4v6h-4zM144 183h5v3h-5zM153 183h3v3h-3zM156 185h4v3h-4zM5 186h5v3h-5zM28 186h5v4h-5zM34 189h4v3h-4zM68 189h5v3h-5zM78 186h5v4h-5zM91 -4h3v4h-3zM91 188h3v4h-3zM125 -4h5v6h-5zM125 188h5v6h-5zM130 185h4v5h-4zM148 -3h3v5h-3zM148 189h3v5h-3zM158 -2h5v3h-5zM158 190h5v3h-5zM172 189h4v3h-4zM174 187h5v4h-5z"/><path transform="scale(.5)" fill="#c88070" d="M13 0h5v3h-5zM25 -1h3v4h-3zM25 191h3v4h-3zM72 0h4v4h-4zM72 192h4v4h-4zM77 2h5v5h-5zM108 0h3v4h-3zM121 3h4v4h-4zM139 1h3v4h-3zM147 3h4v3h-4zM158 2h4v3h-4zM171 0h3v5h-3zM171 192h3v5h-3zM184 3h5v4h-5zM2 5h3v3h-3zM7 6h4v3h-4zM13 7h4v5h-4zM23 8h5v3h-5zM96 4h4v5h-4zM120 4h4v3h-4zM145 7h5v5h-5zM12 9h4v5h-4zM15 10h5v4h-5zM64 9h5v4h-5zM91 12h4v5h-4zM92 12h5v5h-5zM108 12h3v3h-3zM143 8h4v5h-4zM7 16h3v5h-3zM69 14h5v4h-5zM100 15h3v4h-3zM107 18h4v3h-4zM138 16h3v3h-3zM152 17h3v3h-3zM33 19h4v5h-4zM57 22h5v4h-5zM60 22h4v4h-4zM70 24h3v3h-3zM86 21h5v3h-5zM113 23h3v4h-3zM135 22h4v5h-4zM173 21h4v5h-4zM185 21h5v3h-5zM11 26h4v3h-4zM39 25h4v5h-4zM77 24h4v5h-4zM97 29h3v3h-3zM109 25h4v4h-4zM181 24h4v5h-4zM-3 26h5v4h-5zM189 26h5v4h-5zM29 30h4v4h-4zM44 30h5v3h-5zM59 31h5v5h-5zM102 34h5v5h-5zM113 31h3v4h-3zM122 29h4v5h-4zM125 31h3v5h-3zM132 30h3v5h-3zM141 31h5v4h-5zM149 30h4v5h-4zM5 35h4v3h-4zM29 36h4v4h-4zM36 39h3v4h-3zM77 36h4v3h-4zM133 37h5v4h-5zM145 39h5v4h-5zM167 37h4v4h-4zM0 42h6v6h-6zM192 42h6v6h-6zM19 44h3v5h-3zM46 44h3v5h-3zM68 44h3v5h-3zM78 41h4v4h-4zM134 45h3v3h-3zM161 43h6v5h-6zM187 42h4v4h-4zM19 48h3v3h-3zM23 48h4v4h-4zM30 48h6v5h-6zM60 46h5v3h-5zM82 47h3v3h-3zM109 47h3v3h-3zM149 45h5v4h-5zM157 45h4v5h-4zM39 55h5v4h-5zM52 52h4v5h-4zM78 60h5v4h-5zM111 60h4v3h-4zM128 59h3v4h-3zM133 60h4v4h-4zM139 56h5v3h-5zM163 60h5v3h-5zM80 61h4v4h-4zM92 62h5v3h-5zM43 68h3v3h-3zM51 66h4v3h-4zM61 69h5v5h-5zM73 70h4v5h-4zM87 68h4v3h-4zM116 67h5v3h-5zM152 69h3v5h-3zM162 67h4v5h-4zM8 73h5v3h-5zM16 76h3v3h-3zM83 75h3v3h-3zM106 73h4v4h-4zM132 75h3v5h-3zM179 75h3v4h-3zM25 78h3v3h-3zM30 81h4v3h-4zM41 80h5v4h-5zM48 80h3v3h-3zM114 77h6v4h-6zM153 81h4v4h-4zM170 79h5v4h-5zM-5 78h6v5h-6zM187 78h6v5h-6zM2 84h5v4h-5zM5 82h4v4h-4zM51 85h5v3h-5zM58 86h3v4h-3zM100 83h3v5h-3zM145 84h5v3h-5zM150 81h5v5h-5zM155 82h6v5h-6zM164 85h4v4h-4zM184 86h4v3h-4zM3 88h3v4h-3zM17 90h5v3h-5zM29 89h3v4h-3zM33 87h5v4h-5zM84 89h3v3h-3zM87 88h5v3h-5zM148 90h5v5h-5zM43 93h5v4h-5zM49 96h3v3h-3zM62 93h5v5h-5zM113 96h3v5h-3zM154 93h4v4h-4zM77 100h3v4h-3zM142 97h5v5h-5zM161 100h5v3h-5zM174 100h4v3h-4zM180 98h3v4h-3zM0 105h4v6h-4zM11 102h5v4h-5zM33 103h3v4h-3zM35 105h6v3h-6zM39 104h5v4h-5zM49 104h5v3h-5zM85 105h4v4h-4zM89 102h4v4h-4zM103 104h3v5h-3zM144 103h3v5h-3zM151 103h3v5h-3zM-2 110h5v5h-5zM190 110h5v5h-5zM25 108h5v4h-5zM53 108h4v4h-4zM62 111h3v3h-3zM68 110h4v4h-4zM109 110h4v3h-4zM170 109h3v5h-3zM180 110h3v3h-3zM15 114h5v3h-5zM36 115h6v4h-6zM46 113h3v5h-3zM143 112h5v4h-5zM149 115h5v4h-5zM155 114h3v4h-3zM174 114h3v4h-3zM29 122h3v4h-3zM68 119h4v3h-4zM77 117h3v5h-3zM105 118h5v4h-5zM140 120h3v3h-3zM155 121h3v5h-3zM164 120h5v5h-5zM32 124h4v3h-4zM72 124h4v3h-4zM86 128h3v3h-3zM121 125h4v3h-4zM134 127h4v3h-4zM165 123h3v5h-3zM28 132h3v3h-3zM62 133h5v4h-5zM90 133h5v3h-5zM96 132h4v4h-4zM162 131h3v5h-3zM169 131h5v3h-5zM2 136h4v4h-4zM84 137h5v5h-5zM97 134h5v4h-5zM110 136h4v3h-4zM133 136h6v5h-6zM180 135h3v5h-3zM33 142h4v5h-4zM41 139h3v3h-3zM47 141h5v3h-5zM91 139h5v4h-5zM105 138h3v6h-3zM119 138h3v6h-3zM126 142h5v4h-5zM152 138h4v5h-4zM2 145h3v3h-3zM5 144h5v4h-5zM15 146h4v5h-4zM24 144h5v5h-5zM48 147h3v3h-3zM90 145h3v5h-3zM8 153h5v4h-5zM32 152h3v3h-3zM74 153h5v4h-5zM183 149h6v3h-6zM2 155h5v5h-5zM8 158h4v4h-4zM24 158h3v3h-3zM27 156h4v4h-4zM34 158h3v5h-3zM60 156h5v4h-5zM69 155h3v5h-3zM71 154h5v4h-5zM111 155h4v3h-4zM155 159h4v4h-4zM2 161h3v3h-3zM33 161h3v4h-3zM38 161h3v4h-3zM58 162h3v4h-3zM174 159h5v4h-5zM8 167h3v3h-3zM25 164h4v4h-4zM42 167h4v4h-4zM92 165h6v5h-6zM149 165h5v3h-5zM158 166h3v4h-3zM169 169h5v3h-5zM11 175h3v3h-3zM40 174h5v3h-5zM65 172h4v4h-4zM91 174h5v4h-5zM98 173h3v5h-3zM151 171h4v4h-4zM8 177h3v5h-3zM45 179h4v3h-4zM118 177h4v5h-4zM6 182h3v5h-3zM10 184h5v4h-5zM94 182h3v4h-3zM110 180h5v4h-5zM163 181h3v5h-3zM10 -3h6v3h-6zM10 189h6v3h-6zM62 186h5v5h-5zM106 -3h4v5h-4zM106 189h4v5h-4zM111 -3h5v5h-5zM111 189h5v5h-5zM117 185h5v4h-5zM165 188h3v3h-3zM185 -3h3v5h-3zM185 189h3v5h-3zM186 187h3v5h-3z"/><path transform="scale(.5)" fill="#e1d2b4" d="M20 -2h3v4h-3zM20 190h3v4h-3zM54 2h5v4h-5zM86 3h4v3h-4zM164 2h6v5h-6zM15 8h4v3h-4zM45 8h4v3h-4zM70 8h4v3h-4zM130 7h5v3h-5zM177 5h5v5h-5zM3 11h3v5h-3zM40 10h3v3h-3zM79 10h3v5h-3zM143 11h4v3h-4zM154 10h3v3h-3zM168 10h3v5h-3zM46 17h3v3h-3zM119 14h3v6h-3zM15 22h5v3h-5zM51 22h4v3h-4zM71 21h5v5h-5zM77 21h3v4h-3zM126 24h4v3h-4zM70 25h4v3h-4zM89 29h4v3h-4zM138 28h3v5h-3zM140 25h4v4h-4zM148 29h5v3h-5zM149 25h4v5h-4zM18 32h4v3h-4zM77 31h4v3h-4zM156 34h3v4h-3zM12 39h5v4h-5zM121 39h5v4h-5zM33 45h3v3h-3zM44 40h4v4h-4zM185 45h4v4h-4zM40 51h5v3h-5zM97 51h3v3h-3zM157 53h4v5h-4zM161 55h5v3h-5zM18 56h4v5h-4zM53 56h3v5h-3zM122 59h4v4h-4zM161 55h4v5h-4zM184 56h5v5h-5zM17 64h5v5h-5zM25 61h3v5h-3zM53 62h5v4h-5zM65 61h4v5h-4zM0 69h5v5h-5zM9 70h3v3h-3zM85 66h5v4h-5zM170 65h5v5h-5zM32 72h3v3h-3zM46 74h5v4h-5zM53 74h5v3h-5zM115 73h4v5h-4zM164 72h3v5h-3zM186 74h5v6h-5zM83 77h5v4h-5zM101 77h5v5h-5zM108 81h5v3h-5zM125 77h4v4h-4zM161 78h4v4h-4zM46 82h5v4h-5zM175 82h5v5h-5zM154 86h4v5h-4zM17 93h4v4h-4zM30 94h5v3h-5zM38 95h5v6h-5zM119 92h3v5h-3zM137 94h3v5h-3zM148 94h5v3h-5zM179 91h5v5h-5zM50 99h5v3h-5zM157 99h4v5h-4zM114 106h4v3h-4zM176 105h4v5h-4zM3 112h5v3h-5zM73 107h3v4h-3zM99 111h5v3h-5zM147 112h3v4h-3zM84 115h3v5h-3zM105 113h4v5h-4zM110 116h4v5h-4zM113 117h4v4h-4zM167 112h3v5h-3zM-3 118h6v5h-6zM189 118h6v5h-6zM110 117h3v5h-3zM118 121h3v4h-3zM187 118h3v5h-3zM0 125h5v5h-5zM17 124h4v4h-4zM67 125h5v3h-5zM100 127h5v4h-5zM102 127h5v3h-5zM164 127h4v5h-4zM174 123h4v5h-4zM12 129h3v3h-3zM133 132h4v5h-4zM183 131h5v4h-5zM77 138h4v3h-4zM92 138h5v3h-5zM162 133h4v3h-4zM14 142h4v5h-4zM24 140h6v3h-6zM157 140h4v4h-4zM188 142h3v5h-3zM73 144h4v3h-4zM122 147h3v5h-3zM170 146h5v5h-5zM177 146h5v4h-5zM52 149h3v3h-3zM165 151h4v4h-4zM93 158h5v4h-5zM10 162h5v5h-5zM21 159h5v4h-5zM108 159h3v5h-3zM148 163h3v6h-3zM185 161h3v3h-3zM170 168h3v4h-3zM118 170h5v5h-5zM128 171h3v3h-3zM148 172h3v3h-3zM174 173h5v5h-5zM30 180h4v3h-4zM36 180h5v3h-5zM73 175h3v4h-3zM80 179h4v4h-4zM102 178h3v5h-3zM140 178h4v3h-4zM173 178h5v4h-5zM41 181h4v4h-4zM79 181h3v3h-3zM102 180h5v4h-5zM39 -3h5v4h-5zM39 189h5v4h-5zM72 189h5v3h-5z"/><path transform="scale(.5)" fill="#8c7364" d="M114 -1h3v6h-3zM114 191h3v6h-3zM24 6h4v3h-4zM36 6h5v3h-5zM71 6h4v4h-4zM106 5h3v6h-3zM158 8h5v5h-5zM165 8h5v3h-5zM82 10h4v3h-4zM153 12h4v4h-4zM187 11h3v4h-3zM41 16h5v3h-5zM50 13h4v5h-4zM85 15h6v3h-6zM139 17h4v4h-4zM146 16h5v4h-5zM178 19h3v4h-3zM-2 18h4v3h-4zM190 18h4v3h-4zM6 20h5v3h-5zM43 21h3v4h-3zM85 20h4v3h-4zM154 18h3v5h-3zM167 21h4v5h-4zM183 22h4v5h-4zM24 26h4v4h-4zM94 26h5v4h-5zM126 25h3v5h-3zM30 32h5v3h-5zM37 30h5v4h-5zM111 31h5v5h-5zM160 34h3v3h-3zM187 31h3v5h-3zM42 39h3v5h-3zM106 36h3v3h-3zM23 41h5v6h-5zM58 40h4v4h-4zM90 42h5v3h-5zM126 42h4v5h-4zM172 43h5v3h-5zM1 50h4v3h-4zM9 45h4v5h-4zM95 46h4v5h-4zM104 49h4v4h-4zM163 46h3v4h-3zM177 48h5v5h-5zM182 45h4v5h-4zM15 51h4v3h-4zM46 51h5v3h-5zM68 52h4v4h-4zM72 51h4v4h-4zM87 52h5v5h-5zM184 50h4v4h-4zM34 56h5v5h-5zM45 59h4v3h-4zM66 61h6v3h-6zM82 58h5v3h-5zM103 59h5v3h-5zM148 56h5v3h-5zM9 62h4v3h-4zM48 60h4v5h-4zM171 61h4v4h-4zM31 69h3v5h-3zM92 68h3v3h-3zM106 70h5v5h-5zM141 65h5v6h-5zM182 67h5v4h-5zM62 71h5v5h-5zM110 73h5v4h-5zM23 76h4v5h-4zM72 76h5v6h-5zM95 77h4v5h-4zM136 78h5v4h-5zM33 85h3v4h-3zM80 80h5v5h-5zM94 86h5v3h-5zM137 84h5v4h-5zM187 85h3v4h-3zM54 90h4v5h-4zM55 88h6v3h-6zM64 88h5v4h-5zM71 91h3v5h-3zM111 91h4v4h-4zM128 88h5v4h-5zM139 88h3v4h-3zM151 89h5v5h-5zM22 97h3v3h-3zM28 95h3v5h-3zM88 96h3v5h-3zM156 91h3v5h-3zM1 100h3v5h-3zM25 98h4v3h-4zM99 97h3v3h-3zM8 105h3v5h-3zM26 103h3v6h-3zM75 102h5v4h-5zM133 106h3v3h-3zM167 104h4v4h-4zM171 103h5v3h-5zM185 102h5v5h-5zM19 110h3v5h-3zM38 108h5v3h-5zM78 110h4v3h-4zM87 110h3v4h-3zM137 112h3v5h-3zM182 108h3v5h-3zM69 113h4v3h-4zM75 117h3v4h-3zM78 113h3v3h-3zM140 115h4v5h-4zM186 117h4v5h-4zM22 123h5v3h-5zM36 118h5v5h-5zM46 121h3v3h-3zM50 119h4v4h-4zM83 119h3v3h-3zM92 118h5v5h-5zM178 121h5v3h-5zM6 125h4v5h-4zM23 124h4v5h-4zM24 126h5v5h-5zM182 123h5v5h-5zM186 125h5v3h-5zM58 130h5v3h-5zM73 127h4v5h-4zM151 132h4v5h-4zM34 135h5v6h-5zM124 135h3v4h-3zM154 136h3v3h-3zM7 139h3v5h-3zM59 141h5v3h-5zM60 140h5v4h-5zM86 143h4v3h-4zM134 143h3v4h-3zM60 147h4v4h-4zM71 146h4v5h-4zM77 145h3v5h-3zM152 147h5v4h-5zM165 145h4v5h-4zM0 150h4v3h-4zM19 150h4v4h-4zM39 150h3v4h-3zM47 154h3v3h-3zM59 153h3v4h-3zM91 154h4v3h-4zM164 151h4v5h-4zM178 156h5v5h-5zM18 162h5v3h-5zM53 160h6v5h-6zM63 164h5v3h-5zM68 163h5v4h-5zM73 160h4v3h-4zM101 163h4v5h-4zM141 162h4v4h-4zM12 164h5v4h-5zM23 167h4v5h-4zM74 168h3v4h-3zM96 165h5v4h-5zM106 167h3v5h-3zM138 167h3v5h-3zM164 169h3v4h-3zM177 167h3v4h-3zM4 174h5v3h-5zM29 173h4v4h-4zM36 171h5v5h-5zM49 172h3v6h-3zM74 173h6v5h-6zM140 172h4v3h-4zM164 171h3v5h-3zM180 173h5v4h-5zM27 177h3v4h-3zM66 179h3v3h-3zM84 177h3v5h-3zM114 175h5v5h-5zM177 176h5v3h-5zM67 182h4v3h-4zM72 183h3v4h-3zM82 183h5v4h-5zM114 182h5v3h-5zM119 182h4v5h-4zM173 183h4v4h-4zM174 182h5v5h-5zM184 182h4v3h-4zM0 185h3v4h-3zM16 -4h6v5h-6zM16 188h6v5h-6zM39 186h4v4h-4zM99 187h5v4h-5zM116 187h4v4h-4z"/><path transform="scale(.5)" fill="#4664af" d="M177 2h4v5h-4zM180 3h3v3h-3zM54 7h3v6h-3zM81 5h3v6h-3zM127 6h3v5h-3zM134 4h3v5h-3zM143 7h5v5h-5zM34 12h4v3h-4zM101 9h5v4h-5zM135 12h3v3h-3zM0 18h4v4h-4zM16 17h3v5h-3zM33 18h3v3h-3zM132 16h5v3h-5zM166 13h4v5h-4zM128 23h4v4h-4zM141 21h3v3h-3zM164 24h3v4h-3zM20 24h4v4h-4zM31 28h4v5h-4zM10 30h5v5h-5zM70 32h4v3h-4zM6 45h4v3h-4zM75 43h3v4h-3zM102 43h3v3h-3zM102 40h4v4h-4zM99 47h5v5h-5zM12 53h5v4h-5zM28 51h5v5h-5zM84 54h3v4h-3zM105 52h3v3h-3zM-4 50h5v5h-5zM188 50h5v5h-5zM6 57h4v4h-4zM13 58h5v5h-5zM32 57h5v4h-5zM-1 62h4v4h-4zM191 62h4v4h-4zM110 62h4v3h-4zM116 65h3v4h-3zM142 62h4v3h-4zM125 66h3v5h-3zM158 69h3v6h-3zM25 75h3v5h-3zM40 72h4v3h-4zM164 76h4v3h-4zM0 78h5v4h-5zM104 77h5v4h-5zM168 78h5v3h-5zM12 85h4v3h-4zM71 85h4v6h-4zM132 84h5v3h-5zM113 90h3v5h-3zM123 89h3v5h-3zM77 97h5v4h-5zM86 92h4v3h-4zM43 100h4v4h-4zM54 99h3v4h-3zM82 98h5v3h-5zM90 101h4v3h-4zM135 98h4v5h-4zM20 104h4v4h-4zM67 106h4v3h-4zM162 105h3v5h-3zM17 108h4v5h-4zM93 109h3v5h-3zM154 111h4v5h-4zM10 113h4v3h-4zM29 118h3v3h-3zM121 113h5v5h-5zM126 116h5v4h-5zM10 119h3v4h-3zM36 124h4v4h-4zM89 125h4v3h-4zM148 123h3v5h-3zM154 122h5v5h-5zM177 123h4v5h-4zM16 129h5v4h-5zM45 132h4v4h-4zM145 132h3v3h-3zM177 134h4v3h-4zM183 136h4v4h-4zM3 142h4v4h-4zM101 143h4v4h-4zM114 139h4v3h-4zM179 139h3v5h-3zM181 139h5v4h-5zM116 145h5v5h-5zM130 148h5v3h-5zM162 144h4v5h-4zM17 150h4v4h-4zM123 151h5v5h-5zM154 152h5v4h-5zM113 155h3v4h-3zM128 155h3v3h-3zM130 157h3v4h-3zM173 158h5v5h-5zM16 168h5v4h-5zM116 164h3v4h-3zM126 166h6v4h-6zM132 169h4v4h-4zM146 166h3v4h-3zM181 168h4v4h-4zM114 171h4v6h-4zM-2 173h3v5h-3zM190 173h3v5h-3zM54 174h4v5h-4zM92 179h4v5h-4zM101 179h4v3h-4zM-4 176h4v3h-4zM188 176h4v3h-4zM20 184h4v4h-4zM52 184h3v4h-3zM135 -4h3v4h-3zM135 188h3v4h-3zM155 -3h4v3h-4zM155 189h4v3h-4z"/><path transform="scale(.5)" fill="#c67668" d="M24 6h6v18h-6zM11 40h7v3h-7zM12 82h3v7h-3zM2 103h5v18h-5zM8 98h4v22h-4zM36 4h18v3h-18zM36 25h18v3h-18zM36 4h3v24h-3zM42 9h3v5h-3zM42 41h4v4h-4zM40 59h5v6h-5zM47 85h6v9h-6zM45 143h7v5h-7zM67 14h5v6h-5zM62 44h23v4h-23zM62 33h4v18h-4zM65 59h6v6h-6zM73 60h7v6h-7zM69 80h5v4h-5zM61 185h21v4h-21zM61 160h4v29h-4zM79 160h4v29h-4zM105 10h5v14h-5zM99 61h6v4h-6zM108 58h4v5h-4zM90 100h25v4h-25zM90 119h25v4h-25zM90 100h4v23h-4zM111 100h4v23h-4zM95 131h4v24h-4zM98 137h6v8h-6zM122 3h16v4h-16zM122 24h16v4h-16zM122 3h4v24h-4zM131 40h9v4h-9zM125 38h11v5h-11zM121 40h5v5h-5zM122 76h16v3h-16zM122 90h16v3h-16zM122 76h3v17h-3zM135 76h3v17h-3zM129 82h5v7h-5zM128 105h6v4h-6zM155 59h3v4h-3zM172 3h17v3h-17zM172 25h17v3h-17zM172 3h3v25h-3zM186 3h3v25h-3zM172 88h19v6h-19zM173 104h5v11h-5zM184 112h6v8h-6zM175 128h16v5h-16zM172 129h18v5h-18z"/><path transform="scale(.5)" fill="#b45a58" d="M18 12h4v15h-4zM3 34h27v4h-27zM3 45h27v4h-27zM3 34h4v15h-4zM26 34h4v15h-4zM7 39h3v5h-3zM3 55h26v3h-26zM3 67h26v3h-26zM3 55h3v15h-3zM27 55h3v15h-3zM2 75h28v3h-28zM2 91h28v3h-28zM27 75h3v19h-3zM7 102h18v6h-18zM4 113h5v4h-5zM3 102h6v19h-6zM14 162h6v15h-6zM6 161h6v23h-6zM11 171h5v18h-5zM47 61h5v5h-5zM37 86h11v6h-11zM35 75h22v4h-22zM37 80h10v5h-10zM45 106h6v6h-6zM36 129h19v3h-19zM36 150h19v3h-19zM36 129h3v24h-3zM51 129h3v24h-3zM46 141h5v5h-5zM42 171h6v4h-6zM61 3h21v4h-21zM61 24h21v4h-21zM79 3h4v25h-4zM68 8h6v4h-6zM79 41h5v5h-5zM59 109h17v5h-17zM69 100h4v14h-4zM80 104h4v13h-4zM69 116h14v3h-14zM79 135h4v12h-4zM66 170h5v6h-5zM108 16h6v6h-6zM93 8h6v22h-6zM105 17h6v13h-6zM89 35h26v3h-26zM89 46h26v3h-26zM89 35h3v14h-3zM105 38h6v5h-6zM96 38h5v6h-5zM90 55h26v3h-26zM90 66h26v3h-26zM90 55h3v14h-3zM112 55h3v14h-3zM99 59h5v7h-5zM102 84h4v5h-4zM104 104h6v4h-6zM94 112h6v5h-6zM94 144h7v3h-7zM127 13h7v5h-7zM126 8h6v7h-6zM120 35h16v5h-16zM130 60h4v6h-4zM129 58h6v3h-6zM126 83h5v6h-5zM121 120h18v4h-18zM121 99h4v25h-4zM135 99h4v25h-4zM120 128h19v3h-19zM120 152h19v3h-19zM137 128h3v26h-3zM125 134h7v6h-7zM127 166h5v15h-5zM122 175h10v4h-10zM123 164h4v15h-4zM123 183h9v4h-9zM143 2h23v4h-23zM144 34h22v4h-22zM144 45h22v4h-22zM144 34h4v15h-4zM162 34h4v15h-4zM144 54h22v3h-22zM144 67h22v3h-22zM163 54h3v16h-3zM156 59h6v7h-6zM145 76h21v3h-21zM145 91h21v3h-21zM145 76h3v18h-3zM145 120h21v3h-21zM145 100h3v23h-3zM162 100h3v23h-3zM144 129h23v3h-23zM144 151h23v3h-23zM144 129h3v26h-3zM149 135h6v6h-6zM153 162h5v20h-5zM171 34h18v3h-18zM171 46h18v3h-18zM186 34h3v15h-3zM181 60h4v5h-4zM180 75h9v6h-9zM179 83h8v4h-8zM172 107h18v3h-18zM171 149h19v4h-19zM172 160h17v3h-17zM172 186h17v3h-17zM172 160h3v29h-3zM186 160h3v29h-3zM177 174h3v4h-3zM176 179h6v6h-6zM176 170h7v6h-7z"/><path transform="scale(.5)" fill="#6e5a96" d="M5 20h21v5h-21zM45 38h6v4h-6zM36 120h19v3h-19zM36 100h3v23h-3zM51 100h3v23h-3zM61 76h22v3h-22zM61 90h22v3h-22zM61 76h3v18h-3zM80 76h3v18h-3zM76 142h3v8h-3zM75 132h5v3h-5zM93 135h19v5h-19zM100 129h3v16h-3zM120 43h20v5h-20zM128 114h5v5h-5zM123 144h7v7h-7zM149 171h12v6h-12zM159 170h5v13h-5zM148 161h4v23h-4zM172 55h17v4h-17zM172 66h17v4h-17zM172 55h4v15h-4zM177 139h10v5h-10z"/><path transform="scale(.5)" fill="#23306e" d="M11 11h10v5h-10zM4 42h4v7h-4zM21 58h9v9h-9zM5 103h5v6h-5zM14 136h8v12h-8zM41 35h11v8h-11zM51 61h5v11h-5zM38 81h12v10h-12zM37 145h7v9h-7zM65 17h11v9h-11zM77 59h8v4h-8zM60 83h6v10h-6zM71 112h9v11h-9zM65 144h10v10h-10zM61 162h10v9h-10zM89 4h10v4h-10zM101 42h8v7h-8zM94 104h9v12h-9zM102 135h10v12h-10zM107 158h8v12h-8zM130 20h6v10h-6zM124 38h9v8h-9zM128 60h7v6h-7zM134 78h6v4h-6zM125 98h9v10h-9zM130 129h7v12h-7zM126 177h9v9h-9zM156 35h8v7h-8zM152 53h11v8h-11zM152 81h5v10h-5zM155 100h7v7h-7zM151 159h11v10h-11zM173 38h11v8h-11zM174 59h8v10h-8zM174 80h10v12h-10zM171 117h9v6h-9zM177 141h12v5h-12zM172 174h12v6h-12z"/><path transform="scale(.5)" fill="#3755a5" d="M6 18h3v6h-3zM18 56h4v9h-4zM22 87h7v4h-7zM16 114h5v6h-5zM24 151h4v3h-4zM26 177h4v5h-4zM46 63h8v8h-8zM41 80h6v4h-6zM38 105h4v5h-4zM44 180h4v7h-4zM69 19h9v3h-9zM66 132h7v4h-7zM60 159h7v5h-7zM100 44h6v6h-6zM100 61h6v3h-6zM103 105h5v6h-5zM96 138h6v6h-6zM128 39h4v7h-4zM125 76h7v8h-7zM126 185h6v5h-6zM151 53h7v9h-7zM150 79h6v5h-6zM155 129h8v4h-8zM176 58h8v8h-8zM175 86h5v4h-5zM180 129h8v7h-8zM178 172h7v9h-7z"/><path transform="scale(.5)" fill="#1e2864" d="M16 110h7v11h-7zM19 141h9v13h-9zM44 38h12v11h-12zM35 56h6v12h-6zM77 112h7v8h-7zM64 169h14v13h-14zM99 2h7v7h-7zM95 35h10v10h-10zM102 80h7v12h-7zM108 144h8v7h-8zM104 160h11v8h-11zM121 4h13v12h-13zM121 36h10v14h-10zM126 79h7v8h-7zM124 137h11v9h-11zM124 165h7v10h-7zM146 17h11v9h-11zM150 85h10v9h-10zM152 108h10v14h-10zM145 171h13v8h-13zM176 36h6v7h-6zM178 53h7v7h-7zM176 132h11v12h-11z"/><path transform="scale(.5)" fill="#965f82" d="M2 129h28v4h-28zM2 129h4v25h-4zM26 129h4v25h-4zM35 34h20v4h-20zM35 45h20v4h-20zM35 34h4v15h-4zM52 34h4v15h-4zM35 54h21v3h-21zM35 54h3v16h-3zM53 54h3v16h-3zM42 106h6v3h-6zM36 160h19v4h-19zM36 185h19v4h-19zM36 160h4v29h-4zM68 20h6v3h-6zM62 39h4v5h-4zM61 55h22v3h-22zM61 66h22v3h-22zM61 55h3v14h-3zM80 55h3v14h-3zM70 59h5v6h-5zM80 100h3v10h-3zM106 6h6v10h-6zM89 75h26v3h-26zM89 91h26v3h-26zM112 75h3v18h-3zM109 131h5v21h-5zM88 158h28v3h-28zM88 187h28v3h-28zM88 158h3v32h-3zM113 158h3v32h-3zM122 55h17v3h-17zM122 55h3v14h-3zM135 55h3v14h-3zM126 59h7v5h-7zM125 106h7v5h-7zM129 137h6v5h-6zM149 13h5v14h-5zM143 7h6v19h-6zM154 16h11v4h-11zM155 41h7v3h-7zM153 59h6v4h-6zM177 59h6v7h-6zM174 75h4v9h-4zM176 77h4v13h-4z"/><path d="M0.0 0v96M16.2 0v96M29.0 0v96M43.1 0v96M59.2 0v96M70.8 0v96M84.4 0v96M0 0.0h96M0 15.7h96M0 25.9h96M0 36.3h96M0 48.2h96M0 63.2h96M0 78.2h96" stroke="#6ea0e1" stroke-width="1.0" opacity="0.8"/></pattern><pattern id="bT" width="64" height="60" patternUnits="userSpaceOnUse" x="45" y="31"><rect width="64" height="60" fill="#dcd0ac"/><path transform="scale(.5)" fill="#918069" d="M0 2h3v3h-3zM0 14h4v3h-4zM1 26h3v3h-3zM0 54h4v5h-4zM0 92h3v2h-3zM0 100h4v4h-4zM0 118h3v2h-3zM0 0h3v2h-3zM6 1h4v5h-4zM5 40h4v3h-4zM6 65h4v2h-4zM5 72h3v5h-3zM6 83h4v4h-4zM6 95h4v2h-4zM6 98h3v4h-3zM5 112h4v3h-4zM11 4h4v4h-4zM12 10h3v2h-3zM11 21h4v4h-4zM11 26h4v2h-4zM11 30h3v4h-3zM11 58h4v4h-4zM11 74h4v3h-4zM11 90h4v4h-4zM11 100h3v4h-3zM11 105h3v2h-3zM11 120h4v1h-4zM11 0h4v2h-4zM16 0h5v3h-5zM16 15h4v3h-4zM17 33h3v3h-3zM17 60h3v5h-3zM16 81h4v5h-4zM16 86h4v4h-4zM16 95h4v3h-4zM21 18h5v4h-5zM21 45h5v3h-5zM21 53h5v5h-5zM21 64h5v3h-5zM21 82h5v2h-5zM21 99h6v3h-6zM21 104h5v4h-5zM28 7h4v3h-4zM27 40h5v2h-5zM27 47h5v4h-5zM28 70h4v4h-4zM27 88h5v3h-5zM28 101h4v3h-4zM33 7h4v4h-4zM33 13h4v3h-4zM33 17h4v4h-4zM33 25h4v4h-4zM33 34h4v3h-4zM33 40h4v3h-4zM33 60h4v3h-4zM33 63h3v4h-3zM33 110h4v4h-4zM34 115h3v2h-3zM38 3h4v2h-4zM38 21h4v5h-4zM38 29h3v3h-3zM38 43h4v3h-4zM38 51h4v4h-4zM38 56h4v2h-4zM38 59h4v4h-4zM39 78h3v2h-3zM38 105h3v3h-3zM44 16h3v3h-3zM44 37h3v3h-3zM44 53h3v4h-3zM44 58h3v3h-3zM44 66h3v3h-3zM44 70h3v4h-3zM44 75h3v3h-3zM44 79h3v4h-3zM44 84h3v4h-3zM44 103h2v2h-2zM44 119h3v1h-3zM44 0h3v2h-3zM48 8h4v4h-4zM48 23h3v3h-3zM48 27h3v4h-3zM48 38h4v4h-4zM48 75h3v3h-3zM48 79h4v3h-4zM48 91h3v3h-3zM48 115h3v4h-3zM53 1h4v3h-4zM53 10h4v4h-4zM53 20h4v3h-4zM53 52h4v4h-4zM53 57h4v4h-4zM54 68h3v4h-3zM59 15h3v2h-3zM58 30h4v4h-4zM58 38h3v4h-3zM59 48h3v4h-3zM59 57h3v2h-3zM58 60h3v4h-3zM59 65h3v4h-3zM59 111h3v3h-3zM62 10h5v4h-5zM63 28h4v3h-4zM63 50h4v4h-4zM63 55h5v4h-5zM63 60h4v3h-4zM63 64h4v4h-4zM62 83h5v2h-5zM63 86h4v3h-4zM63 95h3v3h-3zM69 1h4v3h-4zM69 6h4v4h-4zM69 18h4v3h-4zM69 38h4v5h-4zM69 43h4v3h-4zM69 52h3v3h-3zM69 63h4v5h-4zM69 69h4v5h-4zM69 83h3v2h-3zM69 86h4v3h-4zM69 94h3v4h-3zM74 3h3v5h-3zM74 16h3v4h-3zM74 34h3v3h-3zM74 43h3v4h-3zM74 56h3v4h-3zM73 62h3v5h-3zM74 67h3v3h-3zM74 71h3v4h-3zM74 80h3v3h-3zM74 98h3v2h-3zM74 101h3v3h-3zM78 8h3v4h-3zM79 16h3v4h-3zM79 21h3v4h-3zM78 30h3v3h-3zM78 49h3v2h-3zM78 66h4v4h-4zM78 71h3v5h-3zM78 78h3v3h-3zM78 81h3v5h-3zM79 97h3v4h-3zM78 119h3v1h-3zM78 0h3v2h-3zM82 5h3v4h-3zM83 22h3v2h-3zM83 68h3v5h-3zM82 77h3v4h-3zM83 103h3v5h-3zM87 1h3v3h-3zM87 11h3v3h-3zM87 50h3v4h-3zM88 54h3v4h-3zM87 71h3v4h-3zM87 84h3v4h-3zM87 92h3v5h-3zM87 114h3v4h-3zM92 2h4v3h-4zM92 7h4v3h-4zM92 11h4v3h-4zM93 15h3v5h-3zM93 28h3v4h-3zM92 33h3v2h-3zM92 96h4v4h-4zM92 111h3v5h-3zM98 11h3v5h-3zM97 39h3v3h-3zM97 54h3v3h-3zM98 61h3v3h-3zM98 65h3v4h-3zM97 71h3v3h-3zM97 81h3v3h-3zM98 97h3v5h-3zM98 103h3v4h-3zM102 4h4v4h-4zM102 23h4v3h-4zM102 39h3v4h-3zM102 44h4v2h-4zM103 51h3v2h-3zM103 58h3v3h-3zM103 75h3v3h-3zM102 78h4v3h-4zM102 91h5v3h-5zM102 99h4v3h-4zM108 8h3v4h-3zM108 17h3v3h-3zM108 67h3v5h-3zM108 73h3v5h-3zM108 93h3v4h-3zM108 102h3v3h-3zM108 110h3v4h-3zM108 115h3v3h-3zM112 8h3v2h-3zM112 29h3v2h-3zM112 36h3v3h-3zM112 49h3v4h-3zM112 112h3v3h-3zM116 2h4v2h-4zM117 8h3v3h-3zM117 35h3v4h-3zM116 39h3v2h-3zM117 53h3v5h-3zM116 66h4v5h-4zM117 72h3v5h-3zM117 85h3v4h-3zM116 90h4v2h-4zM116 94h4v2h-4zM117 106h4v4h-4zM116 115h4v4h-4zM121 2h4v4h-4zM122 12h3v5h-3zM121 43h4v5h-4zM122 77h4v4h-4zM121 87h3v2h-3zM121 99h4v3h-4zM121 103h4v3h-4zM126 15h2v3h-2zM126 19h1v5h-1zM126 81h1v3h-1zM127 86h1v3h-1zM126 99h1v3h-1zM126 109h1v2h-1z"/><path transform="scale(.5)" fill="#706052" d="M1 6h3v3h-3zM0 41h3v3h-3zM0 45h4v3h-4zM1 49h3v4h-3zM0 60h4v4h-4zM0 74h3v4h-3zM0 89h3v3h-3zM0 106h3v3h-3zM6 10h3v4h-3zM6 15h4v2h-4zM6 22h3v3h-3zM5 34h4v5h-4zM5 92h4v3h-4zM6 103h4v3h-4zM11 0h4v4h-4zM11 17h4v4h-4zM12 35h3v2h-3zM11 81h3v4h-3zM11 86h4v3h-4zM11 114h3v4h-3zM16 10h4v4h-4zM16 37h4v5h-4zM16 46h4v2h-4zM16 57h4v2h-4zM16 71h4v4h-4zM16 76h4v4h-4zM21 23h5v4h-5zM21 36h5v4h-5zM21 40h5v4h-5zM22 68h5v4h-5zM21 73h5v4h-5zM21 96h5v3h-5zM27 22h4v3h-4zM28 55h5v5h-5zM28 75h4v4h-4zM27 84h4v3h-4zM33 3h4v3h-4zM33 29h3v4h-3zM33 45h4v3h-4zM33 48h4v2h-4zM33 69h4v3h-4zM33 86h4v4h-4zM33 95h3v3h-3zM33 99h4v2h-4zM34 118h3v2h-3zM34 0h3v2h-3zM38 7h4v4h-4zM38 12h4v2h-4zM38 16h4v4h-4zM38 26h4v3h-4zM38 33h4v4h-4zM38 64h4v4h-4zM38 69h4v5h-4zM38 74h5v3h-5zM38 81h4v4h-4zM44 1h3v4h-3zM44 10h2v2h-2zM44 20h3v5h-3zM44 25h3v5h-3zM44 31h3v5h-3zM44 46h3v3h-3zM44 50h3v2h-3zM44 62h3v2h-3zM44 114h3v3h-3zM48 12h3v4h-3zM48 17h3v4h-3zM48 35h3v2h-3zM48 46h3v3h-3zM48 50h4v2h-4zM48 53h3v4h-3zM48 67h4v3h-4zM48 95h3v4h-3zM48 110h4v3h-4zM53 5h5v3h-5zM53 15h4v4h-4zM53 28h4v2h-4zM53 41h4v4h-4zM54 46h4v5h-4zM53 61h4v2h-4zM54 78h3v4h-3zM53 83h4v3h-4zM53 91h3v3h-3zM53 99h3v4h-3zM58 35h3v3h-3zM58 70h4v4h-4zM58 79h3v3h-3zM58 87h3v3h-3zM59 115h3v5h-3zM63 3h4v3h-4zM63 16h5v3h-5zM63 37h5v3h-5zM63 46h4v2h-4zM64 69h4v3h-4zM63 73h4v4h-4zM63 78h5v4h-5zM69 11h3v2h-3zM69 101h4v5h-4zM69 117h4v3h-4zM73 9h3v3h-3zM73 21h3v4h-3zM74 32h3v2h-3zM74 39h3v3h-3zM73 85h4v5h-4zM74 95h3v3h-3zM78 5h3v2h-3zM78 13h3v3h-3zM78 34h3v4h-3zM78 40h4v3h-4zM78 52h3v4h-3zM78 57h3v5h-3zM78 87h3v4h-3zM78 93h3v3h-3zM78 103h3v5h-3zM83 11h4v4h-4zM82 30h4v3h-4zM83 50h3v2h-3zM83 83h3v4h-3zM83 108h3v3h-3zM82 117h3v3h-3zM82 0h3v2h-3zM87 5h3v4h-3zM87 26h3v4h-3zM87 45h4v5h-4zM87 65h4v4h-4zM88 80h3v2h-3zM88 89h3v2h-3zM87 98h3v2h-3zM87 101h4v3h-4zM92 49h4v2h-4zM92 61h4v5h-4zM92 80h3v4h-3zM92 101h4v5h-4zM97 8h3v3h-3zM97 17h3v4h-3zM98 22h3v2h-3zM97 30h3v3h-3zM97 48h3v5h-3zM103 15h3v3h-3zM102 18h4v5h-4zM103 35h4v3h-4zM102 54h4v3h-4zM102 71h4v3h-4zM102 95h4v3h-4zM102 111h4v3h-4zM103 114h3v2h-3zM103 117h4v3h-4zM103 0h4v2h-4zM108 2h3v4h-3zM108 21h3v3h-3zM108 26h3v5h-3zM108 31h3v4h-3zM108 36h3v4h-3zM109 42h2v4h-2zM108 53h3v3h-3zM108 57h3v3h-3zM108 62h3v4h-3zM108 83h3v2h-3zM108 87h3v4h-3zM108 106h3v2h-3zM113 4h3v3h-3zM112 12h3v3h-3zM112 16h3v2h-3zM112 25h3v3h-3zM112 32h3v3h-3zM112 40h3v3h-3zM112 71h2v3h-2zM112 106h3v3h-3zM112 117h3v3h-3zM112 0h3v1h-3zM117 5h4v2h-4zM117 21h3v4h-3zM116 30h4v3h-4zM117 78h4v2h-4zM116 97h4v4h-4zM117 111h3v4h-3zM121 7h3v4h-3zM122 18h3v3h-3zM121 22h4v4h-4zM121 48h3v2h-3zM121 51h4v3h-4zM121 55h4v4h-4zM122 61h3v2h-3zM121 94h4v5h-4zM122 107h4v4h-4zM121 113h4v2h-4zM122 115h4v4h-4zM126 8h1v3h-1zM127 11h1v4h-1zM126 30h1v3h-1zM126 34h1v3h-1zM127 57h1v4h-1zM126 63h1v4h-1zM127 76h1v4h-1zM127 104h1v4h-1z"/><path transform="scale(.5)" fill="#c4b894" d="M0 9h4v3h-4zM0 22h3v3h-3zM0 64h3v4h-3zM0 109h3v4h-3zM6 26h4v2h-4zM6 69h4v3h-4zM11 53h4v5h-4zM11 62h4v5h-4zM16 19h4v4h-4zM16 65h4v5h-4zM16 116h4v4h-4zM21 3h5v2h-5zM21 7h5v4h-5zM21 58h5v2h-5zM28 12h4v3h-4zM28 43h4v2h-4zM27 52h5v3h-5zM28 65h4v4h-4zM27 97h5v3h-5zM33 52h4v4h-4zM33 56h4v3h-4zM33 92h4v2h-4zM38 46h4v4h-4zM38 86h4v3h-4zM38 109h4v4h-4zM38 118h4v2h-4zM38 0h4v2h-4zM44 88h3v3h-3zM48 43h4v2h-4zM48 100h3v5h-3zM48 105h3v4h-3zM53 37h4v3h-4zM53 104h4v3h-4zM53 107h4v5h-4zM59 18h3v2h-3zM59 26h3v3h-3zM59 74h3v4h-3zM64 24h3v2h-3zM63 103h4v4h-4zM69 47h4v4h-4zM69 90h4v4h-4zM69 98h3v2h-3zM74 91h3v3h-3zM74 113h3v2h-3zM78 44h3v4h-3zM82 40h3v2h-3zM83 59h3v3h-3zM87 14h3v3h-3zM88 17h3v3h-3zM87 31h3v4h-3zM87 35h4v5h-4zM87 41h3v2h-3zM87 104h3v3h-3zM92 21h4v3h-4zM92 25h3v2h-3zM97 119h3v1h-3zM97 0h3v4h-3zM103 30h3v4h-3zM103 68h4v2h-4zM102 82h4v2h-4zM108 47h3v5h-3zM112 63h3v2h-3zM113 91h3v4h-3zM112 96h3v5h-3zM116 59h4v2h-4zM122 37h3v4h-3zM126 2h1v5h-1zM126 25h1v3h-1zM127 38h1v2h-1zM126 46h2v4h-2zM126 52h2v4h-2zM127 73h1v2h-1zM126 90h2v3h-2zM127 116h1v4h-1z"/><path transform="scale(.5)" fill="#a06458" d="M0 17h4v3h-4zM1 36h3v4h-3zM0 69h3v4h-3zM0 94h3v4h-3zM6 29h4v4h-4zM5 50h3v4h-3zM6 60h3v4h-3zM5 88h3v3h-3zM6 117h3v3h-3zM6 0h3v1h-3zM11 13h4v2h-4zM11 38h4v4h-4zM11 44h3v4h-3zM11 48h4v3h-4zM16 5h4v5h-4zM16 23h4v3h-4zM16 43h4v2h-4zM16 103h4v2h-4zM16 107h4v4h-4zM22 12h4v5h-4zM21 32h5v3h-5zM21 86h6v4h-6zM21 114h5v3h-5zM27 26h4v3h-4zM27 37h4v3h-4zM28 80h4v3h-4zM27 105h4v3h-4zM28 108h4v4h-4zM28 113h4v4h-4zM33 72h4v2h-4zM33 102h4v3h-4zM34 106h3v3h-3zM38 38h4v3h-4zM38 89h4v3h-4zM38 115h4v2h-4zM48 32h3v3h-3zM49 71h3v3h-3zM48 82h3v3h-3zM53 24h3v3h-3zM53 113h4v2h-4zM58 11h3v3h-3zM58 84h3v2h-3zM63 21h4v2h-4zM63 32h5v4h-5zM63 42h4v4h-4zM63 98h4v4h-4zM63 119h4v1h-4zM63 0h4v2h-4zM69 15h3v2h-3zM69 21h3v4h-3zM69 107h4v4h-4zM74 26h3v5h-3zM78 62h3v3h-3zM82 35h4v4h-4zM83 46h3v3h-3zM83 113h3v3h-3zM87 59h3v4h-3zM88 75h3v4h-3zM87 108h3v5h-3zM87 118h3v2h-3zM87 0h3v1h-3zM92 57h3v3h-3zM92 67h3v2h-3zM92 75h4v4h-4zM92 91h3v4h-3zM92 107h4v3h-4zM93 116h3v4h-3zM93 0h3v1h-3zM97 3h3v5h-3zM98 34h3v4h-3zM97 43h3v3h-3zM98 58h3v3h-3zM97 75h3v4h-3zM98 89h3v2h-3zM98 92h3v4h-3zM98 108h3v5h-3zM97 114h3v4h-3zM102 47h4v3h-4zM102 85h4v4h-4zM103 106h4v4h-4zM108 79h3v3h-3zM112 20h3v5h-3zM112 54h3v3h-3zM112 58h3v4h-3zM112 67h3v3h-3zM112 102h3v3h-3zM116 12h4v3h-4zM116 16h3v4h-3zM116 27h4v3h-4zM117 62h4v3h-4zM116 82h4v2h-4zM116 102h4v3h-4zM121 72h4v4h-4zM122 83h3v3h-3zM126 112h1v2h-1z"/><path transform="scale(.5)" fill="#5a4e44" d="M1 30h3v4h-3zM0 86h3v2h-3zM5 56h4v3h-4zM5 78h4v4h-4zM6 108h4v3h-4zM16 91h4v3h-4zM16 112h4v3h-4zM21 90h5v5h-5zM21 119h5v1h-5zM21 0h5v2h-5zM27 16h4v4h-4zM28 118h4v2h-4zM28 0h4v1h-4zM33 37h4v3h-4zM33 82h4v3h-4zM38 101h3v4h-3zM45 13h2v2h-2zM44 41h3v4h-3zM44 92h3v4h-3zM44 97h3v5h-3zM48 3h4v4h-4zM48 58h4v3h-4zM48 86h3v4h-3zM53 64h4v3h-4zM53 73h5v4h-5zM53 87h4v3h-4zM53 117h3v3h-3zM53 0h3v1h-3zM59 3h3v4h-3zM59 44h3v4h-3zM59 54h3v3h-3zM59 91h3v5h-3zM59 106h3v4h-3zM69 57h3v2h-3zM69 59h4v3h-4zM70 79h3v3h-3zM69 111h3v4h-3zM73 76h3v4h-3zM74 108h3v3h-3zM78 1h3v2h-3zM83 43h3v2h-3zM83 54h3v3h-3zM82 74h3v2h-3zM83 97h3v5h-3zM93 70h3v4h-3zM103 10h4v4h-4zM108 12h3v4h-3zM108 98h3v3h-3zM108 119h3v1h-3zM108 0h3v2h-3zM113 44h3v4h-3zM112 80h3v4h-3zM112 86h3v4h-3zM112 109h3v3h-3zM117 43h4v4h-4zM116 48h3v4h-3zM121 27h4v4h-4zM121 32h4v3h-4zM122 68h3v2h-3zM121 90h4v3h-4zM126 68h1v4h-1z"/><path transform="scale(.5)" fill="#c3967d" d="M1 79h3v5h-3zM6 6h3v3h-3zM5 18h4v3h-4zM6 44h4v5h-4zM12 68h3v5h-3zM11 77h4v4h-4zM11 96h4v3h-4zM17 27h3v4h-3zM16 49h4v4h-4zM16 99h4v4h-4zM21 28h5v2h-5zM21 49h4v3h-4zM22 61h4v2h-4zM22 109h4v4h-4zM28 3h4v3h-4zM27 29h5v3h-5zM27 33h5v2h-5zM27 60h5v4h-5zM27 92h5v5h-5zM33 22h4v3h-4zM34 76h3v4h-3zM38 93h5v3h-5zM38 97h4v3h-4zM44 106h3v3h-3zM44 110h3v3h-3zM54 31h4v4h-4zM53 94h4v3h-4zM59 8h3v2h-3zM59 22h3v4h-3zM58 101h3v4h-3zM64 8h4v2h-4zM63 108h4v4h-4zM64 113h4v4h-4zM69 26h4v2h-4zM69 29h4v4h-4zM69 34h4v3h-4zM69 74h3v3h-3zM74 12h3v2h-3zM73 52h3v4h-3zM74 104h3v3h-3zM74 116h3v4h-3zM74 0h3v1h-3zM78 26h3v4h-3zM78 108h3v4h-3zM78 113h3v4h-3zM83 1h3v3h-3zM83 16h3v5h-3zM83 64h3v4h-3zM82 88h3v4h-3zM83 92h3v3h-3zM88 22h3v4h-3zM93 35h3v3h-3zM92 40h3v4h-3zM92 45h3v3h-3zM92 52h4v4h-4zM92 86h4v3h-4zM97 25h3v4h-3zM97 84h3v3h-3zM102 26h4v3h-4zM102 102h3v3h-3zM108 60h3v2h-3zM112 75h3v4h-3zM122 64h3v3h-3zM126 41h1v4h-1zM126 94h2v3h-2z"/><path transform="scale(.5)" fill="#5a78b4" d="M1 113h3v4h-3zM11 108h4v5h-4zM16 53h4v3h-4zM21 79h4v3h-4zM44 6h3v2h-3zM49 62h3v4h-3zM59 97h3v3h-3zM63 90h4v4h-4zM74 48h3v3h-3zM83 25h3v5h-3zM102 0h4v3h-4zM103 62h3v5h-3zM121 120h4v1h-4zM121 0h4v3h-4z"/><rect x="2.8" y="0" width="0.9" height="60" fill="#96b9dc" opacity="0.6"/><rect x="12.4" y="0" width="0.8" height="60" fill="#96b9dc" opacity="0.6"/><rect x="22.6" y="0" width="0.9" height="60" fill="#96b9dc" opacity="0.6"/><rect x="32.9" y="0" width="0.8" height="60" fill="#96b9dc" opacity="0.6"/><rect x="43.1" y="0" width="0.9" height="60" fill="#96b9dc" opacity="0.6"/><rect x="53.4" y="0" width="0.8" height="60" fill="#96b9dc" opacity="0.6"/><rect x="0" y="4.3" width="64" height="0.9" fill="#96b9dc" opacity="0.6"/><rect x="0" y="15.2" width="64" height="0.8" fill="#96b9dc" opacity="0.6"/><rect x="0" y="25.9" width="64" height="0.9" fill="#96b9dc" opacity="0.6"/><rect x="0" y="36.8" width="64" height="0.8" fill="#96b9dc" opacity="0.6"/><rect x="0" y="47.5" width="64" height="0.9" fill="#96b9dc" opacity="0.6"/></pattern><pattern id="bQ" width="48" height="56" patternUnits="userSpaceOnUse" x="42" y="2"><rect width="48" height="56" fill="#cd968a"/><path transform="scale(.5)" fill="#c87869" d="M-1 -4h11v11h-11zM-1 108h11v11h-11zM95 -4h11v11h-11zM95 108h11v11h-11zM13 -4h6v9h-6zM13 108h6v9h-6zM14 0h7v9h-7zM14 112h7v9h-7zM22 2h13v7h-13zM37 3h10v7h-10zM46 1h12v8h-12zM18 5h7v12h-7zM26 6h5v18h-5zM30 11h16v10h-16zM51 10h10v10h-10zM58 6h11v11h-11zM85 5h6v15h-6zM17 19h9v10h-9zM46 17h13v10h-13zM69 22h14v9h-14zM-5 27h9v15h-9zM91 27h9v15h-9zM11 35h7v11h-7zM56 36h7v8h-7zM60 38h5v6h-5zM6 44h10v11h-10zM20 47h10v8h-10zM30 45h10v7h-10zM43 43h12v8h-12zM-9 43h11v10h-11zM87 43h11v10h-11zM2 56h9v7h-9zM13 48h9v12h-9zM28 53h5v13h-5zM69 56h10v7h-10zM68 59h7v13h-7zM78 61h13v9h-13zM80 57h14v8h-14zM-4 68h10v9h-10zM92 68h10v9h-10zM31 67h13v6h-13zM40 74h9v6h-9zM58 66h7v13h-7zM86 72h9v8h-9zM-1 82h11v5h-11zM95 82h11v5h-11zM3 77h13v7h-13zM20 79h11v13h-11zM33 76h9v6h-9zM57 76h11v9h-11zM-7 76h8v6h-8zM89 76h8v6h-8zM53 85h10v7h-10zM72 85h7v14h-7zM75 89h12v6h-12zM1 92h12v8h-12zM14 95h9v6h-9zM25 89h9v12h-9zM55 -7h6v13h-6zM55 105h6v13h-6z"/><path transform="scale(.5)" fill="#aa6e87" d="M41 -3h7v12h-7zM41 109h7v12h-7zM39 8h10v6h-10zM60 16h10v8h-10zM72 15h11v14h-11zM83 12h10v15h-10zM37 31h13v8h-13zM40 24h11v9h-11zM35 33h12v9h-12zM47 39h9v7h-9zM68 30h11v10h-11zM36 44h8v10h-8zM77 48h10v7h-10zM78 47h10v12h-10zM25 56h7v10h-7zM75 71h10v7h-10zM47 78h7v12h-7zM66 81h10v7h-10zM28 82h9v12h-9zM30 84h11v7h-11zM40 90h7v9h-7zM65 88h10v11h-10zM5 98h11v7h-11zM61 93h9v8h-9zM17 -3h12v5h-12zM17 109h12v5h-12zM73 99h7v13h-7z"/><path transform="scale(.5)" fill="#785fa0" d="M62 4h10v6h-10zM1 5h6v17h-6zM9 17h7v11h-7zM-1 46h11v8h-11zM95 46h11v8h-11zM63 43h5v6h-5zM14 52h11v8h-11zM47 50h8v8h-8zM34 58h6v12h-6zM40 93h5v14h-5zM78 98h8v11h-8z"/><path transform="scale(.5)" fill="#d7967d" d="M85 -1h6v14h-6zM85 111h6v14h-6zM73 8h9v12h-9zM75 14h8v6h-8zM30 16h11v8h-11zM46 17h9v15h-9zM77 22h11v6h-11zM21 27h13v11h-13zM65 20h9v15h-9zM76 22h12v10h-12zM16 37h13v7h-13zM23 35h11v14h-11zM54 43h11v9h-11zM50 54h15v5h-15zM56 51h12v7h-12zM18 62h8v10h-8zM54 68h7v10h-7zM72 68h9v7h-9zM24 79h6v13h-6zM53 80h9v11h-9zM1 86h7v12h-7zM88 83h7v11h-7zM42 97h9v8h-9zM58 96h7v11h-7zM82 96h11v7h-11zM26 -6h6v7h-6zM26 106h6v7h-6zM36 -8h12v9h-12zM36 104h12v9h-12zM43 -7h9v11h-9zM43 105h9v11h-9zM59 -8h11v10h-11zM59 104h11v10h-11z"/><path transform="scale(.5)" fill="#232d69" d="M4 18h7v7h-7zM68 37h7v17h-7zM2 58h17v10h-17zM14 82h6v11h-6z"/><path transform="scale(.5)" fill="#e1cdaf" d="M-4 27h10v10h-10zM92 27h10v10h-10zM9 21h8v11h-8zM80 32h8v12h-8zM-14 50h15v5h-15zM82 50h15v5h-15zM-2 61h6v9h-6zM94 61h6v9h-6zM43 60h5v13h-5zM51 62h7v10h-7zM6 71h9v9h-9zM19 69h12v8h-12zM72 93h8v11h-8zM-4 93h7v10h-7zM92 93h7v10h-7zM0 105h11v7h-11zM96 105h11v7h-11zM14 101h6v7h-6z"/><path transform="scale(.5)" fill="none" stroke="#c87869" stroke-width="3.2" d="M77 -2h10v11h-10zM77 110h10v11h-10zM-8 36h13v11h-13zM88 36h13v11h-13zM-8 -14h11v15h-11zM-8 98h11v15h-11zM88 -14h11v15h-11zM88 98h11v15h-11z"/><path transform="scale(.5)" fill="none" stroke="#d7967d" stroke-width="3.2" d="M22 18h10v12h-10zM26 66h11v12h-11z"/><path transform="scale(.5)" fill="none" stroke="#aa6e87" stroke-width="3.2" d="M55 20h10v13h-10z"/><rect x="4.3" y="0" width="1.0" height="56" fill="#8cafdc" opacity="0.5"/><rect x="28.3" y="0" width="1.0" height="56" fill="#8cafdc" opacity="0.5"/><rect x="0" y="10.7" width="48" height="1.0" fill="#8cafdc" opacity="0.5"/><rect x="0" y="38.7" width="48" height="1.0" fill="#8cafdc" opacity="0.5"/></pattern><pattern id="bS" width="64" height="64" patternUnits="userSpaceOnUse" x="7" y="37"><rect width="64" height="64" fill="#c6ba9b"/><path transform="scale(.5)" fill="#b97369" d="M0 2h2v2h-2zM0 10h3v4h-3zM0 29h3v4h-3zM0 37h3v5h-3zM0 51h3v2h-3zM0 59h3v4h-3zM0 84h3v4h-3zM0 103h3v5h-3zM5 55h4v5h-4zM5 81h3v2h-3zM5 88h3v4h-3zM5 94h4v3h-4zM5 107h3v4h-3zM5 117h4v4h-4zM10 29h4v3h-4zM10 37h4v3h-4zM10 58h3v2h-3zM10 62h4v4h-4zM10 67h4v2h-4zM10 70h4v2h-4zM10 79h4v3h-4zM10 109h4v4h-4zM10 114h4v4h-4zM15 4h3v4h-3zM15 9h3v3h-3zM15 16h3v4h-3zM15 42h3v4h-3zM15 96h3v5h-3zM15 102h3v4h-3zM15 112h3v4h-3zM19 17h4v3h-4zM19 24h4v2h-4zM19 35h4v3h-4zM19 77h4v4h-4zM19 98h5v4h-5zM19 103h4v5h-4zM19 109h4v2h-4zM25 22h3v2h-3zM25 25h3v4h-3zM25 65h4v2h-4zM25 69h3v3h-3zM25 81h4v2h-4zM25 101h3v2h-3zM25 118h3v5h-3zM25 127h3v1h-3zM25 0h3v2h-3zM29 6h5v2h-5zM29 9h5v2h-5zM29 31h5v3h-5zM29 63h5v3h-5zM29 78h5v3h-5zM30 95h4v2h-4zM29 118h4v3h-4zM30 122h4v2h-4zM35 36h3v3h-3zM35 45h3v4h-3zM35 86h3v3h-3zM35 91h3v4h-3zM35 101h3v4h-3zM39 15h3v3h-3zM39 18h3v4h-3zM39 34h2v2h-2zM40 50h3v2h-3zM39 65h3v4h-3zM40 78h3v3h-3zM40 86h3v4h-3zM39 95h3v2h-3zM39 126h3v2h-3zM39 0h3v1h-3zM44 20h4v3h-4zM44 28h4v3h-4zM44 57h4v4h-4zM44 95h4v5h-4zM50 12h3v4h-3zM50 27h4v3h-4zM51 44h3v2h-3zM50 105h4v4h-4zM50 124h3v3h-3zM55 11h4v3h-4zM55 21h4v3h-4zM55 30h3v5h-3zM55 43h4v3h-4zM55 56h4v4h-4zM56 72h4v3h-4zM56 85h3v5h-3zM55 120h4v2h-4zM60 0h4v3h-4zM60 19h4v4h-4zM60 39h4v4h-4zM60 52h3v4h-3zM60 62h3v2h-3zM60 69h3v4h-3zM60 79h3v5h-3zM60 104h4v3h-4zM60 121h3v4h-3zM65 34h3v3h-3zM65 43h4v3h-4zM65 61h4v4h-4zM65 67h4v4h-4zM65 72h3v2h-3zM65 75h4v3h-4zM65 79h4v4h-4zM65 84h3v4h-3zM65 95h4v4h-4zM65 105h4v5h-4zM65 120h4v2h-4zM70 0h5v2h-5zM71 8h4v3h-4zM71 37h3v3h-3zM70 61h5v4h-5zM70 69h4v3h-4zM70 77h5v4h-5zM70 89h4v3h-4zM70 102h4v2h-4zM70 108h5v2h-5zM70 111h5v3h-5zM76 40h4v3h-4zM76 63h4v4h-4zM77 67h4v4h-4zM76 86h4v2h-4zM76 94h4v3h-4zM76 105h5v3h-5zM77 110h4v4h-4zM76 115h5v2h-5zM76 118h4v4h-4zM81 19h3v3h-3zM81 44h3v2h-3zM81 47h3v3h-3zM81 59h3v3h-3zM81 69h3v4h-3zM81 87h3v4h-3zM82 96h3v4h-3zM82 101h3v5h-3zM81 111h3v2h-3zM81 118h3v3h-3zM86 48h5v2h-5zM86 55h5v3h-5zM86 76h4v3h-4zM86 87h5v4h-5zM86 92h4v4h-4zM86 104h4v4h-4zM86 124h5v4h-5zM86 0h5v1h-5zM92 20h4v4h-4zM92 25h4v2h-4zM92 28h4v3h-4zM92 46h4v3h-4zM92 58h4v2h-4zM92 61h4v4h-4zM92 71h4v3h-4zM92 96h4v3h-4zM92 125h3v3h-3zM92 0h3v2h-3zM98 6h4v3h-4zM98 56h5v3h-5zM98 60h4v3h-4zM98 95h4v4h-4zM104 31h3v4h-3zM104 48h3v4h-3zM104 58h3v5h-3zM104 73h3v4h-3zM104 83h3v3h-3zM109 4h5v4h-5zM109 24h5v3h-5zM109 60h4v2h-4zM109 80h4v3h-4zM110 97h4v4h-4zM109 106h4v4h-4zM115 11h3v5h-3zM115 25h3v3h-3zM115 32h3v2h-3zM115 52h3v2h-3zM115 56h3v3h-3zM115 84h3v3h-3zM115 126h4v2h-4zM115 0h4v3h-4zM120 91h4v2h-4zM120 94h3v3h-3zM120 98h3v2h-3zM120 102h4v5h-4zM125 4h2v3h-2zM125 48h3v2h-3zM125 80h3v3h-3zM125 96h3v4h-3z"/><path transform="scale(.5)" fill="#cd8c78" d="M0 5h3v4h-3zM0 19h3v3h-3zM0 23h2v5h-2zM0 33h3v3h-3zM0 46h3v4h-3zM0 68h3v4h-3zM0 79h3v4h-3zM0 92h3v5h-3zM5 12h3v2h-3zM5 21h4v3h-4zM6 40h3v4h-3zM10 1h4v5h-4zM10 6h4v3h-4zM10 16h4v4h-4zM10 45h4v4h-4zM11 50h4v5h-4zM15 13h3v3h-3zM15 25h3v3h-3zM16 53h2v4h-2zM15 59h3v4h-3zM15 72h3v4h-3zM15 77h3v3h-3zM15 85h2v4h-2zM19 30h3v5h-3zM20 61h4v2h-4zM19 113h4v2h-4zM19 116h4v4h-4zM19 120h4v4h-4zM25 34h3v4h-3zM25 92h4v4h-4zM30 35h4v3h-4zM30 39h4v2h-4zM29 83h5v3h-5zM29 126h5v2h-5zM35 27h3v5h-3zM35 50h3v4h-3zM35 73h3v4h-3zM35 96h3v4h-3zM35 111h3v3h-3zM39 52h3v2h-3zM40 56h3v3h-3zM39 70h3v2h-3zM39 74h3v3h-3zM39 111h3v2h-3zM44 4h5v2h-5zM44 7h4v4h-4zM44 15h4v4h-4zM44 37h5v3h-5zM44 62h4v3h-4zM45 76h4v4h-4zM44 90h5v5h-5zM44 104h4v2h-4zM44 114h4v3h-4zM50 16h3v2h-3zM50 52h4v3h-4zM50 76h3v3h-3zM51 93h3v4h-3zM50 109h4v5h-4zM56 36h3v3h-3zM55 40h4v2h-4zM55 61h4v2h-4zM55 64h4v3h-4zM55 81h4v3h-4zM60 24h4v2h-4zM60 32h3v3h-3zM61 75h3v3h-3zM60 84h4v3h-4zM65 6h4v4h-4zM65 21h4v3h-4zM65 46h4v4h-4zM65 89h3v2h-3zM65 100h4v3h-4zM70 12h4v5h-4zM70 21h5v4h-5zM70 26h5v4h-5zM71 42h4v2h-4zM71 54h4v2h-4zM70 97h4v3h-4zM77 3h4v4h-4zM76 43h5v4h-5zM77 72h4v4h-4zM76 89h5v5h-5zM76 101h5v2h-5zM82 92h3v3h-3zM81 114h3v2h-3zM81 126h3v2h-3zM81 0h3v1h-3zM86 22h5v4h-5zM86 28h4v4h-4zM86 80h4v3h-4zM92 85h4v2h-4zM92 88h4v3h-4zM92 100h4v3h-4zM92 109h4v3h-4zM92 121h4v4h-4zM98 10h5v3h-5zM98 14h5v2h-5zM98 36h5v3h-5zM98 72h5v3h-5zM98 81h5v4h-5zM98 103h4v3h-4zM99 110h4v2h-4zM98 114h4v5h-4zM104 10h3v2h-3zM104 21h3v4h-3zM104 26h3v5h-3zM104 36h3v4h-3zM104 88h3v2h-3zM109 0h4v3h-4zM109 38h4v4h-4zM109 51h4v4h-4zM109 64h5v4h-5zM109 69h5v2h-5zM109 126h4v2h-4zM109 0h4v2h-4zM115 5h3v4h-3zM116 17h3v3h-3zM115 77h4v2h-4zM115 80h3v2h-3zM115 91h3v4h-3zM120 12h3v3h-3zM120 32h4v5h-4zM120 46h3v2h-3zM120 50h3v5h-3zM120 75h3v3h-3zM119 79h4v5h-4zM125 30h2v5h-2zM125 40h2v3h-2zM125 68h3v3h-3zM125 100h3v4h-3zM125 110h3v4h-3z"/><path transform="scale(.5)" fill="#96866e" d="M0 15h3v2h-3zM0 74h3v4h-3zM0 89h3v2h-3zM5 4h4v3h-4zM5 25h4v5h-4zM5 61h3v3h-3zM5 98h3v4h-3zM5 127h3v1h-3zM5 0h3v2h-3zM10 20h4v4h-4zM10 25h4v3h-4zM10 33h3v3h-3zM10 104h4v4h-4zM15 34h3v2h-3zM15 46h3v2h-3zM15 49h3v3h-3zM15 118h2v4h-2zM19 53h4v3h-4zM19 82h4v5h-4zM25 12h3v3h-3zM25 44h3v2h-3zM25 72h3v4h-3zM25 84h3v4h-3zM25 109h4v3h-4zM30 0h4v4h-4zM29 47h5v3h-5zM35 58h3v4h-3zM36 68h2v3h-2zM35 114h3v3h-3zM39 6h3v3h-3zM40 28h3v4h-3zM39 37h3v5h-3zM39 60h2v4h-2zM39 83h3v3h-3zM44 33h4v4h-4zM44 45h4v5h-4zM44 110h5v3h-5zM50 1h4v4h-4zM51 20h3v2h-3zM50 23h4v3h-4zM50 31h4v3h-4zM50 56h4v4h-4zM50 71h4v4h-4zM55 25h4v4h-4zM55 106h3v3h-3zM56 112h3v4h-3zM60 10h4v3h-4zM60 57h4v4h-4zM60 89h4v5h-4zM60 107h3v4h-3zM65 16h4v4h-4zM65 51h4v4h-4zM65 110h4v5h-4zM71 4h3v3h-3zM71 81h4v3h-4zM70 116h4v4h-4zM70 123h5v4h-5zM76 59h4v3h-4zM81 1h4v4h-4zM81 5h3v4h-3zM82 23h3v3h-3zM81 106h3v3h-3zM86 45h4v3h-4zM87 110h4v3h-4zM86 114h4v4h-4zM86 119h5v3h-5zM92 12h4v2h-4zM92 50h5v3h-5zM92 66h4v4h-4zM92 81h4v3h-4zM98 31h4v5h-4zM98 48h4v2h-4zM98 63h4v3h-4zM98 99h5v2h-5zM104 13h3v3h-3zM104 63h3v4h-3zM104 69h3v3h-3zM104 97h3v5h-3zM104 113h3v5h-3zM109 10h5v4h-5zM109 19h5v5h-5zM109 34h4v3h-4zM109 88h4v5h-4zM109 103h5v3h-5zM109 118h4v3h-4zM115 2h4v2h-4zM115 61h3v2h-3zM115 103h3v5h-3zM115 120h4v5h-4zM120 0h4v3h-4zM120 43h3v2h-3zM120 116h3v4h-3zM120 121h3v3h-3zM125 54h2v3h-2zM125 58h3v4h-3zM125 63h2v4h-2zM125 84h3v2h-3zM125 119h2v5h-2z"/><path transform="scale(.5)" fill="#5c5046" d="M0 43h3v3h-3zM5 70h4v5h-4zM5 75h3v5h-3zM10 10h4v4h-4zM10 87h4v4h-4zM10 99h4v3h-4zM15 64h3v4h-3zM15 124h3v3h-3zM15 128h3v1h-3zM15 0h3v4h-3zM19 39h3v2h-3zM19 57h4v3h-4zM25 31h3v2h-3zM25 52h3v4h-3zM25 78h3v3h-3zM29 21h4v3h-4zM29 28h5v3h-5zM35 32h3v3h-3zM35 63h3v4h-3zM35 105h3v4h-3zM39 2h3v3h-3zM39 23h3v4h-3zM39 43h3v3h-3zM40 98h3v2h-3zM44 11h5v3h-5zM44 85h4v3h-4zM44 107h4v2h-4zM50 67h4v3h-4zM55 18h4v3h-4zM55 102h3v2h-3zM55 110h4v2h-4zM60 48h3v3h-3zM66 25h3v5h-3zM65 115h3v3h-3zM71 45h4v4h-4zM71 50h4v3h-4zM70 65h5v4h-5zM70 104h5v2h-5zM76 20h4v4h-4zM76 48h5v5h-5zM77 122h4v3h-4zM92 0h4v4h-4zM92 76h4v3h-4zM92 93h4v3h-4zM93 113h4v2h-4zM98 90h3v3h-3zM104 103h3v4h-3zM109 28h4v5h-4zM109 72h5v3h-5zM109 93h4v3h-4zM109 112h5v5h-5zM115 47h4v4h-4zM115 69h4v3h-4zM115 74h4v2h-4zM115 88h4v3h-4zM120 28h3v3h-3zM125 8h3v3h-3zM125 17h3v3h-3zM125 115h3v4h-3z"/><path transform="scale(.5)" fill="#766456" d="M1 54h3v3h-3zM0 98h2v5h-2zM1 110h3v4h-3zM0 115h3v4h-3zM0 125h2v3h-2zM0 0h2v1h-2zM5 8h4v3h-4zM5 16h4v4h-4zM5 30h3v2h-3zM5 32h4v3h-4zM5 37h4v3h-4zM6 45h3v4h-3zM5 50h3v5h-3zM6 84h3v3h-3zM5 102h4v4h-4zM5 112h4v3h-4zM5 121h3v4h-3zM10 55h4v2h-4zM10 74h4v4h-4zM10 83h4v3h-4zM10 118h3v4h-3zM10 123h4v4h-4zM10 128h3v1h-3zM10 0h3v2h-3zM16 69h2v2h-2zM15 81h3v3h-3zM15 91h2v5h-2zM15 107h2v4h-2zM20 1h3v4h-3zM19 12h4v4h-4zM19 27h4v2h-4zM19 65h3v3h-3zM19 70h3v3h-3zM19 73h5v2h-5zM19 87h4v4h-4zM25 6h3v5h-3zM25 16h3v5h-3zM25 39h3v4h-3zM25 57h3v3h-3zM25 61h3v4h-3zM25 97h4v4h-4zM25 114h3v3h-3zM25 124h3v3h-3zM29 13h4v3h-4zM29 16h5v4h-5zM29 43h5v3h-5zM29 59h5v3h-5zM29 67h4v3h-4zM29 71h4v2h-4zM30 74h4v4h-4zM29 90h4v4h-4zM29 98h4v4h-4zM29 108h4v5h-4zM29 114h5v3h-5zM35 1h3v4h-3zM35 11h3v3h-3zM35 16h3v3h-3zM36 20h3v2h-3zM35 24h3v2h-3zM36 55h3v2h-3zM35 78h3v2h-3zM36 81h3v4h-3zM35 119h3v2h-3zM35 126h3v2h-3zM35 0h3v1h-3zM39 91h3v4h-3zM40 102h3v3h-3zM39 114h3v4h-3zM39 119h3v4h-3zM39 123h3v2h-3zM44 24h4v4h-4zM44 41h4v3h-4zM45 70h3v4h-3zM44 81h5v4h-5zM44 100h4v3h-4zM44 118h4v4h-4zM44 122h4v4h-4zM50 7h4v5h-4zM50 35h4v3h-4zM50 39h4v4h-4zM50 47h3v3h-3zM50 85h4v3h-4zM50 89h4v4h-4zM50 97h3v2h-3zM50 101h4v3h-4zM50 120h3v2h-3zM50 128h3v1h-3zM50 0h3v4h-3zM55 2h4v4h-4zM55 7h4v4h-4zM55 15h3v2h-3zM55 47h4v3h-4zM55 67h3v4h-3zM55 77h4v3h-4zM55 96h4v3h-4zM55 99h4v2h-4zM60 8h4v2h-4zM60 14h3v5h-3zM60 28h3v4h-3zM60 36h4v3h-4zM61 44h3v3h-3zM60 66h3v2h-3zM61 99h3v4h-3zM61 112h3v3h-3zM60 116h4v5h-4zM60 127h4v1h-4zM60 0h4v2h-4zM65 1h4v4h-4zM65 30h3v3h-3zM65 39h3v3h-3zM65 57h3v3h-3zM65 92h3v2h-3zM70 31h4v5h-4zM70 57h4v2h-4zM70 73h5v3h-5zM70 93h5v2h-5zM70 128h4v1h-4zM70 0h4v3h-4zM76 8h4v3h-4zM76 12h4v3h-4zM76 16h4v3h-4zM76 24h5v5h-5zM76 30h5v4h-5zM76 35h5v3h-5zM76 54h5v3h-5zM76 77h4v3h-4zM76 98h5v3h-5zM76 127h4v1h-4zM76 0h4v2h-4zM82 33h3v4h-3zM81 51h3v3h-3zM81 54h3v4h-3zM82 64h3v4h-3zM81 74h4v4h-4zM81 122h3v4h-3zM86 7h4v5h-4zM86 12h4v3h-4zM86 34h5v2h-5zM86 42h5v2h-5zM86 60h5v4h-5zM86 65h5v5h-5zM86 71h4v4h-4zM86 83h4v3h-4zM92 5h3v5h-3zM92 15h4v4h-4zM92 39h4v2h-4zM92 42h4v4h-4zM92 53h4v3h-4zM92 105h3v3h-3zM98 1h4v4h-4zM98 19h4v4h-4zM98 23h5v4h-5zM98 27h4v2h-4zM98 40h4v4h-4zM98 44h5v3h-5zM98 76h5v3h-5zM99 120h4v4h-4zM104 4h3v4h-3zM104 17h3v3h-3zM104 44h3v3h-3zM104 91h3v5h-3zM104 125h3v3h-3zM104 0h3v2h-3zM109 14h4v4h-4zM109 56h5v2h-5zM109 76h4v2h-4zM109 84h4v3h-4zM115 21h3v4h-3zM115 35h4v3h-4zM115 43h3v4h-3zM115 65h4v4h-4zM115 109h3v3h-3zM115 113h4v3h-4zM115 117h3v2h-3zM119 4h3v3h-3zM119 9h4v3h-4zM120 17h3v3h-3zM120 59h3v5h-3zM120 65h3v3h-3zM120 69h3v5h-3zM119 107h4v3h-4zM120 124h3v2h-3zM120 127h4v1h-4zM120 0h4v3h-4zM126 12h2v4h-2zM125 21h3v4h-3zM125 26h3v4h-3zM125 44h3v3h-3zM125 51h3v2h-3zM125 72h3v2h-3zM125 91h3v4h-3zM125 106h3v4h-3zM125 125h3v2h-3z"/><path transform="scale(.5)" fill="#cdc3a0" d="M0 64h3v3h-3zM0 120h3v4h-3zM5 65h4v5h-4zM10 41h4v3h-4zM10 92h4v2h-4zM11 95h3v4h-3zM15 21h3v3h-3zM15 37h3v4h-3zM20 21h3v2h-3zM19 48h4v4h-4zM19 92h4v5h-4zM19 126h4v2h-4zM19 0h4v2h-4zM25 1h3v4h-3zM25 89h3v2h-3zM25 105h3v3h-3zM29 25h5v2h-5zM29 51h4v3h-4zM29 56h4v2h-4zM35 7h3v3h-3zM35 40h3v4h-3zM39 11h3v3h-3zM39 47h3v3h-3zM39 106h3v5h-3zM45 50h4v5h-4zM44 65h4v4h-4zM44 127h4v1h-4zM44 0h4v3h-4zM50 79h4v4h-4zM50 116h4v4h-4zM55 51h4v5h-4zM55 117h4v2h-4zM55 123h4v4h-4zM55 128h4v1h-4zM55 0h4v4h-4zM61 95h3v4h-3zM65 124h4v4h-4zM71 17h4v3h-4zM70 85h4v3h-4zM76 81h5v4h-5zM81 11h3v3h-3zM81 14h4v4h-4zM82 27h3v4h-3zM82 38h3v4h-3zM81 83h3v3h-3zM86 2h5v3h-5zM86 17h5v5h-5zM86 51h5v3h-5zM86 97h5v2h-5zM86 100h5v4h-5zM92 33h4v4h-4zM92 117h4v2h-4zM98 66h4v5h-4zM98 86h5v3h-5zM99 107h4v3h-4zM98 124h4v4h-4zM98 0h4v1h-4zM104 41h3v2h-3zM104 53h3v4h-3zM104 78h3v5h-3zM109 43h5v2h-5zM109 121h5v4h-5zM115 28h4v2h-4zM115 39h4v3h-4zM115 96h4v4h-4zM115 100h4v2h-4zM119 24h4v3h-4zM120 37h3v5h-3zM120 55h3v2h-3zM120 85h3v5h-3zM120 110h4v4h-4zM125 36h3v3h-3zM125 74h2v5h-2zM125 87h2v2h-2z"/><path transform="scale(.5)" fill="#5a78b4" d="M15 29h3v4h-3zM20 6h3v5h-3zM19 42h3v4h-3zM25 47h3v4h-3zM29 87h5v3h-5zM29 103h4v5h-4zM35 122h3v4h-3zM50 61h4v4h-4zM55 91h4v4h-4zM60 4h4v2h-4zM65 11h3v3h-3zM70 120h5v2h-5zM82 79h3v4h-3zM86 37h5v4h-5zM98 51h4v4h-4zM104 108h3v4h-3zM104 119h3v5h-3zM109 47h5v4h-5zM119 21h4v2h-4z"/><rect x="2.8" y="0" width="0.9" height="64" fill="#96b9dc" opacity="0.6"/><rect x="12.4" y="0" width="0.8" height="64" fill="#96b9dc" opacity="0.6"/><rect x="22.6" y="0" width="0.9" height="64" fill="#96b9dc" opacity="0.6"/><rect x="32.9" y="0" width="0.8" height="64" fill="#96b9dc" opacity="0.6"/><rect x="43.1" y="0" width="0.9" height="64" fill="#96b9dc" opacity="0.6"/><rect x="53.4" y="0" width="0.8" height="64" fill="#96b9dc" opacity="0.6"/><rect x="0" y="4.7" width="64" height="0.9" fill="#96b9dc" opacity="0.6"/><rect x="0" y="16.2" width="64" height="0.8" fill="#96b9dc" opacity="0.6"/><rect x="0" y="27.7" width="64" height="0.9" fill="#96b9dc" opacity="0.6"/><rect x="0" y="39.3" width="64" height="0.8" fill="#96b9dc" opacity="0.6"/><rect x="0" y="50.8" width="64" height="0.9" fill="#96b9dc" opacity="0.6"/></pattern><filter id="blb" x="0" y="0" width="100%" height="100%"><feGaussianBlur stdDeviation="0.45"/></filter></defs><g filter="url(#blb)"><rect width="248.5" height="311.5" fill="url(#bR)"/><polygon points="0.0,0.0 248.5,0.0 248.5,134.0 249.0,134.0 200.0,153.5 160.0,152.5 80.0,145.5 0.0,131.0" fill="url(#bU)"/><rect x="0" y="154" width="44" height="38" fill="url(#bu)"/><rect x="55" y="150" width="19" height="53" fill="url(#bQ)"/><rect x="0" y="192" width="44" height="52" fill="url(#bS)"/><rect x="47" y="203" width="53" height="34" fill="url(#bS)"/><rect x="118" y="154" width="131" height="36" fill="url(#bU)"/><rect x="64" y="237" width="77" height="75" fill="url(#bP)"/><rect x="141" y="231" width="59" height="31" fill="url(#bS)"/><rect x="141" y="262" width="49" height="40" fill="url(#bP)"/><rect x="151" y="271" width="24" height="23" fill="url(#bM)"/><rect x="213" y="0" width="36" height="30" fill="url(#bT)"/><rect x="170" y="26" width="32" height="46" fill="url(#bu)"/><rect x="111" y="44" width="35" height="35" fill="url(#bu)"/><polygon points="31.0,60.0 196.0,60.0 196.0,145.0 160.0,144.0 80.0,137.0 31.0,128.0" fill="url(#bD)"/><polygon points="72.0,222.0 88.0,222.0 121.0,295.0 105.0,295.0" fill="url(#bP)"/><polygon points="100.0,196.0 118.0,196.0 118.0,206.0 100.0,206.0" fill="url(#bP)"/><polyline points="0.0,186.0 124.0,234.0" fill="none" stroke="#79aee6" stroke-width="1.525" opacity="0.95"/><path d="M46.5 0V311.5M109 0V311.5M159.5 0V311.5M198.5 0V311.5M231.5 0V311.5M0 28.3H248.5M0 61.3H248.5M0 77.8H125M0 95H248.5M0 112.3H248.5M0 198.5H248.5M0 233.4H248.5M0 290H248.5M70.5 217 L112.5 287.6" stroke="#79aee6" stroke-width="1.0" opacity="0.7" fill="none"/><polyline points="0.0,131.0 80.0,145.5 160.0,152.5 200.0,153.5 249.0,134.0" fill="none" stroke="#79aee6" stroke-width="1.7" opacity="0.95"/><polyline points="200.0,154.0 249.0,161.0" fill="none" stroke="#79aee6" stroke-width="1.8" opacity="0.8999999999999999"/><path fill="none" stroke="#2b3d85" stroke-width="1.7" d="M110.6 42.6v6.9h9.5v-6.9M143.6 146.3v-9.6h7.7v9.6M100.0 49.4v5.8h7.2v-5.8M159.2 76.8v-8.2h4.4v8.2M108.7 22.8h8.0v6.9M208.7 95.5v-9.9h4.5v9.9M29.4 41.1v-5.7h6.5v5.7M110.5 133.4v-9.7h8.0v9.7M140.1 87.8v-6.3h8.9v6.3M94.9 110.7v9.2h7.1v-9.2M118.8 146.1v-5.2h6.7v5.2M215.9 9.9v5.8h6.9M75.8 84.2v8.7h8.0M166.7 17.5h5.9v9.4M104.9 91.1v6.4h6.5v-6.4M65.9 128.3v4.2h6.5v-4.2M146.5 95.0v-4.9h5.2v4.9M74.4 33.2h8.4v8.5M131.0 117.1v5.9h10.0"/><path fill="none" stroke="#3d5aa8" stroke-width="1.7" d="M186.4 10.9v4.4h5.2M12.7 8.9v6.5h4.3M134.5 140.6v-7.0h4.4v7.0M146.4 69.2v8.7h5.3v-8.7M194.1 78.3v-6.5h6.2v6.5M224.2 73.9v-6.9h4.5v6.9M79.4 26.5v7.6h5.8v-7.6M125.6 97.2v-7.7h4.2v7.7M185.4 62.5h4.2v4.7M20.0 106.4v5.8h7.6M23.1 134.3h5.8v6.5M106.9 86.6v9.5h4.2M110.2 13.0h6.1v4.9M126.3 95.0h7.6v6.3M155.8 1.0v4.7h8.3v-4.7M50.4 137.9v-9.7h5.7v9.7M185.9 144.9v-4.0h4.4v4.0M101.0 111.5v8.9h6.8v-8.9M44.4 53.9v9.0h4.7M234.1 33.8v5.7h8.2M72.2 137.7v5.5h7.7M38.0 29.3v4.4h7.4v-4.4M221.6 14.3v-7.8h6.9v7.8M168.4 82.6v6.2h6.6v-6.2M158.2 116.8v-8.7h5.3v8.7"/><path fill="none" stroke="#23306e" stroke-width="1.7" d="M151.9 32.3v9.2h9.1M68.0 97.7h9.8v9.5M189.6 80.6h6.6v6.2M223.1 5.2v6.0h6.0v-6.0M113.2 107.8v4.3h9.8M33.3 52.4h4.8v4.3M26.3 91.2v9.4h8.8M229.7 66.9v-7.3h4.3v7.3M41.3 50.6v5.2h5.9v-5.2M206.4 28.2v-6.8h5.0v6.8M106.8 42.4v4.6h7.2M237.5 130.1v-6.9h9.3v6.9M159.9 42.1v-4.4h6.4v4.4M159.9 62.5v8.1h4.5v-8.1M151.9 67.5v4.3h7.7M226.9 45.3v8.2h5.1v-8.2"/><path fill="none" stroke="#23306e" stroke-width="1.5" d="M170.7 251.8v8.6h6.0v-8.6M221.7 263.8v-8.3h4.7v8.3M207.1 163.5v4.0h7.4v-4.0M115.7 157.4h6.9v5.1M163.4 232.2h7.7v7.4M100.2 225.2v4.3h5.1M199.9 284.0v8.0h4.1M205.3 177.5v4.9h4.8v-4.9M246.0 280.2v-6.4h7.5v6.4M147.0 191.3v8.7h6.1v-8.7"/><path fill="none" stroke="#3d5aa8" stroke-width="1.5" d="M246.7 263.7h8.0v8.0M221.0 274.3h6.0v5.1M231.7 198.2h7.2v6.8M107.9 169.4v8.2h6.6M202.6 264.1v7.4h4.3M227.9 173.0v7.8h8.4v-7.8"/><path fill="none" stroke="#2b3d85" stroke-width="1.5" d="M136.1 310.3v-6.1h7.1v6.1M137.3 222.5v-4.2h7.9v4.2M148.7 256.6v-6.0h4.6v6.0M120.3 217.4h7.4v8.6"/><path fill="#c07a70" d="M243.1 158.8h2.9v5.9h-2.9zM189.4 164.1h2.0v4.3h-2.0zM203.8 223.2h2.1v7.9h-2.1zM92.3 161.3h6.1v2.0h-6.1zM90.1 209.3h7.1v2.1h-7.1zM90.7 219.7h1.8v5.9h-1.8zM66.6 255.9h1.9v8.5h-1.9zM3.4 169.8h2.0v5.5h-2.0zM170.9 284.8h2.6v8.7h-2.6zM173.3 288.4h8.6v2.2h-8.6zM181.8 150.4h8.1v3.0h-8.1zM75.9 300.3h3.5v2.1h-3.5zM15.3 205.4h2.2v6.1h-2.2zM39.4 176.6h5.8v2.1h-5.8zM117.8 189.7h5.4v2.8h-5.4zM206.7 211.0h6.1v1.9h-6.1zM171.4 165.9h2.9v7.7h-2.9zM30.6 261.4h2.2v8.5h-2.2zM67.5 175.1h6.5v2.4h-6.5zM10.1 258.1h5.4v2.0h-5.4zM94.1 298.9h2.2v3.4h-2.2zM35.0 215.0h7.2v1.9h-7.2zM132.4 169.7h7.1v2.3h-7.1zM187.2 286.0h1.8v8.6h-1.8zM120.5 297.6h2.9v7.8h-2.9zM155.5 297.2h2.2v9.0h-2.2zM55.9 249.7h4.5v2.9h-4.5zM137.3 198.7h2.8v4.4h-2.8zM92.3 163.2h6.3v1.9h-6.3zM90.8 198.0h2.2v5.8h-2.2zM124.2 199.1h8.5v2.5h-8.5zM138.7 250.3h2.6v7.2h-2.6z"/><path fill="#a07090" d="M8.5 172.7h2.8v7.8h-2.8zM223.3 294.6h2.6v6.5h-2.6zM187.8 293.3h2.5v4.2h-2.5zM55.4 263.5h4.1v2.9h-4.1zM13.8 235.2h2.1v7.7h-2.1zM199.9 255.1h8.9v2.2h-8.9zM195.3 254.4h6.8v2.4h-6.8zM42.9 182.0h2.6v7.0h-2.6zM176.2 211.8h2.7v3.7h-2.7zM85.8 277.8h1.9v3.1h-1.9zM103.9 238.4h2.2v5.0h-2.2zM15.1 163.2h5.9v2.2h-5.9zM5.2 196.6h5.8v2.2h-5.8zM58.4 300.8h2.1v3.4h-2.1zM163.5 266.2h2.1v6.1h-2.1zM124.0 181.4h2.4v8.9h-2.4zM51.1 217.4h2.0v7.4h-2.0zM23.2 251.3h4.4v2.6h-4.4zM172.8 165.1h2.8v8.1h-2.8zM148.1 154.1h6.1v2.5h-6.1zM128.1 190.8h3.0v6.7h-3.0zM7.7 242.9h2.2v5.7h-2.2zM209.0 282.9h7.2v2.3h-7.2zM14.9 255.7h5.4v2.1h-5.4zM139.6 164.6h8.6v1.8h-8.6zM213.5 226.7h1.9v7.8h-1.9zM200.4 190.6h3.0v5.1h-3.0zM185.9 309.4h7.1v2.7h-7.1zM101.1 290.1h7.2v1.8h-7.2zM145.8 161.1h6.1v2.6h-6.1zM159.3 266.3h1.9v7.4h-1.9zM165.0 278.7h3.5v2.2h-3.5zM65.6 305.4h3.3v1.8h-3.3zM218.0 298.9h7.5v2.9h-7.5zM67.7 306.2h2.8v6.4h-2.8zM25.4 166.7h4.2v2.3h-4.2zM199.7 307.7h7.3v2.0h-7.3zM151.4 297.6h4.4v2.4h-4.4z"/><path fill="#d29680" d="M109.2 150.2h2.1v5.6h-2.1zM18.0 177.3h2.4v4.3h-2.4zM124.3 258.4h5.7v1.9h-5.7zM197.2 174.9h2.2v9.0h-2.2zM71.7 287.0h1.8v4.0h-1.8zM51.9 254.8h4.4v2.2h-4.4zM86.7 272.5h5.0v3.0h-5.0zM116.5 169.8h1.8v5.5h-1.8zM51.5 155.9h2.5v4.2h-2.5zM34.9 216.0h2.0v7.5h-2.0zM40.6 211.3h1.9v5.3h-1.9zM206.1 304.5h1.8v5.8h-1.8zM147.1 183.0h2.6v4.5h-2.6zM108.9 278.7h2.8v7.1h-2.8zM233.3 271.1h6.4v2.9h-6.4zM37.0 154.5h7.9v3.0h-7.9zM238.6 204.8h6.5v2.7h-6.5zM151.9 234.5h8.7v2.7h-8.7zM77.9 197.3h8.5v2.9h-8.5zM124.1 289.0h2.9v5.5h-2.9zM199.5 292.0h7.5v2.4h-7.5zM94.1 265.4h7.3v3.0h-7.3zM194.1 259.5h8.2v1.9h-8.2zM31.1 239.8h3.0v6.3h-3.0zM9.3 164.6h6.4v2.3h-6.4zM126.8 255.4h2.0v7.6h-2.0zM172.0 282.1h3.1v2.1h-3.1zM63.4 216.4h1.9v8.6h-1.9zM105.8 286.5h6.3v2.6h-6.3zM245.1 197.5h1.8v3.7h-1.8zM194.1 277.9h4.0v2.0h-4.0zM58.9 175.4h5.1v2.1h-5.1zM44.5 217.7h3.2v2.7h-3.2zM91.4 228.5h2.7v4.3h-2.7zM164.7 218.5h2.4v5.1h-2.4zM179.3 287.0h7.8v3.0h-7.8zM49.7 231.7h6.8v2.0h-6.8z"/><path fill="#c8806e" d="M42.3 187.2h7.7v2.3h-7.7zM135.1 173.0h2.0v6.2h-2.0zM80.1 277.2h6.4v2.7h-6.4zM50.2 183.0h2.0v5.9h-2.0zM131.5 258.4h7.0v2.0h-7.0zM90.8 181.4h7.5v2.9h-7.5zM52.2 292.4h2.9v4.6h-2.9zM129.3 311.4h2.0v8.8h-2.0zM81.9 162.5h5.4v2.6h-5.4zM98.5 170.6h6.7v2.6h-6.7zM214.1 307.5h2.5v3.6h-2.5zM236.1 259.4h2.2v6.4h-2.2zM229.5 252.2h7.5v2.9h-7.5zM245.1 210.5h2.8v7.0h-2.8zM173.9 308.4h2.7v3.0h-2.7zM158.9 155.2h3.1v1.9h-3.1zM28.7 189.7h8.4v2.7h-8.4zM173.1 297.0h4.9v2.3h-4.9zM51.8 237.6h2.3v7.5h-2.3zM83.7 298.6h2.8v6.4h-2.8zM205.9 252.4h7.9v2.0h-7.9zM231.1 299.4h8.5v2.7h-8.5zM123.1 300.2h5.6v2.8h-5.6zM14.5 158.0h1.9v6.9h-1.9zM93.9 245.8h1.8v8.9h-1.8zM47.9 234.1h3.2v2.8h-3.2zM213.8 214.4h7.1v2.4h-7.1zM222.6 273.8h2.2v4.3h-2.2zM58.6 197.1h3.6v2.3h-3.6zM60.0 222.6h7.7v1.9h-7.7zM154.9 220.7h6.7v2.9h-6.7zM234.0 280.2h1.9v6.7h-1.9zM41.0 309.3h2.9v7.9h-2.9zM141.4 277.7h7.4v2.9h-7.4zM241.6 212.4h2.2v8.0h-2.2zM182.1 206.3h8.0v2.0h-8.0zM11.3 302.4h4.0v1.8h-4.0zM38.5 192.7h8.7v2.0h-8.7zM33.1 307.5h6.5v2.6h-6.5zM3.9 268.8h3.3v1.9h-3.3zM191.9 227.1h3.0v8.0h-3.0zM57.1 211.6h6.1v2.9h-6.1zM59.4 198.1h7.0v3.0h-7.0z"/><rect x="3.1" y="16.9" width="5.0" height="6.4" fill="#2b3d85"/><rect x="236.1" y="80.3" width="6.6" height="3.7" fill="#23306e"/><rect x="164.5" y="20.5" width="5.7" height="5.2" fill="#26357a"/><rect x="50.9" y="89.0" width="3.6" height="6.9" fill="#26357a"/><rect x="84.9" y="30.9" width="5.0" height="6.0" fill="#2b3d85"/><rect x="52.3" y="32.5" width="5.9" height="5.7" fill="#23306e"/><rect x="208.4" y="53.3" width="4.0" height="7.2" fill="#26357a"/><rect x="7.5" y="110.3" width="7.3" height="6.3" fill="#2b3d85"/><rect x="51.6" y="64.9" width="4.8" height="4.7" fill="#2b3d85"/><rect x="119.8" y="39.5" width="4.5" height="5.9" fill="#26357a"/><rect x="160.7" y="125.4" width="7.8" height="7.9" fill="#23306e"/><rect x="196.3" y="45.9" width="3.9" height="6.1" fill="#1f2a66"/><rect x="208.3" y="44.3" width="3.9" height="3.1" fill="#1f2a66"/><rect x="93.1" y="143.6" width="6.3" height="4.4" fill="#3d5aa8"/><rect x="161.4" y="148.7" width="4.0" height="5.3" fill="#3d5aa8"/><rect x="110.5" y="118.3" width="5.8" height="3.6" fill="#23306e"/><rect x="217.0" y="95.6" width="7.8" height="4.0" fill="#2b3d85"/><rect x="177.3" y="128.1" width="5.4" height="5.5" fill="#1f2a66"/><rect x="69.1" y="55.9" width="6.1" height="6.2" fill="#23306e"/><rect x="212.4" y="72.8" width="7.0" height="6.0" fill="#26357a"/><rect x="241.8" y="115.1" width="4.3" height="6.8" fill="#26357a"/><rect x="86.7" y="1.7" width="4.9" height="4.4" fill="#2b3d85"/><rect x="246.8" y="19.8" width="5.8" height="6.1" fill="#1f2a66"/><rect x="220.4" y="118.3" width="7.7" height="7.3" fill="#2b3d85"/><rect x="137.8" y="83.8" width="5.6" height="6.5" fill="#1f2a66"/><rect x="99.7" y="78.6" width="6.6" height="5.3" fill="#26357a"/><rect x="81.0" y="55.7" width="5.6" height="4.7" fill="#2b3d85"/><rect x="234.3" y="103.5" width="5.9" height="3.8" fill="#23306e"/><rect x="182.1" y="31.1" width="4.2" height="7.4" fill="#2b3d85"/><rect x="105.7" y="106.7" width="5.7" height="4.2" fill="#3d5aa8"/><rect x="182.7" y="124.1" width="3.2" height="6.1" fill="#3d5aa8"/><rect x="64.3" y="30.3" width="7.1" height="4.8" fill="#26357a"/><rect x="8.3" y="66.5" width="6.5" height="4.2" fill="#3d5aa8"/><rect x="85.9" y="104.7" width="4.8" height="6.9" fill="#23306e"/><rect x="240.8" y="132.7" width="6.5" height="7.4" fill="#26357a"/><rect x="232.5" y="41.6" width="3.9" height="3.2" fill="#26357a"/><rect x="38.3" y="121.2" width="7.2" height="7.9" fill="#3d5aa8"/><rect x="94.4" y="113.6" width="4.5" height="7.6" fill="#1f2a66"/><rect x="76.4" y="134.1" width="7.8" height="4.2" fill="#2b3d85"/><rect x="210.4" y="81.1" width="4.6" height="3.5" fill="#1f2a66"/><rect x="175.9" y="3.1" width="7.5" height="5.5" fill="#3d5aa8"/><rect x="167.3" y="77.9" width="7.3" height="4.5" fill="#26357a"/><rect x="98.9" y="32.0" width="7.4" height="6.8" fill="#23306e"/><rect x="204.6" y="36.3" width="6.5" height="3.2" fill="#26357a"/><rect x="170.0" y="48.6" width="7.9" height="7.0" fill="#23306e"/><rect x="81.5" y="109.4" width="6.8" height="5.1" fill="#23306e"/><rect x="76.8" y="119.8" width="7.7" height="4.1" fill="#26357a"/><rect x="135.7" y="11.5" width="5.5" height="5.4" fill="#3d5aa8"/><rect x="119.3" y="71.7" width="6.4" height="7.5" fill="#3d5aa8"/><rect x="58.4" y="149.0" width="5.3" height="4.8" fill="#1f2a66"/><rect x="97.4" y="130.4" width="6.1" height="4.0" fill="#2b3d85"/><rect x="234.7" y="102.6" width="7.2" height="3.2" fill="#26357a"/><rect x="112.1" y="60.2" width="7.1" height="6.7" fill="#1f2a66"/><rect x="226.1" y="64.2" width="5.8" height="6.9" fill="#26357a"/><rect x="13.9" y="130.7" width="4.5" height="6.5" fill="#2b3d85"/><rect x="31.1" y="57.2" width="4.1" height="4.7" fill="#26357a"/><rect x="192.5" y="125.1" width="6.0" height="7.1" fill="#26357a"/><rect x="85.1" y="27.9" width="4.1" height="4.3" fill="#2b3d85"/><rect x="28.9" y="127.7" width="6.5" height="4.6" fill="#26357a"/><rect x="107.4" y="11.7" width="3.5" height="7.0" fill="#1f2a66"/><rect x="216.3" y="71.5" width="3.7" height="5.2" fill="#2b3d85"/><rect x="15.4" y="90.1" width="4.6" height="7.2" fill="#1f2a66"/><rect x="14.7" y="48.7" width="6.4" height="7.2" fill="#2b3d85"/><rect x="137.0" y="88.8" width="6.8" height="4.3" fill="#1f2a66"/><rect x="75.6" y="58.3" width="5.2" height="4.6" fill="#1f2a66"/><rect x="242.4" y="38.8" width="3.4" height="6.1" fill="#2b3d85"/><rect x="171.0" y="21.4" width="7.8" height="6.6" fill="#2b3d85"/><rect x="105.8" y="145.0" width="3.9" height="5.6" fill="#1f2a66"/><rect x="88.4" y="58.4" width="7.5" height="7.1" fill="#3d5aa8"/><rect x="3.3" y="55.8" width="6.8" height="6.6" fill="#26357a"/><rect x="213.1" y="24.3" width="6.5" height="6.7" fill="#1f2a66"/><rect x="123.4" y="141.3" width="3.7" height="7.6" fill="#1f2a66"/><rect x="71.9" y="25.3" width="3.5" height="7.1" fill="#3d5aa8"/><rect x="140.8" y="35.7" width="4.9" height="5.1" fill="#1f2a66"/><rect x="12.9" y="44.7" width="7.1" height="3.3" fill="#26357a"/><rect x="40.7" y="44.1" width="6.2" height="4.7" fill="#1f2a66"/><rect x="35.7" y="146.2" width="7.3" height="6.5" fill="#23306e"/><rect x="80.9" y="37.4" width="7.3" height="6.0" fill="#3d5aa8"/><rect x="129.6" y="64.1" width="8.0" height="6.2" fill="#3d5aa8"/><rect x="176.7" y="94.8" width="4.2" height="4.1" fill="#23306e"/><rect x="36.9" y="103.7" width="6.2" height="3.5" fill="#3d5aa8"/><rect x="164.0" y="73.6" width="4.7" height="3.8" fill="#26357a"/><rect x="173.7" y="140.8" width="4.4" height="4.8" fill="#3d5aa8"/><rect x="240.7" y="69.9" width="6.6" height="4.9" fill="#26357a"/><rect x="103.1" y="80.9" width="6.6" height="3.1" fill="#1f2a66"/><rect x="19.2" y="184.5" width="2.4" height="4.2" fill="#2b3d85"/><rect x="6.0" y="156.2" width="2.5" height="2.5" fill="#23306e"/><rect x="129.9" y="302.6" width="4.1" height="2.6" fill="#23306e"/><rect x="134.8" y="276.2" width="3.1" height="3.0" fill="#23306e"/><rect x="207.9" y="304.0" width="2.1" height="1.7" fill="#23306e"/><rect x="8.7" y="234.9" width="3.7" height="2.8" fill="#2b3d85"/><rect x="12.3" y="156.2" width="2.6" height="2.0" fill="#2b3d85"/><rect x="181.0" y="229.5" width="3.1" height="3.9" fill="#2b3d85"/><rect x="141.3" y="243.0" width="3.8" height="3.3" fill="#23306e"/><rect x="71.7" y="162.7" width="3.5" height="4.0" fill="#2b3d85"/><rect x="106.0" y="161.2" width="2.9" height="3.9" fill="#2b3d85"/><rect x="40.5" y="310.1" width="4.1" height="1.9" fill="#2b3d85"/><rect x="12.0" y="198.8" width="2.7" height="2.1" fill="#23306e"/><rect x="121.7" y="231.5" width="3.1" height="2.5" fill="#2b3d85"/><rect x="122.2" y="304.1" width="4.1" height="3.4" fill="#3d5aa8"/><rect x="141.9" y="187.7" width="2.7" height="3.2" fill="#2b3d85"/><rect x="48.5" y="287.3" width="3.0" height="3.3" fill="#2b3d85"/><rect x="160.6" y="172.2" width="2.2" height="1.5" fill="#23306e"/><rect x="26.8" y="150.2" width="4.1" height="2.0" fill="#2b3d85"/><rect x="193.3" y="217.3" width="2.2" height="2.7" fill="#2b3d85"/><rect x="107.9" y="301.8" width="2.4" height="4.3" fill="#3d5aa8"/><rect x="243.4" y="184.0" width="3.8" height="3.3" fill="#2b3d85"/><rect x="169.1" y="209.2" width="1.8" height="3.8" fill="#3d5aa8"/><rect x="239.9" y="179.5" width="1.5" height="4.1" fill="#3d5aa8"/><rect x="49.2" y="235.6" width="2.5" height="2.2" fill="#2b3d85"/><rect x="79.1" y="304.0" width="4.4" height="2.2" fill="#2b3d85"/><rect x="14.4" y="259.9" width="1.6" height="2.9" fill="#2b3d85"/><rect x="4.0" y="161.1" width="2.5" height="3.7" fill="#23306e"/><rect x="125.0" y="306.9" width="4.1" height="3.8" fill="#23306e"/><rect x="75.8" y="179.3" width="2.2" height="3.9" fill="#23306e"/><rect x="45.9" y="309.6" width="4.4" height="2.2" fill="#2b3d85"/><rect x="90.6" y="254.3" width="2.5" height="3.3" fill="#23306e"/><rect x="154.2" y="209.0" width="1.6" height="3.0" fill="#23306e"/><rect x="26.8" y="260.1" width="3.4" height="2.2" fill="#3d5aa8"/><rect x="117.5" y="252.8" width="3.1" height="1.9" fill="#2b3d85"/><rect x="175.0" y="290.4" width="2.4" height="3.5" fill="#23306e"/><rect x="208.7" y="156.3" width="2.8" height="3.2" fill="#2b3d85"/><rect x="161.5" y="286.0" width="2.1" height="2.4" fill="#23306e"/><rect x="6.8" y="209.8" width="3.8" height="1.9" fill="#2b3d85"/><rect x="73.6" y="310.7" width="3.6" height="1.5" fill="#2b3d85"/><rect x="38.0" y="157.9" width="2.2" height="2.2" fill="#3d5aa8"/><rect x="236.6" y="279.1" width="3.3" height="3.2" fill="#23306e"/><rect x="70.0" y="171.4" width="2.6" height="4.2" fill="#2b3d85"/><rect x="117.4" y="152.9" width="4.2" height="3.0" fill="#2b3d85"/><rect x="63.6" y="264.9" width="4.2" height="1.9" fill="#2b3d85"/><rect x="86.9" y="166.9" width="2.5" height="3.3" fill="#3d5aa8"/><rect x="182.5" y="251.7" width="3.3" height="3.5" fill="#3d5aa8"/><rect x="144.1" y="287.4" width="3.2" height="2.3" fill="#23306e"/><rect x="152.2" y="285.8" width="2.3" height="3.5" fill="#3d5aa8"/><rect x="30.3" y="214.3" width="2.6" height="1.7" fill="#3d5aa8"/><rect x="153.3" y="206.3" width="2.8" height="3.5" fill="#23306e"/><rect x="30.2" y="269.6" width="4.2" height="4.0" fill="#3d5aa8"/><rect x="175.9" y="215.3" width="3.8" height="1.7" fill="#23306e"/><rect x="207.0" y="239.9" width="3.6" height="2.0" fill="#2b3d85"/><rect x="111.0" y="238.2" width="4.5" height="2.1" fill="#3d5aa8"/><rect x="37.6" y="246.1" width="4.1" height="1.6" fill="#23306e"/><rect x="181.8" y="193.2" width="1.9" height="3.7" fill="#23306e"/><rect x="85.9" y="172.3" width="3.2" height="3.5" fill="#2b3d85"/><rect x="247.2" y="265.5" width="2.2" height="2.9" fill="#3d5aa8"/><rect x="188.3" y="169.7" width="2.1" height="2.9" fill="#23306e"/><circle cx="29" cy="168.7" r="3.5" fill="#5a90dd"/><circle cx="240" cy="157.8" r="3.4" fill="#5a90dd"/><circle cx="224" cy="136" r="2" fill="#5a90dd"/><circle cx="157" cy="46" r="3" fill="#5a90dd"/><circle cx="145.3" cy="51.5" r="2.5" fill="#5a90dd"/></g><polyline points="111.3,275.0 115.5,283.0 116.2,293.8" fill="none" stroke="#111" stroke-width="1" stroke-dasharray="1.2 0.8"/></svg></div>
<div style="position:absolute;left:20.7px;top:19px;width:94.6px;height:14.3px;background:#fff"></div>
<div style="position:absolute;left:22px;top:18.9px;font:10.4px/13px 'Liberation Sans', sans-serif;letter-spacing:-0.33px;color:#222;white-space:nowrap">(a) Pleiades 2013</div>
<div style="position:absolute;left:270.7px;top:19px;width:108px;height:15px;background:#fff"></div>
<div style="position:absolute;left:272.4px;top:19.3px;font:10.4px/13px 'Liberation Sans', sans-serif;letter-spacing:-0.2px;color:#222;white-space:nowrap">(b) WorldView-2 2019</div>
<div style="position:absolute;left:131.2px;top:282.6px;width:69px;height:10px;background:#fff"></div>
<div style="position:absolute;left:132.5px;top:282.3px;font:8.2px/10px 'Liberation Sans', sans-serif;color:#222;white-space:nowrap">Profile in panel (c)</div>
<div style="position:absolute;left:381.8px;top:282.6px;width:69.5px;height:10px;background:#fff"></div>
<div style="position:absolute;left:383.1px;top:282.3px;font:8.2px/10px 'Liberation Sans', sans-serif;color:#222;white-space:nowrap">Profile in panel (c)</div>
<div style="position:absolute;left:94px;top:109.9px;font:bold 6.3px/8px 'Liberation Serif',serif;color:#000;white-space:nowrap;letter-spacing:-0.1px;text-shadow:1px 0 0 #fff,-1px 0 0 #fff,0 1px 0 #fff,0 -1px 0 #fff,1px 1px 0 #fff,-1px -1px 0 #fff,1px -1px 0 #fff,-1px 1px 0 #fff">National Hospital</div>
<div style="position:absolute;left:126.8px;top:171.9px;font:bold 6.3px/8px 'Liberation Serif',serif;color:#000;white-space:nowrap;letter-spacing:-0.1px;text-shadow:1px 0 0 #fff,-1px 0 0 #fff,0 1px 0 #fff,0 -1px 0 #fff,1px 1px 0 #fff,-1px -1px 0 #fff,1px -1px 0 #fff,-1px 1px 0 #fff">Bishkek Train Station</div>
<div style="position:absolute;left:116.0px;top:118.39999999999999px;width:2.4px;height:2.4px;border-radius:50%;background:#f0e040"></div>
<div style="position:absolute;left:154.4px;top:168.0px;width:2.4px;height:2.4px;border-radius:50%;background:#f0e040"></div>
<div style="position:absolute;left:366.5px;top:118.39999999999999px;width:2.4px;height:2.4px;border-radius:50%;background:#f0e040"></div>
<div style="position:absolute;left:404.90000000000003px;top:168.0px;width:2.4px;height:2.4px;border-radius:50%;background:#f0e040"></div>
<div style="position:absolute;left:20px;top:255.5px;width:67.3px;height:68.2px;background:#fff"></div>
<div style="position:absolute;left:30.3px;top:258.8px;font:8.3px/10px 'Liberation Sans', sans-serif;color:#222;white-space:nowrap">Height (m)</div>
<div style="position:absolute;left:27.2px;top:270.6px;width:43.6px;height:2.8px;outline:0.5px solid #555;background:linear-gradient(90deg,#f6f0a8 0 20%,#f08a55 20% 40%,#b8387a 40% 60%,#4b1485 60% 80%,#050505 80% 100%)"></div>
<svg style="position:absolute;left:0;top:0" width="90" height="300"><g font-family="'Liberation Sans', sans-serif" font-size="6.9" fill="#333"><text transform="translate(33.1,286.8) rotate(-90)">0</text><text transform="translate(42.6,286.8) rotate(-90)">10</text><text transform="translate(50.8,286.8) rotate(-90)">20</text><text transform="translate(59.5,286.8) rotate(-90)">30</text><text transform="translate(68.6,286.8) rotate(-90)">&gt;40</text></g></svg>
<div style="position:absolute;left:24.6px;top:295.3px;width:12px;height:8.4px;border:0.8px solid #aaa;box-sizing:border-box;background:#fff"></div>
<div style="position:absolute;left:39.6px;top:295.3px;font:7px/9px 'Liberation Sans', sans-serif;color:#222;white-space:nowrap">Buildings</div>
<div style="position:absolute;left:24.6px;top:306.8px;width:12px;height:9px;border:0.6px solid #8ab;box-sizing:border-box;background:#62b0f2"></div>
<div style="position:absolute;left:39.6px;top:307px;font:6.9px/9px 'Liberation Sans', sans-serif;color:#222;white-space:nowrap">DEM data gap</div>
<div style="position:absolute;left:216.7px;top:316.6px;width:31.6px;height:5.4px;background:#000"></div>
<div style="position:absolute;left:214.5px;top:307px;font:7.6px/8px 'Liberation Sans', sans-serif;color:#222;text-shadow:0 0 1px #fff">0</div>
<div style="position:absolute;left:242.5px;top:307px;font:7.6px/8px 'Liberation Sans', sans-serif;color:#222;white-space:nowrap;text-shadow:0 0 1px #fff">500 m</div>
<svg style="position:absolute;left:201px;top:308px" width="10" height="15"><path d="M5 1 L9 13 L5 10 L1 13 Z" fill="#f4f4f4" stroke="#777" stroke-width="0.6"/><path d="M5 1 L5 10 L1 13 Z" fill="#ccc"/></svg>
<svg width="528" height="482" style="position:absolute;left:0;top:0">
<line x1="55.6" y1="449.1" x2="512.9" y2="449.1" stroke="#d9d9d9" stroke-width="1"/>
<line x1="55.6" y1="438.0" x2="512.9" y2="438.0" stroke="#d9d9d9" stroke-width="1"/>
<line x1="55.6" y1="426.9" x2="512.9" y2="426.9" stroke="#d9d9d9" stroke-width="1"/>
<line x1="55.6" y1="415.8" x2="512.9" y2="415.8" stroke="#d9d9d9" stroke-width="1"/>
<line x1="55.6" y1="404.8" x2="512.9" y2="404.8" stroke="#d9d9d9" stroke-width="1"/>
<line x1="55.6" y1="393.7" x2="512.9" y2="393.7" stroke="#d9d9d9" stroke-width="1"/>
<line x1="55.6" y1="382.6" x2="512.9" y2="382.6" stroke="#d9d9d9" stroke-width="1"/>
<line x1="55.6" y1="371.5" x2="512.9" y2="371.5" stroke="#d9d9d9" stroke-width="1"/>
<line x1="55.6" y1="360.5" x2="512.9" y2="360.5" stroke="#d9d9d9" stroke-width="1"/>
<line x1="55.6" y1="349.4" x2="512.9" y2="349.4" stroke="#d9d9d9" stroke-width="1"/>
<line x1="120.9" y1="349.4" x2="120.9" y2="449.1" stroke="#d9d9d9" stroke-width="1"/>
<line x1="120.9" y1="446.1" x2="120.9" y2="449.1" stroke="#808080" stroke-width="1"/>
<line x1="186.3" y1="349.4" x2="186.3" y2="449.1" stroke="#d9d9d9" stroke-width="1"/>
<line x1="186.3" y1="446.1" x2="186.3" y2="449.1" stroke="#808080" stroke-width="1"/>
<line x1="251.6" y1="349.4" x2="251.6" y2="449.1" stroke="#d9d9d9" stroke-width="1"/>
<line x1="251.6" y1="446.1" x2="251.6" y2="449.1" stroke="#808080" stroke-width="1"/>
<line x1="316.9" y1="349.4" x2="316.9" y2="449.1" stroke="#d9d9d9" stroke-width="1"/>
<line x1="316.9" y1="446.1" x2="316.9" y2="449.1" stroke="#808080" stroke-width="1"/>
<line x1="382.2" y1="349.4" x2="382.2" y2="449.1" stroke="#d9d9d9" stroke-width="1"/>
<line x1="382.2" y1="446.1" x2="382.2" y2="449.1" stroke="#808080" stroke-width="1"/>
<line x1="447.6" y1="349.4" x2="447.6" y2="449.1" stroke="#d9d9d9" stroke-width="1"/>
<line x1="447.6" y1="446.1" x2="447.6" y2="449.1" stroke="#808080" stroke-width="1"/>
<line x1="55.6" y1="449.1" x2="58.6" y2="449.1" stroke="#808080" stroke-width="1"/>
<line x1="55.6" y1="438.0" x2="58.6" y2="438.0" stroke="#808080" stroke-width="1"/>
<line x1="55.6" y1="426.9" x2="58.6" y2="426.9" stroke="#808080" stroke-width="1"/>
<line x1="55.6" y1="415.8" x2="58.6" y2="415.8" stroke="#808080" stroke-width="1"/>
<line x1="55.6" y1="404.8" x2="58.6" y2="404.8" stroke="#808080" stroke-width="1"/>
<line x1="55.6" y1="393.7" x2="58.6" y2="393.7" stroke="#808080" stroke-width="1"/>
<line x1="55.6" y1="382.6" x2="58.6" y2="382.6" stroke="#808080" stroke-width="1"/>
<line x1="55.6" y1="371.5" x2="58.6" y2="371.5" stroke="#808080" stroke-width="1"/>
<line x1="55.6" y1="360.5" x2="58.6" y2="360.5" stroke="#808080" stroke-width="1"/>
<line x1="55.6" y1="349.4" x2="58.6" y2="349.4" stroke="#808080" stroke-width="1"/>
<rect x="55.6" y="349.4" width="457.3" height="99.7" fill="none" stroke="#7f7f7f" stroke-width="1"/>
<line x1="80.1" y1="405.2" x2="83.7" y2="405.2" stroke="#333" stroke-width="1"/>
<line x1="93.3" y1="405.9" x2="96.9" y2="405.9" stroke="#333" stroke-width="1"/>
<line x1="106.6" y1="410.3" x2="110.2" y2="410.3" stroke="#333" stroke-width="1"/>
<line x1="120.0" y1="414.3" x2="123.6" y2="414.3" stroke="#333" stroke-width="1"/>
<line x1="132.8" y1="417.4" x2="136.4" y2="417.4" stroke="#333" stroke-width="1"/>
<line x1="145.8" y1="419.6" x2="149.4" y2="419.6" stroke="#333" stroke-width="1"/>
<line x1="158.6" y1="415.2" x2="162.2" y2="415.2" stroke="#333" stroke-width="1"/>
<line x1="171.0" y1="412.5" x2="174.6" y2="412.5" stroke="#333" stroke-width="1"/>
<line x1="184.3" y1="412.5" x2="187.9" y2="412.5" stroke="#333" stroke-width="1"/>
<line x1="196.9" y1="412.5" x2="200.5" y2="412.5" stroke="#333" stroke-width="1"/>
<line x1="209.8" y1="419.6" x2="213.4" y2="419.6" stroke="#333" stroke-width="1"/>
<line x1="222.5" y1="420.3" x2="226.1" y2="420.3" stroke="#333" stroke-width="1"/>
<line x1="235.4" y1="425.2" x2="239.0" y2="425.2" stroke="#333" stroke-width="1"/>
<line x1="247.7" y1="429.1" x2="251.3" y2="429.1" stroke="#333" stroke-width="1"/>
<line x1="260.9" y1="431.6" x2="264.5" y2="431.6" stroke="#333" stroke-width="1"/>
<line x1="273.0" y1="432.0" x2="276.6" y2="432.0" stroke="#333" stroke-width="1"/>
<line x1="285.6" y1="431.1" x2="289.2" y2="431.1" stroke="#333" stroke-width="1"/>
<line x1="360.1" y1="431.6" x2="363.7" y2="431.6" stroke="#333" stroke-width="1"/>
<line x1="375.4" y1="440.7" x2="379.0" y2="440.7" stroke="#333" stroke-width="1"/>
<line x1="390.5" y1="443.8" x2="394.1" y2="443.8" stroke="#333" stroke-width="1"/>
<line x1="405.3" y1="433.3" x2="408.9" y2="433.3" stroke="#333" stroke-width="1"/>
<line x1="420.6" y1="432.7" x2="424.2" y2="432.7" stroke="#333" stroke-width="1"/>
<line x1="436.5" y1="432.7" x2="440.1" y2="432.7" stroke="#333" stroke-width="1"/>
<line x1="453.9" y1="424.3" x2="457.5" y2="424.3" stroke="#333" stroke-width="1"/>
<line x1="470.7" y1="424.7" x2="474.3" y2="424.7" stroke="#333" stroke-width="1"/>
<line x1="487.3" y1="428.5" x2="490.9" y2="428.5" stroke="#333" stroke-width="1"/>
<circle cx="55.6" cy="392.8" r="1.75" fill="none" stroke="#555" stroke-width="0.7"/>
<circle cx="71.1" cy="389.7" r="1.75" fill="none" stroke="#555" stroke-width="0.7"/>
<circle cx="87.1" cy="386.6" r="1.75" fill="none" stroke="#555" stroke-width="0.7"/>
<circle cx="102.6" cy="383.5" r="1.75" fill="none" stroke="#555" stroke-width="0.7"/>
<circle cx="119.1" cy="384.8" r="1.75" fill="none" stroke="#555" stroke-width="0.7"/>
<circle cx="134.8" cy="390.6" r="1.75" fill="none" stroke="#555" stroke-width="0.7"/>
<circle cx="147.7" cy="388.8" r="1.75" fill="none" stroke="#555" stroke-width="0.7"/>
<circle cx="164.0" cy="385.3" r="1.75" fill="none" stroke="#555" stroke-width="0.7"/>
<circle cx="178.6" cy="389.3" r="1.75" fill="none" stroke="#555" stroke-width="0.7"/>
<circle cx="193.4" cy="391.5" r="1.75" fill="none" stroke="#555" stroke-width="0.7"/>
<circle cx="208.2" cy="390.4" r="1.75" fill="none" stroke="#555" stroke-width="0.7"/>
<circle cx="222.7" cy="385.9" r="1.75" fill="none" stroke="#555" stroke-width="0.7"/>
<circle cx="237.2" cy="388.6" r="1.75" fill="none" stroke="#555" stroke-width="0.7"/>
<circle cx="253.0" cy="393.9" r="1.75" fill="none" stroke="#555" stroke-width="0.7"/>
<circle cx="268.6" cy="380.6" r="1.75" fill="none" stroke="#555" stroke-width="0.7"/>
<circle cx="284.4" cy="393.7" r="1.75" fill="none" stroke="#555" stroke-width="0.7"/>
<circle cx="299.9" cy="400.3" r="1.75" fill="none" stroke="#555" stroke-width="0.7"/>
<circle cx="315.4" cy="399.0" r="1.75" fill="none" stroke="#555" stroke-width="0.7"/>
<circle cx="330.9" cy="393.5" r="1.75" fill="none" stroke="#555" stroke-width="0.7"/>
<circle cx="346.4" cy="392.8" r="1.75" fill="none" stroke="#555" stroke-width="0.7"/>
<circle cx="361.3" cy="400.3" r="1.75" fill="none" stroke="#555" stroke-width="0.7"/>
<circle cx="382.2" cy="397.9" r="1.75" fill="none" stroke="#555" stroke-width="0.7"/>
<circle cx="401.7" cy="379.5" r="1.75" fill="none" stroke="#555" stroke-width="0.7"/>
<circle cx="421.8" cy="392.8" r="1.75" fill="none" stroke="#555" stroke-width="0.7"/>
<circle cx="444.6" cy="401.7" r="1.75" fill="none" stroke="#555" stroke-width="0.7"/>
<circle cx="466.3" cy="400.6" r="1.75" fill="none" stroke="#555" stroke-width="0.7"/>
<circle cx="489.1" cy="406.3" r="1.75" fill="none" stroke="#555" stroke-width="0.7"/>
<path d="M53.5 375.9L57.7 380.1M53.5 380.1L57.7 375.9M55.6 383.4L59.8 387.6M55.6 387.6L59.8 383.4M57.7 392.8L61.9 397.0M57.7 397.0L61.9 392.8M59.8 396.1L64.0 400.3M59.8 400.3L64.0 396.1M61.9 397.4L66.1 401.6M61.9 401.6L66.1 397.4M64.0 395.7L68.2 399.9M64.0 399.9L68.2 395.7M66.0 395.4L70.2 399.6M66.0 399.6L70.2 395.4M68.1 397.6L72.3 401.8M68.1 401.8L72.3 397.6M70.2 396.1L74.4 400.3M70.2 400.3L74.4 396.1M72.3 396.0L76.5 400.2M72.3 400.2L76.5 396.0M74.4 398.0L78.6 402.2M74.4 402.2L78.6 398.0M76.5 396.6L80.7 400.8M76.5 400.8L80.7 396.6M78.6 397.6L82.8 401.8M78.6 401.8L82.8 397.6M80.7 396.6L84.9 400.8M80.7 400.8L84.9 396.6M82.8 396.8L87.0 401.0M82.8 401.0L87.0 396.8M84.9 394.6L89.1 398.8M84.9 398.8L89.1 394.6M86.9 393.8L91.1 398.0M86.9 398.0L91.1 393.8M89.0 388.7L93.2 392.9M89.0 392.9L93.2 388.7M91.1 378.3L95.3 382.5M91.1 382.5L95.3 378.3M93.2 371.6L97.4 375.8M93.2 375.8L97.4 371.6M95.3 369.5L99.5 373.7M95.3 373.7L99.5 369.5M97.4 365.9L101.6 370.1M97.4 370.1L101.6 365.9M99.5 366.6L103.7 370.8M99.5 370.8L103.7 366.6M101.6 365.3L105.8 369.5M101.6 369.5L105.8 365.3M103.7 364.8L107.9 369.0M103.7 369.0L107.9 364.8M105.8 364.8L110.0 369.0M105.8 369.0L110.0 364.8M107.9 367.7L112.1 371.9M107.9 371.9L112.1 367.7M109.9 368.0L114.1 372.2M109.9 372.2L114.1 368.0M112.0 369.8L116.2 374.0M112.0 374.0L116.2 369.8M114.1 371.3L118.3 375.5M114.1 375.5L118.3 371.3M116.2 371.5L120.4 375.7M116.2 375.7L120.4 371.5M118.3 372.8L122.5 377.0M118.3 377.0L122.5 372.8M120.4 372.1L124.6 376.3M120.4 376.3L124.6 372.1M122.5 376.9L126.7 381.1M122.5 381.1L126.7 376.9M124.6 379.7L128.8 383.9M124.6 383.9L128.8 379.7M126.7 381.2L130.9 385.4M126.7 385.4L130.9 381.2M128.8 380.4L133.0 384.6M128.8 384.6L133.0 380.4M130.9 378.1L135.1 382.3M130.9 382.3L135.1 378.1M132.9 378.2L137.1 382.4M132.9 382.4L137.1 378.2M135.0 379.6L139.2 383.8M135.0 383.8L139.2 379.6M137.1 384.2L141.3 388.4M137.1 388.4L141.3 384.2M139.2 385.4L143.4 389.6M139.2 389.6L143.4 385.4M141.3 388.6L145.5 392.8M141.3 392.8L145.5 388.6M143.4 390.1L147.6 394.3M143.4 394.3L147.6 390.1M145.5 388.5L149.7 392.7M145.5 392.7L149.7 388.5M147.6 386.0L151.8 390.2M147.6 390.2L151.8 386.0M149.7 378.9L153.9 383.1M149.7 383.1L153.9 378.9M151.8 373.2L156.0 377.4M151.8 377.4L156.0 373.2M153.8 371.1L158.0 375.3M153.8 375.3L158.0 371.1M155.9 370.0L160.1 374.2M155.9 374.2L160.1 370.0M158.0 367.4L162.2 371.6M158.0 371.6L162.2 367.4M160.1 366.1L164.3 370.3M160.1 370.3L164.3 366.1M162.2 364.0L166.4 368.2M162.2 368.2L166.4 364.0M164.3 362.8L168.5 367.0M164.3 367.0L168.5 362.8M166.4 362.2L170.6 366.4M166.4 366.4L170.6 362.2M168.5 361.1L172.7 365.3M168.5 365.3L172.7 361.1M170.6 364.0L174.8 368.2M170.6 368.2L174.8 364.0M172.7 366.4L176.9 370.6M172.7 370.6L176.9 366.4M174.8 368.3L179.0 372.5M174.8 372.5L179.0 368.3M176.8 369.0L181.0 373.2M176.8 373.2L181.0 369.0M178.9 370.8L183.1 375.0M178.9 375.0L183.1 370.8M181.0 370.8L185.2 375.0M181.0 375.0L185.2 370.8M183.1 373.8L187.3 378.0M183.1 378.0L187.3 373.8M185.2 374.5L189.4 378.7M185.2 378.7L189.4 374.5M187.3 375.2L191.5 379.4M187.3 379.4L191.5 375.2M189.4 376.1L193.6 380.3M189.4 380.3L193.6 376.1M191.5 379.8L195.7 384.0M191.5 384.0L195.7 379.8M193.6 381.8L197.8 386.0M193.6 386.0L197.8 381.8M195.7 385.7L199.9 389.9M195.7 389.9L199.9 385.7M197.7 390.0L201.9 394.2M197.7 394.2L201.9 390.0M199.8 390.1L204.0 394.3M199.8 394.3L204.0 390.1M201.9 389.5L206.1 393.7M201.9 393.7L206.1 389.5M204.0 389.3L208.2 393.5M204.0 393.5L208.2 389.3M206.1 390.1L210.3 394.3M206.1 394.3L210.3 390.1M208.2 377.4L212.4 381.6M208.2 381.6L212.4 377.4M210.3 371.4L214.5 375.6M210.3 375.6L214.5 371.4M212.4 370.4L216.6 374.6M212.4 374.6L216.6 370.4M214.5 366.5L218.7 370.7M214.5 370.7L218.7 366.5M216.6 366.9L220.8 371.1M216.6 371.1L220.8 366.9M218.7 364.4L222.9 368.6M218.7 368.6L222.9 364.4M220.7 364.4L224.9 368.6M220.7 368.6L224.9 364.4M222.8 365.7L227.0 369.9M222.8 369.9L227.0 365.7M224.9 365.9L229.1 370.1M224.9 370.1L229.1 365.9M227.0 368.6L231.2 372.8M227.0 372.8L231.2 368.6M229.1 369.5L233.3 373.7M229.1 373.7L233.3 369.5M231.2 372.7L235.4 376.9M231.2 376.9L235.4 372.7M233.3 377.9L237.5 382.1M233.3 382.1L237.5 377.9M235.4 382.2L239.6 386.4M235.4 386.4L239.6 382.2M237.5 396.1L241.7 400.3M237.5 400.3L241.7 396.1M239.6 400.7L243.8 404.9M239.6 404.9L243.8 400.7M241.7 401.9L245.9 406.1M241.7 406.1L245.9 401.9M243.7 401.4L247.9 405.6M243.7 405.6L247.9 401.4M245.8 401.8L250.0 406.0M245.8 406.0L250.0 401.8M247.9 404.3L252.1 408.5M247.9 408.5L252.1 404.3M250.0 403.2L254.2 407.4M250.0 407.4L254.2 403.2M252.1 405.1L256.3 409.3M252.1 409.3L256.3 405.1M254.2 405.2L258.4 409.4M254.2 409.4L258.4 405.2M256.3 404.7L260.5 408.9M256.3 408.9L260.5 404.7M258.4 405.8L262.6 410.0M258.4 410.0L262.6 405.8M260.5 406.8L264.7 411.0M260.5 411.0L264.7 406.8M262.6 406.8L266.8 411.0M262.6 411.0L266.8 406.8M264.6 405.7L268.8 409.9M264.6 409.9L268.8 405.7M266.7 404.5L270.9 408.7M266.7 408.7L270.9 404.5M268.8 402.1L273.0 406.3M268.8 406.3L273.0 402.1M270.9 383.6L275.1 387.8M270.9 387.8L275.1 383.6M273.0 371.6L277.2 375.8M273.0 375.8L277.2 371.6M275.1 369.0L279.3 373.2M275.1 373.2L279.3 369.0M277.2 367.8L281.4 372.0M277.2 372.0L281.4 367.8M279.3 365.1L283.5 369.3M279.3 369.3L283.5 365.1M281.4 363.8L285.6 368.0M281.4 368.0L285.6 363.8M283.5 366.8L287.7 371.0M283.5 371.0L287.7 366.8M285.6 366.8L289.8 371.0M285.6 371.0L289.8 366.8M287.6 368.2L291.8 372.4M287.6 372.4L291.8 368.2M289.7 368.8L293.9 373.0M289.7 373.0L293.9 368.8M291.8 371.9L296.0 376.1M291.8 376.1L296.0 371.9M293.9 375.8L298.1 380.0M293.9 380.0L298.1 375.8M296.0 378.1L300.2 382.3M296.0 382.3L300.2 378.1M298.1 381.7L302.3 385.9M298.1 385.9L302.3 381.7M300.2 382.9L304.4 387.1M300.2 387.1L304.4 382.9M302.3 382.6L306.5 386.8M302.3 386.8L306.5 382.6M304.4 386.1L308.6 390.3M304.4 390.3L308.6 386.1M306.5 387.7L310.7 391.9M306.5 391.9L310.7 387.7M308.5 390.0L312.7 394.2M308.5 394.2L312.7 390.0M310.6 390.1L314.8 394.3M310.6 394.3L314.8 390.1M312.7 391.9L316.9 396.1M312.7 396.1L316.9 391.9M314.8 392.3L319.0 396.5M314.8 396.5L319.0 392.3M316.9 390.1L321.1 394.3M316.9 394.3L321.1 390.1M319.0 389.8L323.2 394.0M319.0 394.0L323.2 389.8M321.1 391.4L325.3 395.6M321.1 395.6L325.3 391.4M323.2 393.3L327.4 397.5M323.2 397.5L327.4 393.3M325.3 390.6L329.5 394.8M325.3 394.8L329.5 390.6M327.4 388.3L331.6 392.5M327.4 392.5L331.6 388.3M329.5 373.6L333.7 377.8M329.5 377.8L333.7 373.6M331.5 371.5L335.7 375.7M331.5 375.7L335.7 371.5M333.6 370.3L337.8 374.5M333.6 374.5L337.8 370.3M335.7 368.7L339.9 372.9M335.7 372.9L339.9 368.7M337.8 367.4L342.0 371.6M337.8 371.6L342.0 367.4M339.9 366.6L344.1 370.8M339.9 370.8L344.1 366.6M342.0 365.6L346.2 369.8M342.0 369.8L346.2 365.6M344.1 367.4L348.3 371.6M344.1 371.6L348.3 367.4M346.2 371.3L350.4 375.5M346.2 375.5L350.4 371.3M348.3 373.0L352.5 377.2M348.3 377.2L352.5 373.0M350.4 378.5L354.6 382.7M350.4 382.7L354.6 378.5M352.5 382.0L356.7 386.2M352.5 386.2L356.7 382.0M354.5 385.4L358.7 389.6M354.5 389.6L358.7 385.4M356.6 391.7L360.8 395.9M356.6 395.9L360.8 391.7M358.7 397.9L362.9 402.1M358.7 402.1L362.9 397.9M360.8 400.3L365.0 404.5M360.8 404.5L365.0 400.3M362.9 403.7L367.1 407.9M362.9 407.9L367.1 403.7M365.0 405.7L369.2 409.9M365.0 409.9L369.2 405.7M367.1 407.7L371.3 411.9M367.1 411.9L371.3 407.7M369.2 406.8L373.4 411.0M369.2 411.0L373.4 406.8M371.3 407.9L375.5 412.1M371.3 412.1L375.5 407.9M373.4 408.3L377.6 412.5M373.4 412.5L377.6 408.3M375.4 409.9L379.6 414.1M375.4 414.1L379.6 409.9M377.5 409.2L381.7 413.4M377.5 413.4L381.7 409.2M379.6 410.5L383.8 414.7M379.6 414.7L383.8 410.5M381.7 408.7L385.9 412.9M381.7 412.9L385.9 408.7M383.8 408.4L388.0 412.6M383.8 412.6L388.0 408.4M385.9 405.4L390.1 409.6M385.9 409.6L390.1 405.4M388.0 397.5L392.2 401.7M388.0 401.7L392.2 397.5M390.1 385.7L394.3 389.9M390.1 389.9L394.3 385.7M392.2 372.2L396.4 376.4M392.2 376.4L396.4 372.2M394.3 371.0L398.5 375.2M394.3 375.2L398.5 371.0M396.4 371.2L400.6 375.4M396.4 375.4L400.6 371.2M398.4 369.4L402.6 373.6M398.4 373.6L402.6 369.4M400.5 372.5L404.7 376.7M400.5 376.7L404.7 372.5M402.6 374.3L406.8 378.5M402.6 378.5L406.8 374.3M404.7 374.2L408.9 378.4M404.7 378.4L408.9 374.2M406.8 375.8L411.0 380.0M406.8 380.0L411.0 375.8M408.9 378.5L413.1 382.7M408.9 382.7L413.1 378.5M411.0 379.5L415.2 383.7M411.0 383.7L415.2 379.5M413.1 382.5L417.3 386.7M413.1 386.7L417.3 382.5M415.2 383.9L419.4 388.1M415.2 388.1L419.4 383.9M417.3 386.0L421.5 390.2M417.3 390.2L421.5 386.0M419.3 389.0L423.5 393.2M419.3 393.2L423.5 389.0M421.4 392.2L425.6 396.4M421.4 396.4L425.6 392.2M423.5 392.2L427.7 396.4M423.5 396.4L427.7 392.2M425.6 393.7L429.8 397.9M425.6 397.9L429.8 393.7M427.7 395.2L431.9 399.4M427.7 399.4L431.9 395.2M429.8 396.4L434.0 400.6M429.8 400.6L434.0 396.4M431.9 397.0L436.1 401.2M431.9 401.2L436.1 397.0M434.0 398.9L438.2 403.1M434.0 403.1L438.2 398.9M436.1 397.5L440.3 401.7M436.1 401.7L440.3 397.5M438.2 397.9L442.4 402.1M438.2 402.1L442.4 397.9M440.3 399.7L444.5 403.9M440.3 403.9L444.5 399.7M442.3 397.6L446.5 401.8M442.3 401.8L446.5 397.6M444.4 384.8L448.6 389.0M444.4 389.0L448.6 384.8M446.5 378.1L450.7 382.3M446.5 382.3L450.7 378.1M448.6 376.8L452.8 381.0M448.6 381.0L452.8 376.8M450.7 375.2L454.9 379.4M450.7 379.4L454.9 375.2M452.8 373.0L457.0 377.2M452.8 377.2L457.0 373.0M454.9 374.1L459.1 378.3M454.9 378.3L459.1 374.1M457.0 375.4L461.2 379.6M457.0 379.6L461.2 375.4M459.1 376.0L463.3 380.2M459.1 380.2L463.3 376.0M461.2 376.9L465.4 381.1M461.2 381.1L465.4 376.9M463.2 377.5L467.4 381.7M463.2 381.7L467.4 377.5M465.3 378.9L469.5 383.1M465.3 383.1L469.5 378.9M467.4 381.2L471.6 385.4M467.4 385.4L471.6 381.2M469.5 383.4L473.7 387.6M469.5 387.6L473.7 383.4M471.6 387.3L475.8 391.5M471.6 391.5L475.8 387.3M473.7 389.2L477.9 393.4M473.7 393.4L477.9 389.2M475.8 392.8L480.0 397.0M475.8 397.0L480.0 392.8M477.9 392.9L482.1 397.1M477.9 397.1L482.1 392.9M480.0 397.3L484.2 401.5M480.0 401.5L484.2 397.3M482.1 399.1L486.3 403.3M482.1 403.3L486.3 399.1M484.2 402.2L488.4 406.4M484.2 406.4L488.4 402.2" stroke="#8c8c8c" stroke-width="0.55" fill="none"/>
<path d="M54.3 392.7H57.5M55.9 391.1V394.3M56.9 397.1H60.1M58.5 395.5V398.7M59.5 398.7H62.7M61.1 397.1V400.3M62.1 398.0H65.3M63.7 396.4V399.6M64.8 399.9H68.0M66.4 398.3V401.5M67.4 399.0H70.6M69.0 397.4V400.6M70.0 399.2H73.2M71.6 397.6V400.8M72.6 400.0H75.8M74.2 398.4V401.6M75.2 399.7H78.4M76.8 398.1V401.3M77.8 399.5H81.0M79.4 397.9V401.1M80.4 400.5H83.6M82.0 398.9V402.1M83.0 399.9H86.2M84.6 398.3V401.5M85.7 397.8H88.9M87.3 396.2V399.4M88.3 394.5H91.5M89.9 392.9V396.1M90.9 386.2H94.1M92.5 384.6V387.8M93.5 374.7H96.7M95.1 373.1V376.3M96.1 372.1H99.3M97.7 370.5V373.7M98.7 368.9H101.9M100.3 367.3V370.5M101.3 367.4H104.5M102.9 365.8V369.0M104.0 367.7H107.2M105.6 366.1V369.3M106.6 369.2H109.8M108.2 367.6V370.8M109.2 368.9H112.4M110.8 367.3V370.5M111.8 371.7H115.0M113.4 370.1V373.3M114.4 373.5H117.6M116.0 371.9V375.1M117.0 374.1H120.2M118.6 372.5V375.7M119.6 375.0H122.8M121.2 373.4V376.6M122.2 375.7H125.4M123.8 374.1V377.3M124.9 381.6H128.1M126.5 380.0V383.2M127.5 383.3H130.7M129.1 381.7V384.9M130.1 380.9H133.3M131.7 379.3V382.5M132.7 381.2H135.9M134.3 379.6V382.8M135.3 381.7H138.5M136.9 380.1V383.3M137.9 385.5H141.1M139.5 383.9V387.1M140.5 388.6H143.7M142.1 387.0V390.2M143.1 392.0H146.3M144.7 390.4V393.6M145.8 392.0H149.0M147.4 390.4V393.6M148.4 387.8H151.6M150.0 386.2V389.4M151.0 378.9H154.2M152.6 377.3V380.5M153.6 373.7H156.8M155.2 372.1V375.3M156.2 371.2H159.4M157.8 369.6V372.8M158.8 368.6H162.0M160.4 367.0V370.2M161.4 368.0H164.6M163.0 366.4V369.6M164.1 365.3H167.3M165.7 363.7V366.9M166.7 363.4H169.9M168.3 361.8V365.0M169.3 364.5H172.5M170.9 362.9V366.1M171.9 365.7H175.1M173.5 364.1V367.3M174.5 368.3H177.7M176.1 366.7V369.9M177.1 370.7H180.3M178.7 369.1V372.3M179.7 373.0H182.9M181.3 371.4V374.6M182.3 374.6H185.5M183.9 373.0V376.2M185.0 375.9H188.2M186.6 374.3V377.5M187.6 377.3H190.8M189.2 375.7V378.9M190.2 379.3H193.4M191.8 377.7V380.9M192.8 381.0H196.0M194.4 379.4V382.6M195.4 383.9H198.6M197.0 382.3V385.5M198.0 391.9H201.2M199.6 390.3V393.5M200.6 392.6H203.8M202.2 391.0V394.2M203.3 391.9H206.5M204.9 390.3V393.5M205.9 391.5H209.1M207.5 389.9V393.1M208.5 381.9H211.7M210.1 380.3V383.5M211.1 375.3H214.3M212.7 373.7V376.9M213.7 372.5H216.9M215.3 370.9V374.1M216.3 369.3H219.5M217.9 367.7V370.9M218.9 368.3H222.1M220.5 366.7V369.9M221.5 366.2H224.7M223.1 364.6V367.8M224.2 367.2H227.4M225.8 365.6V368.8M226.8 368.8H230.0M228.4 367.2V370.4M229.4 371.6H232.6M231.0 370.0V373.2M232.0 376.7H235.2M233.6 375.1V378.3M234.6 381.2H237.8M236.2 379.6V382.8M237.2 392.8H240.4M238.8 391.2V394.4M239.8 402.8H243.0M241.4 401.2V404.4M242.5 403.6H245.7M244.1 402.0V405.2M245.1 405.1H248.3M246.7 403.5V406.7M247.7 406.1H250.9M249.3 404.5V407.7M250.3 405.2H253.5M251.9 403.6V406.8M252.9 406.3H256.1M254.5 404.7V407.9M255.5 406.7H258.7M257.1 405.1V408.3M258.1 408.7H261.3M259.7 407.1V410.3M260.7 409.9H263.9M262.3 408.3V411.5M263.4 408.7H266.6M265.0 407.1V410.3M266.0 408.4H269.2M267.6 406.8V410.0M268.6 406.3H271.8M270.2 404.7V407.9M271.2 393.5H274.4M272.8 391.9V395.1M273.8 374.0H277.0M275.4 372.4V375.6M276.4 370.3H279.6M278.0 368.7V371.9M279.0 369.6H282.2M280.6 368.0V371.2M281.6 367.5H284.8M283.2 365.9V369.1M284.3 368.8H287.5M285.9 367.2V370.4M286.9 370.2H290.1M288.5 368.6V371.8M289.5 371.9H292.7M291.1 370.3V373.5M292.1 374.5H295.3M293.7 372.9V376.1M294.7 378.2H297.9M296.3 376.6V379.8M297.3 382.0H300.5M298.9 380.4V383.6M299.9 384.6H303.1M301.5 383.0V386.2M302.6 385.0H305.8M304.2 383.4V386.6M305.2 387.5H308.4M306.8 385.9V389.1M307.8 391.3H311.0M309.4 389.7V392.9M310.4 391.6H313.6M312.0 390.0V393.2M313.0 392.8H316.2M314.6 391.2V394.4M315.6 393.3H318.8M317.2 391.7V394.9M318.2 394.5H321.4M319.8 392.9V396.1M320.8 392.7H324.0M322.4 391.1V394.3M323.5 393.4H326.7M325.1 391.8V395.0M326.1 394.4H329.3M327.7 392.8V396.0M328.7 386.1H331.9M330.3 384.5V387.7M331.3 375.9H334.5M332.9 374.3V377.5M333.9 373.8H337.1M335.5 372.2V375.4M336.5 372.4H339.7M338.1 370.8V374.0M339.1 370.8H342.3M340.7 369.2V372.4M341.8 368.3H345.0M343.4 366.7V369.9M344.4 370.4H347.6M346.0 368.8V372.0M347.0 372.2H350.2M348.6 370.6V373.8M349.6 378.2H352.8M351.2 376.6V379.8M352.2 382.6H355.4M353.8 381.0V384.2M354.8 387.0H358.0M356.4 385.4V388.6M357.4 394.1H360.6M359.0 392.5V395.7M360.0 401.2H363.2M361.6 399.6V402.8M362.7 406.2H365.9M364.3 404.6V407.8M365.3 407.1H368.5M366.9 405.5V408.7M367.9 409.3H371.1M369.5 407.7V410.9M370.5 410.6H373.7M372.1 409.0V412.2M373.1 411.7H376.3M374.7 410.1V413.3M375.7 410.9H378.9M377.3 409.3V412.5M378.3 411.2H381.5M379.9 409.6V412.8M380.9 411.5H384.2M382.6 409.9V413.1M383.6 412.3H386.8M385.2 410.7V413.9M386.2 408.9H389.4M387.8 407.3V410.5M388.8 398.8H392.0M390.4 397.2V400.4M391.4 384.8H394.6M393.0 383.2V386.4M394.0 374.5H397.2M395.6 372.9V376.1M396.6 372.5H399.8M398.2 370.9V374.1M399.2 370.8H402.4M400.8 369.2V372.4M401.9 373.3H405.1M403.5 371.7V374.9M404.5 384.8H407.7M406.1 383.2V386.4M407.1 400.6H410.3M408.7 399.0V402.2M409.7 399.6H412.9M411.3 398.0V401.2M412.3 400.4H415.5M413.9 398.8V402.0M414.9 399.3H418.1M416.5 397.7V400.9M417.5 398.6H420.7M419.1 397.0V400.2M420.1 395.0H423.3M421.7 393.4V396.6M422.8 394.6H426.0M424.4 393.0V396.2M425.4 396.0H428.6M427.0 394.4V397.6M428.0 397.5H431.2M429.6 395.9V399.1M430.6 399.4H433.8M432.2 397.8V401.0M433.2 400.6H436.4M434.8 399.0V402.2M435.8 399.9H439.0M437.4 398.3V401.5M438.4 400.7H441.6M440.0 399.1V402.3M441.1 401.5H444.3M442.7 399.9V403.1M443.7 396.8H446.9M445.3 395.2V398.4M446.3 383.4H449.5M447.9 381.8V385.0M448.9 378.5H452.1M450.5 376.9V380.1M451.5 377.0H454.7M453.1 375.4V378.6M454.1 375.1H457.3M455.7 373.5V376.7M456.7 375.7H459.9M458.3 374.1V377.3M459.3 378.0H462.5M460.9 376.4V379.6M462.0 385.0H465.2M463.6 383.4V386.6M464.6 390.4H467.8M466.2 388.8V392.0M467.2 400.7H470.4M468.8 399.1V402.3M469.8 401.6H473.0M471.4 400.0V403.2M472.4 402.1H475.6M474.0 400.5V403.7M475.0 393.5H478.2M476.6 391.9V395.1M477.6 396.0H480.8M479.2 394.4V397.6M480.3 398.0H483.5M481.9 396.4V399.6M482.9 401.8H486.1M484.5 400.2V403.4M485.5 404.4H488.7M487.1 402.8V406.0" stroke="#2a2a2a" stroke-width="0.6" fill="none"/>
<line x1="94.7" y1="364.9" x2="116.0" y2="364.9" stroke="#3a3a3a" stroke-width="0.7"/>
<line x1="105.4" y1="354.7" x2="105.4" y2="357.9" stroke="#000" stroke-width="0.7"/>
<path d="M102.8 357.5L108.0 357.5L105.4 363.2Z" fill="#000"/>
<line x1="156.9" y1="361.1" x2="177.5" y2="361.1" stroke="#3a3a3a" stroke-width="0.7"/>
<line x1="166.4" y1="350.9" x2="166.4" y2="354.1" stroke="#000" stroke-width="0.7"/>
<path d="M163.8 353.7L169.0 353.7L166.4 359.4Z" fill="#000"/>
<line x1="212.9" y1="363.1" x2="234.1" y2="363.1" stroke="#3a3a3a" stroke-width="0.7"/>
<line x1="223.1" y1="352.9" x2="223.1" y2="356.1" stroke="#000" stroke-width="0.7"/>
<path d="M220.5 355.7L225.7 355.7L223.1 361.4Z" fill="#000"/>
<line x1="273.0" y1="365.8" x2="293.5" y2="365.8" stroke="#3a3a3a" stroke-width="0.7"/>
<line x1="282.8" y1="355.6" x2="282.8" y2="358.8" stroke="#000" stroke-width="0.7"/>
<path d="M280.2 358.4L285.4 358.4L282.8 364.1Z" fill="#000"/>
<line x1="331.9" y1="365.3" x2="350.9" y2="365.3" stroke="#3a3a3a" stroke-width="0.7"/>
<line x1="341.5" y1="355.1" x2="341.5" y2="358.3" stroke="#000" stroke-width="0.7"/>
<path d="M338.9 357.9L344.1 357.9L341.5 363.6Z" fill="#000"/>
<line x1="391.5" y1="370.0" x2="411.0" y2="370.0" stroke="#3a3a3a" stroke-width="0.7"/>
<line x1="400.7" y1="359.8" x2="400.7" y2="363.0" stroke="#000" stroke-width="0.7"/>
<path d="M398.1 362.6L403.3 362.6L400.7 368.3Z" fill="#000"/>
<line x1="446.3" y1="372.2" x2="466.8" y2="372.2" stroke="#3a3a3a" stroke-width="0.7"/>
<line x1="456.5" y1="362.0" x2="456.5" y2="365.2" stroke="#000" stroke-width="0.7"/>
<path d="M453.9 364.8L459.1 364.8L456.5 370.5Z" fill="#000"/>
<g font-family="'Liberation Sans', sans-serif" font-size="8.4" fill="#222">
<path d="M162 341.6l4.2 4.2M162 345.8l4.2 -4.2" stroke="#888" stroke-width="0.7"/>
<text x="167.8" y="346.8">Pleiades</text>
<path d="M210.5 343.90000000000003h3.4M212.2 342.2v3.4" stroke="#333" stroke-width="0.7"/>
<text x="215" y="346.8">WorldView-2</text>
<circle cx="276" cy="343.90000000000003" r="1.7" fill="none" stroke="#555" stroke-width="0.7"/>
<text x="280.2" y="346.8">TanDEM-X</text>
<path d="M331.6 343.90000000000003h3.6" stroke="#333" stroke-width="1"/>
<text x="336.4" y="346.8">PlanetScope</text>
<path d="M397.5 347.0h8.5" stroke="#555" stroke-width="0.8"/><path d="M401.7 334.8v4" stroke="#000" stroke-width="0.8"/><path d="M399.2 338.5h5l-2.5 5.6z" fill="#000"/>
<text x="407.5" y="346.8">Building footprint</text>
</g>
<g font-family="'Liberation Sans', sans-serif" font-size="8.6" fill="#333" text-anchor="end">
<text x="48" y="452.2">755</text>
<text x="48" y="441.1">760</text>
<text x="48" y="430.0">765</text>
<text x="48" y="418.9">770</text>
<text x="48" y="407.9">775</text>
<text x="48" y="396.8">780</text>
<text x="48" y="385.7">785</text>
<text x="48" y="374.6">790</text>
<text x="48" y="363.6">795</text>
<text x="48" y="352.5">800</text>
</g>
<g font-family="'Liberation Sans', sans-serif" font-size="8.9" fill="#333" text-anchor="middle">
<text x="55.6" y="463.2">0</text>
<text x="120.9" y="463.2">50</text>
<text x="186.3" y="463.2">100</text>
<text x="251.6" y="463.2">150</text>
<text x="316.9" y="463.2">200</text>
<text x="382.2" y="463.2">250</text>
<text x="447.6" y="463.2">300</text>
<text x="512.9" y="463.2">350</text>
</g>
<text x="284" y="475.8" text-anchor="middle" font-family="'Liberation Sans', sans-serif" font-size="9" fill="#333">Profile distance (m)</text>
<text transform="translate(30.6,399) rotate(-90)" text-anchor="middle" font-family="'Liberation Sans', sans-serif" font-size="9" fill="#333">Elevation (m)</text>
<text x="18.5" y="342.5" font-family="'Liberation Sans', sans-serif" font-size="10.5" fill="#333">(c)</text>
</svg>
</body></html>
